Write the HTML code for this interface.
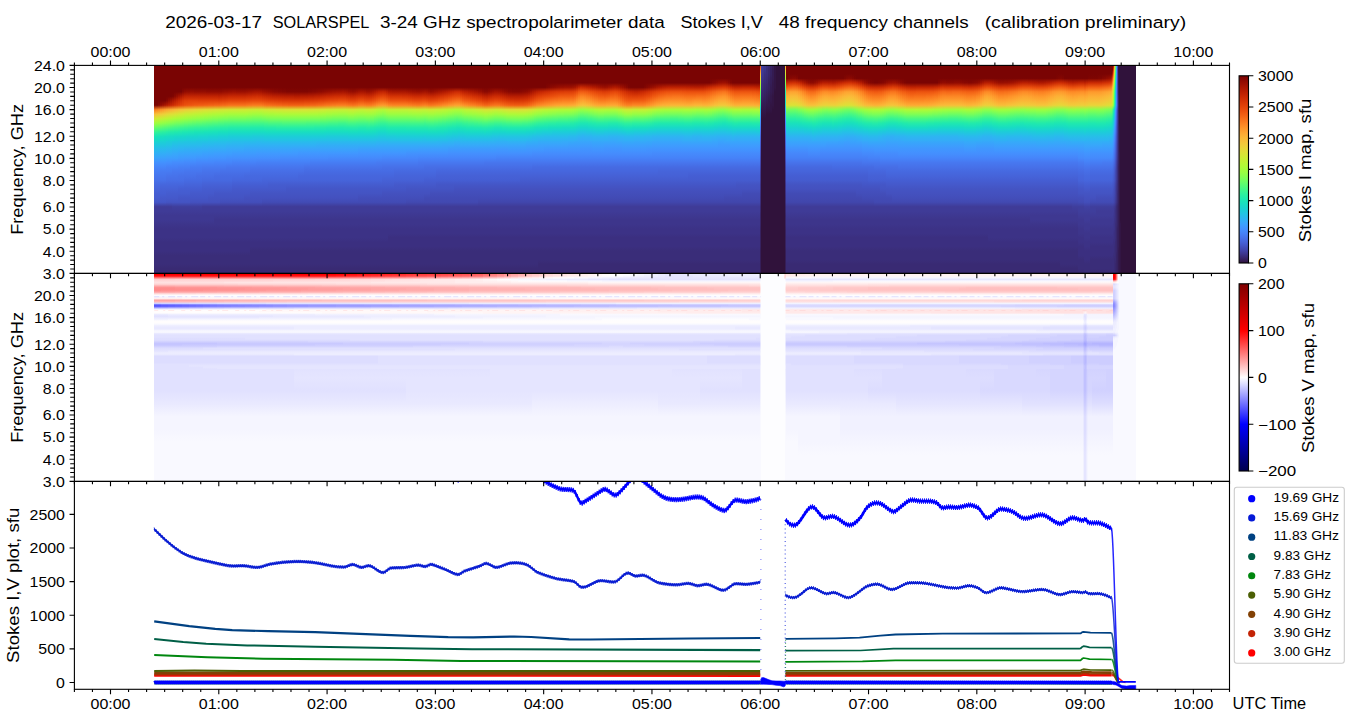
<!DOCTYPE html><html><head><meta charset="utf-8"><title>SOLARSPEL</title><style>html,body{margin:0;padding:0;background:#fff}#p{position:relative;width:1350px;height:725px;overflow:hidden;background:#fff}#p i{position:absolute}.a{top:65.4px;height:75.23px}.c{top:136.21px;height:137.19px}.b{top:273.4px;height:96px}.d{top:365.4px;height:116px}</style></head><body><div id="p"><i class="c" style="left:154px;width:6px;background:linear-gradient(#19e3b9,#18d7ca,#1fc9dd,#28bceb,#31aff5,#3aa3fc,#4391fe,#4685fa,#467df4,#4776ee,#4771e9,#4669e0,#4664da,#455ed3,#455ccf,#4456c7,#3f3b97,#3f3b97,#3e3891,#3e3891,#3d358b,#3c3286,#3c3286,#3c3286,#3b2f80,#3b2f80,#3b2f80,#3a2d79,#3a2d79,#3a2d79,#392a73,#392a73)"></i><i class="c" style="left:160px;width:6px;background:linear-gradient(#18e0bd,#1ad4d0,#20c7df,#2ab9ee,#33adf7,#3ba0fd,#4391fe,#4685fa,#477bf2,#4776ee,#4771e9,#4666dd,#4661d6,#455ed3,#4559cb,#4456c7,#3f3b97,#3f3b97,#3e3891,#3e3891,#3d358b,#3c3286,#3c3286,#3c3286,#3b2f80,#3b2f80,#3b2f80,#3a2d79,#3a2d79,#3a2d79,#392a73,#392a73)"></i><i class="c" style="left:166px;width:6px;background:linear-gradient(#18ddc2,#1bd0d5,#22c5e2,#2cb7f0,#35abf8,#3d9efe,#448ffe,#4682f8,#477bf2,#4773eb,#476ee6,#4666dd,#4661d6,#455ccf,#4559cb,#4454c3,#3f3b97,#3f3b97,#3e3891,#3e3891,#3d358b,#3c3286,#3c3286,#3c3286,#3b2f80,#3b2f80,#3b2f80,#3a2d79,#3a2d79,#3a2d79,#392a73,#392a73)"></i><i class="c" style="left:172px;width:6px;background:linear-gradient(#18d9c8,#1ccdd8,#25c0e7,#2eb4f2,#37a8fa,#3d9efe,#458cfd,#4682f8,#4778f0,#4773eb,#476ee6,#4666dd,#4661d6,#455ccf,#4559cb,#4454c3,#3f3e9c,#3f3b97,#3e3891,#3e3891,#3d358b,#3c3286,#3c3286,#3c3286,#3b2f80,#3b2f80,#3b2f80,#3a2d79,#3a2d79,#3a2d79,#392a73,#392a73)"></i><i class="c" style="left:178px;width:6px;background:linear-gradient(#18d7ca,#1ecbda,#27bee9,#2fb2f4,#38a5fb,#3e9bfe,#458cfd,#4680f6,#4778f0,#4771e9,#476ee6,#4666dd,#455ed3,#455ccf,#4456c7,#4454c3,#3f3e9c,#3f3b97,#3e3891,#3e3891,#3d358b,#3c3286,#3c3286,#3c3286,#3b2f80,#3b2f80,#3b2f80,#3a2d79,#3a2d79,#3a2d79,#392a73,#392a73)"></i><i class="c" style="left:184px;width:6px;background:linear-gradient(#18d7ca,#1fc9dd,#27bee9,#31aff5,#38a5fb,#4099ff,#458afc,#4680f6,#4776ee,#4771e9,#466be3,#4664da,#455ed3,#455ccf,#4456c7,#4454c3,#3f3e9c,#3f3b97,#3e3891,#3e3891,#3d358b,#3c3286,#3c3286,#3c3286,#3b2f80,#3b2f80,#3b2f80,#3a2d79,#3a2d79,#3a2d79,#392a73,#392a73)"></i><i class="c" style="left:190px;width:6px;background:linear-gradient(#19d5cd,#1fc9dd,#28bceb,#31aff5,#3aa3fc,#4099ff,#458afc,#467df4,#4776ee,#4771e9,#466be3,#4664da,#455ed3,#4559cb,#4456c7,#4451bf,#3f3e9c,#3f3b97,#3e3891,#3e3891,#3d358b,#3c3286,#3c3286,#3c3286,#3b2f80,#3b2f80,#3b2f80,#3a2d79,#3a2d79,#3a2d79,#392a73,#392a73)"></i><i class="c" style="left:196px;width:6px;background:linear-gradient(#1ad4d0,#20c7df,#28bceb,#33adf7,#3aa3fc,#4196ff,#4687fb,#467df4,#4776ee,#476ee6,#466be3,#4664da,#455ed3,#4559cb,#4456c7,#4451bf,#3f3e9c,#3f3b97,#3e3891,#3e3891,#3d358b,#3c3286,#3c3286,#3c3286,#3b2f80,#3b2f80,#3b2f80,#3a2d79,#3a2d79,#3a2d79,#392a73,#392a73)"></i><i class="c" style="left:202px;width:6px;background:linear-gradient(#1ad4d0,#20c7df,#2ab9ee,#33adf7,#3ba0fd,#4196ff,#4687fb,#477bf2,#4773eb,#476ee6,#4669e0,#4661d6,#455ccf,#4559cb,#4456c7,#4451bf,#3f3b97,#3f3b97,#3e3891,#3e3891,#3d358b,#3c3286,#3c3286,#3c3286,#3b2f80,#3b2f80,#3b2f80,#3a2d79,#3a2d79,#3a2d79,#392a73,#392a73)"></i><i class="c" style="left:208px;width:6px;background:linear-gradient(#1ad2d2,#22c5e2,#2ab9ee,#35abf8,#3ba0fd,#4294ff,#4687fb,#477bf2,#4773eb,#476ee6,#4669e0,#4661d6,#455ccf,#4559cb,#4454c3,#4451bf,#3f3b97,#3f3b97,#3e3891,#3e3891,#3d358b,#3c3286,#3c3286,#3c3286,#3b2f80,#3b2f80,#3b2f80,#3a2d79,#3a2d79,#3a2d79,#392a73,#392a73)"></i><i class="c" style="left:214px;width:6px;background:linear-gradient(#1ad2d2,#22c5e2,#2cb7f0,#35abf8,#3d9efe,#4294ff,#4685fa,#477bf2,#4773eb,#466be3,#4669e0,#4661d6,#455ccf,#4456c7,#4454c3,#4451bf,#3f3b97,#3f3b97,#3e3891,#3d358b,#3d358b,#3c3286,#3c3286,#3c3286,#3b2f80,#3b2f80,#3b2f80,#3a2d79,#3a2d79,#3a2d79,#392a73,#392a73)"></i><i class="c" style="left:220px;width:6px;background:linear-gradient(#1bd0d5,#23c3e4,#2cb7f0,#35abf8,#3d9efe,#4294ff,#4685fa,#477bf2,#4771e9,#466be3,#4669e0,#4661d6,#455ccf,#4456c7,#4454c3,#434eba,#3f3b97,#3f3b97,#3e3891,#3d358b,#3d358b,#3c3286,#3c3286,#3c3286,#3b2f80,#3b2f80,#3b2f80,#3a2d79,#3a2d79,#3a2d79,#392a73,#392a73)"></i><i class="c" style="left:226px;width:6px;background:linear-gradient(#1ccdd8,#23c3e4,#2eb4f2,#37a8fa,#3d9efe,#4391fe,#4685fa,#4778f0,#4771e9,#466be3,#4669e0,#4661d6,#455ccf,#4456c7,#4454c3,#434eba,#3f3b97,#3f3b97,#3e3891,#3d358b,#3d358b,#3c3286,#3c3286,#3c3286,#3b2f80,#3b2f80,#3b2f80,#3a2d79,#3a2d79,#3a2d79,#392a73,#392a73)"></i><i class="c" style="left:232px;width:6px;background:linear-gradient(#1ccdd8,#25c0e7,#2eb4f2,#37a8fa,#3e9bfe,#4391fe,#4682f8,#4778f0,#4771e9,#466be3,#4666dd,#455ed3,#4559cb,#4456c7,#4454c3,#434eba,#3f3b97,#3f3b97,#3e3891,#3d358b,#3d358b,#3c3286,#3c3286,#3c3286,#3b2f80,#3b2f80,#3b2f80,#3a2d79,#3a2d79,#3a2d79,#392a73,#392a73)"></i><i class="c" style="left:238px;width:6px;background:linear-gradient(#1ccdd8,#25c0e7,#2eb4f2,#37a8fa,#3e9bfe,#4391fe,#4682f8,#4778f0,#4771e9,#466be3,#4666dd,#455ed3,#4559cb,#4456c7,#4454c3,#434eba,#3f3b97,#3f3b97,#3e3891,#3d358b,#3d358b,#3c3286,#3c3286,#3c3286,#3b2f80,#3b2f80,#3b2f80,#3a2d79,#3a2d79,#3a2d79,#392a73,#392a73)"></i><i class="c" style="left:244px;width:6px;background:linear-gradient(#1ccdd8,#25c0e7,#2fb2f4,#38a5fb,#3e9bfe,#4391fe,#4682f8,#4778f0,#4771e9,#4669e0,#4666dd,#455ed3,#4559cb,#4456c7,#4451bf,#434eba,#3f3b97,#3f3b97,#3e3891,#3d358b,#3d358b,#3c3286,#3c3286,#3c3286,#3b2f80,#3b2f80,#3b2f80,#3a2d79,#3a2d79,#3a2d79,#392a73,#392a73)"></i><i class="c" style="left:250px;width:6px;background:linear-gradient(#1ecbda,#25c0e7,#2fb2f4,#38a5fb,#3e9bfe,#448ffe,#4682f8,#4776ee,#476ee6,#4669e0,#4666dd,#455ed3,#4559cb,#4454c3,#4451bf,#434eba,#3f3b97,#3f3b97,#3e3891,#3d358b,#3d358b,#3c3286,#3c3286,#3c3286,#3b2f80,#3b2f80,#3a2d79,#3a2d79,#3a2d79,#3a2d79,#392a73,#392a73)"></i><i class="c" style="left:256px;width:6px;background:linear-gradient(#1ecbda,#27bee9,#2fb2f4,#38a5fb,#4099ff,#448ffe,#4680f6,#4776ee,#476ee6,#4669e0,#4666dd,#455ed3,#4559cb,#4454c3,#4451bf,#434eba,#3f3b97,#3f3b97,#3e3891,#3d358b,#3d358b,#3c3286,#3c3286,#3c3286,#3b2f80,#3b2f80,#3a2d79,#3a2d79,#3a2d79,#3a2d79,#392a73,#392a73)"></i><i class="c" style="left:262px;width:6px;background:linear-gradient(#1ccdd8,#25c0e7,#2fb2f4,#38a5fb,#4099ff,#448ffe,#4680f6,#4776ee,#476ee6,#4669e0,#4664da,#455ed3,#4559cb,#4454c3,#4451bf,#424bb5,#3f3b97,#3f3b97,#3e3891,#3d358b,#3d358b,#3c3286,#3c3286,#3c3286,#3b2f80,#3b2f80,#3a2d79,#3a2d79,#3a2d79,#3a2d79,#392a73,#392a73)"></i><i class="c" style="left:268px;width:6px;background:linear-gradient(#1ccdd8,#25c0e7,#2fb2f4,#38a5fb,#4099ff,#448ffe,#4680f6,#4776ee,#476ee6,#4669e0,#4664da,#455ccf,#4559cb,#4454c3,#4451bf,#424bb5,#3f3b97,#3f3b97,#3e3891,#3d358b,#3d358b,#3c3286,#3c3286,#3c3286,#3b2f80,#3b2f80,#3a2d79,#3a2d79,#3a2d79,#3a2d79,#392a73,#392a73)"></i><i class="c" style="left:274px;width:6px;background:linear-gradient(#1ccdd8,#25c0e7,#2fb2f4,#38a5fb,#4099ff,#448ffe,#4680f6,#4776ee,#476ee6,#4669e0,#4664da,#455ccf,#4559cb,#4454c3,#4451bf,#424bb5,#3f3b97,#3f3b97,#3e3891,#3d358b,#3d358b,#3c3286,#3c3286,#3c3286,#3b2f80,#3b2f80,#3a2d79,#3a2d79,#3a2d79,#3a2d79,#392a73,#392a73)"></i><i class="c" style="left:280px;width:6px;background:linear-gradient(#1ccdd8,#25c0e7,#2fb2f4,#38a5fb,#4099ff,#458cfd,#4680f6,#4776ee,#476ee6,#4669e0,#4664da,#455ccf,#4559cb,#4454c3,#4451bf,#424bb5,#3f3b97,#3f3b97,#3e3891,#3d358b,#3d358b,#3c3286,#3c3286,#3c3286,#3b2f80,#3b2f80,#3a2d79,#3a2d79,#3a2d79,#3a2d79,#392a73,#392a73)"></i><i class="c" style="left:286px;width:6px;background:linear-gradient(#1ccdd8,#25c0e7,#2fb2f4,#38a5fb,#4099ff,#458cfd,#4680f6,#4776ee,#476ee6,#4669e0,#4664da,#455ccf,#4456c7,#4454c3,#4451bf,#424bb5,#3f3b97,#3f3b97,#3e3891,#3d358b,#3d358b,#3c3286,#3c3286,#3c3286,#3b2f80,#3b2f80,#3a2d79,#3a2d79,#3a2d79,#3a2d79,#392a73,#392a73)"></i><i class="c" style="left:292px;width:6px;background:linear-gradient(#1ccdd8,#25c0e7,#2fb2f4,#3aa3fc,#4099ff,#458cfd,#4680f6,#4776ee,#476ee6,#4669e0,#4664da,#455ccf,#4456c7,#4454c3,#4451bf,#424bb5,#3f3b97,#3f3b97,#3e3891,#3d358b,#3d358b,#3c3286,#3c3286,#3c3286,#3b2f80,#3b2f80,#3a2d79,#3a2d79,#3a2d79,#3a2d79,#392a73,#392a73)"></i><i class="c" style="left:298px;width:6px;background:linear-gradient(#1ccdd8,#25c0e7,#2fb2f4,#3aa3fc,#4196ff,#458cfd,#4680f6,#4776ee,#476ee6,#4666dd,#4664da,#455ccf,#4456c7,#4454c3,#4451bf,#424bb5,#3f3b97,#3f3b97,#3e3891,#3d358b,#3d358b,#3c3286,#3c3286,#3c3286,#3b2f80,#3b2f80,#3a2d79,#3a2d79,#3a2d79,#3a2d79,#392a73,#392a73)"></i><i class="c" style="left:304px;width:6px;background:linear-gradient(#1ccdd8,#25c0e7,#2fb2f4,#3aa3fc,#4196ff,#458cfd,#4680f6,#4773eb,#466be3,#4666dd,#4664da,#455ccf,#4456c7,#4454c3,#4451bf,#424bb5,#3f3b97,#3f3b97,#3e3891,#3d358b,#3d358b,#3c3286,#3c3286,#3c3286,#3b2f80,#3b2f80,#3a2d79,#3a2d79,#3a2d79,#3a2d79,#392a73,#392a73)"></i><i class="c" style="left:310px;width:6px;background:linear-gradient(#1ccdd8,#27bee9,#2fb2f4,#3aa3fc,#4196ff,#458cfd,#467df4,#4773eb,#466be3,#4666dd,#4664da,#455ccf,#4456c7,#4454c3,#4451bf,#424bb5,#3f3b97,#3f3b97,#3e3891,#3d358b,#3d358b,#3c3286,#3c3286,#3c3286,#3b2f80,#3b2f80,#3a2d79,#3a2d79,#3a2d79,#3a2d79,#392a73,#392a73)"></i><i class="c" style="left:316px;width:6px;background:linear-gradient(#1ccdd8,#27bee9,#31aff5,#3aa3fc,#4196ff,#458cfd,#467df4,#4773eb,#466be3,#4666dd,#4664da,#455ccf,#4456c7,#4454c3,#4451bf,#424bb5,#3f3b97,#3f3b97,#3e3891,#3d358b,#3d358b,#3c3286,#3c3286,#3c3286,#3b2f80,#3b2f80,#3a2d79,#3a2d79,#3a2d79,#3a2d79,#392a73,#392a73)"></i><i class="c" style="left:322px;width:6px;background:linear-gradient(#1ccdd8,#27bee9,#31aff5,#3aa3fc,#4196ff,#458cfd,#467df4,#4773eb,#466be3,#4666dd,#4664da,#455ccf,#4456c7,#4454c3,#4451bf,#424bb5,#3f3b97,#3f3b97,#3e3891,#3d358b,#3d358b,#3c3286,#3c3286,#3c3286,#3b2f80,#3b2f80,#3a2d79,#3a2d79,#3a2d79,#3a2d79,#392a73,#392a73)"></i><i class="c" style="left:328px;width:6px;background:linear-gradient(#1ecbda,#27bee9,#31aff5,#3aa3fc,#4196ff,#458afc,#467df4,#4773eb,#466be3,#4666dd,#4664da,#455ccf,#4456c7,#4454c3,#4451bf,#424bb5,#3f3b97,#3f3b97,#3e3891,#3d358b,#3d358b,#3c3286,#3c3286,#3c3286,#3b2f80,#3b2f80,#3a2d79,#3a2d79,#3a2d79,#3a2d79,#392a73,#392a73)"></i><i class="c" style="left:334px;width:6px;background:linear-gradient(#1ecbda,#27bee9,#31aff5,#3aa3fc,#4196ff,#458afc,#467df4,#4773eb,#466be3,#4666dd,#4664da,#455ccf,#4456c7,#4454c3,#4451bf,#424bb5,#3f3b97,#3f3b97,#3e3891,#3d358b,#3d358b,#3c3286,#3c3286,#3c3286,#3b2f80,#3b2f80,#3a2d79,#3a2d79,#3a2d79,#3a2d79,#392a73,#392a73)"></i><i class="c" style="left:340px;width:6px;background:linear-gradient(#1ecbda,#27bee9,#31aff5,#3aa3fc,#4196ff,#458afc,#467df4,#4773eb,#466be3,#4666dd,#4664da,#455ccf,#4456c7,#4454c3,#4451bf,#424bb5,#3f3b97,#3f3b97,#3e3891,#3d358b,#3d358b,#3c3286,#3c3286,#3c3286,#3b2f80,#3b2f80,#3a2d79,#3a2d79,#3a2d79,#3a2d79,#392a73,#392a73)"></i><i class="c" style="left:346px;width:6px;background:linear-gradient(#1ccdd8,#27bee9,#31aff5,#3aa3fc,#4196ff,#458afc,#467df4,#4773eb,#466be3,#4666dd,#4664da,#455ccf,#4456c7,#4454c3,#4451bf,#424bb5,#3f3b97,#3f3b97,#3e3891,#3d358b,#3d358b,#3c3286,#3c3286,#3c3286,#3b2f80,#3b2f80,#3a2d79,#3a2d79,#3a2d79,#3a2d79,#392a73,#392a73)"></i><i class="c" style="left:352px;width:6px;background:linear-gradient(#1ccdd8,#27bee9,#31aff5,#3aa3fc,#4196ff,#458afc,#467df4,#4773eb,#466be3,#4666dd,#4664da,#455ccf,#4456c7,#4454c3,#4451bf,#424bb5,#3f3b97,#3f3b97,#3e3891,#3d358b,#3d358b,#3c3286,#3c3286,#3c3286,#3b2f80,#3b2f80,#3a2d79,#3a2d79,#3a2d79,#3a2d79,#392a73,#392a73)"></i><i class="c" style="left:358px;width:6px;background:linear-gradient(#1ccdd8,#27bee9,#31aff5,#3ba0fd,#4294ff,#458afc,#467df4,#4773eb,#466be3,#4666dd,#4664da,#455ccf,#4456c7,#4454c3,#434eba,#424bb5,#3f3b97,#3f3b97,#3e3891,#3d358b,#3d358b,#3c3286,#3c3286,#3c3286,#3b2f80,#3b2f80,#3a2d79,#3a2d79,#3a2d79,#3a2d79,#392a73,#392a73)"></i><i class="c" style="left:364px;width:6px;background:linear-gradient(#1ccdd8,#27bee9,#31aff5,#3ba0fd,#4294ff,#458afc,#467df4,#4773eb,#466be3,#4666dd,#4664da,#455ccf,#4456c7,#4454c3,#434eba,#424bb5,#3f3b97,#3f3b97,#3e3891,#3d358b,#3d358b,#3c3286,#3c3286,#3c3286,#3b2f80,#3b2f80,#3a2d79,#3a2d79,#3a2d79,#3a2d79,#392a73,#392a73)"></i><i class="c" style="left:370px;width:6px;background:linear-gradient(#1ccdd8,#27bee9,#31aff5,#3ba0fd,#4294ff,#458afc,#467df4,#4773eb,#466be3,#4666dd,#4664da,#455ccf,#4456c7,#4454c3,#434eba,#424bb5,#3f3b97,#3f3b97,#3e3891,#3d358b,#3d358b,#3c3286,#3c3286,#3c3286,#3b2f80,#3b2f80,#3a2d79,#3a2d79,#3a2d79,#3a2d79,#392a73,#392a73)"></i><i class="c" style="left:376px;width:6px;background:linear-gradient(#1fc9dd,#28bceb,#33adf7,#3ba0fd,#4294ff,#458afc,#477bf2,#4773eb,#466be3,#4666dd,#4664da,#455ccf,#4456c7,#4454c3,#434eba,#424bb5,#3f3b97,#3f3b97,#3e3891,#3d358b,#3d358b,#3c3286,#3c3286,#3c3286,#3b2f80,#3b2f80,#3a2d79,#3a2d79,#3a2d79,#3a2d79,#392a73,#392a73)"></i><i class="c" style="left:382px;width:6px;background:linear-gradient(#1fc9dd,#28bceb,#33adf7,#3ba0fd,#4294ff,#4687fb,#477bf2,#4771e9,#466be3,#4666dd,#4661d6,#455ccf,#4456c7,#4451bf,#434eba,#424bb5,#3f3b97,#3f3b97,#3e3891,#3d358b,#3d358b,#3c3286,#3c3286,#3c3286,#3b2f80,#3b2f80,#3a2d79,#3a2d79,#3a2d79,#3a2d79,#392a73,#392a73)"></i><i class="c" style="left:388px;width:6px;background:linear-gradient(#1ecbda,#27bee9,#33adf7,#3ba0fd,#4294ff,#4687fb,#477bf2,#4771e9,#466be3,#4666dd,#4661d6,#455ccf,#4456c7,#4451bf,#434eba,#424bb5,#3f3b97,#3f3b97,#3e3891,#3d358b,#3d358b,#3c3286,#3c3286,#3b2f80,#3b2f80,#3b2f80,#3a2d79,#3a2d79,#3a2d79,#3a2d79,#392a73,#392a73)"></i><i class="c" style="left:394px;width:6px;background:linear-gradient(#1ecbda,#27bee9,#33adf7,#3ba0fd,#4294ff,#4687fb,#477bf2,#4771e9,#4669e0,#4664da,#4661d6,#4559cb,#4456c7,#4451bf,#434eba,#424bb5,#3f3b97,#3f3b97,#3e3891,#3d358b,#3d358b,#3c3286,#3c3286,#3b2f80,#3b2f80,#3b2f80,#3a2d79,#3a2d79,#3a2d79,#3a2d79,#392a73,#392a73)"></i><i class="c" style="left:400px;width:6px;background:linear-gradient(#1ecbda,#27bee9,#33adf7,#3ba0fd,#4294ff,#4687fb,#477bf2,#4771e9,#4669e0,#4664da,#4661d6,#4559cb,#4456c7,#4451bf,#434eba,#424bb5,#3f3b97,#3f3b97,#3e3891,#3d358b,#3d358b,#3c3286,#3c3286,#3b2f80,#3b2f80,#3b2f80,#3a2d79,#3a2d79,#3a2d79,#3a2d79,#392a73,#392a73)"></i><i class="c" style="left:406px;width:6px;background:linear-gradient(#1ccdd8,#27bee9,#33adf7,#3ba0fd,#4391fe,#4687fb,#477bf2,#4771e9,#4669e0,#4664da,#4661d6,#4559cb,#4454c3,#4451bf,#434eba,#4249b1,#3f3b97,#3f3b97,#3e3891,#3d358b,#3d358b,#3c3286,#3c3286,#3b2f80,#3b2f80,#3b2f80,#3a2d79,#3a2d79,#3a2d79,#3a2d79,#392a73,#392a73)"></i><i class="c" style="left:412px;width:6px;background:linear-gradient(#1ccdd8,#27bee9,#33adf7,#3ba0fd,#4391fe,#4687fb,#477bf2,#4771e9,#4669e0,#4664da,#4661d6,#4559cb,#4454c3,#4451bf,#434eba,#4249b1,#3f3b97,#3f3b97,#3e3891,#3d358b,#3d358b,#3c3286,#3c3286,#3b2f80,#3b2f80,#3b2f80,#3a2d79,#3a2d79,#3a2d79,#3a2d79,#392a73,#392a73)"></i><i class="c" style="left:418px;width:6px;background:linear-gradient(#1ccdd8,#27bee9,#33adf7,#3d9efe,#4391fe,#4685fa,#4778f0,#4771e9,#4669e0,#4664da,#4661d6,#4559cb,#4454c3,#4451bf,#434eba,#4249b1,#3f3b97,#3f3b97,#3e3891,#3d358b,#3d358b,#3c3286,#3c3286,#3b2f80,#3b2f80,#3b2f80,#3a2d79,#3a2d79,#3a2d79,#3a2d79,#392a73,#392a73)"></i><i class="c" style="left:424px;width:6px;background:linear-gradient(#1ccdd8,#27bee9,#33adf7,#3d9efe,#4391fe,#4685fa,#4778f0,#476ee6,#4669e0,#4664da,#455ed3,#4559cb,#4454c3,#4451bf,#424bb5,#4249b1,#3f3b97,#3f3b97,#3e3891,#3d358b,#3d358b,#3c3286,#3c3286,#3b2f80,#3b2f80,#3b2f80,#3a2d79,#3a2d79,#3a2d79,#3a2d79,#392a73,#392a73)"></i><i class="c" style="left:430px;width:6px;background:linear-gradient(#1ccdd8,#27bee9,#33adf7,#3d9efe,#4391fe,#4685fa,#4778f0,#476ee6,#4669e0,#4664da,#455ed3,#4559cb,#4454c3,#434eba,#424bb5,#4249b1,#3f3b97,#3f3b97,#3e3891,#3d358b,#3d358b,#3c3286,#3c3286,#3b2f80,#3b2f80,#3b2f80,#3a2d79,#3a2d79,#3a2d79,#3a2d79,#392a73,#392a73)"></i><i class="c" style="left:436px;width:6px;background:linear-gradient(#1ccdd8,#28bceb,#33adf7,#3d9efe,#4391fe,#4685fa,#4778f0,#476ee6,#4666dd,#4661d6,#455ed3,#4456c7,#4454c3,#434eba,#424bb5,#4249b1,#3f3b97,#3f3b97,#3e3891,#3d358b,#3d358b,#3c3286,#3c3286,#3b2f80,#3b2f80,#3b2f80,#3a2d79,#3a2d79,#3a2d79,#3a2d79,#392a73,#392a73)"></i><i class="c" style="left:442px;width:6px;background:linear-gradient(#1ecbda,#28bceb,#35abf8,#3d9efe,#4391fe,#4685fa,#4778f0,#476ee6,#4666dd,#4661d6,#455ed3,#4456c7,#4454c3,#434eba,#424bb5,#4249b1,#3f3b97,#3f3b97,#3e3891,#3d358b,#3d358b,#3c3286,#3c3286,#3b2f80,#3b2f80,#3b2f80,#3a2d79,#3a2d79,#3a2d79,#3a2d79,#392a73,#392a73)"></i><i class="c" style="left:448px;width:6px;background:linear-gradient(#1fc9dd,#2ab9ee,#35abf8,#3e9bfe,#448ffe,#4685fa,#4778f0,#476ee6,#4666dd,#4661d6,#455ed3,#4456c7,#4454c3,#434eba,#424bb5,#4249b1,#3f3b97,#3f3b97,#3e3891,#3d358b,#3d358b,#3c3286,#3c3286,#3b2f80,#3b2f80,#3b2f80,#3a2d79,#3a2d79,#3a2d79,#3a2d79,#392a73,#392a73)"></i><i class="c" style="left:454px;width:6px;background:linear-gradient(#20c7df,#2cb7f0,#37a8fa,#3e9bfe,#448ffe,#4685fa,#4778f0,#476ee6,#4666dd,#4661d6,#455ed3,#4456c7,#4451bf,#434eba,#424bb5,#4249b1,#3f3b97,#3f3b97,#3e3891,#3d358b,#3d358b,#3c3286,#3c3286,#3b2f80,#3b2f80,#3b2f80,#3a2d79,#3a2d79,#3a2d79,#3a2d79,#392a73,#392a73)"></i><i class="c" style="left:460px;width:6px;background:linear-gradient(#20c7df,#2ab9ee,#35abf8,#3e9bfe,#448ffe,#4685fa,#4778f0,#476ee6,#4666dd,#4661d6,#455ed3,#4456c7,#4451bf,#434eba,#424bb5,#4249b1,#3f3b97,#3f3b97,#3e3891,#3d358b,#3d358b,#3c3286,#3c3286,#3b2f80,#3b2f80,#3b2f80,#3a2d79,#3a2d79,#3a2d79,#3a2d79,#392a73,#392a73)"></i><i class="c" style="left:466px;width:6px;background:linear-gradient(#1fc9dd,#2ab9ee,#35abf8,#3e9bfe,#448ffe,#4685fa,#4778f0,#476ee6,#4666dd,#4661d6,#455ed3,#4456c7,#4451bf,#434eba,#424bb5,#4249b1,#3f3b97,#3f3b97,#3e3891,#3d358b,#3d358b,#3c3286,#3c3286,#3b2f80,#3b2f80,#3b2f80,#3a2d79,#3a2d79,#3a2d79,#3a2d79,#392a73,#392a73)"></i><i class="c" style="left:472px;width:6px;background:linear-gradient(#1fc9dd,#2ab9ee,#35abf8,#3e9bfe,#448ffe,#4685fa,#4778f0,#476ee6,#4666dd,#4661d6,#455ed3,#4456c7,#4451bf,#434eba,#424bb5,#4249b1,#3f3b97,#3f3b97,#3e3891,#3d358b,#3d358b,#3c3286,#3c3286,#3b2f80,#3b2f80,#3b2f80,#3a2d79,#3a2d79,#3a2d79,#3a2d79,#392a73,#392a73)"></i><i class="c" style="left:478px;width:6px;background:linear-gradient(#1fc9dd,#2ab9ee,#35abf8,#3e9bfe,#448ffe,#4685fa,#4778f0,#476ee6,#4666dd,#4661d6,#455ed3,#4456c7,#4451bf,#434eba,#424bb5,#4146ac,#3f3b97,#3f3b97,#3e3891,#3d358b,#3d358b,#3c3286,#3c3286,#3b2f80,#3b2f80,#3b2f80,#3a2d79,#3a2d79,#3a2d79,#3a2d79,#392a73,#392a73)"></i><i class="c" style="left:484px;width:6px;background:linear-gradient(#1fc9dd,#2ab9ee,#35abf8,#3e9bfe,#448ffe,#4685fa,#4776ee,#476ee6,#4666dd,#4661d6,#455ed3,#4456c7,#4451bf,#434eba,#424bb5,#4146ac,#3f3b97,#3f3b97,#3e3891,#3d358b,#3d358b,#3c3286,#3c3286,#3b2f80,#3b2f80,#3b2f80,#3a2d79,#3a2d79,#3a2d79,#3a2d79,#392a73,#392a73)"></i><i class="c" style="left:490px;width:6px;background:linear-gradient(#22c5e2,#2cb7f0,#37a8fa,#3e9bfe,#448ffe,#4685fa,#4776ee,#476ee6,#4666dd,#4661d6,#455ed3,#4456c7,#4451bf,#434eba,#424bb5,#4146ac,#3f3b97,#3f3b97,#3e3891,#3d358b,#3d358b,#3c3286,#3c3286,#3b2f80,#3b2f80,#3b2f80,#3a2d79,#3a2d79,#3a2d79,#3a2d79,#392a73,#392a73)"></i><i class="c" style="left:496px;width:6px;background:linear-gradient(#22c5e2,#2eb4f2,#37a8fa,#4099ff,#448ffe,#4682f8,#4776ee,#476ee6,#4666dd,#4661d6,#455ed3,#4456c7,#4451bf,#434eba,#424bb5,#4146ac,#3f3b97,#3f3b97,#3e3891,#3d358b,#3d358b,#3c3286,#3c3286,#3b2f80,#3b2f80,#3b2f80,#3a2d79,#3a2d79,#3a2d79,#3a2d79,#392a73,#392a73)"></i><i class="c" style="left:502px;width:6px;background:linear-gradient(#22c5e2,#2eb4f2,#37a8fa,#4099ff,#448ffe,#4682f8,#4776ee,#476ee6,#4666dd,#4661d6,#455ed3,#4456c7,#4451bf,#434eba,#424bb5,#4146ac,#3f3b97,#3f3b97,#3e3891,#3d358b,#3d358b,#3c3286,#3c3286,#3b2f80,#3b2f80,#3b2f80,#3a2d79,#3a2d79,#3a2d79,#3a2d79,#392a73,#392a73)"></i><i class="c" style="left:508px;width:6px;background:linear-gradient(#22c5e2,#2cb7f0,#37a8fa,#3e9bfe,#448ffe,#4682f8,#4776ee,#476ee6,#4666dd,#4661d6,#455ed3,#4456c7,#4451bf,#434eba,#424bb5,#4146ac,#3f3b97,#3f3b97,#3e3891,#3d358b,#3d358b,#3c3286,#3c3286,#3b2f80,#3b2f80,#3b2f80,#3a2d79,#3a2d79,#3a2d79,#3a2d79,#392a73,#392a73)"></i><i class="c" style="left:514px;width:6px;background:linear-gradient(#22c5e2,#2cb7f0,#37a8fa,#3e9bfe,#448ffe,#4682f8,#4776ee,#476ee6,#4666dd,#4661d6,#455ed3,#4456c7,#4451bf,#434eba,#424bb5,#4146ac,#3f3b97,#3f3b97,#3e3891,#3d358b,#3d358b,#3c3286,#3c3286,#3b2f80,#3b2f80,#3b2f80,#3a2d79,#3a2d79,#3a2d79,#3a2d79,#392a73,#392a73)"></i><i class="c" style="left:520px;width:6px;background:linear-gradient(#22c5e2,#2cb7f0,#37a8fa,#3e9bfe,#448ffe,#4682f8,#4776ee,#476ee6,#4666dd,#4661d6,#455ccf,#4456c7,#4451bf,#434eba,#424bb5,#4146ac,#3f3b97,#3f3b97,#3e3891,#3d358b,#3d358b,#3c3286,#3c3286,#3b2f80,#3b2f80,#3b2f80,#3a2d79,#3a2d79,#3a2d79,#3a2d79,#392a73,#392a73)"></i><i class="c" style="left:526px;width:6px;background:linear-gradient(#23c3e4,#2eb4f2,#38a5fb,#4099ff,#448ffe,#4682f8,#4776ee,#476ee6,#4666dd,#4661d6,#455ccf,#4456c7,#4451bf,#434eba,#424bb5,#4146ac,#3f3b97,#3f3b97,#3e3891,#3d358b,#3d358b,#3c3286,#3c3286,#3b2f80,#3b2f80,#3b2f80,#3a2d79,#3a2d79,#3a2d79,#3a2d79,#392a73,#392a73)"></i><i class="c" style="left:532px;width:6px;background:linear-gradient(#25c0e7,#2fb2f4,#38a5fb,#4099ff,#458cfd,#4682f8,#4776ee,#466be3,#4666dd,#4661d6,#455ccf,#4456c7,#4451bf,#434eba,#424bb5,#4146ac,#3f3b97,#3f3b97,#3e3891,#3d358b,#3d358b,#3c3286,#3c3286,#3b2f80,#3b2f80,#3b2f80,#3a2d79,#3a2d79,#3a2d79,#3a2d79,#392a73,#392a73)"></i><i class="c" style="left:538px;width:6px;background:linear-gradient(#27bee9,#31aff5,#3aa3fc,#4099ff,#458cfd,#4682f8,#4776ee,#466be3,#4666dd,#4661d6,#455ccf,#4456c7,#4451bf,#434eba,#424bb5,#4146ac,#3f3b97,#3f3b97,#3e3891,#3d358b,#3d358b,#3c3286,#3c3286,#3b2f80,#3b2f80,#3b2f80,#3a2d79,#3a2d79,#3a2d79,#392a73,#392a73,#392a73)"></i><i class="c" style="left:544px;width:6px;background:linear-gradient(#28bceb,#31aff5,#3aa3fc,#4196ff,#458cfd,#4682f8,#4776ee,#466be3,#4666dd,#4661d6,#455ccf,#4456c7,#4451bf,#434eba,#424bb5,#4146ac,#3f3b97,#3f3b97,#3e3891,#3d358b,#3d358b,#3c3286,#3c3286,#3b2f80,#3b2f80,#3b2f80,#3a2d79,#3a2d79,#3a2d79,#392a73,#392a73,#392a73)"></i><i class="c" style="left:550px;width:6px;background:linear-gradient(#28bceb,#31aff5,#3aa3fc,#4196ff,#458cfd,#4682f8,#4776ee,#466be3,#4666dd,#4661d6,#455ccf,#4456c7,#4451bf,#434eba,#424bb5,#4146ac,#3f3b97,#3f3b97,#3e3891,#3d358b,#3d358b,#3c3286,#3c3286,#3b2f80,#3b2f80,#3b2f80,#3a2d79,#3a2d79,#3a2d79,#392a73,#392a73,#392a73)"></i><i class="c" style="left:556px;width:6px;background:linear-gradient(#28bceb,#31aff5,#3aa3fc,#4196ff,#458cfd,#4682f8,#4776ee,#466be3,#4666dd,#4661d6,#455ccf,#4456c7,#4451bf,#434eba,#424bb5,#4146ac,#3f3b97,#3f3b97,#3e3891,#3d358b,#3d358b,#3c3286,#3c3286,#3b2f80,#3b2f80,#3b2f80,#3a2d79,#3a2d79,#3a2d79,#392a73,#392a73,#392a73)"></i><i class="c" style="left:562px;width:6px;background:linear-gradient(#28bceb,#33adf7,#3aa3fc,#4196ff,#458cfd,#4682f8,#4776ee,#466be3,#4666dd,#4661d6,#455ccf,#4456c7,#4451bf,#434eba,#424bb5,#4146ac,#3f3b97,#3f3b97,#3e3891,#3d358b,#3d358b,#3c3286,#3c3286,#3b2f80,#3b2f80,#3b2f80,#3a2d79,#3a2d79,#3a2d79,#392a73,#392a73,#392a73)"></i><i class="c" style="left:568px;width:6px;background:linear-gradient(#2ab9ee,#33adf7,#3ba0fd,#4196ff,#458cfd,#4682f8,#4776ee,#466be3,#4666dd,#4661d6,#455ccf,#4456c7,#4451bf,#434eba,#424bb5,#4146ac,#3f3b97,#3f3b97,#3e3891,#3d358b,#3d358b,#3c3286,#3c3286,#3b2f80,#3b2f80,#3b2f80,#3a2d79,#3a2d79,#3a2d79,#392a73,#392a73,#392a73)"></i><i class="c" style="left:574px;width:6px;background:linear-gradient(#2cb7f0,#35abf8,#3ba0fd,#4196ff,#458cfd,#4682f8,#4776ee,#466be3,#4666dd,#4661d6,#455ccf,#4456c7,#4451bf,#434eba,#424bb5,#4146ac,#3f3b97,#3f3b97,#3e3891,#3d358b,#3d358b,#3c3286,#3c3286,#3b2f80,#3b2f80,#3b2f80,#3a2d79,#3a2d79,#3a2d79,#392a73,#392a73,#392a73)"></i><i class="c" style="left:580px;width:6px;background:linear-gradient(#2eb4f2,#37a8fa,#3d9efe,#4294ff,#458cfd,#4682f8,#4776ee,#466be3,#4666dd,#4661d6,#455ccf,#4456c7,#4451bf,#434eba,#424bb5,#4146ac,#3f3b97,#3f3b97,#3e3891,#3d358b,#3d358b,#3c3286,#3c3286,#3b2f80,#3b2f80,#3b2f80,#3a2d79,#3a2d79,#3a2d79,#392a73,#392a73,#392a73)"></i><i class="c" style="left:586px;width:6px;background:linear-gradient(#2eb4f2,#37a8fa,#3d9efe,#4294ff,#458cfd,#4682f8,#4776ee,#466be3,#4666dd,#4661d6,#455ccf,#4456c7,#4451bf,#434eba,#424bb5,#4146ac,#3f3b97,#3f3b97,#3e3891,#3d358b,#3d358b,#3c3286,#3c3286,#3b2f80,#3b2f80,#3b2f80,#3a2d79,#3a2d79,#3a2d79,#392a73,#392a73,#392a73)"></i><i class="c" style="left:592px;width:6px;background:linear-gradient(#2cb7f0,#35abf8,#3ba0fd,#4196ff,#458cfd,#4682f8,#4776ee,#466be3,#4666dd,#4661d6,#455ccf,#4456c7,#4451bf,#434eba,#424bb5,#4146ac,#3f3b97,#3f3b97,#3e3891,#3d358b,#3d358b,#3c3286,#3c3286,#3b2f80,#3b2f80,#3b2f80,#3a2d79,#3a2d79,#3a2d79,#392a73,#392a73,#392a73)"></i><i class="c" style="left:598px;width:6px;background:linear-gradient(#2cb7f0,#35abf8,#3ba0fd,#4196ff,#458cfd,#4682f8,#4776ee,#466be3,#4666dd,#4661d6,#455ccf,#4456c7,#4451bf,#434eba,#424bb5,#4146ac,#3f3b97,#3f3b97,#3e3891,#3d358b,#3d358b,#3c3286,#3c3286,#3b2f80,#3b2f80,#3b2f80,#3a2d79,#3a2d79,#3a2d79,#392a73,#392a73,#392a73)"></i><i class="c" style="left:604px;width:6px;background:linear-gradient(#2cb7f0,#35abf8,#3d9efe,#4294ff,#458cfd,#4682f8,#4776ee,#466be3,#4666dd,#4661d6,#455ccf,#4456c7,#4451bf,#434eba,#424bb5,#4146ac,#3f3b97,#3f3b97,#3e3891,#3d358b,#3d358b,#3c3286,#3c3286,#3b2f80,#3b2f80,#3b2f80,#3a2d79,#3a2d79,#3a2d79,#392a73,#392a73,#392a73)"></i><i class="c" style="left:610px;width:6px;background:linear-gradient(#2eb4f2,#37a8fa,#3d9efe,#4294ff,#458cfd,#4682f8,#4776ee,#466be3,#4666dd,#4661d6,#455ccf,#4456c7,#4451bf,#434eba,#424bb5,#4146ac,#3f3b97,#3f3b97,#3e3891,#3d358b,#3d358b,#3c3286,#3c3286,#3b2f80,#3b2f80,#3b2f80,#3a2d79,#3a2d79,#3a2d79,#392a73,#392a73,#392a73)"></i><i class="c" style="left:616px;width:6px;background:linear-gradient(#2eb4f2,#35abf8,#3d9efe,#4294ff,#458cfd,#4682f8,#4776ee,#466be3,#4666dd,#4661d6,#455ccf,#4456c7,#4451bf,#434eba,#424bb5,#4146ac,#3f3b97,#3f3b97,#3e3891,#3d358b,#3d358b,#3c3286,#3c3286,#3b2f80,#3b2f80,#3b2f80,#3a2d79,#3a2d79,#3a2d79,#392a73,#392a73,#392a73)"></i><i class="c" style="left:622px;width:6px;background:linear-gradient(#2ab9ee,#33adf7,#3ba0fd,#4196ff,#458cfd,#4682f8,#4776ee,#466be3,#4666dd,#4661d6,#455ccf,#4456c7,#4451bf,#434eba,#424bb5,#4146ac,#3f3b97,#3f3b97,#3e3891,#3d358b,#3d358b,#3c3286,#3c3286,#3b2f80,#3b2f80,#3b2f80,#3a2d79,#3a2d79,#3a2d79,#392a73,#392a73,#392a73)"></i><i class="c" style="left:628px;width:6px;background:linear-gradient(#2ab9ee,#33adf7,#3ba0fd,#4196ff,#458cfd,#4682f8,#4776ee,#466be3,#4666dd,#4661d6,#455ccf,#4456c7,#4451bf,#434eba,#424bb5,#4146ac,#3f3b97,#3f3b97,#3e3891,#3d358b,#3d358b,#3c3286,#3c3286,#3b2f80,#3b2f80,#3b2f80,#3a2d79,#3a2d79,#3a2d79,#392a73,#392a73,#392a73)"></i><i class="c" style="left:634px;width:6px;background:linear-gradient(#2cb7f0,#35abf8,#3ba0fd,#4196ff,#458cfd,#4682f8,#4776ee,#466be3,#4666dd,#4661d6,#455ccf,#4456c7,#4451bf,#434eba,#424bb5,#4146ac,#3f3b97,#3f3b97,#3e3891,#3d358b,#3d358b,#3c3286,#3c3286,#3b2f80,#3b2f80,#3b2f80,#3a2d79,#3a2d79,#3a2d79,#392a73,#392a73,#392a73)"></i><i class="c" style="left:640px;width:6px;background:linear-gradient(#2ab9ee,#33adf7,#3ba0fd,#4196ff,#458cfd,#4682f8,#4776ee,#466be3,#4666dd,#4661d6,#455ccf,#4456c7,#4451bf,#434eba,#424bb5,#4146ac,#3f3b97,#3f3b97,#3e3891,#3d358b,#3d358b,#3c3286,#3c3286,#3b2f80,#3b2f80,#3b2f80,#3a2d79,#3a2d79,#3a2d79,#392a73,#392a73,#392a73)"></i><i class="c" style="left:646px;width:6px;background:linear-gradient(#2cb7f0,#35abf8,#3ba0fd,#4294ff,#458cfd,#4682f8,#4776ee,#466be3,#4666dd,#4661d6,#455ccf,#4456c7,#4451bf,#434eba,#424bb5,#4146ac,#3f3b97,#3f3b97,#3e3891,#3d358b,#3d358b,#3c3286,#3c3286,#3b2f80,#3b2f80,#3b2f80,#3a2d79,#3a2d79,#3a2d79,#392a73,#392a73,#392a73)"></i><i class="c" style="left:652px;width:6px;background:linear-gradient(#2eb4f2,#37a8fa,#3d9efe,#4294ff,#458afc,#4682f8,#4776ee,#466be3,#4666dd,#4661d6,#455ccf,#4456c7,#4451bf,#434eba,#424bb5,#4146ac,#3f3b97,#3f3b97,#3e3891,#3d358b,#3d358b,#3c3286,#3c3286,#3b2f80,#3b2f80,#3b2f80,#3a2d79,#3a2d79,#3a2d79,#392a73,#392a73,#392a73)"></i><i class="c" style="left:658px;width:6px;background:linear-gradient(#2eb4f2,#37a8fa,#3d9efe,#4294ff,#458afc,#4682f8,#4776ee,#466be3,#4664da,#4661d6,#455ccf,#4456c7,#4451bf,#434eba,#424bb5,#4146ac,#3f3b97,#3f3b97,#3e3891,#3d358b,#3d358b,#3c3286,#3c3286,#3b2f80,#3b2f80,#3b2f80,#3a2d79,#3a2d79,#3a2d79,#392a73,#392a73,#392a73)"></i><i class="c" style="left:664px;width:6px;background:linear-gradient(#2eb4f2,#37a8fa,#3d9efe,#4294ff,#458afc,#4682f8,#4776ee,#466be3,#4664da,#4661d6,#455ccf,#4456c7,#4451bf,#434eba,#424bb5,#4146ac,#3f3b97,#3f3b97,#3e3891,#3d358b,#3d358b,#3c3286,#3c3286,#3b2f80,#3b2f80,#3b2f80,#3a2d79,#3a2d79,#3a2d79,#392a73,#392a73,#392a73)"></i><i class="c" style="left:670px;width:6px;background:linear-gradient(#2eb4f2,#37a8fa,#3d9efe,#4294ff,#458afc,#4682f8,#4776ee,#466be3,#4664da,#4661d6,#455ccf,#4456c7,#4451bf,#434eba,#424bb5,#4146ac,#3f3b97,#3f3b97,#3e3891,#3d358b,#3d358b,#3c3286,#3c3286,#3b2f80,#3b2f80,#3b2f80,#3a2d79,#3a2d79,#3a2d79,#392a73,#392a73,#392a73)"></i><i class="c" style="left:676px;width:6px;background:linear-gradient(#2eb4f2,#37a8fa,#3d9efe,#4294ff,#458afc,#4682f8,#4776ee,#466be3,#4664da,#4661d6,#455ccf,#4456c7,#4451bf,#434eba,#424bb5,#4146ac,#3f3b97,#3f3b97,#3e3891,#3d358b,#3d358b,#3c3286,#3c3286,#3b2f80,#3b2f80,#3b2f80,#3a2d79,#3a2d79,#3a2d79,#392a73,#392a73,#392a73)"></i><i class="c" style="left:682px;width:6px;background:linear-gradient(#2cb7f0,#35abf8,#3d9efe,#4294ff,#458afc,#4682f8,#4776ee,#466be3,#4664da,#4661d6,#455ccf,#4456c7,#4451bf,#434eba,#424bb5,#4146ac,#3f3b97,#3f3b97,#3e3891,#3d358b,#3d358b,#3c3286,#3c3286,#3b2f80,#3b2f80,#3b2f80,#3a2d79,#3a2d79,#3a2d79,#392a73,#392a73,#392a73)"></i><i class="c" style="left:688px;width:6px;background:linear-gradient(#2cb7f0,#35abf8,#3d9efe,#4294ff,#458afc,#4682f8,#4776ee,#466be3,#4664da,#455ed3,#455ccf,#4456c7,#4451bf,#434eba,#424bb5,#4146ac,#3f3b97,#3f3b97,#3e3891,#3d358b,#3d358b,#3c3286,#3c3286,#3b2f80,#3b2f80,#3b2f80,#3a2d79,#3a2d79,#3a2d79,#392a73,#392a73,#392a73)"></i><i class="c" style="left:694px;width:6px;background:linear-gradient(#2eb4f2,#35abf8,#3d9efe,#4294ff,#458afc,#4682f8,#4776ee,#466be3,#4664da,#455ed3,#455ccf,#4456c7,#4451bf,#434eba,#424bb5,#4146ac,#3f3b97,#3f3b97,#3e3891,#3d358b,#3d358b,#3c3286,#3c3286,#3b2f80,#3b2f80,#3b2f80,#3a2d79,#3a2d79,#3a2d79,#392a73,#392a73,#392a73)"></i><i class="c" style="left:700px;width:6px;background:linear-gradient(#2cb7f0,#35abf8,#3d9efe,#4294ff,#458afc,#4682f8,#4776ee,#466be3,#4664da,#455ed3,#455ccf,#4456c7,#4451bf,#434eba,#424bb5,#4146ac,#3f3b97,#3f3b97,#3e3891,#3d358b,#3d358b,#3c3286,#3c3286,#3b2f80,#3b2f80,#3b2f80,#3a2d79,#3a2d79,#3a2d79,#392a73,#392a73,#392a73)"></i><i class="c" style="left:706px;width:6px;background:linear-gradient(#2cb7f0,#35abf8,#3d9efe,#4294ff,#458afc,#4682f8,#4776ee,#466be3,#4664da,#455ed3,#455ccf,#4456c7,#4451bf,#434eba,#424bb5,#4146ac,#3f3b97,#3f3b97,#3e3891,#3d358b,#3d358b,#3c3286,#3c3286,#3b2f80,#3b2f80,#3b2f80,#3a2d79,#3a2d79,#3a2d79,#392a73,#392a73,#392a73)"></i><i class="c" style="left:712px;width:6px;background:linear-gradient(#2eb4f2,#37a8fa,#3d9efe,#4294ff,#458afc,#4682f8,#4776ee,#466be3,#4664da,#455ed3,#455ccf,#4456c7,#4451bf,#434eba,#424bb5,#4146ac,#3f3b97,#3f3b97,#3e3891,#3d358b,#3d358b,#3c3286,#3c3286,#3b2f80,#3b2f80,#3b2f80,#3a2d79,#3a2d79,#3a2d79,#392a73,#392a73,#392a73)"></i><i class="c" style="left:718px;width:6px;background:linear-gradient(#2fb2f4,#38a5fb,#3e9bfe,#4294ff,#458afc,#4682f8,#4776ee,#466be3,#4664da,#455ed3,#455ccf,#4456c7,#4451bf,#434eba,#424bb5,#4146ac,#3f3b97,#3f3b97,#3e3891,#3d358b,#3d358b,#3c3286,#3c3286,#3b2f80,#3b2f80,#3b2f80,#3a2d79,#3a2d79,#3a2d79,#392a73,#392a73,#392a73)"></i><i class="c" style="left:724px;width:6px;background:linear-gradient(#2fb2f4,#37a8fa,#3e9bfe,#4294ff,#458afc,#4682f8,#4776ee,#466be3,#4664da,#455ed3,#455ccf,#4456c7,#4451bf,#434eba,#4249b1,#4146ac,#3f3b97,#3f3b97,#3e3891,#3d358b,#3d358b,#3c3286,#3c3286,#3b2f80,#3b2f80,#3b2f80,#3a2d79,#3a2d79,#3a2d79,#392a73,#392a73,#392a73)"></i><i class="c" style="left:730px;width:6px;background:linear-gradient(#2eb4f2,#37a8fa,#3d9efe,#4294ff,#458afc,#4682f8,#4776ee,#466be3,#4664da,#455ed3,#455ccf,#4456c7,#4451bf,#434eba,#4249b1,#4146ac,#3f3b97,#3f3b97,#3e3891,#3d358b,#3d358b,#3c3286,#3c3286,#3b2f80,#3b2f80,#3b2f80,#3a2d79,#3a2d79,#3a2d79,#392a73,#392a73,#392a73)"></i><i class="c" style="left:736px;width:6px;background:linear-gradient(#2eb4f2,#37a8fa,#3d9efe,#4294ff,#458afc,#4682f8,#4776ee,#466be3,#4664da,#455ed3,#455ccf,#4454c3,#4451bf,#434eba,#4249b1,#4146ac,#3f3b97,#3f3b97,#3e3891,#3d358b,#3d358b,#3c3286,#3c3286,#3b2f80,#3b2f80,#3b2f80,#3a2d79,#3a2d79,#3a2d79,#392a73,#392a73,#392a73)"></i><i class="c" style="left:742px;width:6px;background:linear-gradient(#2eb4f2,#37a8fa,#3d9efe,#4294ff,#458afc,#4682f8,#4776ee,#466be3,#4664da,#455ed3,#455ccf,#4454c3,#4451bf,#424bb5,#4249b1,#4146ac,#3f3b97,#3f3b97,#3e3891,#3d358b,#3d358b,#3c3286,#3c3286,#3b2f80,#3b2f80,#3b2f80,#3a2d79,#3a2d79,#3a2d79,#392a73,#392a73,#392a73)"></i><i class="c" style="left:748px;width:6px;background:linear-gradient(#2eb4f2,#37a8fa,#3d9efe,#4294ff,#458afc,#4682f8,#4776ee,#466be3,#4664da,#455ed3,#455ccf,#4454c3,#4451bf,#424bb5,#4249b1,#4146ac,#3f3b97,#3f3b97,#3e3891,#3d358b,#3d358b,#3c3286,#3c3286,#3b2f80,#3b2f80,#3b2f80,#3a2d79,#3a2d79,#3a2d79,#392a73,#392a73,#392a73)"></i><i class="c" style="left:754px;width:5px;background:linear-gradient(#2eb4f2,#37a8fa,#3d9efe,#4294ff,#458afc,#4682f8,#4776ee,#466be3,#4664da,#455ed3,#455ccf,#4454c3,#4451bf,#424bb5,#4249b1,#4146ac,#3f3b97,#3f3b97,#3e3891,#3d358b,#3d358b,#3c3286,#3c3286,#3b2f80,#3b2f80,#3b2f80,#3a2d79,#3a2d79,#3a2d79,#392a73,#392a73,#392a73)"></i><i class="c" style="left:759px;width:1px;background:linear-gradient(#2eb4f2,#37a8fa,#3d9efe,#4294ff,#458afc,#4682f8,#4776ee,#466be3,#4664da,#455ed3,#455ccf,#4454c3,#4451bf,#424bb5,#4249b1,#4146ac,#3f3b97,#3f3b97,#3e3891,#3d358b,#3d358b,#3c3286,#3c3286,#3b2f80,#3b2f80,#3b2f80,#3a2d79,#3a2d79,#3a2d79,#392a73,#392a73,#392a73)"></i><i class="c" style="left:760px;width:1px;background:linear-gradient(#4666dd,#4661d6,#455ccf,#4456c7,#4451bf,#424bb5,#4146ac,#4040a2,#3f3b97,#3e3891,#3e3891,#3c3286,#3c3286,#3b2f80,#3a2d79,#3a2d79,#38276d,#38276d,#372466,#372466,#372466,#36215f,#36215f,#36215f,#36215f,#36215f,#351e58,#351e58,#351e58,#351e58,#351e58,#351e58)"></i><i class="c" style="left:761px;width:1px;background:linear-gradient(#30123b,#30123b,#30123b,#30123b,#30123b,#30123b,#30123b,#30123b,#30123b,#30123b,#30123b,#30123b,#30123b,#30123b,#30123b,#30123b,#30123b,#30123b,#30123b,#30123b,#30123b,#30123b,#30123b,#30123b,#30123b,#30123b,#30123b,#30123b,#30123b,#30123b,#30123b,#30123b)"></i><i class="c" style="left:762px;width:1px;background:linear-gradient(#30123b,#30123b,#30123b,#30123b,#30123b,#30123b,#30123b,#30123b,#30123b,#30123b,#30123b,#30123b,#30123b,#30123b,#30123b,#30123b,#30123b,#30123b,#30123b,#30123b,#30123b,#30123b,#30123b,#30123b,#30123b,#30123b,#30123b,#30123b,#30123b,#30123b,#30123b,#30123b)"></i><i class="c" style="left:763px;width:3px;background:linear-gradient(#30123b,#30123b,#30123b,#30123b,#30123b,#30123b,#30123b,#30123b,#30123b,#30123b,#30123b,#30123b,#30123b,#30123b,#30123b,#30123b,#30123b,#30123b,#30123b,#30123b,#30123b,#30123b,#30123b,#30123b,#30123b,#30123b,#30123b,#30123b,#30123b,#30123b,#30123b,#30123b)"></i><i class="c" style="left:766px;width:6px;background:linear-gradient(#30123b,#30123b,#30123b,#30123b,#30123b,#30123b,#30123b,#30123b,#30123b,#30123b,#30123b,#30123b,#30123b,#30123b,#30123b,#30123b,#30123b,#30123b,#30123b,#30123b,#30123b,#30123b,#30123b,#30123b,#30123b,#30123b,#30123b,#30123b,#30123b,#30123b,#30123b,#30123b)"></i><i class="c" style="left:772px;width:6px;background:linear-gradient(#30123b,#30123b,#30123b,#30123b,#30123b,#30123b,#30123b,#30123b,#30123b,#30123b,#30123b,#30123b,#30123b,#30123b,#30123b,#30123b,#30123b,#30123b,#30123b,#30123b,#30123b,#30123b,#30123b,#30123b,#30123b,#30123b,#30123b,#30123b,#30123b,#30123b,#30123b,#30123b)"></i><i class="c" style="left:778px;width:6px;background:linear-gradient(#30123b,#30123b,#30123b,#30123b,#30123b,#30123b,#30123b,#30123b,#30123b,#30123b,#30123b,#30123b,#30123b,#30123b,#30123b,#30123b,#30123b,#30123b,#30123b,#30123b,#30123b,#30123b,#30123b,#30123b,#30123b,#30123b,#30123b,#30123b,#30123b,#30123b,#30123b,#30123b)"></i><i class="c" style="left:784px;width:1px;background:linear-gradient(#30123b,#30123b,#30123b,#30123b,#30123b,#30123b,#30123b,#30123b,#30123b,#30123b,#30123b,#30123b,#30123b,#30123b,#30123b,#30123b,#30123b,#30123b,#30123b,#30123b,#30123b,#30123b,#30123b,#30123b,#30123b,#30123b,#30123b,#30123b,#30123b,#30123b,#30123b,#30123b)"></i><i class="c" style="left:785px;width:1px;background:linear-gradient(#4666dd,#4661d6,#455ccf,#4454c3,#434eba,#424bb5,#4143a7,#3f3e9c,#3f3b97,#3e3891,#3e3891,#3c3286,#3c3286,#3b2f80,#3a2d79,#3a2d79,#38276d,#38276d,#372466,#372466,#372466,#36215f,#36215f,#36215f,#36215f,#36215f,#351e58,#351e58,#351e58,#351e58,#351e58,#351e58)"></i><i class="c" style="left:786px;width:1px;background:linear-gradient(#2eb4f2,#37a8fa,#3d9efe,#4391fe,#4687fb,#4680f6,#4773eb,#4669e0,#4664da,#455ed3,#455ccf,#4454c3,#4451bf,#424bb5,#4249b1,#4146ac,#3f3b97,#3f3b97,#3e3891,#3d358b,#3d358b,#3c3286,#3c3286,#3b2f80,#3b2f80,#3b2f80,#3a2d79,#3a2d79,#3a2d79,#392a73,#392a73,#392a73)"></i><i class="c" style="left:787px;width:1px;background:linear-gradient(#2eb4f2,#37a8fa,#3d9efe,#4391fe,#4687fb,#4680f6,#4773eb,#4669e0,#4664da,#455ed3,#455ccf,#4454c3,#4451bf,#424bb5,#4249b1,#4146ac,#3f3b97,#3f3b97,#3e3891,#3d358b,#3d358b,#3c3286,#3c3286,#3b2f80,#3b2f80,#3b2f80,#3a2d79,#3a2d79,#3a2d79,#392a73,#392a73,#392a73)"></i><i class="c" style="left:788px;width:2px;background:linear-gradient(#2eb4f2,#37a8fa,#3d9efe,#4391fe,#4687fb,#4680f6,#4773eb,#4669e0,#4664da,#455ed3,#455ccf,#4454c3,#4451bf,#424bb5,#4249b1,#4146ac,#3f3b97,#3f3b97,#3e3891,#3d358b,#3d358b,#3c3286,#3c3286,#3b2f80,#3b2f80,#3b2f80,#3a2d79,#3a2d79,#3a2d79,#392a73,#392a73,#392a73)"></i><i class="c" style="left:790px;width:6px;background:linear-gradient(#2eb4f2,#37a8fa,#3d9efe,#4391fe,#4687fb,#4680f6,#4773eb,#4669e0,#4664da,#455ed3,#455ccf,#4454c3,#4451bf,#424bb5,#4249b1,#4146ac,#3f3b97,#3f3b97,#3e3891,#3d358b,#3d358b,#3c3286,#3c3286,#3b2f80,#3b2f80,#3b2f80,#3a2d79,#3a2d79,#3a2d79,#392a73,#392a73,#392a73)"></i><i class="c" style="left:796px;width:6px;background:linear-gradient(#2eb4f2,#37a8fa,#3d9efe,#4391fe,#4687fb,#4680f6,#4773eb,#4669e0,#4664da,#455ed3,#455ccf,#4454c3,#4451bf,#424bb5,#4249b1,#4146ac,#3f3b97,#3f3b97,#3e3891,#3d358b,#3d358b,#3c3286,#3c3286,#3b2f80,#3b2f80,#3b2f80,#3a2d79,#3a2d79,#3a2d79,#392a73,#392a73,#392a73)"></i><i class="c" style="left:802px;width:6px;background:linear-gradient(#2eb4f2,#37a8fa,#3d9efe,#4391fe,#4687fb,#4680f6,#4773eb,#4669e0,#4664da,#455ed3,#455ccf,#4454c3,#4451bf,#424bb5,#4249b1,#4146ac,#3f3b97,#3f3b97,#3e3891,#3d358b,#3d358b,#3c3286,#3c3286,#3b2f80,#3b2f80,#3b2f80,#3a2d79,#3a2d79,#3a2d79,#392a73,#392a73,#392a73)"></i><i class="c" style="left:808px;width:6px;background:linear-gradient(#2cb7f0,#35abf8,#3d9efe,#4294ff,#458afc,#4680f6,#4773eb,#4669e0,#4664da,#455ed3,#455ccf,#4454c3,#4451bf,#424bb5,#4249b1,#4146ac,#3f3b97,#3f3b97,#3e3891,#3d358b,#3d358b,#3c3286,#3c3286,#3b2f80,#3b2f80,#3b2f80,#3a2d79,#3a2d79,#3a2d79,#392a73,#392a73,#392a73)"></i><i class="c" style="left:814px;width:6px;background:linear-gradient(#2cb7f0,#35abf8,#3d9efe,#4294ff,#458afc,#4680f6,#4773eb,#4669e0,#4664da,#455ed3,#455ccf,#4454c3,#4451bf,#424bb5,#4249b1,#4146ac,#3f3b97,#3f3b97,#3e3891,#3d358b,#3d358b,#3c3286,#3c3286,#3b2f80,#3b2f80,#3b2f80,#3a2d79,#3a2d79,#3a2d79,#392a73,#392a73,#392a73)"></i><i class="c" style="left:820px;width:6px;background:linear-gradient(#2eb4f2,#37a8fa,#3d9efe,#4391fe,#4687fb,#4680f6,#4773eb,#4669e0,#4664da,#455ed3,#455ccf,#4454c3,#4451bf,#424bb5,#4249b1,#4146ac,#3f3b97,#3f3b97,#3e3891,#3d358b,#3d358b,#3c3286,#3c3286,#3b2f80,#3b2f80,#3b2f80,#3a2d79,#3a2d79,#3a2d79,#392a73,#392a73,#392a73)"></i><i class="c" style="left:826px;width:6px;background:linear-gradient(#2eb4f2,#37a8fa,#3e9bfe,#4391fe,#4687fb,#4680f6,#4773eb,#4669e0,#4664da,#455ed3,#455ccf,#4454c3,#4451bf,#424bb5,#4249b1,#4146ac,#3f3b97,#3f3b97,#3e3891,#3d358b,#3d358b,#3c3286,#3c3286,#3b2f80,#3b2f80,#3b2f80,#3a2d79,#3a2d79,#3a2d79,#392a73,#392a73,#392a73)"></i><i class="c" style="left:832px;width:6px;background:linear-gradient(#2eb4f2,#37a8fa,#3e9bfe,#4391fe,#4687fb,#4680f6,#4773eb,#466be3,#4664da,#455ed3,#455ccf,#4454c3,#4451bf,#424bb5,#4249b1,#4146ac,#3f3b97,#3f3b97,#3e3891,#3d358b,#3d358b,#3c3286,#3c3286,#3b2f80,#3b2f80,#3b2f80,#3a2d79,#3a2d79,#3a2d79,#392a73,#392a73,#392a73)"></i><i class="c" style="left:838px;width:6px;background:linear-gradient(#2fb2f4,#38a5fb,#3e9bfe,#4391fe,#4687fb,#4680f6,#4773eb,#466be3,#4664da,#455ed3,#455ccf,#4454c3,#4451bf,#424bb5,#4249b1,#4146ac,#3f3b97,#3f3b97,#3e3891,#3d358b,#3d358b,#3c3286,#3c3286,#3b2f80,#3b2f80,#3b2f80,#3a2d79,#3a2d79,#3a2d79,#392a73,#392a73,#392a73)"></i><i class="c" style="left:844px;width:6px;background:linear-gradient(#31aff5,#3aa3fc,#4099ff,#4391fe,#4687fb,#4680f6,#4773eb,#466be3,#4664da,#455ed3,#455ccf,#4454c3,#4451bf,#424bb5,#4249b1,#4146ac,#3f3b97,#3f3b97,#3e3891,#3d358b,#3d358b,#3c3286,#3c3286,#3b2f80,#3b2f80,#3b2f80,#3a2d79,#3a2d79,#3a2d79,#392a73,#392a73,#392a73)"></i><i class="c" style="left:850px;width:6px;background:linear-gradient(#31aff5,#38a5fb,#3e9bfe,#4391fe,#4687fb,#4680f6,#4773eb,#466be3,#4664da,#455ed3,#455ccf,#4454c3,#4451bf,#424bb5,#4249b1,#4146ac,#3f3b97,#3f3b97,#3e3891,#3d358b,#3d358b,#3c3286,#3c3286,#3b2f80,#3b2f80,#3b2f80,#3a2d79,#3a2d79,#3a2d79,#392a73,#392a73,#392a73)"></i><i class="c" style="left:856px;width:6px;background:linear-gradient(#2fb2f4,#37a8fa,#3e9bfe,#4391fe,#4687fb,#4680f6,#4773eb,#466be3,#4664da,#455ed3,#455ccf,#4454c3,#4451bf,#434eba,#4249b1,#4146ac,#3f3b97,#3f3b97,#3e3891,#3d358b,#3d358b,#3c3286,#3c3286,#3b2f80,#3b2f80,#3b2f80,#3a2d79,#3a2d79,#3a2d79,#392a73,#392a73,#392a73)"></i><i class="c" style="left:862px;width:6px;background:linear-gradient(#2cb7f0,#35abf8,#3d9efe,#4294ff,#458afc,#4680f6,#4776ee,#466be3,#4664da,#455ed3,#455ccf,#4456c7,#4451bf,#434eba,#424bb5,#4146ac,#3f3b97,#3f3b97,#3e3891,#3d358b,#3d358b,#3c3286,#3c3286,#3b2f80,#3b2f80,#3b2f80,#3a2d79,#3a2d79,#3a2d79,#392a73,#392a73,#392a73)"></i><i class="c" style="left:868px;width:6px;background:linear-gradient(#2ab9ee,#33adf7,#3ba0fd,#4294ff,#458afc,#4682f8,#4776ee,#466be3,#4666dd,#4661d6,#455ed3,#4456c7,#4451bf,#434eba,#424bb5,#4146ac,#3f3b97,#3f3b97,#3e3891,#3d358b,#3d358b,#3c3286,#3c3286,#3b2f80,#3b2f80,#3b2f80,#3a2d79,#3a2d79,#3a2d79,#392a73,#392a73,#392a73)"></i><i class="c" style="left:874px;width:6px;background:linear-gradient(#2ab9ee,#33adf7,#3ba0fd,#4196ff,#458cfd,#4682f8,#4776ee,#476ee6,#4666dd,#4661d6,#455ed3,#4456c7,#4451bf,#434eba,#424bb5,#4249b1,#3f3b97,#3f3b97,#3e3891,#3d358b,#3d358b,#3c3286,#3c3286,#3b2f80,#3b2f80,#3b2f80,#3a2d79,#3a2d79,#3a2d79,#392a73,#392a73,#392a73)"></i><i class="c" style="left:880px;width:6px;background:linear-gradient(#2eb4f2,#35abf8,#3ba0fd,#4196ff,#458cfd,#4685fa,#4778f0,#476ee6,#4666dd,#4661d6,#455ed3,#4456c7,#4454c3,#434eba,#424bb5,#4249b1,#3f3b97,#3f3b97,#3e3891,#3d358b,#3d358b,#3c3286,#3c3286,#3b2f80,#3b2f80,#3b2f80,#3a2d79,#3a2d79,#3a2d79,#392a73,#392a73,#392a73)"></i><i class="c" style="left:886px;width:6px;background:linear-gradient(#2fb2f4,#37a8fa,#3d9efe,#4196ff,#458cfd,#4685fa,#4778f0,#476ee6,#4669e0,#4664da,#455ed3,#4559cb,#4454c3,#4451bf,#424bb5,#4249b1,#3f3b97,#3f3b97,#3e3891,#3d358b,#3d358b,#3c3286,#3c3286,#3b2f80,#3b2f80,#3b2f80,#3a2d79,#3a2d79,#3a2d79,#392a73,#392a73,#392a73)"></i><i class="c" style="left:892px;width:6px;background:linear-gradient(#2fb2f4,#37a8fa,#3d9efe,#4196ff,#458cfd,#4685fa,#4778f0,#476ee6,#4669e0,#4664da,#455ed3,#4559cb,#4454c3,#4451bf,#434eba,#4249b1,#3f3b97,#3f3b97,#3e3891,#3d358b,#3d358b,#3c3286,#3c3286,#3b2f80,#3b2f80,#3b2f80,#3a2d79,#3a2d79,#3a2d79,#392a73,#392a73,#392a73)"></i><i class="c" style="left:898px;width:6px;background:linear-gradient(#2eb4f2,#37a8fa,#3ba0fd,#4196ff,#448ffe,#4685fa,#4778f0,#4771e9,#4669e0,#4664da,#455ed3,#4559cb,#4454c3,#4451bf,#434eba,#4249b1,#3f3b97,#3f3b97,#3e3891,#3d358b,#3d358b,#3c3286,#3c3286,#3b2f80,#3b2f80,#3b2f80,#3a2d79,#3a2d79,#3a2d79,#392a73,#392a73,#392a73)"></i><i class="c" style="left:904px;width:6px;background:linear-gradient(#2cb7f0,#35abf8,#3ba0fd,#4196ff,#448ffe,#4685fa,#4778f0,#4771e9,#4669e0,#4664da,#455ed3,#4559cb,#4454c3,#4451bf,#434eba,#4249b1,#3f3b97,#3f3b97,#3e3891,#3d358b,#3d358b,#3c3286,#3c3286,#3b2f80,#3b2f80,#3b2f80,#3a2d79,#3a2d79,#3a2d79,#392a73,#392a73,#392a73)"></i><i class="c" style="left:910px;width:6px;background:linear-gradient(#2cb7f0,#35abf8,#3ba0fd,#4196ff,#448ffe,#4685fa,#4778f0,#4771e9,#4669e0,#4664da,#455ed3,#4559cb,#4454c3,#4451bf,#434eba,#4249b1,#3f3b97,#3f3b97,#3e3891,#3d358b,#3d358b,#3c3286,#3c3286,#3b2f80,#3b2f80,#3b2f80,#3a2d79,#3a2d79,#3a2d79,#392a73,#392a73,#392a73)"></i><i class="c" style="left:916px;width:6px;background:linear-gradient(#2cb7f0,#35abf8,#3ba0fd,#4196ff,#448ffe,#4685fa,#4778f0,#4771e9,#4669e0,#4664da,#455ed3,#4559cb,#4454c3,#4451bf,#434eba,#4249b1,#3f3b97,#3f3b97,#3e3891,#3d358b,#3d358b,#3c3286,#3c3286,#3b2f80,#3b2f80,#3b2f80,#3a2d79,#3a2d79,#3a2d79,#392a73,#392a73,#392a73)"></i><i class="c" style="left:922px;width:6px;background:linear-gradient(#2cb7f0,#35abf8,#3ba0fd,#4196ff,#448ffe,#4685fa,#4778f0,#4771e9,#4669e0,#4664da,#455ed3,#4559cb,#4454c3,#4451bf,#434eba,#4249b1,#3f3b97,#3f3b97,#3e3891,#3d358b,#3d358b,#3c3286,#3c3286,#3b2f80,#3b2f80,#3b2f80,#3a2d79,#3a2d79,#3a2d79,#392a73,#392a73,#392a73)"></i><i class="c" style="left:928px;width:6px;background:linear-gradient(#2eb4f2,#35abf8,#3ba0fd,#4196ff,#448ffe,#4685fa,#4778f0,#4771e9,#4669e0,#4664da,#455ed3,#4559cb,#4454c3,#4451bf,#434eba,#4249b1,#3f3b97,#3f3b97,#3e3891,#3d358b,#3d358b,#3c3286,#3c3286,#3b2f80,#3b2f80,#3b2f80,#3a2d79,#3a2d79,#3a2d79,#392a73,#392a73,#392a73)"></i><i class="c" style="left:934px;width:6px;background:linear-gradient(#2eb4f2,#35abf8,#3ba0fd,#4196ff,#448ffe,#4685fa,#4778f0,#4771e9,#4669e0,#4664da,#455ed3,#4559cb,#4454c3,#4451bf,#434eba,#4249b1,#3f3b97,#3f3b97,#3e3891,#3d358b,#3d358b,#3c3286,#3c3286,#3b2f80,#3b2f80,#3b2f80,#3a2d79,#3a2d79,#3a2d79,#392a73,#392a73,#392a73)"></i><i class="c" style="left:940px;width:6px;background:linear-gradient(#2eb4f2,#35abf8,#3ba0fd,#4196ff,#448ffe,#4685fa,#4778f0,#4771e9,#4669e0,#4664da,#455ed3,#4559cb,#4454c3,#4451bf,#434eba,#4249b1,#3f3b97,#3f3b97,#3e3891,#3d358b,#3d358b,#3c3286,#3c3286,#3b2f80,#3b2f80,#3b2f80,#3a2d79,#3a2d79,#3a2d79,#392a73,#392a73,#392a73)"></i><i class="c" style="left:946px;width:6px;background:linear-gradient(#2eb4f2,#35abf8,#3ba0fd,#4196ff,#448ffe,#4685fa,#4778f0,#4771e9,#4669e0,#4664da,#455ed3,#4559cb,#4454c3,#4451bf,#434eba,#4249b1,#3f3b97,#3f3b97,#3e3891,#3d358b,#3d358b,#3c3286,#3c3286,#3b2f80,#3b2f80,#3b2f80,#3a2d79,#3a2d79,#3a2d79,#392a73,#392a73,#392a73)"></i><i class="c" style="left:952px;width:6px;background:linear-gradient(#2eb4f2,#35abf8,#3ba0fd,#4196ff,#448ffe,#4685fa,#4778f0,#4771e9,#4669e0,#4664da,#455ed3,#4559cb,#4454c3,#4451bf,#434eba,#4249b1,#3f3b97,#3f3b97,#3e3891,#3d358b,#3d358b,#3c3286,#3c3286,#3b2f80,#3b2f80,#3b2f80,#3a2d79,#3a2d79,#3a2d79,#392a73,#392a73,#392a73)"></i><i class="c" style="left:958px;width:6px;background:linear-gradient(#2cb7f0,#35abf8,#3ba0fd,#4196ff,#448ffe,#4685fa,#4778f0,#4771e9,#4669e0,#4664da,#455ed3,#4559cb,#4454c3,#4451bf,#434eba,#4249b1,#3f3b97,#3f3b97,#3e3891,#3d358b,#3d358b,#3c3286,#3c3286,#3b2f80,#3b2f80,#3b2f80,#3a2d79,#3a2d79,#3a2d79,#392a73,#392a73,#392a73)"></i><i class="c" style="left:964px;width:6px;background:linear-gradient(#2ab9ee,#33adf7,#3aa3fc,#4099ff,#448ffe,#4685fa,#4778f0,#4771e9,#4669e0,#4664da,#455ed3,#4559cb,#4454c3,#4451bf,#434eba,#4249b1,#3f3b97,#3f3b97,#3e3891,#3d358b,#3d358b,#3c3286,#3c3286,#3b2f80,#3b2f80,#3b2f80,#3a2d79,#3a2d79,#3a2d79,#392a73,#392a73,#392a73)"></i><i class="c" style="left:970px;width:6px;background:linear-gradient(#2ab9ee,#33adf7,#3aa3fc,#4099ff,#448ffe,#4685fa,#4778f0,#4771e9,#4669e0,#4664da,#455ed3,#4559cb,#4454c3,#4451bf,#434eba,#4249b1,#3f3b97,#3f3b97,#3e3891,#3d358b,#3d358b,#3c3286,#3c3286,#3b2f80,#3b2f80,#3b2f80,#3a2d79,#3a2d79,#3a2d79,#392a73,#392a73,#392a73)"></i><i class="c" style="left:976px;width:6px;background:linear-gradient(#2cb7f0,#33adf7,#3ba0fd,#4196ff,#448ffe,#4685fa,#4778f0,#4771e9,#4669e0,#4664da,#455ed3,#4559cb,#4454c3,#4451bf,#434eba,#4249b1,#3f3b97,#3f3b97,#3e3891,#3d358b,#3d358b,#3c3286,#3c3286,#3b2f80,#3b2f80,#3b2f80,#3a2d79,#3a2d79,#3a2d79,#392a73,#392a73,#392a73)"></i><i class="c" style="left:982px;width:6px;background:linear-gradient(#2eb4f2,#35abf8,#3ba0fd,#4196ff,#448ffe,#4685fa,#4778f0,#4771e9,#4669e0,#4664da,#455ed3,#4559cb,#4454c3,#4451bf,#434eba,#4249b1,#3f3b97,#3f3b97,#3e3891,#3d358b,#3d358b,#3c3286,#3c3286,#3b2f80,#3b2f80,#3b2f80,#3a2d79,#3a2d79,#3a2d79,#392a73,#392a73,#392a73)"></i><i class="c" style="left:988px;width:6px;background:linear-gradient(#2eb4f2,#35abf8,#3ba0fd,#4196ff,#448ffe,#4685fa,#4778f0,#4771e9,#4669e0,#4664da,#455ed3,#4559cb,#4454c3,#4451bf,#434eba,#4249b1,#3f3b97,#3f3b97,#3e3891,#3d358b,#3d358b,#3c3286,#3c3286,#3c3286,#3b2f80,#3b2f80,#3a2d79,#3a2d79,#3a2d79,#392a73,#392a73,#392a73)"></i><i class="c" style="left:994px;width:6px;background:linear-gradient(#2ab9ee,#33adf7,#3aa3fc,#4099ff,#448ffe,#4685fa,#4778f0,#4771e9,#4669e0,#4664da,#455ed3,#4559cb,#4454c3,#4451bf,#434eba,#4249b1,#3f3b97,#3f3b97,#3e3891,#3d358b,#3d358b,#3c3286,#3c3286,#3c3286,#3b2f80,#3b2f80,#3a2d79,#3a2d79,#3a2d79,#392a73,#392a73,#392a73)"></i><i class="c" style="left:1000px;width:6px;background:linear-gradient(#28bceb,#31aff5,#3aa3fc,#4099ff,#448ffe,#4685fa,#4778f0,#4771e9,#4669e0,#4664da,#455ed3,#4559cb,#4454c3,#4451bf,#434eba,#4249b1,#3f3b97,#3f3b97,#3e3891,#3d358b,#3d358b,#3c3286,#3c3286,#3c3286,#3b2f80,#3b2f80,#3a2d79,#3a2d79,#3a2d79,#392a73,#392a73,#392a73)"></i><i class="c" style="left:1006px;width:6px;background:linear-gradient(#2ab9ee,#33adf7,#3aa3fc,#4099ff,#448ffe,#4685fa,#4778f0,#4771e9,#4669e0,#4664da,#455ed3,#4559cb,#4454c3,#4451bf,#434eba,#4249b1,#3f3b97,#3f3b97,#3e3891,#3d358b,#3d358b,#3c3286,#3c3286,#3c3286,#3b2f80,#3b2f80,#3a2d79,#3a2d79,#3a2d79,#392a73,#392a73,#392a73)"></i><i class="c" style="left:1012px;width:6px;background:linear-gradient(#2ab9ee,#33adf7,#3aa3fc,#4099ff,#448ffe,#4685fa,#4778f0,#4771e9,#4669e0,#4664da,#455ed3,#4559cb,#4454c3,#4451bf,#434eba,#4249b1,#3f3b97,#3f3b97,#3e3891,#3d358b,#3d358b,#3c3286,#3c3286,#3c3286,#3b2f80,#3b2f80,#3a2d79,#3a2d79,#3a2d79,#392a73,#392a73,#392a73)"></i><i class="c" style="left:1018px;width:6px;background:linear-gradient(#2cb7f0,#33adf7,#3aa3fc,#4099ff,#448ffe,#4685fa,#4778f0,#4771e9,#4669e0,#4664da,#455ed3,#4559cb,#4454c3,#4451bf,#434eba,#4249b1,#3f3b97,#3f3b97,#3e3891,#3d358b,#3d358b,#3c3286,#3c3286,#3c3286,#3b2f80,#3b2f80,#3a2d79,#3a2d79,#3a2d79,#392a73,#392a73,#392a73)"></i><i class="c" style="left:1024px;width:6px;background:linear-gradient(#2ab9ee,#33adf7,#3aa3fc,#4099ff,#448ffe,#4685fa,#4778f0,#4771e9,#4669e0,#4664da,#455ed3,#4559cb,#4454c3,#4451bf,#434eba,#4249b1,#3f3b97,#3f3b97,#3e3891,#3d358b,#3d358b,#3c3286,#3c3286,#3c3286,#3b2f80,#3b2f80,#3a2d79,#3a2d79,#3a2d79,#392a73,#392a73,#392a73)"></i><i class="c" style="left:1030px;width:6px;background:linear-gradient(#28bceb,#31aff5,#3aa3fc,#4099ff,#448ffe,#4685fa,#4778f0,#4771e9,#4669e0,#4664da,#455ed3,#4559cb,#4454c3,#4451bf,#434eba,#4249b1,#3f3b97,#3f3b97,#3e3891,#3e3891,#3d358b,#3c3286,#3c3286,#3c3286,#3b2f80,#3b2f80,#3a2d79,#3a2d79,#3a2d79,#392a73,#392a73,#392a73)"></i><i class="c" style="left:1036px;width:6px;background:linear-gradient(#28bceb,#31aff5,#38a5fb,#4099ff,#448ffe,#4685fa,#4778f0,#4771e9,#4669e0,#4664da,#455ed3,#4559cb,#4454c3,#4451bf,#434eba,#4249b1,#3f3b97,#3f3b97,#3e3891,#3e3891,#3d358b,#3c3286,#3c3286,#3c3286,#3b2f80,#3b2f80,#3a2d79,#3a2d79,#3a2d79,#392a73,#392a73,#392a73)"></i><i class="c" style="left:1042px;width:6px;background:linear-gradient(#27bee9,#31aff5,#38a5fb,#4099ff,#448ffe,#4685fa,#4778f0,#4771e9,#4669e0,#4664da,#455ed3,#4559cb,#4454c3,#4451bf,#434eba,#4249b1,#3f3b97,#3f3b97,#3e3891,#3e3891,#3d358b,#3c3286,#3c3286,#3c3286,#3b2f80,#3b2f80,#3a2d79,#3a2d79,#3a2d79,#392a73,#392a73,#392a73)"></i><i class="c" style="left:1048px;width:6px;background:linear-gradient(#28bceb,#31aff5,#3aa3fc,#4099ff,#448ffe,#4685fa,#4778f0,#4771e9,#4669e0,#4664da,#455ed3,#4559cb,#4454c3,#4451bf,#434eba,#4249b1,#3f3b97,#3f3b97,#3e3891,#3e3891,#3d358b,#3c3286,#3c3286,#3c3286,#3b2f80,#3b2f80,#3a2d79,#3a2d79,#3a2d79,#392a73,#392a73,#392a73)"></i><i class="c" style="left:1054px;width:6px;background:linear-gradient(#2ab9ee,#33adf7,#3aa3fc,#4099ff,#448ffe,#4685fa,#4778f0,#4771e9,#4669e0,#4664da,#455ed3,#4559cb,#4454c3,#4451bf,#434eba,#4249b1,#3f3b97,#3f3b97,#3e3891,#3e3891,#3d358b,#3c3286,#3c3286,#3c3286,#3b2f80,#3b2f80,#3a2d79,#3a2d79,#3a2d79,#392a73,#392a73,#392a73)"></i><i class="c" style="left:1060px;width:6px;background:linear-gradient(#2ab9ee,#31aff5,#3aa3fc,#4099ff,#448ffe,#4685fa,#4778f0,#4771e9,#4669e0,#4664da,#455ed3,#4559cb,#4454c3,#4451bf,#434eba,#4249b1,#3f3b97,#3f3b97,#3e3891,#3e3891,#3d358b,#3c3286,#3c3286,#3c3286,#3b2f80,#3b2f80,#3a2d79,#3a2d79,#3a2d79,#3a2d79,#392a73,#392a73)"></i><i class="c" style="left:1066px;width:6px;background:linear-gradient(#27bee9,#31aff5,#38a5fb,#4099ff,#448ffe,#4685fa,#4778f0,#4771e9,#4669e0,#4664da,#455ed3,#4559cb,#4454c3,#4451bf,#434eba,#4249b1,#3f3b97,#3f3b97,#3e3891,#3e3891,#3d358b,#3c3286,#3c3286,#3c3286,#3b2f80,#3b2f80,#3a2d79,#3a2d79,#3a2d79,#3a2d79,#392a73,#392a73)"></i><i class="c" style="left:1072px;width:6px;background:linear-gradient(#27bee9,#2fb2f4,#38a5fb,#4099ff,#448ffe,#4685fa,#4778f0,#4771e9,#4669e0,#4664da,#455ed3,#4559cb,#4454c3,#4451bf,#434eba,#4249b1,#3f3e9c,#3f3b97,#3e3891,#3e3891,#3d358b,#3c3286,#3c3286,#3c3286,#3b2f80,#3b2f80,#3a2d79,#3a2d79,#3a2d79,#3a2d79,#392a73,#392a73)"></i><i class="c" style="left:1078px;width:6px;background:linear-gradient(#27bee9,#2fb2f4,#38a5fb,#3e9bfe,#4391fe,#458afc,#477bf2,#4773eb,#466be3,#4666dd,#4664da,#455ccf,#4456c7,#4454c3,#434eba,#424bb5,#3f3e9c,#3f3e9c,#3f3b97,#3e3891,#3e3891,#3d358b,#3d358b,#3c3286,#3c3286,#3b2f80,#3b2f80,#3b2f80,#3a2d79,#3a2d79,#3a2d79,#392a73)"></i><i class="c" style="left:1084px;width:6px;background:linear-gradient(#27bee9,#2fb2f4,#37a8fa,#3d9efe,#4294ff,#458cfd,#4680f6,#4776ee,#476ee6,#4669e0,#4666dd,#455ed3,#4559cb,#4454c3,#4451bf,#434eba,#4040a2,#3f3e9c,#3f3b97,#3f3b97,#3e3891,#3e3891,#3d358b,#3d358b,#3c3286,#3c3286,#3b2f80,#3b2f80,#3b2f80,#3a2d79,#3a2d79,#3a2d79)"></i><i class="c" style="left:1090px;width:6px;background:linear-gradient(#27bee9,#2fb2f4,#37a8fa,#3e9bfe,#4391fe,#458afc,#467df4,#4773eb,#466be3,#4666dd,#4664da,#455ccf,#4456c7,#4454c3,#4451bf,#424bb5,#3f3e9c,#3f3e9c,#3f3b97,#3e3891,#3e3891,#3d358b,#3d358b,#3c3286,#3c3286,#3b2f80,#3b2f80,#3b2f80,#3a2d79,#3a2d79,#3a2d79,#392a73)"></i><i class="c" style="left:1096px;width:6px;background:linear-gradient(#27bee9,#2fb2f4,#37a8fa,#3e9bfe,#4391fe,#458afc,#467df4,#4773eb,#466be3,#4666dd,#4664da,#455ccf,#4456c7,#4454c3,#434eba,#424bb5,#3f3e9c,#3f3b97,#3f3b97,#3e3891,#3e3891,#3d358b,#3d358b,#3c3286,#3c3286,#3b2f80,#3b2f80,#3b2f80,#3a2d79,#3a2d79,#3a2d79,#392a73)"></i><i class="c" style="left:1102px;width:6px;background:linear-gradient(#27bee9,#2fb2f4,#38a5fb,#3e9bfe,#4391fe,#458afc,#477bf2,#4773eb,#466be3,#4666dd,#4664da,#455ccf,#4456c7,#4454c3,#434eba,#424bb5,#3f3e9c,#3f3b97,#3f3b97,#3e3891,#3e3891,#3d358b,#3d358b,#3c3286,#3c3286,#3b2f80,#3b2f80,#3b2f80,#3a2d79,#3a2d79,#3a2d79,#392a73)"></i><i class="c" style="left:1108px;width:1px;background:linear-gradient(#28bceb,#2fb2f4,#38a5fb,#3e9bfe,#4391fe,#458afc,#477bf2,#4773eb,#466be3,#4666dd,#4664da,#455ccf,#4456c7,#4454c3,#434eba,#424bb5,#3f3e9c,#3f3b97,#3f3b97,#3e3891,#3e3891,#3d358b,#3d358b,#3c3286,#3c3286,#3b2f80,#3b2f80,#3b2f80,#3a2d79,#3a2d79,#3a2d79,#392a73)"></i><i class="c" style="left:1109px;width:1px;background:linear-gradient(#28bceb,#31aff5,#38a5fb,#3e9bfe,#4391fe,#458afc,#477bf2,#4773eb,#466be3,#4666dd,#4664da,#455ccf,#4456c7,#4454c3,#434eba,#424bb5,#3f3e9c,#3f3b97,#3f3b97,#3e3891,#3e3891,#3d358b,#3d358b,#3c3286,#3c3286,#3b2f80,#3b2f80,#3b2f80,#3a2d79,#3a2d79,#3a2d79,#392a73)"></i><i class="c" style="left:1110px;width:1px;background:linear-gradient(#28bceb,#31aff5,#38a5fb,#3e9bfe,#4391fe,#458afc,#477bf2,#4773eb,#466be3,#4666dd,#4664da,#455ccf,#4456c7,#4454c3,#434eba,#424bb5,#3f3e9c,#3f3b97,#3f3b97,#3e3891,#3e3891,#3d358b,#3d358b,#3c3286,#3c3286,#3b2f80,#3b2f80,#3b2f80,#3a2d79,#3a2d79,#3a2d79,#392a73)"></i><i class="c" style="left:1111px;width:1px;background:linear-gradient(#28bceb,#31aff5,#38a5fb,#3e9bfe,#4391fe,#458afc,#477bf2,#4773eb,#466be3,#4666dd,#4664da,#455ccf,#4456c7,#4454c3,#434eba,#424bb5,#3f3e9c,#3f3b97,#3f3b97,#3e3891,#3e3891,#3d358b,#3d358b,#3c3286,#3c3286,#3b2f80,#3b2f80,#3b2f80,#3a2d79,#3a2d79,#3a2d79,#392a73)"></i><i class="c" style="left:1112px;width:1px;background:linear-gradient(#2eb4f2,#35abf8,#3ba0fd,#4196ff,#448ffe,#4685fa,#4778f0,#4771e9,#4669e0,#4664da,#4661d6,#4559cb,#4456c7,#4451bf,#434eba,#424bb5,#3f3e9c,#3f3b97,#3f3b97,#3e3891,#3e3891,#3d358b,#3d358b,#3c3286,#3c3286,#3b2f80,#3b2f80,#3b2f80,#3a2d79,#3a2d79,#3a2d79,#392a73)"></i><i class="c" style="left:1113px;width:1px;background:linear-gradient(#3aa3fc,#3e9bfe,#4294ff,#458afc,#4682f8,#467df4,#4771e9,#4669e0,#4664da,#455ed3,#455ccf,#4456c7,#4451bf,#434eba,#424bb5,#4249b1,#3f3b97,#3f3b97,#3e3891,#3e3891,#3d358b,#3d358b,#3c3286,#3c3286,#3b2f80,#3b2f80,#3b2f80,#3a2d79,#3a2d79,#3a2d79,#3a2d79,#392a73)"></i><i class="c" style="left:1114px;width:1px;background:linear-gradient(#458cfd,#4687fb,#4680f6,#477bf2,#4773eb,#476ee6,#4666dd,#455ed3,#4559cb,#4456c7,#4454c3,#434eba,#424bb5,#4249b1,#4146ac,#4143a7,#3e3891,#3d358b,#3d358b,#3c3286,#3c3286,#3c3286,#3b2f80,#3b2f80,#3b2f80,#3a2d79,#3a2d79,#3a2d79,#392a73,#392a73,#392a73,#392a73)"></i><i class="c" style="left:1115px;width:1px;background:linear-gradient(#4773eb,#476ee6,#4669e0,#4666dd,#4661d6,#455ccf,#4456c7,#4451bf,#424bb5,#4249b1,#4249b1,#4143a7,#4040a2,#4040a2,#3f3e9c,#3f3b97,#3c3286,#3b2f80,#3b2f80,#3b2f80,#3a2d79,#3a2d79,#3a2d79,#3a2d79,#392a73,#392a73,#392a73,#392a73,#392a73,#38276d,#38276d,#38276d)"></i><i class="c" style="left:1116px;width:1px;background:linear-gradient(#4456c7,#4454c3,#4451bf,#434eba,#424bb5,#4249b1,#4143a7,#4040a2,#3f3e9c,#3f3e9c,#3f3b97,#3e3891,#3d358b,#3d358b,#3d358b,#3c3286,#392a73,#392a73,#392a73,#392a73,#392a73,#38276d,#38276d,#38276d,#38276d,#38276d,#38276d,#372466,#372466,#372466,#372466,#372466)"></i><i class="c" style="left:1117px;width:1px;background:linear-gradient(#3f3b97,#3f3b97,#3e3891,#3e3891,#3e3891,#3d358b,#3c3286,#3b2f80,#3b2f80,#3b2f80,#3b2f80,#3a2d79,#3a2d79,#392a73,#392a73,#392a73,#372466,#372466,#372466,#372466,#372466,#36215f,#36215f,#36215f,#36215f,#36215f,#36215f,#36215f,#36215f,#36215f,#36215f,#36215f)"></i><i class="c" style="left:1118px;width:1px;background:linear-gradient(#372466,#372466,#372466,#372466,#372466,#372466,#372466,#36215f,#36215f,#36215f,#36215f,#36215f,#36215f,#36215f,#36215f,#36215f,#351e58,#351e58,#351e58,#351e58,#351e58,#351e58,#351e58,#351e58,#351e58,#351e58,#341b51,#341b51,#341b51,#341b51,#341b51,#341b51)"></i><i class="c" style="left:1119px;width:1px;background:linear-gradient(#321543,#321543,#321543,#321543,#33184a,#33184a,#33184a,#33184a,#33184a,#33184a,#33184a,#33184a,#33184a,#33184a,#33184a,#33184a,#33184a,#33184a,#33184a,#33184a,#33184a,#33184a,#33184a,#33184a,#33184a,#33184a,#33184a,#33184a,#33184a,#33184a,#33184a,#33184a)"></i><i class="c" style="left:1120px;width:1px;background:linear-gradient(#30123b,#30123b,#30123b,#30123b,#30123b,#30123b,#30123b,#30123b,#30123b,#30123b,#30123b,#30123b,#30123b,#30123b,#30123b,#30123b,#30123b,#30123b,#30123b,#30123b,#321543,#321543,#321543,#321543,#321543,#321543,#321543,#321543,#321543,#321543,#321543,#321543)"></i><i class="c" style="left:1121px;width:1px;background:linear-gradient(#30123b,#30123b,#30123b,#30123b,#30123b,#30123b,#30123b,#30123b,#30123b,#30123b,#30123b,#30123b,#30123b,#30123b,#30123b,#30123b,#30123b,#30123b,#30123b,#30123b,#30123b,#30123b,#30123b,#30123b,#30123b,#30123b,#30123b,#30123b,#30123b,#30123b,#30123b,#30123b)"></i><i class="c" style="left:1122px;width:1px;background:linear-gradient(#30123b,#30123b,#30123b,#30123b,#30123b,#30123b,#30123b,#30123b,#30123b,#30123b,#30123b,#30123b,#30123b,#30123b,#30123b,#30123b,#30123b,#30123b,#30123b,#30123b,#30123b,#30123b,#30123b,#30123b,#30123b,#30123b,#30123b,#30123b,#30123b,#30123b,#30123b,#30123b)"></i><i class="c" style="left:1123px;width:1px;background:linear-gradient(#30123b,#30123b,#30123b,#30123b,#30123b,#30123b,#30123b,#30123b,#30123b,#30123b,#30123b,#30123b,#30123b,#30123b,#30123b,#30123b,#30123b,#30123b,#30123b,#30123b,#30123b,#30123b,#30123b,#30123b,#30123b,#30123b,#30123b,#30123b,#30123b,#30123b,#30123b,#30123b)"></i><i class="c" style="left:1124px;width:1px;background:linear-gradient(#30123b,#30123b,#30123b,#30123b,#30123b,#30123b,#30123b,#30123b,#30123b,#30123b,#30123b,#30123b,#30123b,#30123b,#30123b,#30123b,#30123b,#30123b,#30123b,#30123b,#30123b,#30123b,#30123b,#30123b,#30123b,#30123b,#30123b,#30123b,#30123b,#30123b,#30123b,#30123b)"></i><i class="c" style="left:1125px;width:1px;background:linear-gradient(#30123b,#30123b,#30123b,#30123b,#30123b,#30123b,#30123b,#30123b,#30123b,#30123b,#30123b,#30123b,#30123b,#30123b,#30123b,#30123b,#30123b,#30123b,#30123b,#30123b,#30123b,#30123b,#30123b,#30123b,#30123b,#30123b,#30123b,#30123b,#30123b,#30123b,#30123b,#30123b)"></i><i class="c" style="left:1126px;width:6px;background:linear-gradient(#30123b,#30123b,#30123b,#30123b,#30123b,#30123b,#30123b,#30123b,#30123b,#30123b,#30123b,#30123b,#30123b,#30123b,#30123b,#30123b,#30123b,#30123b,#30123b,#30123b,#30123b,#30123b,#30123b,#30123b,#30123b,#30123b,#30123b,#30123b,#30123b,#30123b,#30123b,#30123b)"></i><i class="c" style="left:1132px;width:4px;background:linear-gradient(#30123b,#30123b,#30123b,#30123b,#30123b,#30123b,#30123b,#30123b,#30123b,#30123b,#30123b,#30123b,#30123b,#30123b,#30123b,#30123b,#30123b,#30123b,#30123b,#30123b,#30123b,#30123b,#30123b,#30123b,#30123b,#30123b,#30123b,#30123b,#30123b,#30123b,#30123b,#30123b)"></i><i class="a" style="left:154px;width:2px;background:linear-gradient(#7a0403,#7a0403,#7a0403,#7a0403,#7a0403,#7a0403,#7a0403,#7a0403,#7a0403,#7a0403,#fa7b1f,#f8be39,#d4e735,#a4fc3c,#69fd66,#35f394,#19e3b9,#18d7ca)"></i><i class="a" style="left:156px;width:2px;background:linear-gradient(#7a0403,#7a0403,#7a0403,#7a0403,#7a0403,#7a0403,#7a0403,#7a0403,#7a0403,#7a0403,#fc8423,#f6c33a,#d0ea34,#9ffd3f,#65fd69,#32f298,#19e3b9,#18d7ca)"></i><i class="a" style="left:158px;width:2px;background:linear-gradient(#7a0403,#7a0403,#7a0403,#7a0403,#7a0403,#7a0403,#7a0403,#7a0403,#7a0403,#850702,#fd8a26,#f4c73a,#cbed34,#9cfe40,#61fc6c,#2ff19b,#19e2bb,#19d5cd)"></i><i class="a" style="left:160px;width:2px;background:linear-gradient(#7a0403,#7a0403,#7a0403,#7a0403,#7a0403,#7a0403,#7a0403,#7a0403,#7a0403,#920b01,#fe932a,#f1cb3a,#c6f034,#96fe44,#5dfc6f,#2cf09e,#18e0bd,#1ad4d0)"></i><i class="a" style="left:162px;width:2px;background:linear-gradient(#7a0403,#7a0403,#7a0403,#7a0403,#7a0403,#7a0403,#7a0403,#7a0403,#7a0403,#9e1001,#fe992c,#eecf3a,#c3f134,#92ff47,#59fb73,#2aefa1,#18e0bd,#1ad4d0)"></i><i class="a" style="left:164px;width:2px;background:linear-gradient(#7a0403,#7a0403,#7a0403,#7a0403,#7a0403,#7a0403,#7a0403,#7a0403,#7a0403,#a91601,#fea130,#ebd339,#bef434,#8fff49,#55fa76,#2aefa1,#18dec0,#1ad2d2)"></i><i class="a" style="left:166px;width:2px;background:linear-gradient(#7a0403,#7a0403,#7a0403,#7a0403,#7a0403,#7a0403,#7a0403,#7a0403,#850702,#b41b01,#fea732,#e7d739,#bcf534,#8bff4b,#52fa7a,#27eea4,#18ddc2,#1ad2d2)"></i><i class="a" style="left:168px;width:2px;background:linear-gradient(#7a0403,#7a0403,#7a0403,#7a0403,#7a0403,#7a0403,#7a0403,#7a0403,#950d01,#be2102,#fdac34,#e3db38,#b7f735,#88ff4e,#4ef97d,#25eca7,#18ddc2,#1bd0d5)"></i><i class="a" style="left:170px;width:2px;background:linear-gradient(#7a0403,#7a0403,#7a0403,#7a0403,#7a0403,#7a0403,#7a0403,#7a0403,#a11201,#c52603,#fcb136,#dfdf37,#b4f836,#80ff53,#4af880,#22ebaa,#18dbc5,#1bd0d5)"></i><i class="a" style="left:172px;width:2px;background:linear-gradient(#7a0403,#7a0403,#7a0403,#7a0403,#7a0403,#7a0403,#7a0403,#7e0502,#af1801,#cc2b04,#fbb637,#dde037,#affa37,#7dff56,#46f884,#22ebaa,#18dbc5,#1bd0d5)"></i><i class="a" style="left:174px;width:2px;background:linear-gradient(#7a0403,#7a0403,#7a0403,#7a0403,#7a0403,#7a0403,#7a0403,#8b0902,#b91e02,#d43305,#faba39,#d9e436,#acfb38,#79fe59,#43f787,#20eaac,#18d9c8,#1ccdd8)"></i><i class="a" style="left:176px;width:2px;background:linear-gradient(#7a0403,#7a0403,#7a0403,#7a0403,#7a0403,#7a0403,#7a0403,#980e01,#c32503,#da3907,#f8be39,#d7e535,#a9fb39,#75fe5c,#43f787,#20eaac,#18d9c8,#1ccdd8)"></i><i class="a" style="left:178px;width:2px;background:linear-gradient(#7a0403,#7a0403,#7a0403,#7a0403,#7a0403,#7a0403,#7a0403,#a41301,#cc2b04,#df3f08,#f6c33a,#d2e935,#a7fc3a,#75fe5c,#3ff68a,#1fe9af,#18d9c8,#1ecbda)"></i><i class="a" style="left:180px;width:2px;background:linear-gradient(#7a0403,#7a0403,#7a0403,#7a0403,#7a0403,#7a0403,#7a0403,#af1801,#d23105,#e4450a,#f4c73a,#d0ea34,#a4fc3c,#71fe5f,#3cf58e,#1fe9af,#18d7ca,#1ecbda)"></i><i class="a" style="left:182px;width:2px;background:linear-gradient(#7a0403,#7a0403,#7a0403,#7a0403,#7a0403,#7a0403,#880802,#b91e02,#da3907,#e7490c,#f2c93a,#cdec34,#a1fd3d,#6dfe62,#3cf58e,#1de7b2,#18d7ca,#1ecbda)"></i><i class="a" style="left:184px;width:2px;background:linear-gradient(#7a0403,#7a0403,#7a0403,#7a0403,#7a0403,#7a0403,#920b01,#c12302,#df3f08,#eb500e,#efcd3a,#c8ef34,#9ffd3f,#69fd66,#38f491,#1de7b2,#18d7ca,#1ecbda)"></i><i class="a" style="left:186px;width:2px;background:linear-gradient(#7a0403,#7a0403,#7a0403,#7a0403,#7a0403,#7a0403,#950d01,#c32503,#df3f08,#ec530f,#eecf3a,#c6f034,#9cfe40,#69fd66,#38f491,#1de7b2,#19d5cd,#1fc9dd)"></i><i class="a" style="left:188px;width:2px;background:linear-gradient(#7a0403,#7a0403,#7a0403,#7a0403,#7a0403,#7a0403,#950d01,#c32503,#e14109,#ed5510,#ecd13a,#c6f034,#99fe42,#65fd69,#35f394,#1ce6b4,#19d5cd,#1fc9dd)"></i><i class="a" style="left:190px;width:2px;background:linear-gradient(#7a0403,#7a0403,#7a0403,#7a0403,#7a0403,#7a0403,#980e01,#c32503,#e14109,#ed5510,#ebd339,#c3f134,#99fe42,#65fd69,#35f394,#1ce6b4,#19d5cd,#1fc9dd)"></i><i class="a" style="left:192px;width:2px;background:linear-gradient(#7a0403,#7a0403,#7a0403,#7a0403,#7a0403,#7a0403,#980e01,#c32503,#e14109,#ef5811,#e9d539,#c1f334,#96fe44,#61fc6c,#35f394,#1ce6b4,#19d5cd,#1fc9dd)"></i><i class="a" style="left:194px;width:2px;background:linear-gradient(#7a0403,#7a0403,#7a0403,#7a0403,#7a0403,#7a0403,#950d01,#c32503,#e14109,#f05b12,#e7d739,#bef434,#96fe44,#61fc6c,#32f298,#1ae4b6,#19d5cd,#1fc9dd)"></i><i class="a" style="left:196px;width:2px;background:linear-gradient(#7a0403,#7a0403,#7a0403,#7a0403,#7a0403,#7a0403,#950d01,#c32503,#e14109,#f05b12,#e5d938,#bef434,#92ff47,#5dfc6f,#32f298,#1ae4b6,#19d5cd,#20c7df)"></i><i class="a" style="left:198px;width:2px;background:linear-gradient(#7a0403,#7a0403,#7a0403,#7a0403,#7a0403,#7a0403,#950d01,#c32503,#df3f08,#f15d13,#e3db38,#bcf534,#92ff47,#5dfc6f,#32f298,#1ae4b6,#1ad4d0,#20c7df)"></i><i class="a" style="left:200px;width:2px;background:linear-gradient(#7a0403,#7a0403,#7a0403,#7a0403,#7a0403,#7a0403,#950d01,#c12302,#df3f08,#f15d13,#e3db38,#bcf534,#8fff49,#5dfc6f,#2ff19b,#1ae4b6,#1ad4d0,#20c7df)"></i><i class="a" style="left:202px;width:2px;background:linear-gradient(#7a0403,#7a0403,#7a0403,#7a0403,#7a0403,#7a0403,#950d01,#c12302,#df3f08,#f15d13,#e1dd37,#b9f635,#8fff49,#59fb73,#2ff19b,#1ae4b6,#1ad4d0,#20c7df)"></i><i class="a" style="left:204px;width:2px;background:linear-gradient(#7a0403,#7a0403,#7a0403,#7a0403,#7a0403,#7a0403,#950d01,#c12302,#df3f08,#f26014,#dfdf37,#b7f735,#8bff4b,#59fb73,#2ff19b,#19e3b9,#1ad4d0,#20c7df)"></i><i class="a" style="left:206px;width:2px;background:linear-gradient(#7a0403,#7a0403,#7a0403,#7a0403,#7a0403,#7a0403,#920b01,#c12302,#df3f08,#f26014,#dfdf37,#b7f735,#8bff4b,#55fa76,#2ff19b,#19e3b9,#1ad4d0,#20c7df)"></i><i class="a" style="left:208px;width:2px;background:linear-gradient(#7a0403,#7a0403,#7a0403,#7a0403,#7a0403,#7a0403,#920b01,#c12302,#df3f08,#f36315,#dde037,#b4f836,#88ff4e,#55fa76,#2cf09e,#19e3b9,#1ad2d2,#22c5e2)"></i><i class="a" style="left:210px;width:2px;background:linear-gradient(#7a0403,#7a0403,#7a0403,#7a0403,#7a0403,#7a0403,#920b01,#c12302,#df3f08,#f36315,#dde037,#b4f836,#88ff4e,#55fa76,#2cf09e,#19e3b9,#1ad2d2,#22c5e2)"></i><i class="a" style="left:212px;width:2px;background:linear-gradient(#7a0403,#7a0403,#7a0403,#7a0403,#7a0403,#7a0403,#920b01,#c12302,#df3f08,#f36315,#dbe236,#b1f936,#84ff51,#52fa7a,#2cf09e,#19e2bb,#1ad2d2,#22c5e2)"></i><i class="a" style="left:214px;width:2px;background:linear-gradient(#7a0403,#7a0403,#7a0403,#7a0403,#7a0403,#7a0403,#920b01,#c12302,#df3f08,#f46617,#d9e436,#b1f936,#84ff51,#52fa7a,#2aefa1,#19e2bb,#1ad2d2,#22c5e2)"></i><i class="a" style="left:216px;width:2px;background:linear-gradient(#7a0403,#7a0403,#7a0403,#7a0403,#7a0403,#7a0403,#920b01,#c12302,#df3f08,#f46617,#d9e436,#affa37,#84ff51,#52fa7a,#2aefa1,#19e2bb,#1ad2d2,#22c5e2)"></i><i class="a" style="left:218px;width:2px;background:linear-gradient(#7a0403,#7a0403,#7a0403,#7a0403,#7a0403,#7a0403,#920b01,#be2102,#dd3d08,#f46617,#d7e535,#affa37,#80ff53,#4ef97d,#2aefa1,#18e0bd,#1bd0d5,#23c3e4)"></i><i class="a" style="left:220px;width:2px;background:linear-gradient(#7a0403,#7a0403,#7a0403,#7a0403,#7a0403,#7a0403,#920b01,#c12302,#df3f08,#f56918,#d4e735,#acfb38,#80ff53,#4ef97d,#27eea4,#18e0bd,#1bd0d5,#23c3e4)"></i><i class="a" style="left:222px;width:2px;background:linear-gradient(#7a0403,#7a0403,#7a0403,#7a0403,#7a0403,#7a0403,#950d01,#c32503,#e14109,#f66c19,#d4e735,#acfb38,#7dff56,#4ef97d,#27eea4,#18e0bd,#1bd0d5,#23c3e4)"></i><i class="a" style="left:224px;width:2px;background:linear-gradient(#7a0403,#7a0403,#7a0403,#7a0403,#7a0403,#7a0403,#980e01,#c32503,#e14109,#f66c19,#d2e935,#a9fb39,#7dff56,#4af880,#27eea4,#18e0bd,#1bd0d5,#23c3e4)"></i><i class="a" style="left:226px;width:2px;background:linear-gradient(#7a0403,#7a0403,#7a0403,#7a0403,#7a0403,#7a0403,#980e01,#c52603,#e2430a,#f76f1a,#d2e935,#a9fb39,#7dff56,#4af880,#27eea4,#18e0bd,#1bd0d5,#23c3e4)"></i><i class="a" style="left:228px;width:2px;background:linear-gradient(#7a0403,#7a0403,#7a0403,#7a0403,#7a0403,#7a0403,#9b0f01,#c82803,#e4450a,#f8721c,#d0ea34,#a7fc3a,#79fe59,#4af880,#25eca7,#18dec0,#1ccdd8,#23c3e4)"></i><i class="a" style="left:230px;width:2px;background:linear-gradient(#7a0403,#7a0403,#7a0403,#7a0403,#7a0403,#7a0403,#9b0f01,#c82803,#e4450a,#f8721c,#d0ea34,#a7fc3a,#79fe59,#46f884,#25eca7,#18dec0,#1ccdd8,#25c0e7)"></i><i class="a" style="left:232px;width:2px;background:linear-gradient(#7a0403,#7a0403,#7a0403,#7a0403,#7a0403,#7a0403,#9e1001,#c82803,#e4450a,#f8721c,#d0ea34,#a7fc3a,#79fe59,#46f884,#25eca7,#18dec0,#1ccdd8,#25c0e7)"></i><i class="a" style="left:234px;width:2px;background:linear-gradient(#7a0403,#7a0403,#7a0403,#7a0403,#7a0403,#7a0403,#9e1001,#c82803,#e4450a,#f8721c,#d0ea34,#a7fc3a,#79fe59,#46f884,#25eca7,#18dec0,#1ccdd8,#25c0e7)"></i><i class="a" style="left:236px;width:2px;background:linear-gradient(#7a0403,#7a0403,#7a0403,#7a0403,#7a0403,#7a0403,#9b0f01,#c82803,#e4450a,#f8721c,#d0ea34,#a7fc3a,#79fe59,#46f884,#25eca7,#18dec0,#1ccdd8,#25c0e7)"></i><i class="a" style="left:238px;width:2px;background:linear-gradient(#7a0403,#7a0403,#7a0403,#7a0403,#7a0403,#7a0403,#9b0f01,#c82803,#e4450a,#f8721c,#d0ea34,#a7fc3a,#79fe59,#46f884,#25eca7,#18dec0,#1ccdd8,#25c0e7)"></i><i class="a" style="left:240px;width:2px;background:linear-gradient(#7a0403,#7a0403,#7a0403,#7a0403,#7a0403,#7a0403,#9b0f01,#c82803,#e4450a,#f8721c,#d0ea34,#a7fc3a,#79fe59,#46f884,#25eca7,#18dec0,#1ccdd8,#25c0e7)"></i><i class="a" style="left:242px;width:2px;background:linear-gradient(#7a0403,#7a0403,#7a0403,#7a0403,#7a0403,#7a0403,#9b0f01,#c82803,#e4450a,#f8721c,#d0ea34,#a7fc3a,#79fe59,#46f884,#25eca7,#18dec0,#1ccdd8,#25c0e7)"></i><i class="a" style="left:244px;width:2px;background:linear-gradient(#7a0403,#7a0403,#7a0403,#7a0403,#7a0403,#7a0403,#9b0f01,#c82803,#e4450a,#f8721c,#d0ea34,#a7fc3a,#79fe59,#46f884,#25eca7,#18dec0,#1ccdd8,#25c0e7)"></i><i class="a" style="left:246px;width:2px;background:linear-gradient(#7a0403,#7a0403,#7a0403,#7a0403,#7a0403,#7a0403,#9e1001,#ca2a04,#e5470b,#f9751d,#cdec34,#a7fc3a,#75fe5c,#46f884,#25eca7,#18dec0,#1ccdd8,#25c0e7)"></i><i class="a" style="left:248px;width:2px;background:linear-gradient(#7a0403,#7a0403,#7a0403,#7a0403,#7a0403,#7a0403,#a11201,#cc2b04,#e5470b,#f9781e,#cdec34,#a4fc3c,#75fe5c,#46f884,#25eca7,#18dec0,#1ccdd8,#25c0e7)"></i><i class="a" style="left:250px;width:2px;background:linear-gradient(#7a0403,#7a0403,#7a0403,#7a0403,#7a0403,#7a0403,#a11201,#cc2b04,#e7490c,#f9781e,#cbed34,#a4fc3c,#75fe5c,#43f787,#22ebaa,#18ddc2,#1ccdd8,#25c0e7)"></i><i class="a" style="left:252px;width:2px;background:linear-gradient(#7a0403,#7a0403,#7a0403,#7a0403,#7a0403,#7a0403,#a41301,#ce2d04,#e84b0c,#fa7b1f,#cbed34,#a1fd3d,#71fe5f,#43f787,#22ebaa,#18ddc2,#1ecbda,#25c0e7)"></i><i class="a" style="left:254px;width:2px;background:linear-gradient(#7a0403,#7a0403,#7a0403,#7a0403,#7a0403,#7a0403,#a71401,#ce2d04,#e84b0c,#fa7b1f,#cbed34,#a1fd3d,#71fe5f,#43f787,#22ebaa,#18ddc2,#1ecbda,#27bee9)"></i><i class="a" style="left:256px;width:2px;background:linear-gradient(#7a0403,#7a0403,#7a0403,#7a0403,#7a0403,#7a0403,#a71401,#d02f05,#e84b0c,#fa7b1f,#c8ef34,#a1fd3d,#71fe5f,#43f787,#22ebaa,#18ddc2,#1ecbda,#27bee9)"></i><i class="a" style="left:258px;width:2px;background:linear-gradient(#7a0403,#7a0403,#7a0403,#7a0403,#7a0403,#7a0403,#a71401,#ce2d04,#e84b0c,#fa7b1f,#cbed34,#a1fd3d,#71fe5f,#43f787,#22ebaa,#18ddc2,#1ecbda,#27bee9)"></i><i class="a" style="left:260px;width:2px;background:linear-gradient(#7a0403,#7a0403,#7a0403,#7a0403,#7a0403,#7a0403,#a41301,#ce2d04,#e7490c,#fa7b1f,#cbed34,#a1fd3d,#71fe5f,#43f787,#22ebaa,#18ddc2,#1ecbda,#27bee9)"></i><i class="a" style="left:262px;width:2px;background:linear-gradient(#7a0403,#7a0403,#7a0403,#7a0403,#7a0403,#7a0403,#9e1001,#ca2a04,#e5470b,#f9781e,#cdec34,#a4fc3c,#75fe5c,#43f787,#22ebaa,#18ddc2,#1ecbda,#27bee9)"></i><i class="a" style="left:264px;width:2px;background:linear-gradient(#7a0403,#7a0403,#7a0403,#7a0403,#7a0403,#7a0403,#9b0f01,#c82803,#e4450a,#f8721c,#d0ea34,#a7fc3a,#75fe5c,#46f884,#25eca7,#18ddc2,#1ccdd8,#25c0e7)"></i><i class="a" style="left:266px;width:2px;background:linear-gradient(#7a0403,#7a0403,#7a0403,#7a0403,#7a0403,#7a0403,#980e01,#c52603,#e2430a,#f76f1a,#d0ea34,#a7fc3a,#79fe59,#46f884,#25eca7,#18dec0,#1ccdd8,#25c0e7)"></i><i class="a" style="left:268px;width:2px;background:linear-gradient(#7a0403,#7a0403,#7a0403,#7a0403,#7a0403,#7a0403,#950d01,#c32503,#e14109,#f76f1a,#d2e935,#a9fb39,#79fe59,#4af880,#25eca7,#18dec0,#1ccdd8,#25c0e7)"></i><i class="a" style="left:270px;width:2px;background:linear-gradient(#7a0403,#7a0403,#7a0403,#7a0403,#7a0403,#7a0403,#920b01,#c12302,#df3f08,#f66c19,#d4e735,#a9fb39,#7dff56,#4af880,#25eca7,#18dec0,#1ccdd8,#25c0e7)"></i><i class="a" style="left:272px;width:2px;background:linear-gradient(#7a0403,#7a0403,#7a0403,#7a0403,#7a0403,#7a0403,#8e0a01,#be2102,#df3f08,#f56918,#d4e735,#a9fb39,#7dff56,#4af880,#25eca7,#18dec0,#1ccdd8,#25c0e7)"></i><i class="a" style="left:274px;width:2px;background:linear-gradient(#7a0403,#7a0403,#7a0403,#7a0403,#7a0403,#7a0403,#8b0902,#be2102,#dd3d08,#f56918,#d4e735,#acfb38,#7dff56,#4af880,#25eca7,#18dec0,#1ccdd8,#25c0e7)"></i><i class="a" style="left:276px;width:2px;background:linear-gradient(#7a0403,#7a0403,#7a0403,#7a0403,#7a0403,#7a0403,#8b0902,#bc2002,#dd3d08,#f46617,#d7e535,#acfb38,#7dff56,#4af880,#27eea4,#18dec0,#1ccdd8,#25c0e7)"></i><i class="a" style="left:278px;width:2px;background:linear-gradient(#7a0403,#7a0403,#7a0403,#7a0403,#7a0403,#7a0403,#880802,#bc2002,#dc3b07,#f46617,#d7e535,#acfb38,#7dff56,#4af880,#27eea4,#18dec0,#1ccdd8,#25c0e7)"></i><i class="a" style="left:280px;width:2px;background:linear-gradient(#7a0403,#7a0403,#7a0403,#7a0403,#7a0403,#7a0403,#880802,#b91e02,#dc3b07,#f46617,#d7e535,#acfb38,#80ff53,#4af880,#27eea4,#18dec0,#1ccdd8,#25c0e7)"></i><i class="a" style="left:282px;width:2px;background:linear-gradient(#7a0403,#7a0403,#7a0403,#7a0403,#7a0403,#7a0403,#850702,#b91e02,#da3907,#f36315,#d7e535,#affa37,#80ff53,#4ef97d,#27eea4,#18dec0,#1ccdd8,#25c0e7)"></i><i class="a" style="left:284px;width:2px;background:linear-gradient(#7a0403,#7a0403,#7a0403,#7a0403,#7a0403,#7a0403,#850702,#b71d02,#da3907,#f36315,#d9e436,#affa37,#80ff53,#4ef97d,#27eea4,#18dec0,#1ccdd8,#25c0e7)"></i><i class="a" style="left:286px;width:2px;background:linear-gradient(#7a0403,#7a0403,#7a0403,#7a0403,#7a0403,#7a0403,#810602,#b71d02,#da3907,#f36315,#d9e436,#affa37,#80ff53,#4ef97d,#27eea4,#18dec0,#1ccdd8,#25c0e7)"></i><i class="a" style="left:288px;width:2px;background:linear-gradient(#7a0403,#7a0403,#7a0403,#7a0403,#7a0403,#7a0403,#810602,#b71d02,#da3907,#f26014,#d9e436,#affa37,#80ff53,#4ef97d,#27eea4,#18dec0,#1ccdd8,#25c0e7)"></i><i class="a" style="left:290px;width:2px;background:linear-gradient(#7a0403,#7a0403,#7a0403,#7a0403,#7a0403,#7a0403,#810602,#b71d02,#d83706,#f26014,#d9e436,#affa37,#80ff53,#4ef97d,#27eea4,#18dec0,#1ccdd8,#25c0e7)"></i><i class="a" style="left:292px;width:2px;background:linear-gradient(#7a0403,#7a0403,#7a0403,#7a0403,#7a0403,#7a0403,#810602,#b71d02,#d83706,#f26014,#d9e436,#affa37,#80ff53,#4ef97d,#27eea4,#18dec0,#1ccdd8,#25c0e7)"></i><i class="a" style="left:294px;width:2px;background:linear-gradient(#7a0403,#7a0403,#7a0403,#7a0403,#7a0403,#7a0403,#810602,#b41b01,#d83706,#f26014,#d9e436,#affa37,#80ff53,#4ef97d,#27eea4,#18dec0,#1ccdd8,#25c0e7)"></i><i class="a" style="left:296px;width:2px;background:linear-gradient(#7a0403,#7a0403,#7a0403,#7a0403,#7a0403,#7a0403,#810602,#b41b01,#d83706,#f26014,#d9e436,#affa37,#80ff53,#4ef97d,#27eea4,#18dec0,#1ccdd8,#25c0e7)"></i><i class="a" style="left:298px;width:2px;background:linear-gradient(#7a0403,#7a0403,#7a0403,#7a0403,#7a0403,#7a0403,#810602,#b41b01,#d83706,#f26014,#d9e436,#affa37,#80ff53,#4ef97d,#27eea4,#18dec0,#1ccdd8,#25c0e7)"></i><i class="a" style="left:300px;width:2px;background:linear-gradient(#7a0403,#7a0403,#7a0403,#7a0403,#7a0403,#7a0403,#810602,#b71d02,#d83706,#f26014,#d9e436,#affa37,#80ff53,#4ef97d,#27eea4,#18dec0,#1ccdd8,#25c0e7)"></i><i class="a" style="left:302px;width:2px;background:linear-gradient(#7a0403,#7a0403,#7a0403,#7a0403,#7a0403,#7a0403,#810602,#b71d02,#d83706,#f26014,#d9e436,#affa37,#80ff53,#4ef97d,#27eea4,#18dec0,#1ccdd8,#25c0e7)"></i><i class="a" style="left:304px;width:2px;background:linear-gradient(#7a0403,#7a0403,#7a0403,#7a0403,#7a0403,#7a0403,#810602,#b71d02,#da3907,#f36315,#d9e436,#affa37,#80ff53,#4ef97d,#27eea4,#18dec0,#1ccdd8,#25c0e7)"></i><i class="a" style="left:306px;width:2px;background:linear-gradient(#7a0403,#7a0403,#7a0403,#7a0403,#7a0403,#7a0403,#810602,#b71d02,#da3907,#f36315,#d9e436,#affa37,#80ff53,#4af880,#27eea4,#18dec0,#1ccdd8,#25c0e7)"></i><i class="a" style="left:308px;width:2px;background:linear-gradient(#7a0403,#7a0403,#7a0403,#7a0403,#7a0403,#7a0403,#850702,#b91e02,#da3907,#f36315,#d7e535,#affa37,#80ff53,#4af880,#27eea4,#18dec0,#1ccdd8,#25c0e7)"></i><i class="a" style="left:310px;width:2px;background:linear-gradient(#7a0403,#7a0403,#7a0403,#7a0403,#7a0403,#7a0403,#850702,#b91e02,#dc3b07,#f46617,#d7e535,#acfb38,#7dff56,#4af880,#27eea4,#18dec0,#1ccdd8,#25c0e7)"></i><i class="a" style="left:312px;width:2px;background:linear-gradient(#7a0403,#7a0403,#7a0403,#7a0403,#7a0403,#7a0403,#880802,#b91e02,#dc3b07,#f46617,#d7e535,#acfb38,#7dff56,#4af880,#27eea4,#18dec0,#1ccdd8,#27bee9)"></i><i class="a" style="left:314px;width:2px;background:linear-gradient(#7a0403,#7a0403,#7a0403,#7a0403,#7a0403,#7a0403,#880802,#bc2002,#dd3d08,#f46617,#d4e735,#acfb38,#7dff56,#4af880,#25eca7,#18dec0,#1ccdd8,#27bee9)"></i><i class="a" style="left:316px;width:2px;background:linear-gradient(#7a0403,#7a0403,#7a0403,#7a0403,#7a0403,#7a0403,#8b0902,#be2102,#dd3d08,#f56918,#d4e735,#acfb38,#7dff56,#4af880,#25eca7,#18dec0,#1ccdd8,#27bee9)"></i><i class="a" style="left:318px;width:2px;background:linear-gradient(#7a0403,#7a0403,#7a0403,#7a0403,#7a0403,#7a0403,#8e0a01,#be2102,#df3f08,#f66c19,#d4e735,#a9fb39,#7dff56,#4af880,#25eca7,#18dec0,#1ccdd8,#27bee9)"></i><i class="a" style="left:320px;width:2px;background:linear-gradient(#7a0403,#7a0403,#7a0403,#7a0403,#7a0403,#7a0403,#8e0a01,#c12302,#e14109,#f66c19,#d2e935,#a9fb39,#79fe59,#46f884,#25eca7,#18dec0,#1ccdd8,#27bee9)"></i><i class="a" style="left:322px;width:2px;background:linear-gradient(#7a0403,#7a0403,#7a0403,#7a0403,#7a0403,#7a0403,#920b01,#c32503,#e14109,#f76f1a,#d2e935,#a7fc3a,#79fe59,#46f884,#25eca7,#18dec0,#1ccdd8,#27bee9)"></i><i class="a" style="left:324px;width:2px;background:linear-gradient(#7a0403,#7a0403,#7a0403,#7a0403,#7a0403,#7a0403,#950d01,#c52603,#e2430a,#f8721c,#d0ea34,#a7fc3a,#79fe59,#46f884,#25eca7,#18ddc2,#1ccdd8,#27bee9)"></i><i class="a" style="left:326px;width:2px;background:linear-gradient(#7a0403,#7a0403,#7a0403,#7a0403,#7a0403,#7a0403,#980e01,#c82803,#e4450a,#f9751d,#cdec34,#a4fc3c,#75fe5c,#46f884,#22ebaa,#18ddc2,#1ecbda,#27bee9)"></i><i class="a" style="left:328px;width:2px;background:linear-gradient(#7a0403,#7a0403,#7a0403,#7a0403,#7a0403,#7a0403,#9b0f01,#c82803,#e5470b,#f9751d,#cdec34,#a4fc3c,#75fe5c,#43f787,#22ebaa,#18ddc2,#1ecbda,#27bee9)"></i><i class="a" style="left:330px;width:2px;background:linear-gradient(#7a0403,#7a0403,#7a0403,#7a0403,#7a0403,#7a0403,#9e1001,#ca2a04,#e7490c,#f9781e,#cbed34,#a4fc3c,#75fe5c,#43f787,#22ebaa,#18ddc2,#1ecbda,#27bee9)"></i><i class="a" style="left:332px;width:2px;background:linear-gradient(#7a0403,#7a0403,#7a0403,#7a0403,#7a0403,#7a0403,#a11201,#cc2b04,#e7490c,#fa7b1f,#cbed34,#a1fd3d,#71fe5f,#43f787,#22ebaa,#18ddc2,#1ecbda,#27bee9)"></i><i class="a" style="left:334px;width:2px;background:linear-gradient(#7a0403,#7a0403,#7a0403,#7a0403,#7a0403,#7a0403,#a11201,#ce2d04,#e84b0c,#fa7b1f,#c8ef34,#a1fd3d,#71fe5f,#43f787,#22ebaa,#18ddc2,#1ecbda,#27bee9)"></i><i class="a" style="left:336px;width:2px;background:linear-gradient(#7a0403,#7a0403,#7a0403,#7a0403,#7a0403,#7a0403,#a41301,#ce2d04,#e84b0c,#fb7e21,#c8ef34,#a1fd3d,#71fe5f,#43f787,#22ebaa,#18ddc2,#1ecbda,#27bee9)"></i><i class="a" style="left:338px;width:2px;background:linear-gradient(#7a0403,#7a0403,#7a0403,#7a0403,#7a0403,#7a0403,#a41301,#ce2d04,#ea4e0d,#fb7e21,#c8ef34,#9ffd3f,#71fe5f,#3ff68a,#22ebaa,#18ddc2,#1ecbda,#27bee9)"></i><i class="a" style="left:340px;width:2px;background:linear-gradient(#7a0403,#7a0403,#7a0403,#7a0403,#7a0403,#7a0403,#a41301,#d02f05,#ea4e0d,#fb7e21,#c8ef34,#9ffd3f,#71fe5f,#3ff68a,#20eaac,#18ddc2,#1ecbda,#27bee9)"></i><i class="a" style="left:342px;width:2px;background:linear-gradient(#7a0403,#7a0403,#7a0403,#7a0403,#7a0403,#7a0403,#a71401,#d02f05,#ea4e0d,#fb7e21,#c8ef34,#9ffd3f,#71fe5f,#3ff68a,#20eaac,#18ddc2,#1ecbda,#27bee9)"></i><i class="a" style="left:344px;width:2px;background:linear-gradient(#7a0403,#7a0403,#7a0403,#7a0403,#7a0403,#7a0403,#a41301,#d02f05,#ea4e0d,#fb7e21,#c8ef34,#9ffd3f,#71fe5f,#3ff68a,#22ebaa,#18ddc2,#1ecbda,#27bee9)"></i><i class="a" style="left:346px;width:2px;background:linear-gradient(#7a0403,#7a0403,#7a0403,#7a0403,#7a0403,#7a0403,#a11201,#cc2b04,#e84b0c,#fa7b1f,#c8ef34,#a1fd3d,#71fe5f,#43f787,#22ebaa,#18ddc2,#1ecbda,#27bee9)"></i><i class="a" style="left:348px;width:2px;background:linear-gradient(#7a0403,#7a0403,#7a0403,#7a0403,#7a0403,#7a0403,#9b0f01,#ca2a04,#e5470b,#f9781e,#cbed34,#a4fc3c,#75fe5c,#46f884,#22ebaa,#18dec0,#1ccdd8,#27bee9)"></i><i class="a" style="left:350px;width:2px;background:linear-gradient(#7a0403,#7a0403,#7a0403,#7a0403,#7a0403,#7a0403,#980e01,#c52603,#e4450a,#f9751d,#cdec34,#a7fc3a,#79fe59,#46f884,#25eca7,#18dec0,#1ccdd8,#27bee9)"></i><i class="a" style="left:352px;width:2px;background:linear-gradient(#7a0403,#7a0403,#7a0403,#7a0403,#7a0403,#7a0403,#950d01,#c52603,#e4450a,#f8721c,#d0ea34,#a7fc3a,#79fe59,#46f884,#25eca7,#18dec0,#1ccdd8,#25c0e7)"></i><i class="a" style="left:354px;width:2px;background:linear-gradient(#7a0403,#7a0403,#7a0403,#7a0403,#7a0403,#7a0403,#980e01,#c82803,#e4450a,#f9751d,#cdec34,#a4fc3c,#75fe5c,#46f884,#25eca7,#18dec0,#1ccdd8,#27bee9)"></i><i class="a" style="left:356px;width:2px;background:linear-gradient(#7a0403,#7a0403,#7a0403,#7a0403,#7a0403,#7a0403,#9e1001,#cc2b04,#e7490c,#f9781e,#cbed34,#a1fd3d,#75fe5c,#43f787,#25eca7,#18dec0,#1ccdd8,#27bee9)"></i><i class="a" style="left:358px;width:2px;background:linear-gradient(#7a0403,#7a0403,#7a0403,#7a0403,#7a0403,#7a0403,#a41301,#ce2d04,#ea4e0d,#fb7e21,#c8ef34,#a1fd3d,#71fe5f,#43f787,#22ebaa,#18ddc2,#1ccdd8,#27bee9)"></i><i class="a" style="left:360px;width:2px;background:linear-gradient(#7a0403,#7a0403,#7a0403,#7a0403,#7a0403,#7a0403,#a71401,#d02f05,#eb500e,#fb8122,#c6f034,#9ffd3f,#71fe5f,#43f787,#22ebaa,#18ddc2,#1ccdd8,#27bee9)"></i><i class="a" style="left:362px;width:2px;background:linear-gradient(#7a0403,#7a0403,#7a0403,#7a0403,#7a0403,#7a0403,#a71401,#d02f05,#eb500e,#fb8122,#c6f034,#9ffd3f,#71fe5f,#43f787,#22ebaa,#18ddc2,#1ccdd8,#27bee9)"></i><i class="a" style="left:364px;width:2px;background:linear-gradient(#7a0403,#7a0403,#7a0403,#7a0403,#7a0403,#7a0403,#a41301,#ce2d04,#e84b0c,#fb7e21,#c8ef34,#a1fd3d,#71fe5f,#43f787,#22ebaa,#18dec0,#1ccdd8,#27bee9)"></i><i class="a" style="left:366px;width:2px;background:linear-gradient(#7a0403,#7a0403,#7a0403,#7a0403,#7a0403,#7a0403,#9e1001,#cc2b04,#e7490c,#fa7b1f,#cbed34,#a1fd3d,#75fe5c,#43f787,#25eca7,#18dec0,#1ccdd8,#27bee9)"></i><i class="a" style="left:368px;width:2px;background:linear-gradient(#7a0403,#7a0403,#7a0403,#7a0403,#7a0403,#7a0403,#9e1001,#ca2a04,#e7490c,#fa7b1f,#cbed34,#a1fd3d,#75fe5c,#46f884,#25eca7,#18dec0,#1ccdd8,#27bee9)"></i><i class="a" style="left:370px;width:2px;background:linear-gradient(#7a0403,#7a0403,#7a0403,#7a0403,#7a0403,#7a0403,#a11201,#cc2b04,#e84b0c,#fa7b1f,#c8ef34,#a1fd3d,#71fe5f,#43f787,#22ebaa,#18dec0,#1ccdd8,#27bee9)"></i><i class="a" style="left:372px;width:2px;background:linear-gradient(#7a0403,#7a0403,#7a0403,#7a0403,#7a0403,#7a0403,#a71401,#d02f05,#eb500e,#fb8122,#c6f034,#9ffd3f,#71fe5f,#43f787,#22ebaa,#18ddc2,#1ccdd8,#27bee9)"></i><i class="a" style="left:374px;width:2px;background:linear-gradient(#7a0403,#7a0403,#7a0403,#7a0403,#7a0403,#7a0403,#af1801,#d63506,#ed5510,#fc8725,#c1f334,#9cfe40,#69fd66,#3ff68a,#20eaac,#18ddc2,#1ecbda,#27bee9)"></i><i class="a" style="left:376px;width:2px;background:linear-gradient(#7a0403,#7a0403,#7a0403,#7a0403,#7a0403,#7a0403,#b71d02,#dc3b07,#f15d13,#fe9029,#bcf534,#96fe44,#65fd69,#3cf58e,#1fe9af,#18dbc5,#1ecbda,#28bceb)"></i><i class="a" style="left:378px;width:2px;background:linear-gradient(#7a0403,#7a0403,#7a0403,#7a0403,#7a0403,#7a0403,#be2102,#df3f08,#f36315,#fe962b,#b9f635,#92ff47,#61fc6c,#38f491,#1fe9af,#18d9c8,#1fc9dd,#28bceb)"></i><i class="a" style="left:380px;width:2px;background:linear-gradient(#7a0403,#7a0403,#7a0403,#7a0403,#7a0403,#7a0403,#c12302,#e2430a,#f56918,#fe992c,#b7f735,#8fff49,#5dfc6f,#35f394,#1de7b2,#18d9c8,#1fc9dd,#28bceb)"></i><i class="a" style="left:382px;width:2px;background:linear-gradient(#7a0403,#7a0403,#7a0403,#7a0403,#7a0403,#7a0403,#c32503,#e4450a,#f56918,#fe9b2d,#b4f836,#8bff4b,#5dfc6f,#35f394,#1de7b2,#18d9c8,#1fc9dd,#28bceb)"></i><i class="a" style="left:384px;width:2px;background:linear-gradient(#7a0403,#7a0403,#7a0403,#7a0403,#7a0403,#7a0403,#c12302,#e2430a,#f46617,#fe992c,#b7f735,#8fff49,#61fc6c,#35f394,#1de7b2,#18d9c8,#1fc9dd,#28bceb)"></i><i class="a" style="left:386px;width:2px;background:linear-gradient(#7a0403,#7a0403,#7a0403,#7a0403,#7a0403,#7a0403,#b91e02,#dd3d08,#f26014,#fe932a,#bcf534,#96fe44,#65fd69,#38f491,#1fe9af,#18dbc5,#1ecbda,#28bceb)"></i><i class="a" style="left:388px;width:2px;background:linear-gradient(#7a0403,#7a0403,#7a0403,#7a0403,#7a0403,#7a0403,#af1801,#d83706,#ef5811,#fd8a26,#c1f334,#99fe42,#69fd66,#3cf58e,#20eaac,#18ddc2,#1ecbda,#28bceb)"></i><i class="a" style="left:390px;width:2px;background:linear-gradient(#7a0403,#7a0403,#7a0403,#7a0403,#7a0403,#7a0403,#ac1701,#d43305,#ec530f,#fc8725,#c3f134,#9cfe40,#6dfe62,#3ff68a,#20eaac,#18ddc2,#1ecbda,#27bee9)"></i><i class="a" style="left:392px;width:2px;background:linear-gradient(#7a0403,#7a0403,#7a0403,#7a0403,#7a0403,#7a0403,#a91601,#d43305,#ec530f,#fc8423,#c3f134,#9cfe40,#6dfe62,#3ff68a,#20eaac,#18ddc2,#1ecbda,#27bee9)"></i><i class="a" style="left:394px;width:2px;background:linear-gradient(#7a0403,#7a0403,#7a0403,#7a0403,#7a0403,#7a0403,#a91601,#d43305,#ec530f,#fc8423,#c3f134,#9cfe40,#6dfe62,#3ff68a,#20eaac,#18ddc2,#1ecbda,#27bee9)"></i><i class="a" style="left:396px;width:2px;background:linear-gradient(#7a0403,#7a0403,#7a0403,#7a0403,#7a0403,#7a0403,#a91601,#d43305,#ec530f,#fc8423,#c3f134,#9cfe40,#6dfe62,#3ff68a,#20eaac,#18ddc2,#1ccdd8,#27bee9)"></i><i class="a" style="left:398px;width:2px;background:linear-gradient(#7a0403,#7a0403,#7a0403,#7a0403,#7a0403,#7a0403,#a91601,#d43305,#ec530f,#fc8423,#c3f134,#9cfe40,#6dfe62,#3ff68a,#20eaac,#18ddc2,#1ccdd8,#27bee9)"></i><i class="a" style="left:400px;width:2px;background:linear-gradient(#7a0403,#7a0403,#7a0403,#7a0403,#7a0403,#7a0403,#a91601,#d43305,#ec530f,#fc8423,#c3f134,#9cfe40,#6dfe62,#3ff68a,#20eaac,#18ddc2,#1ecbda,#27bee9)"></i><i class="a" style="left:402px;width:2px;background:linear-gradient(#7a0403,#7a0403,#7a0403,#7a0403,#7a0403,#7a0403,#a91601,#d23105,#ec530f,#fc8423,#c3f134,#9cfe40,#6dfe62,#3ff68a,#20eaac,#18ddc2,#1ecbda,#27bee9)"></i><i class="a" style="left:404px;width:2px;background:linear-gradient(#7a0403,#7a0403,#7a0403,#7a0403,#7a0403,#7a0403,#a91601,#d23105,#ec530f,#fc8423,#c3f134,#9cfe40,#6dfe62,#3ff68a,#20eaac,#18ddc2,#1ecbda,#27bee9)"></i><i class="a" style="left:406px;width:2px;background:linear-gradient(#7a0403,#7a0403,#7a0403,#7a0403,#7a0403,#7a0403,#a71401,#d23105,#eb500e,#fc8423,#c3f134,#9cfe40,#6dfe62,#3ff68a,#22ebaa,#18ddc2,#1ecbda,#27bee9)"></i><i class="a" style="left:408px;width:2px;background:linear-gradient(#7a0403,#7a0403,#7a0403,#7a0403,#7a0403,#7a0403,#a41301,#d02f05,#ea4e0d,#fb8122,#c6f034,#9ffd3f,#6dfe62,#3ff68a,#22ebaa,#18ddc2,#1ecbda,#27bee9)"></i><i class="a" style="left:410px;width:2px;background:linear-gradient(#7a0403,#7a0403,#7a0403,#7a0403,#7a0403,#7a0403,#a11201,#ce2d04,#ea4e0d,#fb7e21,#c6f034,#9ffd3f,#71fe5f,#43f787,#22ebaa,#18ddc2,#1ccdd8,#27bee9)"></i><i class="a" style="left:412px;width:2px;background:linear-gradient(#7a0403,#7a0403,#7a0403,#7a0403,#7a0403,#7a0403,#9e1001,#cc2b04,#e84b0c,#fa7b1f,#c8ef34,#a1fd3d,#71fe5f,#43f787,#22ebaa,#18ddc2,#1ccdd8,#27bee9)"></i><i class="a" style="left:414px;width:2px;background:linear-gradient(#7a0403,#7a0403,#7a0403,#7a0403,#7a0403,#7a0403,#9e1001,#ca2a04,#e7490c,#fa7b1f,#c8ef34,#a1fd3d,#71fe5f,#43f787,#22ebaa,#18ddc2,#1ccdd8,#27bee9)"></i><i class="a" style="left:416px;width:2px;background:linear-gradient(#7a0403,#7a0403,#7a0403,#7a0403,#7a0403,#7a0403,#9b0f01,#ca2a04,#e7490c,#f9781e,#cbed34,#a1fd3d,#75fe5c,#43f787,#22ebaa,#18dec0,#1ccdd8,#27bee9)"></i><i class="a" style="left:418px;width:2px;background:linear-gradient(#7a0403,#7a0403,#7a0403,#7a0403,#7a0403,#7a0403,#9b0f01,#ca2a04,#e7490c,#f9781e,#cbed34,#a1fd3d,#75fe5c,#43f787,#22ebaa,#18dec0,#1ccdd8,#27bee9)"></i><i class="a" style="left:420px;width:2px;background:linear-gradient(#7a0403,#7a0403,#7a0403,#7a0403,#7a0403,#7a0403,#9e1001,#cc2b04,#e84b0c,#fa7b1f,#c8ef34,#a1fd3d,#71fe5f,#43f787,#22ebaa,#18ddc2,#1ccdd8,#27bee9)"></i><i class="a" style="left:422px;width:2px;background:linear-gradient(#7a0403,#7a0403,#7a0403,#7a0403,#7a0403,#7a0403,#a11201,#ce2d04,#ea4e0d,#fb7e21,#c6f034,#9ffd3f,#71fe5f,#43f787,#22ebaa,#18ddc2,#1ccdd8,#28bceb)"></i><i class="a" style="left:424px;width:2px;background:linear-gradient(#7a0403,#7a0403,#7a0403,#7a0403,#7a0403,#7a0403,#a41301,#ce2d04,#ea4e0d,#fb8122,#c6f034,#9ffd3f,#6dfe62,#3ff68a,#22ebaa,#18ddc2,#1ecbda,#28bceb)"></i><i class="a" style="left:426px;width:2px;background:linear-gradient(#7a0403,#7a0403,#7a0403,#7a0403,#7a0403,#7a0403,#a11201,#cc2b04,#e84b0c,#fb7e21,#c8ef34,#9ffd3f,#71fe5f,#43f787,#22ebaa,#18ddc2,#1ccdd8,#27bee9)"></i><i class="a" style="left:428px;width:2px;background:linear-gradient(#7a0403,#7a0403,#7a0403,#7a0403,#7a0403,#7a0403,#9b0f01,#ca2a04,#e5470b,#f9781e,#cbed34,#a1fd3d,#75fe5c,#43f787,#25eca7,#18dec0,#1ccdd8,#27bee9)"></i><i class="a" style="left:430px;width:2px;background:linear-gradient(#7a0403,#7a0403,#7a0403,#7a0403,#7a0403,#7a0403,#950d01,#c82803,#e4450a,#f9751d,#cbed34,#a4fc3c,#75fe5c,#46f884,#25eca7,#18dec0,#1ccdd8,#27bee9)"></i><i class="a" style="left:432px;width:2px;background:linear-gradient(#7a0403,#7a0403,#7a0403,#7a0403,#7a0403,#7a0403,#980e01,#c82803,#e5470b,#f9781e,#cbed34,#a4fc3c,#75fe5c,#46f884,#25eca7,#18dec0,#1ccdd8,#27bee9)"></i><i class="a" style="left:434px;width:2px;background:linear-gradient(#7a0403,#7a0403,#7a0403,#7a0403,#7a0403,#7a0403,#9e1001,#ca2a04,#e7490c,#fa7b1f,#c8ef34,#a1fd3d,#71fe5f,#43f787,#25eca7,#18dec0,#1ccdd8,#27bee9)"></i><i class="a" style="left:436px;width:2px;background:linear-gradient(#7a0403,#7a0403,#7a0403,#7a0403,#7a0403,#7a0403,#a11201,#ce2d04,#e84b0c,#fb7e21,#c6f034,#9ffd3f,#71fe5f,#43f787,#22ebaa,#18dec0,#1ccdd8,#27bee9)"></i><i class="a" style="left:438px;width:2px;background:linear-gradient(#7a0403,#7a0403,#7a0403,#7a0403,#7a0403,#7a0403,#a71401,#d02f05,#eb500e,#fb8122,#c6f034,#9ffd3f,#6dfe62,#3ff68a,#22ebaa,#18ddc2,#1ccdd8,#28bceb)"></i><i class="a" style="left:440px;width:2px;background:linear-gradient(#7a0403,#7a0403,#7a0403,#7a0403,#7a0403,#7a0403,#a91601,#d43305,#ec530f,#fc8423,#c3f134,#9cfe40,#6dfe62,#3ff68a,#20eaac,#18ddc2,#1ecbda,#28bceb)"></i><i class="a" style="left:442px;width:2px;background:linear-gradient(#7a0403,#7a0403,#7a0403,#7a0403,#7a0403,#7a0403,#af1801,#d63506,#ed5510,#fd8a26,#c1f334,#99fe42,#69fd66,#3cf58e,#20eaac,#18ddc2,#1ecbda,#28bceb)"></i><i class="a" style="left:444px;width:2px;background:linear-gradient(#7a0403,#7a0403,#7a0403,#7a0403,#7a0403,#7a0403,#b21a01,#da3907,#f05b12,#fd8d27,#bef434,#99fe42,#69fd66,#3cf58e,#20eaac,#18dbc5,#1ecbda,#28bceb)"></i><i class="a" style="left:446px;width:2px;background:linear-gradient(#7a0403,#7a0403,#7a0403,#7a0403,#7a0403,#7a0403,#b71d02,#dc3b07,#f15d13,#fe9029,#bcf534,#96fe44,#65fd69,#38f491,#1fe9af,#18dbc5,#1fc9dd,#28bceb)"></i><i class="a" style="left:448px;width:2px;background:linear-gradient(#7a0403,#7a0403,#7a0403,#7a0403,#7a0403,#7a0403,#bc2002,#df3f08,#f36315,#fe962b,#b9f635,#92ff47,#61fc6c,#38f491,#1de7b2,#18d9c8,#1fc9dd,#2ab9ee)"></i><i class="a" style="left:450px;width:2px;background:linear-gradient(#7a0403,#7a0403,#7a0403,#7a0403,#7a0403,#7a0403,#c12302,#e2430a,#f46617,#fe992c,#b7f735,#8fff49,#5dfc6f,#35f394,#1de7b2,#18d9c8,#1fc9dd,#2ab9ee)"></i><i class="a" style="left:452px;width:2px;background:linear-gradient(#7a0403,#7a0403,#7a0403,#7a0403,#7a0403,#7a0403,#c52603,#e5470b,#f66c19,#fe9b2d,#b4f836,#8bff4b,#5dfc6f,#32f298,#1ce6b4,#18d7ca,#20c7df,#2ab9ee)"></i><i class="a" style="left:454px;width:2px;background:linear-gradient(#7a0403,#7a0403,#7a0403,#7a0403,#7a0403,#7a0403,#ca2a04,#e7490c,#f76f1a,#fea130,#b1f936,#88ff4e,#59fb73,#32f298,#1ce6b4,#18d7ca,#20c7df,#2cb7f0)"></i><i class="a" style="left:456px;width:2px;background:linear-gradient(#7a0403,#7a0403,#7a0403,#7a0403,#7a0403,#7a0403,#cc2b04,#e84b0c,#f8721c,#fea130,#b1f936,#88ff4e,#55fa76,#2ff19b,#1ae4b6,#18d7ca,#20c7df,#2cb7f0)"></i><i class="a" style="left:458px;width:2px;background:linear-gradient(#7a0403,#7a0403,#7a0403,#7a0403,#7a0403,#7a0403,#cc2b04,#e84b0c,#f8721c,#fea130,#b1f936,#88ff4e,#59fb73,#2ff19b,#1ae4b6,#19d5cd,#22c5e2,#2cb7f0)"></i><i class="a" style="left:460px;width:2px;background:linear-gradient(#7a0403,#7a0403,#7a0403,#7a0403,#7a0403,#7a0403,#c52603,#e5470b,#f66c19,#fe9b2d,#b4f836,#8bff4b,#5dfc6f,#32f298,#1ce6b4,#18d7ca,#20c7df,#2cb7f0)"></i><i class="a" style="left:462px;width:2px;background:linear-gradient(#7a0403,#7a0403,#7a0403,#7a0403,#7a0403,#7a0403,#be2102,#e14109,#f36315,#fe962b,#b9f635,#92ff47,#61fc6c,#35f394,#1de7b2,#18d7ca,#20c7df,#2ab9ee)"></i><i class="a" style="left:464px;width:2px;background:linear-gradient(#7a0403,#7a0403,#7a0403,#7a0403,#7a0403,#7a0403,#b91e02,#dd3d08,#f15d13,#fe9029,#bef434,#96fe44,#65fd69,#38f491,#1de7b2,#18d9c8,#20c7df,#2ab9ee)"></i><i class="a" style="left:466px;width:2px;background:linear-gradient(#7a0403,#7a0403,#7a0403,#7a0403,#7a0403,#7a0403,#b71d02,#da3907,#f05b12,#fd8d27,#c1f334,#99fe42,#65fd69,#38f491,#1fe9af,#18d9c8,#1fc9dd,#2ab9ee)"></i><i class="a" style="left:468px;width:2px;background:linear-gradient(#7a0403,#7a0403,#7a0403,#7a0403,#7a0403,#7a0403,#b21a01,#d83706,#ef5811,#fc8725,#c1f334,#99fe42,#69fd66,#3cf58e,#1fe9af,#18d9c8,#1fc9dd,#2ab9ee)"></i><i class="a" style="left:470px;width:2px;background:linear-gradient(#7a0403,#7a0403,#7a0403,#7a0403,#7a0403,#7a0403,#af1801,#d63506,#ec530f,#fc8423,#c3f134,#9cfe40,#69fd66,#3cf58e,#1fe9af,#18dbc5,#1fc9dd,#2ab9ee)"></i><i class="a" style="left:472px;width:2px;background:linear-gradient(#7a0403,#7a0403,#7a0403,#7a0403,#7a0403,#7a0403,#ac1701,#d23105,#eb500e,#fb8122,#c6f034,#9ffd3f,#6dfe62,#3cf58e,#1fe9af,#18dbc5,#1fc9dd,#2ab9ee)"></i><i class="a" style="left:474px;width:2px;background:linear-gradient(#7a0403,#7a0403,#7a0403,#7a0403,#7a0403,#7a0403,#a71401,#d02f05,#ea4e0d,#fb7e21,#c8ef34,#9ffd3f,#6dfe62,#3ff68a,#20eaac,#18dbc5,#1fc9dd,#2ab9ee)"></i><i class="a" style="left:476px;width:2px;background:linear-gradient(#7a0403,#7a0403,#7a0403,#7a0403,#7a0403,#7a0403,#a41301,#ce2d04,#e7490c,#f9781e,#cbed34,#a1fd3d,#71fe5f,#3ff68a,#20eaac,#18dbc5,#1fc9dd,#2ab9ee)"></i><i class="a" style="left:478px;width:2px;background:linear-gradient(#7a0403,#7a0403,#7a0403,#7a0403,#7a0403,#7a0403,#9e1001,#ca2a04,#e5470b,#f9751d,#cdec34,#a4fc3c,#71fe5f,#43f787,#20eaac,#18dbc5,#1fc9dd,#2ab9ee)"></i><i class="a" style="left:480px;width:2px;background:linear-gradient(#7a0403,#7a0403,#7a0403,#7a0403,#7a0403,#7a0403,#9b0f01,#c82803,#e4450a,#f8721c,#d0ea34,#a7fc3a,#75fe5c,#43f787,#20eaac,#18dbc5,#1fc9dd,#2ab9ee)"></i><i class="a" style="left:482px;width:2px;background:linear-gradient(#7a0403,#7a0403,#7a0403,#7a0403,#7a0403,#7a0403,#920b01,#c12302,#df3f08,#f66c19,#d4e735,#a9fb39,#79fe59,#46f884,#22ebaa,#18dbc5,#1fc9dd,#2ab9ee)"></i><i class="a" style="left:484px;width:2px;background:linear-gradient(#7a0403,#7a0403,#7a0403,#7a0403,#7a0403,#7a0403,#8b0902,#be2102,#dd3d08,#f46617,#d7e535,#acfb38,#7dff56,#46f884,#22ebaa,#18ddc2,#1fc9dd,#2ab9ee)"></i><i class="a" style="left:486px;width:2px;background:linear-gradient(#7a0403,#7a0403,#7a0403,#7a0403,#7a0403,#7a0403,#8b0902,#bc2002,#dc3b07,#f46617,#d7e535,#acfb38,#7dff56,#46f884,#22ebaa,#18dbc5,#1fc9dd,#2ab9ee)"></i><i class="a" style="left:488px;width:2px;background:linear-gradient(#7a0403,#7a0403,#7a0403,#7a0403,#7a0403,#7a0403,#920b01,#c12302,#df3f08,#f56918,#d7e535,#a9fb39,#79fe59,#43f787,#20eaac,#18dbc5,#1fc9dd,#2ab9ee)"></i><i class="a" style="left:490px;width:2px;background:linear-gradient(#7a0403,#7a0403,#7a0403,#7a0403,#7a0403,#7a0403,#980e01,#c52603,#e2430a,#f76f1a,#d2e935,#a7fc3a,#75fe5c,#3ff68a,#20eaac,#18d9c8,#20c7df,#2cb7f0)"></i><i class="a" style="left:492px;width:2px;background:linear-gradient(#7a0403,#7a0403,#7a0403,#7a0403,#7a0403,#7a0403,#9e1001,#ca2a04,#e4450a,#f8721c,#d0ea34,#a4fc3c,#71fe5f,#3ff68a,#1fe9af,#18d7ca,#22c5e2,#2cb7f0)"></i><i class="a" style="left:494px;width:2px;background:linear-gradient(#7a0403,#7a0403,#7a0403,#7a0403,#7a0403,#7a0403,#a41301,#cc2b04,#e7490c,#f9751d,#cdec34,#a1fd3d,#6dfe62,#3cf58e,#1de7b2,#18d7ca,#22c5e2,#2eb4f2)"></i><i class="a" style="left:496px;width:2px;background:linear-gradient(#7a0403,#7a0403,#7a0403,#7a0403,#7a0403,#7a0403,#a41301,#cc2b04,#e7490c,#f9751d,#cdec34,#a1fd3d,#6dfe62,#3cf58e,#1de7b2,#18d7ca,#22c5e2,#2eb4f2)"></i><i class="a" style="left:498px;width:2px;background:linear-gradient(#7a0403,#7a0403,#7a0403,#7a0403,#7a0403,#7a0403,#a11201,#cc2b04,#e5470b,#f9751d,#d0ea34,#a4fc3c,#6dfe62,#3cf58e,#1de7b2,#18d7ca,#23c3e4,#2eb4f2)"></i><i class="a" style="left:500px;width:2px;background:linear-gradient(#7a0403,#7a0403,#7a0403,#7a0403,#7a0403,#7a0403,#9e1001,#c82803,#e4450a,#f76f1a,#d2e935,#a4fc3c,#71fe5f,#3cf58e,#1de7b2,#18d7ca,#22c5e2,#2eb4f2)"></i><i class="a" style="left:502px;width:2px;background:linear-gradient(#7a0403,#7a0403,#7a0403,#7a0403,#7a0403,#7a0403,#980e01,#c52603,#e14109,#f66c19,#d4e735,#a7fc3a,#71fe5f,#3ff68a,#1fe9af,#18d7ca,#22c5e2,#2eb4f2)"></i><i class="a" style="left:504px;width:2px;background:linear-gradient(#7a0403,#7a0403,#7a0403,#7a0403,#7a0403,#7a0403,#920b01,#c12302,#df3f08,#f46617,#d7e535,#a9fb39,#75fe5c,#3ff68a,#1fe9af,#18d7ca,#22c5e2,#2eb4f2)"></i><i class="a" style="left:506px;width:2px;background:linear-gradient(#7a0403,#7a0403,#7a0403,#7a0403,#7a0403,#7a0403,#8e0a01,#bc2002,#dc3b07,#f36315,#d9e436,#acfb38,#79fe59,#43f787,#1fe9af,#18d9c8,#22c5e2,#2cb7f0)"></i><i class="a" style="left:508px;width:2px;background:linear-gradient(#7a0403,#7a0403,#7a0403,#7a0403,#7a0403,#7a0403,#880802,#b91e02,#da3907,#f26014,#dbe236,#affa37,#79fe59,#43f787,#20eaac,#18d9c8,#22c5e2,#2cb7f0)"></i><i class="a" style="left:510px;width:2px;background:linear-gradient(#7a0403,#7a0403,#7a0403,#7a0403,#7a0403,#7a0403,#880802,#b71d02,#d83706,#f15d13,#dde037,#affa37,#7dff56,#43f787,#20eaac,#18d9c8,#22c5e2,#2cb7f0)"></i><i class="a" style="left:512px;width:2px;background:linear-gradient(#7a0403,#7a0403,#7a0403,#7a0403,#7a0403,#7a0403,#850702,#b71d02,#d83706,#f15d13,#dde037,#affa37,#7dff56,#46f884,#20eaac,#18d9c8,#22c5e2,#2cb7f0)"></i><i class="a" style="left:514px;width:2px;background:linear-gradient(#7a0403,#7a0403,#7a0403,#7a0403,#7a0403,#7a0403,#850702,#b71d02,#d63506,#f05b12,#dde037,#affa37,#7dff56,#46f884,#20eaac,#18d9c8,#22c5e2,#2cb7f0)"></i><i class="a" style="left:516px;width:2px;background:linear-gradient(#7a0403,#7a0403,#7a0403,#7a0403,#7a0403,#7a0403,#850702,#b71d02,#d63506,#f05b12,#dde037,#b1f936,#7dff56,#46f884,#20eaac,#18d9c8,#22c5e2,#2cb7f0)"></i><i class="a" style="left:518px;width:2px;background:linear-gradient(#7a0403,#7a0403,#7a0403,#7a0403,#7a0403,#7a0403,#850702,#b71d02,#d63506,#f05b12,#dde037,#b1f936,#7dff56,#46f884,#20eaac,#18d9c8,#22c5e2,#2cb7f0)"></i><i class="a" style="left:520px;width:2px;background:linear-gradient(#7a0403,#7a0403,#7a0403,#7a0403,#7a0403,#7a0403,#880802,#b71d02,#d83706,#f15d13,#dde037,#affa37,#7dff56,#46f884,#20eaac,#18d9c8,#22c5e2,#2cb7f0)"></i><i class="a" style="left:522px;width:2px;background:linear-gradient(#7a0403,#7a0403,#7a0403,#7a0403,#7a0403,#7a0403,#8b0902,#b91e02,#d83706,#f15d13,#dde037,#affa37,#7dff56,#43f787,#20eaac,#18d9c8,#22c5e2,#2cb7f0)"></i><i class="a" style="left:524px;width:2px;background:linear-gradient(#7a0403,#7a0403,#7a0403,#7a0403,#7a0403,#7a0403,#8e0a01,#bc2002,#da3907,#f26014,#dbe236,#affa37,#79fe59,#43f787,#20eaac,#18d9c8,#22c5e2,#2cb7f0)"></i><i class="a" style="left:526px;width:2px;background:linear-gradient(#7a0403,#7a0403,#7a0403,#7a0403,#7a0403,#7a0403,#920b01,#be2102,#dc3b07,#f36315,#dbe236,#acfb38,#79fe59,#43f787,#1fe9af,#18d7ca,#22c5e2,#2eb4f2)"></i><i class="a" style="left:528px;width:2px;background:linear-gradient(#7a0403,#7a0403,#7a0403,#7a0403,#7a0403,#7a0403,#980e01,#c32503,#df3f08,#f56918,#d7e535,#a9fb39,#75fe5c,#3ff68a,#1fe9af,#18d7ca,#23c3e4,#2eb4f2)"></i><i class="a" style="left:530px;width:2px;background:linear-gradient(#7a0403,#7a0403,#7a0403,#7a0403,#7a0403,#7a0403,#a11201,#ca2a04,#e4450a,#f76f1a,#d4e735,#a7fc3a,#71fe5f,#3cf58e,#1de7b2,#19d5cd,#23c3e4,#2eb4f2)"></i><i class="a" style="left:532px;width:2px;background:linear-gradient(#7a0403,#7a0403,#7a0403,#7a0403,#7a0403,#7a0403,#ac1701,#d02f05,#e84b0c,#f9781e,#d0ea34,#a1fd3d,#6dfe62,#38f491,#1ce6b4,#19d5cd,#25c0e7,#2fb2f4)"></i><i class="a" style="left:534px;width:2px;background:linear-gradient(#7a0403,#7a0403,#7a0403,#7a0403,#7a0403,#7a0403,#b41b01,#d63506,#ec530f,#fb7e21,#cbed34,#9cfe40,#65fd69,#35f394,#1ae4b6,#1ad4d0,#25c0e7,#2fb2f4)"></i><i class="a" style="left:536px;width:2px;background:linear-gradient(#7a0403,#7a0403,#7a0403,#7a0403,#7a0403,#7a0403,#bc2002,#dc3b07,#ef5811,#fc8725,#c6f034,#99fe42,#61fc6c,#32f298,#19e3b9,#1ad2d2,#27bee9,#2fb2f4)"></i><i class="a" style="left:538px;width:2px;background:linear-gradient(#7a0403,#7a0403,#7a0403,#7a0403,#7a0403,#7a0403,#c12302,#df3f08,#f15d13,#fd8a26,#c3f134,#96fe44,#5dfc6f,#2ff19b,#19e3b9,#1ad2d2,#27bee9,#31aff5)"></i><i class="a" style="left:540px;width:2px;background:linear-gradient(#7a0403,#7a0403,#7a0403,#7a0403,#7a0403,#7a0403,#c52603,#e14109,#f26014,#fd8d27,#c1f334,#96fe44,#5dfc6f,#2ff19b,#19e3b9,#1ad2d2,#27bee9,#31aff5)"></i><i class="a" style="left:542px;width:2px;background:linear-gradient(#7a0403,#7a0403,#7a0403,#7a0403,#7a0403,#7a0403,#c82803,#e4450a,#f36315,#fe9029,#bef434,#92ff47,#59fb73,#2ff19b,#19e2bb,#1bd0d5,#27bee9,#31aff5)"></i><i class="a" style="left:544px;width:2px;background:linear-gradient(#7a0403,#7a0403,#7a0403,#7a0403,#7a0403,#7a0403,#cc2b04,#e5470b,#f56918,#fe932a,#bcf534,#8fff49,#59fb73,#2cf09e,#19e2bb,#1bd0d5,#28bceb,#31aff5)"></i><i class="a" style="left:546px;width:2px;background:linear-gradient(#7a0403,#7a0403,#7a0403,#7a0403,#7a0403,#810602,#ce2d04,#e7490c,#f66c19,#fe962b,#bcf534,#8fff49,#55fa76,#2cf09e,#19e2bb,#1bd0d5,#28bceb,#31aff5)"></i><i class="a" style="left:548px;width:2px;background:linear-gradient(#7a0403,#7a0403,#7a0403,#7a0403,#7a0403,#850702,#d02f05,#e84b0c,#f76f1a,#fe992c,#b9f635,#8bff4b,#55fa76,#2aefa1,#18e0bd,#1bd0d5,#28bceb,#31aff5)"></i><i class="a" style="left:550px;width:2px;background:linear-gradient(#7a0403,#7a0403,#7a0403,#7a0403,#7a0403,#8b0902,#d43305,#ea4e0d,#f8721c,#fe9b2d,#b7f735,#8bff4b,#55fa76,#2aefa1,#18e0bd,#1bd0d5,#28bceb,#31aff5)"></i><i class="a" style="left:552px;width:2px;background:linear-gradient(#7a0403,#7a0403,#7a0403,#7a0403,#7a0403,#8e0a01,#d63506,#eb500e,#f9751d,#fe9e2f,#b7f735,#88ff4e,#52fa7a,#2aefa1,#18e0bd,#1ccdd8,#28bceb,#31aff5)"></i><i class="a" style="left:554px;width:2px;background:linear-gradient(#7a0403,#7a0403,#7a0403,#7a0403,#7a0403,#920b01,#d83706,#ec530f,#f9781e,#fea130,#b4f836,#88ff4e,#52fa7a,#2aefa1,#18e0bd,#1ccdd8,#28bceb,#31aff5)"></i><i class="a" style="left:556px;width:2px;background:linear-gradient(#7a0403,#7a0403,#7a0403,#7a0403,#7a0403,#950d01,#da3907,#ed5510,#f9781e,#fea431,#b4f836,#84ff51,#52fa7a,#27eea4,#18e0bd,#1ccdd8,#28bceb,#31aff5)"></i><i class="a" style="left:558px;width:2px;background:linear-gradient(#7a0403,#7a0403,#7a0403,#7a0403,#7a0403,#980e01,#da3907,#ef5811,#fa7b1f,#fea431,#b1f936,#84ff51,#4ef97d,#27eea4,#18e0bd,#1ccdd8,#28bceb,#31aff5)"></i><i class="a" style="left:560px;width:2px;background:linear-gradient(#7a0403,#7a0403,#7a0403,#7a0403,#7a0403,#9b0f01,#dc3b07,#f05b12,#fa7b1f,#fea732,#b1f936,#84ff51,#4ef97d,#27eea4,#18e0bd,#1ccdd8,#28bceb,#33adf7)"></i><i class="a" style="left:562px;width:2px;background:linear-gradient(#7a0403,#7a0403,#7a0403,#7a0403,#7a0403,#9b0f01,#dc3b07,#f05b12,#fb7e21,#fea732,#b1f936,#84ff51,#4ef97d,#27eea4,#18dec0,#1ccdd8,#28bceb,#33adf7)"></i><i class="a" style="left:564px;width:2px;background:linear-gradient(#7a0403,#7a0403,#7a0403,#7a0403,#7a0403,#9e1001,#dd3d08,#f05b12,#fb7e21,#fea732,#b1f936,#80ff53,#4ef97d,#27eea4,#18dec0,#1ccdd8,#28bceb,#33adf7)"></i><i class="a" style="left:566px;width:2px;background:linear-gradient(#7a0403,#7a0403,#7a0403,#7a0403,#7a0403,#9e1001,#dd3d08,#f05b12,#fb7e21,#fea732,#affa37,#80ff53,#4ef97d,#27eea4,#18dec0,#1ccdd8,#28bceb,#33adf7)"></i><i class="a" style="left:568px;width:2px;background:linear-gradient(#7a0403,#7a0403,#7a0403,#7a0403,#7a0403,#9e1001,#dd3d08,#f05b12,#fb7e21,#fea933,#affa37,#80ff53,#4af880,#27eea4,#18dec0,#1ccdd8,#2ab9ee,#33adf7)"></i><i class="a" style="left:570px;width:2px;background:linear-gradient(#7a0403,#7a0403,#7a0403,#7a0403,#7a0403,#9e1001,#dd3d08,#f15d13,#fb8122,#fea933,#affa37,#80ff53,#4af880,#25eca7,#18dec0,#1ecbda,#2ab9ee,#33adf7)"></i><i class="a" style="left:572px;width:2px;background:linear-gradient(#7a0403,#7a0403,#7a0403,#7a0403,#7a0403,#a11201,#df3f08,#f15d13,#fb8122,#fdac34,#acfb38,#7dff56,#4af880,#25eca7,#18dec0,#1ecbda,#2ab9ee,#33adf7)"></i><i class="a" style="left:574px;width:2px;background:linear-gradient(#7a0403,#7a0403,#7a0403,#7a0403,#7a0403,#a71401,#e2430a,#f36315,#fc8725,#fdae35,#a9fb39,#79fe59,#46f884,#22ebaa,#18ddc2,#1ecbda,#2ab9ee,#33adf7)"></i><i class="a" style="left:576px;width:2px;background:linear-gradient(#7a0403,#7a0403,#7a0403,#7a0403,#7a0403,#b41b01,#e84b0c,#f76f1a,#fe932a,#fbb637,#a4fc3c,#75fe5c,#43f787,#20eaac,#18dbc5,#1fc9dd,#2cb7f0,#35abf8)"></i><i class="a" style="left:578px;width:2px;background:linear-gradient(#7a0403,#7a0403,#7a0403,#7a0403,#7a0403,#c12302,#ef5811,#fa7b1f,#fe9b2d,#f9bc39,#9ffd3f,#6dfe62,#3cf58e,#1fe9af,#18d9c8,#20c7df,#2eb4f2,#37a8fa)"></i><i class="a" style="left:580px;width:2px;background:linear-gradient(#7a0403,#7a0403,#7a0403,#7a0403,#7a0403,#ca2a04,#f15d13,#fc8423,#fea130,#f7c13a,#99fe42,#65fd69,#38f491,#1de7b2,#18d7ca,#22c5e2,#2eb4f2,#37a8fa)"></i><i class="a" style="left:582px;width:2px;background:linear-gradient(#7a0403,#7a0403,#7a0403,#7a0403,#7a0403,#c82803,#f15d13,#fc8423,#fea431,#f6c33a,#99fe42,#65fd69,#38f491,#1de7b2,#18d7ca,#22c5e2,#2fb2f4,#37a8fa)"></i><i class="a" style="left:584px;width:2px;background:linear-gradient(#7a0403,#7a0403,#7a0403,#7a0403,#7a0403,#c52603,#f05b12,#fb8122,#fea130,#f7c13a,#9cfe40,#69fd66,#38f491,#1de7b2,#18d7ca,#22c5e2,#2eb4f2,#37a8fa)"></i><i class="a" style="left:586px;width:2px;background:linear-gradient(#7a0403,#7a0403,#7a0403,#7a0403,#7a0403,#c12302,#ef5811,#fa7b1f,#fe9b2d,#f8be39,#9ffd3f,#69fd66,#3cf58e,#1de7b2,#18d7ca,#20c7df,#2eb4f2,#37a8fa)"></i><i class="a" style="left:588px;width:2px;background:linear-gradient(#7a0403,#7a0403,#7a0403,#7a0403,#7a0403,#be2102,#ec530f,#f9781e,#fe992c,#faba39,#a1fd3d,#6dfe62,#3ff68a,#1fe9af,#18d9c8,#20c7df,#2eb4f2,#37a8fa)"></i><i class="a" style="left:590px;width:2px;background:linear-gradient(#7a0403,#7a0403,#7a0403,#7a0403,#7a0403,#b91e02,#ea4e0d,#f8721c,#fe932a,#fbb637,#a7fc3a,#75fe5c,#3ff68a,#20eaac,#18dbc5,#20c7df,#2eb4f2,#35abf8)"></i><i class="a" style="left:592px;width:2px;background:linear-gradient(#7a0403,#7a0403,#7a0403,#7a0403,#7a0403,#b41b01,#e84b0c,#f66c19,#fd8d27,#fcb136,#a9fb39,#79fe59,#43f787,#22ebaa,#18dbc5,#1fc9dd,#2cb7f0,#35abf8)"></i><i class="a" style="left:594px;width:2px;background:linear-gradient(#7a0403,#7a0403,#7a0403,#7a0403,#7a0403,#b21a01,#e5470b,#f46617,#fc8725,#fdac34,#affa37,#7dff56,#46f884,#22ebaa,#18ddc2,#1fc9dd,#2cb7f0,#35abf8)"></i><i class="a" style="left:596px;width:2px;background:linear-gradient(#7a0403,#7a0403,#7a0403,#7a0403,#7a0403,#ac1701,#e2430a,#f36315,#fc8423,#fea933,#b1f936,#80ff53,#4af880,#25eca7,#18ddc2,#1ecbda,#2cb7f0,#35abf8)"></i><i class="a" style="left:598px;width:2px;background:linear-gradient(#7a0403,#7a0403,#7a0403,#7a0403,#7a0403,#a71401,#e14109,#f15d13,#fb7e21,#fea732,#b4f836,#84ff51,#4ef97d,#25eca7,#18ddc2,#1ecbda,#2cb7f0,#35abf8)"></i><i class="a" style="left:600px;width:2px;background:linear-gradient(#7a0403,#7a0403,#7a0403,#7a0403,#7a0403,#a11201,#df3f08,#f05b12,#fa7b1f,#fea431,#b4f836,#84ff51,#4ef97d,#25eca7,#18ddc2,#1ecbda,#2cb7f0,#35abf8)"></i><i class="a" style="left:602px;width:2px;background:linear-gradient(#7a0403,#7a0403,#7a0403,#7a0403,#7a0403,#9e1001,#dc3b07,#f05b12,#fa7b1f,#fea431,#b4f836,#84ff51,#4ef97d,#25eca7,#18ddc2,#1ecbda,#2cb7f0,#35abf8)"></i><i class="a" style="left:604px;width:2px;background:linear-gradient(#7a0403,#7a0403,#7a0403,#7a0403,#7a0403,#9b0f01,#dc3b07,#ef5811,#fa7b1f,#fea431,#b4f836,#80ff53,#4af880,#25eca7,#18ddc2,#1fc9dd,#2cb7f0,#35abf8)"></i><i class="a" style="left:606px;width:2px;background:linear-gradient(#7a0403,#7a0403,#7a0403,#7a0403,#7a0403,#9e1001,#dd3d08,#f05b12,#fb7e21,#fea732,#b1f936,#80ff53,#4af880,#25eca7,#18ddc2,#1fc9dd,#2cb7f0,#35abf8)"></i><i class="a" style="left:608px;width:2px;background:linear-gradient(#7a0403,#7a0403,#7a0403,#7a0403,#7a0403,#a41301,#df3f08,#f15d13,#fb8122,#fea732,#b1f936,#80ff53,#4af880,#22ebaa,#18dbc5,#1fc9dd,#2eb4f2,#35abf8)"></i><i class="a" style="left:610px;width:2px;background:linear-gradient(#7a0403,#7a0403,#7a0403,#7a0403,#7a0403,#a91601,#e2430a,#f36315,#fc8423,#fea933,#affa37,#7dff56,#46f884,#22ebaa,#18dbc5,#20c7df,#2eb4f2,#37a8fa)"></i><i class="a" style="left:612px;width:2px;background:linear-gradient(#7a0403,#7a0403,#7a0403,#7a0403,#7a0403,#af1801,#e4450a,#f36315,#fc8423,#fea933,#affa37,#7dff56,#46f884,#22ebaa,#18dbc5,#20c7df,#2eb4f2,#37a8fa)"></i><i class="a" style="left:614px;width:2px;background:linear-gradient(#7a0403,#7a0403,#7a0403,#7a0403,#7a0403,#b21a01,#e5470b,#f46617,#fc8423,#fea933,#b1f936,#7dff56,#46f884,#22ebaa,#18dbc5,#20c7df,#2eb4f2,#37a8fa)"></i><i class="a" style="left:616px;width:2px;background:linear-gradient(#7a0403,#7a0403,#7a0403,#7a0403,#7a0403,#af1801,#e4450a,#f36315,#fb8122,#fea732,#b4f836,#80ff53,#4af880,#22ebaa,#18dbc5,#20c7df,#2eb4f2,#37a8fa)"></i><i class="a" style="left:618px;width:2px;background:linear-gradient(#7a0403,#7a0403,#7a0403,#7a0403,#7a0403,#a91601,#e14109,#f05b12,#fa7b1f,#fe9e2f,#b9f635,#88ff4e,#4ef97d,#25eca7,#18ddc2,#1fc9dd,#2eb4f2,#35abf8)"></i><i class="a" style="left:620px;width:2px;background:linear-gradient(#7a0403,#7a0403,#7a0403,#7a0403,#7a0403,#a11201,#dc3b07,#ed5510,#f8721c,#fe962b,#bef434,#8fff49,#55fa76,#2aefa1,#18dec0,#1ecbda,#2cb7f0,#35abf8)"></i><i class="a" style="left:622px;width:2px;background:linear-gradient(#7a0403,#7a0403,#7a0403,#7a0403,#7a0403,#9b0f01,#d63506,#ea4e0d,#f56918,#fd8d27,#c6f034,#96fe44,#59fb73,#2cf09e,#18e0bd,#1ccdd8,#2cb7f0,#35abf8)"></i><i class="a" style="left:624px;width:2px;background:linear-gradient(#7a0403,#7a0403,#7a0403,#7a0403,#7a0403,#920b01,#d23105,#e5470b,#f26014,#fc8725,#cbed34,#9cfe40,#61fc6c,#2ff19b,#19e2bb,#1ccdd8,#2ab9ee,#33adf7)"></i><i class="a" style="left:626px;width:2px;background:linear-gradient(#7a0403,#7a0403,#7a0403,#7a0403,#7a0403,#880802,#cc2b04,#e2430a,#f05b12,#fb8122,#cdec34,#9ffd3f,#61fc6c,#2ff19b,#19e2bb,#1bd0d5,#2ab9ee,#33adf7)"></i><i class="a" style="left:628px;width:2px;background:linear-gradient(#7a0403,#7a0403,#7a0403,#7a0403,#7a0403,#7e0502,#c82803,#df3f08,#ef5811,#fb8122,#cdec34,#9ffd3f,#61fc6c,#2ff19b,#19e2bb,#1bd0d5,#2ab9ee,#33adf7)"></i><i class="a" style="left:630px;width:2px;background:linear-gradient(#7a0403,#7a0403,#7a0403,#7a0403,#7a0403,#7a0403,#c32503,#df3f08,#ef5811,#fb8122,#cbed34,#9cfe40,#61fc6c,#2ff19b,#19e2bb,#1ccdd8,#2ab9ee,#33adf7)"></i><i class="a" style="left:632px;width:2px;background:linear-gradient(#7a0403,#7a0403,#7a0403,#7a0403,#7a0403,#7a0403,#c12302,#dd3d08,#f05b12,#fc8725,#c6f034,#96fe44,#5dfc6f,#2cf09e,#18e0bd,#1ccdd8,#2ab9ee,#33adf7)"></i><i class="a" style="left:634px;width:2px;background:linear-gradient(#7a0403,#7a0403,#7a0403,#7a0403,#7a0403,#7a0403,#be2102,#dd3d08,#f05b12,#fc8725,#c3f134,#96fe44,#59fb73,#2cf09e,#18e0bd,#1ecbda,#2cb7f0,#35abf8)"></i><i class="a" style="left:636px;width:2px;background:linear-gradient(#7a0403,#7a0403,#7a0403,#7a0403,#7a0403,#7a0403,#be2102,#dd3d08,#f05b12,#fc8725,#c3f134,#96fe44,#59fb73,#2cf09e,#18e0bd,#1ecbda,#2cb7f0,#35abf8)"></i><i class="a" style="left:638px;width:2px;background:linear-gradient(#7a0403,#7a0403,#7a0403,#7a0403,#7a0403,#7a0403,#c12302,#df3f08,#f05b12,#fc8725,#c6f034,#96fe44,#59fb73,#2cf09e,#18e0bd,#1ecbda,#2cb7f0,#35abf8)"></i><i class="a" style="left:640px;width:2px;background:linear-gradient(#7a0403,#7a0403,#7a0403,#7a0403,#7a0403,#7a0403,#c52603,#df3f08,#f15d13,#fc8725,#c6f034,#96fe44,#5dfc6f,#2cf09e,#18e0bd,#1ccdd8,#2ab9ee,#33adf7)"></i><i class="a" style="left:642px;width:2px;background:linear-gradient(#7a0403,#7a0403,#7a0403,#7a0403,#7a0403,#7a0403,#c82803,#e14109,#f15d13,#fc8725,#c6f034,#96fe44,#5dfc6f,#2cf09e,#18e0bd,#1ccdd8,#2ab9ee,#33adf7)"></i><i class="a" style="left:644px;width:2px;background:linear-gradient(#7a0403,#7a0403,#7a0403,#7a0403,#7a0403,#810602,#cc2b04,#e4450a,#f26014,#fd8a26,#c6f034,#96fe44,#59fb73,#2cf09e,#18e0bd,#1ccdd8,#2cb7f0,#35abf8)"></i><i class="a" style="left:646px;width:2px;background:linear-gradient(#7a0403,#7a0403,#7a0403,#7a0403,#7a0403,#880802,#d02f05,#e7490c,#f46617,#fe9029,#c3f134,#92ff47,#59fb73,#2aefa1,#18e0bd,#1ecbda,#2cb7f0,#35abf8)"></i><i class="a" style="left:648px;width:2px;background:linear-gradient(#7a0403,#7a0403,#7a0403,#7a0403,#7a0403,#8e0a01,#d43305,#e84b0c,#f66c19,#fe932a,#bef434,#8fff49,#55fa76,#2aefa1,#18dec0,#1ecbda,#2cb7f0,#35abf8)"></i><i class="a" style="left:650px;width:2px;background:linear-gradient(#7a0403,#7a0403,#7a0403,#7a0403,#7a0403,#950d01,#d83706,#eb500e,#f8721c,#fe992c,#bcf534,#8bff4b,#52fa7a,#27eea4,#18ddc2,#1fc9dd,#2cb7f0,#35abf8)"></i><i class="a" style="left:652px;width:2px;background:linear-gradient(#7a0403,#7a0403,#7a0403,#7a0403,#7a0403,#9b0f01,#dc3b07,#ef5811,#f9781e,#fe9e2f,#b7f735,#84ff51,#4ef97d,#25eca7,#18ddc2,#1fc9dd,#2eb4f2,#35abf8)"></i><i class="a" style="left:654px;width:2px;background:linear-gradient(#7a0403,#7a0403,#7a0403,#7a0403,#7a0403,#a11201,#df3f08,#f05b12,#fb7e21,#fea431,#b4f836,#80ff53,#4af880,#22ebaa,#18dbc5,#1fc9dd,#2eb4f2,#37a8fa)"></i><i class="a" style="left:656px;width:2px;background:linear-gradient(#7a0403,#7a0403,#7a0403,#7a0403,#7a0403,#a91601,#e2430a,#f26014,#fc8423,#fea933,#affa37,#7dff56,#46f884,#22ebaa,#18dbc5,#20c7df,#2eb4f2,#37a8fa)"></i><i class="a" style="left:658px;width:2px;background:linear-gradient(#7a0403,#7a0403,#7a0403,#7a0403,#7a0403,#af1801,#e4450a,#f46617,#fc8725,#fdac34,#acfb38,#7dff56,#46f884,#20eaac,#18dbc5,#20c7df,#2eb4f2,#37a8fa)"></i><i class="a" style="left:660px;width:2px;background:linear-gradient(#7a0403,#7a0403,#7a0403,#7a0403,#7a0403,#b21a01,#e7490c,#f56918,#fd8a26,#fdae35,#acfb38,#79fe59,#43f787,#20eaac,#18d9c8,#20c7df,#2eb4f2,#37a8fa)"></i><i class="a" style="left:662px;width:2px;background:linear-gradient(#7a0403,#7a0403,#7a0403,#7a0403,#7a0403,#b71d02,#e84b0c,#f66c19,#fd8d27,#fcb136,#a9fb39,#79fe59,#43f787,#20eaac,#18d9c8,#20c7df,#2eb4f2,#37a8fa)"></i><i class="a" style="left:664px;width:2px;background:linear-gradient(#7a0403,#7a0403,#7a0403,#7a0403,#7a0403,#b91e02,#ea4e0d,#f76f1a,#fe9029,#fcb136,#a9fb39,#75fe5c,#43f787,#20eaac,#18d9c8,#20c7df,#2eb4f2,#37a8fa)"></i><i class="a" style="left:666px;width:2px;background:linear-gradient(#7a0403,#7a0403,#7a0403,#7a0403,#7a0403,#bc2002,#eb500e,#f8721c,#fe9029,#fcb336,#a9fb39,#75fe5c,#43f787,#20eaac,#18d9c8,#20c7df,#2eb4f2,#37a8fa)"></i><i class="a" style="left:668px;width:2px;background:linear-gradient(#7a0403,#7a0403,#7a0403,#7a0403,#7a0403,#be2102,#eb500e,#f8721c,#fe932a,#fcb336,#a7fc3a,#75fe5c,#43f787,#20eaac,#18d9c8,#20c7df,#2eb4f2,#37a8fa)"></i><i class="a" style="left:670px;width:2px;background:linear-gradient(#7a0403,#7a0403,#7a0403,#7a0403,#7a0403,#be2102,#ec530f,#f8721c,#fe932a,#fbb637,#a7fc3a,#75fe5c,#3ff68a,#20eaac,#18d9c8,#20c7df,#2eb4f2,#37a8fa)"></i><i class="a" style="left:672px;width:2px;background:linear-gradient(#7a0403,#7a0403,#7a0403,#7a0403,#7a0403,#be2102,#ec530f,#f9751d,#fe932a,#fbb637,#a7fc3a,#75fe5c,#3ff68a,#20eaac,#18d9c8,#20c7df,#2eb4f2,#37a8fa)"></i><i class="a" style="left:674px;width:2px;background:linear-gradient(#7a0403,#7a0403,#7a0403,#7a0403,#7a0403,#be2102,#ec530f,#f9751d,#fe932a,#fbb637,#a7fc3a,#75fe5c,#3ff68a,#20eaac,#18d9c8,#20c7df,#2eb4f2,#37a8fa)"></i><i class="a" style="left:676px;width:2px;background:linear-gradient(#7a0403,#7a0403,#7a0403,#7a0403,#7a0403,#be2102,#ec530f,#f9751d,#fe932a,#fbb637,#a7fc3a,#75fe5c,#3ff68a,#20eaac,#18d9c8,#20c7df,#2eb4f2,#37a8fa)"></i><i class="a" style="left:678px;width:2px;background:linear-gradient(#7a0403,#7a0403,#7a0403,#7a0403,#7a0403,#be2102,#ec530f,#f9751d,#fe932a,#fbb637,#a7fc3a,#75fe5c,#43f787,#20eaac,#18d9c8,#20c7df,#2eb4f2,#37a8fa)"></i><i class="a" style="left:680px;width:2px;background:linear-gradient(#7a0403,#7a0403,#7a0403,#7a0403,#7a0403,#be2102,#ec530f,#f8721c,#fe932a,#fcb336,#a9fb39,#75fe5c,#43f787,#20eaac,#18dbc5,#20c7df,#2eb4f2,#37a8fa)"></i><i class="a" style="left:682px;width:2px;background:linear-gradient(#7a0403,#7a0403,#7a0403,#7a0403,#7a0403,#be2102,#eb500e,#f8721c,#fe9029,#fcb336,#a9fb39,#79fe59,#43f787,#20eaac,#18dbc5,#1fc9dd,#2eb4f2,#35abf8)"></i><i class="a" style="left:684px;width:2px;background:linear-gradient(#7a0403,#7a0403,#7a0403,#7a0403,#7a0403,#be2102,#eb500e,#f76f1a,#fe9029,#fcb136,#acfb38,#79fe59,#46f884,#22ebaa,#18dbc5,#1fc9dd,#2cb7f0,#35abf8)"></i><i class="a" style="left:686px;width:2px;background:linear-gradient(#7a0403,#7a0403,#7a0403,#7a0403,#7a0403,#bc2002,#ea4e0d,#f76f1a,#fd8d27,#fcb136,#acfb38,#79fe59,#46f884,#22ebaa,#18dbc5,#1fc9dd,#2cb7f0,#35abf8)"></i><i class="a" style="left:688px;width:2px;background:linear-gradient(#7a0403,#7a0403,#7a0403,#7a0403,#7a0403,#bc2002,#ea4e0d,#f76f1a,#fd8d27,#fcb136,#acfb38,#79fe59,#46f884,#22ebaa,#18dbc5,#1fc9dd,#2cb7f0,#35abf8)"></i><i class="a" style="left:690px;width:2px;background:linear-gradient(#7a0403,#7a0403,#7a0403,#7a0403,#7a0403,#b91e02,#ea4e0d,#f76f1a,#fd8d27,#fcb136,#a9fb39,#79fe59,#46f884,#22ebaa,#18dbc5,#1fc9dd,#2cb7f0,#35abf8)"></i><i class="a" style="left:692px;width:2px;background:linear-gradient(#7a0403,#7a0403,#7a0403,#7a0403,#7a0403,#b91e02,#ea4e0d,#f76f1a,#fe9029,#fcb336,#a7fc3a,#75fe5c,#43f787,#20eaac,#18dbc5,#1fc9dd,#2eb4f2,#35abf8)"></i><i class="a" style="left:694px;width:2px;background:linear-gradient(#7a0403,#7a0403,#7a0403,#7a0403,#7a0403,#b71d02,#ea4e0d,#f76f1a,#fe932a,#fbb637,#a7fc3a,#75fe5c,#3ff68a,#20eaac,#18d9c8,#20c7df,#2eb4f2,#35abf8)"></i><i class="a" style="left:696px;width:2px;background:linear-gradient(#7a0403,#7a0403,#7a0403,#7a0403,#7a0403,#b71d02,#ea4e0d,#f8721c,#fe932a,#fbb637,#a4fc3c,#71fe5f,#3ff68a,#20eaac,#18d9c8,#20c7df,#2eb4f2,#37a8fa)"></i><i class="a" style="left:698px;width:2px;background:linear-gradient(#7a0403,#7a0403,#7a0403,#7a0403,#7a0403,#b71d02,#ea4e0d,#f8721c,#fe932a,#fbb637,#a4fc3c,#71fe5f,#3ff68a,#20eaac,#18d9c8,#20c7df,#2eb4f2,#35abf8)"></i><i class="a" style="left:700px;width:2px;background:linear-gradient(#7a0403,#7a0403,#7a0403,#7a0403,#7a0403,#b91e02,#ea4e0d,#f8721c,#fe932a,#fbb637,#a7fc3a,#75fe5c,#43f787,#20eaac,#18dbc5,#1fc9dd,#2eb4f2,#35abf8)"></i><i class="a" style="left:702px;width:2px;background:linear-gradient(#7a0403,#7a0403,#7a0403,#7a0403,#7a0403,#b91e02,#ea4e0d,#f8721c,#fe9029,#fcb336,#a7fc3a,#75fe5c,#43f787,#20eaac,#18dbc5,#1fc9dd,#2cb7f0,#35abf8)"></i><i class="a" style="left:704px;width:2px;background:linear-gradient(#7a0403,#7a0403,#7a0403,#7a0403,#7a0403,#be2102,#eb500e,#f8721c,#fe9029,#fcb336,#a9fb39,#79fe59,#43f787,#22ebaa,#18dbc5,#1fc9dd,#2cb7f0,#35abf8)"></i><i class="a" style="left:706px;width:2px;background:linear-gradient(#7a0403,#7a0403,#7a0403,#7a0403,#7a0403,#c32503,#ed5510,#f9751d,#fe932a,#fcb336,#a9fb39,#79fe59,#43f787,#22ebaa,#18dbc5,#1fc9dd,#2cb7f0,#35abf8)"></i><i class="a" style="left:708px;width:2px;background:linear-gradient(#7a0403,#7a0403,#7a0403,#7a0403,#7a0403,#c82803,#ef5811,#f9781e,#fe962b,#fbb637,#a7fc3a,#75fe5c,#43f787,#20eaac,#18dbc5,#1fc9dd,#2cb7f0,#35abf8)"></i><i class="a" style="left:710px;width:2px;background:linear-gradient(#7a0403,#7a0403,#7a0403,#7a0403,#810602,#cc2b04,#f15d13,#fb7e21,#fe9b2d,#fbb838,#a4fc3c,#75fe5c,#3ff68a,#20eaac,#18d9c8,#20c7df,#2eb4f2,#35abf8)"></i><i class="a" style="left:712px;width:2px;background:linear-gradient(#7a0403,#7a0403,#7a0403,#7a0403,#880802,#d02f05,#f36315,#fc8423,#fe9e2f,#f9bc39,#a1fd3d,#6dfe62,#3ff68a,#1fe9af,#18d9c8,#20c7df,#2eb4f2,#37a8fa)"></i><i class="a" style="left:714px;width:2px;background:linear-gradient(#7a0403,#7a0403,#7a0403,#7a0403,#8b0902,#d23105,#f46617,#fc8725,#fea431,#f7c13a,#9ffd3f,#69fd66,#3cf58e,#1de7b2,#18d7ca,#22c5e2,#2eb4f2,#37a8fa)"></i><i class="a" style="left:716px;width:2px;background:linear-gradient(#7a0403,#7a0403,#7a0403,#7a0403,#920b01,#d63506,#f66c19,#fd8d27,#fea732,#f6c33a,#99fe42,#65fd69,#38f491,#1de7b2,#18d7ca,#22c5e2,#2fb2f4,#37a8fa)"></i><i class="a" style="left:718px;width:2px;background:linear-gradient(#7a0403,#7a0403,#7a0403,#7a0403,#980e01,#d83706,#f76f1a,#fe9029,#fdac34,#f4c73a,#96fe44,#61fc6c,#35f394,#1ce6b4,#19d5cd,#22c5e2,#2fb2f4,#38a5fb)"></i><i class="a" style="left:720px;width:2px;background:linear-gradient(#7a0403,#7a0403,#7a0403,#7a0403,#9b0f01,#da3907,#f8721c,#fe932a,#fdae35,#f2c93a,#92ff47,#61fc6c,#32f298,#1ce6b4,#19d5cd,#23c3e4,#2fb2f4,#38a5fb)"></i><i class="a" style="left:722px;width:2px;background:linear-gradient(#7a0403,#7a0403,#7a0403,#7a0403,#9e1001,#dc3b07,#f9751d,#fe962b,#fdae35,#f2c93a,#92ff47,#5dfc6f,#32f298,#1ae4b6,#19d5cd,#23c3e4,#2fb2f4,#38a5fb)"></i><i class="a" style="left:724px;width:2px;background:linear-gradient(#7a0403,#7a0403,#7a0403,#7a0403,#9e1001,#dc3b07,#f9751d,#fe962b,#fdae35,#f2c93a,#96fe44,#61fc6c,#32f298,#1ae4b6,#19d5cd,#23c3e4,#2fb2f4,#38a5fb)"></i><i class="a" style="left:726px;width:2px;background:linear-gradient(#7a0403,#7a0403,#7a0403,#7a0403,#980e01,#d83706,#f76f1a,#fe9029,#fea933,#f5c53a,#99fe42,#65fd69,#35f394,#1ce6b4,#19d5cd,#22c5e2,#2fb2f4,#37a8fa)"></i><i class="a" style="left:728px;width:2px;background:linear-gradient(#7a0403,#7a0403,#7a0403,#7a0403,#8e0a01,#d23105,#f46617,#fc8725,#fea431,#f7c13a,#9ffd3f,#69fd66,#3cf58e,#1de7b2,#18d7ca,#22c5e2,#2fb2f4,#37a8fa)"></i><i class="a" style="left:730px;width:2px;background:linear-gradient(#7a0403,#7a0403,#7a0403,#7a0403,#810602,#cc2b04,#f15d13,#fb7e21,#fe9b2d,#faba39,#a4fc3c,#71fe5f,#3ff68a,#1fe9af,#18d9c8,#20c7df,#2eb4f2,#37a8fa)"></i><i class="a" style="left:732px;width:2px;background:linear-gradient(#7a0403,#7a0403,#7a0403,#7a0403,#7a0403,#c52603,#ef5811,#f9781e,#fe962b,#fbb637,#a9fb39,#79fe59,#43f787,#20eaac,#18dbc5,#1fc9dd,#2cb7f0,#35abf8)"></i><i class="a" style="left:734px;width:2px;background:linear-gradient(#7a0403,#7a0403,#7a0403,#7a0403,#7a0403,#c12302,#ec530f,#f8721c,#fe9029,#fcb136,#acfb38,#79fe59,#46f884,#22ebaa,#18dbc5,#1fc9dd,#2eb4f2,#37a8fa)"></i><i class="a" style="left:736px;width:2px;background:linear-gradient(#7a0403,#7a0403,#7a0403,#7a0403,#7a0403,#c12302,#ec530f,#f8721c,#fe9029,#fcb136,#acfb38,#79fe59,#46f884,#22ebaa,#18dbc5,#20c7df,#2eb4f2,#37a8fa)"></i><i class="a" style="left:738px;width:2px;background:linear-gradient(#7a0403,#7a0403,#7a0403,#7a0403,#7a0403,#c12302,#ec530f,#f8721c,#fe9029,#fcb136,#acfb38,#79fe59,#46f884,#20eaac,#18dbc5,#20c7df,#2eb4f2,#37a8fa)"></i><i class="a" style="left:740px;width:2px;background:linear-gradient(#7a0403,#7a0403,#7a0403,#7a0403,#7a0403,#c32503,#ed5510,#f9751d,#fe9029,#fcb336,#acfb38,#79fe59,#43f787,#20eaac,#18dbc5,#20c7df,#2eb4f2,#37a8fa)"></i><i class="a" style="left:742px;width:2px;background:linear-gradient(#7a0403,#7a0403,#7a0403,#7a0403,#7a0403,#c52603,#ed5510,#f9751d,#fe932a,#fcb336,#a9fb39,#79fe59,#43f787,#20eaac,#18dbc5,#20c7df,#2eb4f2,#37a8fa)"></i><i class="a" style="left:744px;width:2px;background:linear-gradient(#7a0403,#7a0403,#7a0403,#7a0403,#7a0403,#c52603,#ed5510,#f9751d,#fe932a,#fcb336,#a9fb39,#79fe59,#43f787,#20eaac,#18dbc5,#20c7df,#2eb4f2,#37a8fa)"></i><i class="a" style="left:746px;width:2px;background:linear-gradient(#7a0403,#7a0403,#7a0403,#7a0403,#7a0403,#c52603,#ed5510,#f9751d,#fe932a,#fcb336,#a9fb39,#79fe59,#43f787,#20eaac,#18dbc5,#20c7df,#2eb4f2,#37a8fa)"></i><i class="a" style="left:748px;width:2px;background:linear-gradient(#7a0403,#7a0403,#7a0403,#7a0403,#7a0403,#c52603,#ed5510,#f9751d,#fe932a,#fcb336,#a9fb39,#79fe59,#43f787,#20eaac,#18dbc5,#20c7df,#2eb4f2,#37a8fa)"></i><i class="a" style="left:750px;width:2px;background:linear-gradient(#7a0403,#7a0403,#7a0403,#7a0403,#7a0403,#c32503,#ed5510,#f9751d,#fe9029,#fcb136,#acfb38,#79fe59,#46f884,#20eaac,#18dbc5,#20c7df,#2eb4f2,#37a8fa)"></i><i class="a" style="left:752px;width:2px;background:linear-gradient(#7a0403,#7a0403,#7a0403,#7a0403,#7a0403,#c32503,#ec530f,#f8721c,#fe9029,#fcb136,#acfb38,#7dff56,#46f884,#22ebaa,#18dbc5,#20c7df,#2eb4f2,#37a8fa)"></i><i class="a" style="left:754px;width:2px;background:linear-gradient(#7a0403,#7a0403,#7a0403,#7a0403,#7a0403,#c12302,#ec530f,#f8721c,#fd8d27,#fdae35,#affa37,#7dff56,#46f884,#22ebaa,#18dbc5,#20c7df,#2eb4f2,#37a8fa)"></i><i class="a" style="left:756px;width:2px;background:linear-gradient(#7a0403,#7a0403,#7a0403,#7a0403,#7a0403,#be2102,#eb500e,#f76f1a,#fd8a26,#fdae35,#affa37,#7dff56,#46f884,#22ebaa,#18dbc5,#1fc9dd,#2eb4f2,#37a8fa)"></i><i class="a" style="left:758px;width:1px;background:linear-gradient(#7a0403,#7a0403,#7a0403,#7a0403,#7a0403,#be2102,#ea4e0d,#f66c19,#fd8a26,#fdac34,#b1f936,#80ff53,#46f884,#22ebaa,#18dbc5,#1fc9dd,#2eb4f2,#37a8fa)"></i><i class="a" style="left:759px;width:1px;background:linear-gradient(#7a0403,#7a0403,#7a0403,#7a0403,#7a0403,#bc2002,#ea4e0d,#f66c19,#fc8725,#fea933,#b1f936,#80ff53,#4af880,#22ebaa,#18dbc5,#1fc9dd,#2eb4f2,#37a8fa)"></i><i class="a" style="left:760px;width:1px;background:linear-gradient(#e2430a,#fb7e21,#fbb838,#e1dd37,#b9f635,#92ff47,#61fc6c,#4af880,#35f394,#22ebaa,#22c5e2,#31aff5,#3e9bfe,#458cfd,#467df4,#4773eb,#4666dd,#4661d6)"></i><i class="a" style="left:761px;width:1px;background:linear-gradient(#4143a7,#3f3e9c,#3f3b97,#3d358b,#3c3286,#3a2d79,#392a73,#38276d,#36215f,#351e58,#33184a,#321543,#30123b,#30123b,#30123b,#30123b,#30123b,#30123b)"></i><i class="a" style="left:762px;width:1px;background:linear-gradient(#3f3e9c,#3f3b97,#3e3891,#3c3286,#3b2f80,#3a2d79,#38276d,#372466,#36215f,#341b51,#33184a,#321543,#30123b,#30123b,#30123b,#30123b,#30123b,#30123b)"></i><i class="a" style="left:763px;width:1px;background:linear-gradient(#3f3b97,#3e3891,#3d358b,#3c3286,#3a2d79,#392a73,#38276d,#372466,#351e58,#341b51,#33184a,#321543,#30123b,#30123b,#30123b,#30123b,#30123b,#30123b)"></i><i class="a" style="left:764px;width:2px;background:linear-gradient(#3e3891,#3d358b,#3b2f80,#3a2d79,#392a73,#38276d,#372466,#36215f,#351e58,#341b51,#33184a,#321543,#30123b,#30123b,#30123b,#30123b,#30123b,#30123b)"></i><i class="a" style="left:766px;width:2px;background:linear-gradient(#3b2f80,#3a2d79,#3a2d79,#392a73,#38276d,#372466,#36215f,#351e58,#341b51,#33184a,#321543,#30123b,#30123b,#30123b,#30123b,#30123b,#30123b,#30123b)"></i><i class="a" style="left:768px;width:2px;background:linear-gradient(#392a73,#38276d,#38276d,#372466,#36215f,#36215f,#351e58,#341b51,#33184a,#33184a,#321543,#30123b,#30123b,#30123b,#30123b,#30123b,#30123b,#30123b)"></i><i class="a" style="left:770px;width:2px;background:linear-gradient(#372466,#36215f,#36215f,#351e58,#351e58,#341b51,#341b51,#33184a,#33184a,#321543,#321543,#30123b,#30123b,#30123b,#30123b,#30123b,#30123b,#30123b)"></i><i class="a" style="left:772px;width:2px;background:linear-gradient(#351e58,#341b51,#341b51,#341b51,#33184a,#33184a,#33184a,#321543,#321543,#321543,#30123b,#30123b,#30123b,#30123b,#30123b,#30123b,#30123b,#30123b)"></i><i class="a" style="left:774px;width:2px;background:linear-gradient(#321543,#321543,#321543,#321543,#321543,#321543,#30123b,#30123b,#30123b,#30123b,#30123b,#30123b,#30123b,#30123b,#30123b,#30123b,#30123b,#30123b)"></i><i class="a" style="left:776px;width:2px;background:linear-gradient(#30123b,#30123b,#30123b,#30123b,#30123b,#30123b,#30123b,#30123b,#30123b,#30123b,#30123b,#30123b,#30123b,#30123b,#30123b,#30123b,#30123b,#30123b)"></i><i class="a" style="left:778px;width:2px;background:linear-gradient(#30123b,#30123b,#30123b,#30123b,#30123b,#30123b,#30123b,#30123b,#30123b,#30123b,#30123b,#30123b,#30123b,#30123b,#30123b,#30123b,#30123b,#30123b)"></i><i class="a" style="left:780px;width:2px;background:linear-gradient(#30123b,#30123b,#30123b,#30123b,#30123b,#30123b,#30123b,#30123b,#30123b,#30123b,#30123b,#30123b,#30123b,#30123b,#30123b,#30123b,#30123b,#30123b)"></i><i class="a" style="left:782px;width:2px;background:linear-gradient(#30123b,#30123b,#30123b,#30123b,#30123b,#30123b,#30123b,#30123b,#30123b,#30123b,#30123b,#30123b,#30123b,#30123b,#30123b,#30123b,#30123b,#30123b)"></i><i class="a" style="left:784px;width:1px;background:linear-gradient(#30123b,#30123b,#30123b,#30123b,#30123b,#30123b,#30123b,#30123b,#30123b,#30123b,#30123b,#30123b,#30123b,#30123b,#30123b,#30123b,#30123b,#30123b)"></i><i class="a" style="left:785px;width:1px;background:linear-gradient(#fe9e2f,#f1cb3a,#cdec34,#a7fc3a,#79fe59,#4af880,#27eea4,#1de7b2,#18e0bd,#18d7ca,#33adf7,#3d9efe,#448ffe,#4685fa,#477bf2,#4771e9,#4666dd,#4661d6)"></i><i class="a" style="left:786px;width:1px;background:linear-gradient(#7a0403,#7a0403,#7a0403,#7a0403,#c52603,#ef5811,#fe992c,#fcb336,#f4c73a,#e1dd37,#79fe59,#4ef97d,#2aefa1,#19e3b9,#1ad4d0,#22c5e2,#2eb4f2,#37a8fa)"></i><i class="a" style="left:787px;width:1px;background:linear-gradient(#7a0403,#7a0403,#7a0403,#7a0403,#c82803,#f15d13,#fe9b2d,#fbb637,#f2c93a,#dfdf37,#75fe5c,#4af880,#2aefa1,#19e3b9,#1ad4d0,#22c5e2,#2eb4f2,#37a8fa)"></i><i class="a" style="left:788px;width:2px;background:linear-gradient(#7a0403,#7a0403,#7a0403,#810602,#cc2b04,#f36315,#fe9e2f,#fbb838,#f1cb3a,#dde037,#75fe5c,#46f884,#27eea4,#19e2bb,#1ad4d0,#22c5e2,#2eb4f2,#37a8fa)"></i><i class="a" style="left:790px;width:2px;background:linear-gradient(#7a0403,#7a0403,#7a0403,#880802,#d02f05,#f46617,#fea431,#f9bc39,#efcd3a,#dbe236,#71fe5f,#46f884,#27eea4,#19e2bb,#1ad4d0,#22c5e2,#2eb4f2,#37a8fa)"></i><i class="a" style="left:792px;width:2px;background:linear-gradient(#7a0403,#7a0403,#7a0403,#8b0902,#d23105,#f56918,#fea431,#f9bc39,#eecf3a,#dbe236,#71fe5f,#46f884,#27eea4,#19e2bb,#1ad4d0,#22c5e2,#2eb4f2,#37a8fa)"></i><i class="a" style="left:794px;width:2px;background:linear-gradient(#7a0403,#7a0403,#7a0403,#8b0902,#d23105,#f56918,#fea431,#f9bc39,#efcd3a,#dbe236,#71fe5f,#46f884,#27eea4,#19e2bb,#1ad4d0,#22c5e2,#2eb4f2,#37a8fa)"></i><i class="a" style="left:796px;width:2px;background:linear-gradient(#7a0403,#7a0403,#7a0403,#850702,#ce2d04,#f46617,#fea130,#faba39,#f1cb3a,#dde037,#75fe5c,#4af880,#2aefa1,#19e2bb,#1ad4d0,#22c5e2,#2eb4f2,#37a8fa)"></i><i class="a" style="left:798px;width:2px;background:linear-gradient(#7a0403,#7a0403,#7a0403,#7a0403,#ca2a04,#f15d13,#fe9b2d,#fcb336,#f4c73a,#e1dd37,#7dff56,#4ef97d,#2aefa1,#19e3b9,#19d5cd,#22c5e2,#2eb4f2,#37a8fa)"></i><i class="a" style="left:800px;width:2px;background:linear-gradient(#7a0403,#7a0403,#7a0403,#7a0403,#c12302,#ed5510,#fe932a,#fdac34,#f7c13a,#e7d739,#84ff51,#52fa7a,#2ff19b,#1ae4b6,#19d5cd,#22c5e2,#2eb4f2,#37a8fa)"></i><i class="a" style="left:802px;width:2px;background:linear-gradient(#7a0403,#7a0403,#7a0403,#7a0403,#b41b01,#e84b0c,#fc8725,#fea431,#faba39,#ecd13a,#8bff4b,#59fb73,#32f298,#1ce6b4,#19d5cd,#22c5e2,#2eb4f2,#37a8fa)"></i><i class="a" style="left:804px;width:2px;background:linear-gradient(#7a0403,#7a0403,#7a0403,#7a0403,#a91601,#e2430a,#fb7e21,#fe9b2d,#fcb336,#f1cb3a,#92ff47,#61fc6c,#35f394,#1ce6b4,#18d7ca,#20c7df,#2eb4f2,#37a8fa)"></i><i class="a" style="left:806px;width:2px;background:linear-gradient(#7a0403,#7a0403,#7a0403,#7a0403,#9e1001,#dc3b07,#f8721c,#fe932a,#fdac34,#f5c53a,#99fe42,#65fd69,#38f491,#1de7b2,#18d7ca,#20c7df,#2eb4f2,#37a8fa)"></i><i class="a" style="left:808px;width:2px;background:linear-gradient(#7a0403,#7a0403,#7a0403,#7a0403,#950d01,#d83706,#f66c19,#fd8d27,#fea732,#f7c13a,#9cfe40,#69fd66,#3cf58e,#1de7b2,#18d9c8,#20c7df,#2eb4f2,#37a8fa)"></i><i class="a" style="left:810px;width:2px;background:linear-gradient(#7a0403,#7a0403,#7a0403,#7a0403,#8e0a01,#d43305,#f56918,#fc8725,#fea431,#f7c13a,#9ffd3f,#6dfe62,#3cf58e,#1fe9af,#18d9c8,#20c7df,#2cb7f0,#37a8fa)"></i><i class="a" style="left:812px;width:2px;background:linear-gradient(#7a0403,#7a0403,#7a0403,#7a0403,#8e0a01,#d43305,#f56918,#fd8a26,#fea431,#f7c13a,#9ffd3f,#6dfe62,#3ff68a,#20eaac,#18dbc5,#1ecbda,#2ab9ee,#33adf7)"></i><i class="a" style="left:814px;width:2px;background:linear-gradient(#7a0403,#7a0403,#7a0403,#7a0403,#950d01,#d83706,#f66c19,#fd8d27,#fea732,#f6c33a,#9cfe40,#69fd66,#3cf58e,#20eaac,#18dbc5,#1fc9dd,#2ab9ee,#35abf8)"></i><i class="a" style="left:816px;width:2px;background:linear-gradient(#7a0403,#7a0403,#7a0403,#7a0403,#9e1001,#dc3b07,#f9751d,#fe932a,#fdac34,#f4c73a,#99fe42,#65fd69,#38f491,#1fe9af,#18d9c8,#1fc9dd,#2cb7f0,#35abf8)"></i><i class="a" style="left:818px;width:2px;background:linear-gradient(#7a0403,#7a0403,#7a0403,#7a0403,#a91601,#e2430a,#fa7b1f,#fe9b2d,#fcb336,#f1cb3a,#92ff47,#61fc6c,#35f394,#1de7b2,#18d9c8,#20c7df,#2cb7f0,#35abf8)"></i><i class="a" style="left:820px;width:2px;background:linear-gradient(#7a0403,#7a0403,#7a0403,#7a0403,#b21a01,#e7490c,#fc8423,#fea130,#fbb838,#eecf3a,#8fff49,#5dfc6f,#32f298,#1ce6b4,#18d7ca,#20c7df,#2eb4f2,#37a8fa)"></i><i class="a" style="left:822px;width:2px;background:linear-gradient(#7a0403,#7a0403,#7a0403,#7a0403,#b91e02,#ea4e0d,#fd8a26,#fea732,#f9bc39,#ecd13a,#88ff4e,#59fb73,#32f298,#1ae4b6,#19d5cd,#22c5e2,#2eb4f2,#37a8fa)"></i><i class="a" style="left:824px;width:2px;background:linear-gradient(#7a0403,#7a0403,#7a0403,#7a0403,#b91e02,#ea4e0d,#fd8d27,#fea933,#f8be39,#ebd339,#88ff4e,#55fa76,#2ff19b,#1ae4b6,#19d5cd,#22c5e2,#2eb4f2,#37a8fa)"></i><i class="a" style="left:826px;width:2px;background:linear-gradient(#7a0403,#7a0403,#7a0403,#7a0403,#b91e02,#ea4e0d,#fd8d27,#fea933,#f8be39,#e9d539,#84ff51,#55fa76,#2ff19b,#1ae4b6,#19d5cd,#22c5e2,#2eb4f2,#37a8fa)"></i><i class="a" style="left:828px;width:2px;background:linear-gradient(#7a0403,#7a0403,#7a0403,#7a0403,#b71d02,#e84b0c,#fd8a26,#fea732,#f9bc39,#ebd339,#88ff4e,#55fa76,#2ff19b,#1ae4b6,#19d5cd,#22c5e2,#2eb4f2,#37a8fa)"></i><i class="a" style="left:830px;width:2px;background:linear-gradient(#7a0403,#7a0403,#7a0403,#7a0403,#b71d02,#e84b0c,#fc8725,#fea431,#faba39,#ecd13a,#88ff4e,#59fb73,#2ff19b,#1ae4b6,#19d5cd,#22c5e2,#2eb4f2,#37a8fa)"></i><i class="a" style="left:832px;width:2px;background:linear-gradient(#7a0403,#7a0403,#7a0403,#7a0403,#b41b01,#e84b0c,#fc8725,#fea431,#faba39,#ecd13a,#8bff4b,#59fb73,#32f298,#1ce6b4,#18d7ca,#22c5e2,#2eb4f2,#37a8fa)"></i><i class="a" style="left:834px;width:2px;background:linear-gradient(#7a0403,#7a0403,#7a0403,#7a0403,#b71d02,#e84b0c,#fd8a26,#fea732,#faba39,#ecd13a,#8bff4b,#59fb73,#32f298,#1ae4b6,#19d5cd,#22c5e2,#2eb4f2,#37a8fa)"></i><i class="a" style="left:836px;width:2px;background:linear-gradient(#7a0403,#7a0403,#7a0403,#7a0403,#bc2002,#eb500e,#fd8d27,#fea933,#f8be39,#ebd339,#88ff4e,#55fa76,#2ff19b,#1ae4b6,#19d5cd,#22c5e2,#2eb4f2,#37a8fa)"></i><i class="a" style="left:838px;width:2px;background:linear-gradient(#7a0403,#7a0403,#7a0403,#7a0403,#c12302,#ec530f,#fe932a,#fdac34,#f7c13a,#e7d739,#84ff51,#52fa7a,#2cf09e,#19e3b9,#1ad4d0,#22c5e2,#2fb2f4,#37a8fa)"></i><i class="a" style="left:840px;width:2px;background:linear-gradient(#7a0403,#7a0403,#7a0403,#7a0403,#c52603,#ef5811,#fe962b,#fcb136,#f5c53a,#e3db38,#7dff56,#4ef97d,#2aefa1,#19e3b9,#1ad4d0,#23c3e4,#2fb2f4,#38a5fb)"></i><i class="a" style="left:842px;width:2px;background:linear-gradient(#7a0403,#7a0403,#7a0403,#7a0403,#ca2a04,#f15d13,#fe9b2d,#fbb637,#f2c93a,#e1dd37,#79fe59,#4af880,#27eea4,#19e2bb,#1ad2d2,#25c0e7,#2fb2f4,#38a5fb)"></i><i class="a" style="left:844px;width:2px;background:linear-gradient(#7a0403,#7a0403,#7a0403,#810602,#ce2d04,#f36315,#fea130,#fbb838,#f1cb3a,#dde037,#75fe5c,#46f884,#27eea4,#18e0bd,#1ad2d2,#25c0e7,#31aff5,#38a5fb)"></i><i class="a" style="left:846px;width:2px;background:linear-gradient(#7a0403,#7a0403,#7a0403,#880802,#d02f05,#f46617,#fea431,#faba39,#efcd3a,#dde037,#71fe5f,#46f884,#25eca7,#18e0bd,#1bd0d5,#25c0e7,#31aff5,#3aa3fc)"></i><i class="a" style="left:848px;width:2px;background:linear-gradient(#7a0403,#7a0403,#7a0403,#8b0902,#d23105,#f56918,#fea431,#f9bc39,#efcd3a,#dbe236,#71fe5f,#43f787,#25eca7,#18e0bd,#1bd0d5,#25c0e7,#31aff5,#3aa3fc)"></i><i class="a" style="left:850px;width:2px;background:linear-gradient(#7a0403,#7a0403,#7a0403,#8b0902,#d23105,#f56918,#fea431,#faba39,#f1cb3a,#dde037,#75fe5c,#46f884,#25eca7,#18e0bd,#1bd0d5,#25c0e7,#31aff5,#3aa3fc)"></i><i class="a" style="left:852px;width:2px;background:linear-gradient(#7a0403,#7a0403,#7a0403,#850702,#ce2d04,#f46617,#fea130,#fbb838,#f2c93a,#e1dd37,#79fe59,#4af880,#27eea4,#18e0bd,#1ad2d2,#25c0e7,#31aff5,#38a5fb)"></i><i class="a" style="left:854px;width:2px;background:linear-gradient(#7a0403,#7a0403,#7a0403,#7e0502,#cc2b04,#f26014,#fe9b2d,#fcb336,#f5c53a,#e5d938,#80ff53,#4ef97d,#2aefa1,#19e2bb,#1ad2d2,#23c3e4,#31aff5,#38a5fb)"></i><i class="a" style="left:856px;width:2px;background:linear-gradient(#7a0403,#7a0403,#7a0403,#7a0403,#c52603,#f05b12,#fe962b,#fdae35,#f7c13a,#e9d539,#88ff4e,#55fa76,#2ff19b,#19e3b9,#1ad4d0,#23c3e4,#2fb2f4,#38a5fb)"></i><i class="a" style="left:858px;width:2px;background:linear-gradient(#7a0403,#7a0403,#7a0403,#7a0403,#be2102,#ec530f,#fd8d27,#fea732,#faba39,#eecf3a,#8fff49,#5dfc6f,#32f298,#1ce6b4,#19d5cd,#22c5e2,#2fb2f4,#37a8fa)"></i><i class="a" style="left:860px;width:2px;background:linear-gradient(#7a0403,#7a0403,#7a0403,#7a0403,#b71d02,#e84b0c,#fc8423,#fe9e2f,#fcb336,#f1cb3a,#96fe44,#61fc6c,#35f394,#1de7b2,#18d7ca,#20c7df,#2eb4f2,#37a8fa)"></i><i class="a" style="left:862px;width:2px;background:linear-gradient(#7a0403,#7a0403,#7a0403,#7a0403,#a91601,#e2430a,#fa7b1f,#fe962b,#fdac34,#f5c53a,#9cfe40,#69fd66,#3cf58e,#1fe9af,#18d9c8,#20c7df,#2cb7f0,#35abf8)"></i><i class="a" style="left:864px;width:2px;background:linear-gradient(#7a0403,#7a0403,#7a0403,#7a0403,#9b0f01,#dc3b07,#f76f1a,#fd8d27,#fea431,#f8be39,#a1fd3d,#71fe5f,#3ff68a,#20eaac,#18dbc5,#1fc9dd,#2cb7f0,#35abf8)"></i><i class="a" style="left:866px;width:2px;background:linear-gradient(#7a0403,#7a0403,#7a0403,#7a0403,#920b01,#d43305,#f46617,#fc8423,#fe9e2f,#faba39,#a4fc3c,#75fe5c,#43f787,#22ebaa,#18dbc5,#1fc9dd,#2cb7f0,#35abf8)"></i><i class="a" style="left:868px;width:2px;background:linear-gradient(#7a0403,#7a0403,#7a0403,#7a0403,#880802,#d02f05,#f26014,#fb7e21,#fe992c,#fbb838,#a7fc3a,#79fe59,#46f884,#22ebaa,#18ddc2,#1ecbda,#2ab9ee,#35abf8)"></i><i class="a" style="left:870px;width:2px;background:linear-gradient(#7a0403,#7a0403,#7a0403,#7a0403,#810602,#cc2b04,#f15d13,#fa7b1f,#fe962b,#fbb637,#a9fb39,#79fe59,#46f884,#22ebaa,#18ddc2,#1ecbda,#2ab9ee,#33adf7)"></i><i class="a" style="left:872px;width:2px;background:linear-gradient(#7a0403,#7a0403,#7a0403,#7a0403,#7e0502,#ca2a04,#f05b12,#f9781e,#fe932a,#fcb336,#acfb38,#7dff56,#46f884,#25eca7,#18ddc2,#1ecbda,#2ab9ee,#33adf7)"></i><i class="a" style="left:874px;width:2px;background:linear-gradient(#7a0403,#7a0403,#7a0403,#7a0403,#7a0403,#ca2a04,#ef5811,#f9781e,#fe932a,#fcb136,#acfb38,#7dff56,#4af880,#25eca7,#18ddc2,#1ecbda,#2ab9ee,#33adf7)"></i><i class="a" style="left:876px;width:2px;background:linear-gradient(#7a0403,#7a0403,#7a0403,#7a0403,#7a0403,#ca2a04,#ef5811,#f9781e,#fe932a,#fcb136,#acfb38,#7dff56,#4af880,#25eca7,#18ddc2,#1ecbda,#2ab9ee,#33adf7)"></i><i class="a" style="left:878px;width:2px;background:linear-gradient(#7a0403,#7a0403,#7a0403,#7a0403,#7e0502,#ca2a04,#f05b12,#f9781e,#fe932a,#fcb336,#acfb38,#7dff56,#46f884,#22ebaa,#18ddc2,#1fc9dd,#2cb7f0,#35abf8)"></i><i class="a" style="left:880px;width:2px;background:linear-gradient(#7a0403,#7a0403,#7a0403,#7a0403,#810602,#cc2b04,#f05b12,#fa7b1f,#fe962b,#fbb637,#a9fb39,#79fe59,#46f884,#22ebaa,#18dbc5,#1fc9dd,#2cb7f0,#35abf8)"></i><i class="a" style="left:882px;width:2px;background:linear-gradient(#7a0403,#7a0403,#7a0403,#7a0403,#850702,#ce2d04,#f26014,#fb7e21,#fe9b2d,#fbb838,#a7fc3a,#75fe5c,#43f787,#20eaac,#18dbc5,#20c7df,#2eb4f2,#35abf8)"></i><i class="a" style="left:884px;width:2px;background:linear-gradient(#7a0403,#7a0403,#7a0403,#7a0403,#8b0902,#d23105,#f46617,#fc8423,#fe9e2f,#f9bc39,#a1fd3d,#71fe5f,#3ff68a,#1fe9af,#18d9c8,#20c7df,#2eb4f2,#37a8fa)"></i><i class="a" style="left:886px;width:2px;background:linear-gradient(#7a0403,#7a0403,#7a0403,#7a0403,#950d01,#d63506,#f66c19,#fd8a26,#fea431,#f7c13a,#9ffd3f,#69fd66,#3cf58e,#1de7b2,#18d7ca,#22c5e2,#2fb2f4,#37a8fa)"></i><i class="a" style="left:888px;width:2px;background:linear-gradient(#7a0403,#7a0403,#7a0403,#7a0403,#9b0f01,#da3907,#f76f1a,#fe9029,#fea933,#f6c33a,#9cfe40,#65fd69,#38f491,#1ce6b4,#19d5cd,#22c5e2,#2fb2f4,#37a8fa)"></i><i class="a" style="left:890px;width:2px;background:linear-gradient(#7a0403,#7a0403,#7a0403,#7a0403,#9e1001,#dc3b07,#f9751d,#fe932a,#fdac34,#f5c53a,#99fe42,#65fd69,#35f394,#1ce6b4,#19d5cd,#23c3e4,#31aff5,#37a8fa)"></i><i class="a" style="left:892px;width:2px;background:linear-gradient(#7a0403,#7a0403,#7a0403,#7a0403,#a11201,#df3f08,#f9751d,#fe932a,#fdac34,#f5c53a,#99fe42,#65fd69,#35f394,#1ce6b4,#19d5cd,#23c3e4,#31aff5,#37a8fa)"></i><i class="a" style="left:894px;width:2px;background:linear-gradient(#7a0403,#7a0403,#7a0403,#7a0403,#a11201,#dd3d08,#f9751d,#fe932a,#fea933,#f6c33a,#9cfe40,#69fd66,#38f491,#1ce6b4,#19d5cd,#23c3e4,#2fb2f4,#37a8fa)"></i><i class="a" style="left:896px;width:2px;background:linear-gradient(#7a0403,#7a0403,#7a0403,#7a0403,#9b0f01,#dc3b07,#f76f1a,#fd8d27,#fea732,#f7c13a,#9ffd3f,#69fd66,#38f491,#1de7b2,#18d7ca,#22c5e2,#2fb2f4,#37a8fa)"></i><i class="a" style="left:898px;width:2px;background:linear-gradient(#7a0403,#7a0403,#7a0403,#7a0403,#950d01,#d63506,#f56918,#fc8725,#fea130,#f9bc39,#a1fd3d,#6dfe62,#3cf58e,#1fe9af,#18d7ca,#22c5e2,#2fb2f4,#37a8fa)"></i><i class="a" style="left:900px;width:2px;background:linear-gradient(#7a0403,#7a0403,#7a0403,#7a0403,#8b0902,#d23105,#f36315,#fb8122,#fe9b2d,#fbb838,#a7fc3a,#75fe5c,#3ff68a,#1fe9af,#18d9c8,#20c7df,#2eb4f2,#37a8fa)"></i><i class="a" style="left:902px;width:2px;background:linear-gradient(#7a0403,#7a0403,#7a0403,#7a0403,#850702,#ce2d04,#f15d13,#fa7b1f,#fe962b,#fbb637,#a9fb39,#79fe59,#43f787,#20eaac,#18dbc5,#20c7df,#2eb4f2,#35abf8)"></i><i class="a" style="left:904px;width:2px;background:linear-gradient(#7a0403,#7a0403,#7a0403,#7a0403,#7e0502,#ca2a04,#f05b12,#f9781e,#fe9029,#fcb136,#affa37,#7dff56,#46f884,#22ebaa,#18dbc5,#1fc9dd,#2eb4f2,#35abf8)"></i><i class="a" style="left:906px;width:2px;background:linear-gradient(#7a0403,#7a0403,#7a0403,#7a0403,#7a0403,#c52603,#ed5510,#f8721c,#fd8d27,#fdac34,#b1f936,#80ff53,#4af880,#22ebaa,#18ddc2,#1fc9dd,#2cb7f0,#35abf8)"></i><i class="a" style="left:908px;width:2px;background:linear-gradient(#7a0403,#7a0403,#7a0403,#7a0403,#7a0403,#c32503,#ec530f,#f76f1a,#fd8a26,#fdac34,#b1f936,#80ff53,#4af880,#25eca7,#18ddc2,#1fc9dd,#2cb7f0,#35abf8)"></i><i class="a" style="left:910px;width:2px;background:linear-gradient(#7a0403,#7a0403,#7a0403,#7a0403,#7a0403,#c12302,#eb500e,#f66c19,#fd8a26,#fea933,#b1f936,#80ff53,#4af880,#25eca7,#18ddc2,#1fc9dd,#2cb7f0,#35abf8)"></i><i class="a" style="left:912px;width:2px;background:linear-gradient(#7a0403,#7a0403,#7a0403,#7a0403,#7a0403,#c12302,#eb500e,#f66c19,#fd8a26,#fea933,#b1f936,#80ff53,#4af880,#25eca7,#18ddc2,#1fc9dd,#2cb7f0,#35abf8)"></i><i class="a" style="left:914px;width:2px;background:linear-gradient(#7a0403,#7a0403,#7a0403,#7a0403,#7a0403,#c12302,#eb500e,#f76f1a,#fd8a26,#fea933,#b4f836,#80ff53,#4af880,#25eca7,#18ddc2,#1fc9dd,#2cb7f0,#35abf8)"></i><i class="a" style="left:916px;width:2px;background:linear-gradient(#7a0403,#7a0403,#7a0403,#7a0403,#7a0403,#c32503,#ec530f,#f76f1a,#fd8a26,#fea933,#b4f836,#80ff53,#4af880,#25eca7,#18ddc2,#1fc9dd,#2cb7f0,#35abf8)"></i><i class="a" style="left:918px;width:2px;background:linear-gradient(#7a0403,#7a0403,#7a0403,#7a0403,#7a0403,#c32503,#ec530f,#f76f1a,#fd8a26,#fea933,#b1f936,#80ff53,#4af880,#25eca7,#18ddc2,#1fc9dd,#2cb7f0,#35abf8)"></i><i class="a" style="left:920px;width:2px;background:linear-gradient(#7a0403,#7a0403,#7a0403,#7a0403,#7a0403,#c32503,#ec530f,#f76f1a,#fd8a26,#fdac34,#b1f936,#80ff53,#4af880,#25eca7,#18ddc2,#1fc9dd,#2cb7f0,#35abf8)"></i><i class="a" style="left:922px;width:2px;background:linear-gradient(#7a0403,#7a0403,#7a0403,#7a0403,#7a0403,#c32503,#ec530f,#f76f1a,#fd8a26,#fdac34,#b1f936,#80ff53,#4af880,#25eca7,#18ddc2,#1fc9dd,#2cb7f0,#35abf8)"></i><i class="a" style="left:924px;width:2px;background:linear-gradient(#7a0403,#7a0403,#7a0403,#7a0403,#7a0403,#c32503,#ec530f,#f76f1a,#fd8d27,#fdac34,#b1f936,#80ff53,#4af880,#25eca7,#18ddc2,#1fc9dd,#2cb7f0,#35abf8)"></i><i class="a" style="left:926px;width:2px;background:linear-gradient(#7a0403,#7a0403,#7a0403,#7a0403,#7a0403,#c32503,#ec530f,#f8721c,#fd8d27,#fdac34,#b1f936,#80ff53,#4af880,#22ebaa,#18ddc2,#1fc9dd,#2cb7f0,#35abf8)"></i><i class="a" style="left:928px;width:2px;background:linear-gradient(#7a0403,#7a0403,#7a0403,#7a0403,#7a0403,#c32503,#ec530f,#f8721c,#fd8d27,#fdae35,#affa37,#7dff56,#46f884,#22ebaa,#18dbc5,#1fc9dd,#2cb7f0,#35abf8)"></i><i class="a" style="left:930px;width:2px;background:linear-gradient(#7a0403,#7a0403,#7a0403,#7a0403,#7a0403,#c52603,#ed5510,#f8721c,#fe9029,#fdae35,#affa37,#7dff56,#46f884,#22ebaa,#18dbc5,#1fc9dd,#2eb4f2,#35abf8)"></i><i class="a" style="left:932px;width:2px;background:linear-gradient(#7a0403,#7a0403,#7a0403,#7a0403,#7a0403,#c52603,#ed5510,#f9751d,#fe9029,#fcb136,#acfb38,#79fe59,#46f884,#22ebaa,#18dbc5,#1fc9dd,#2eb4f2,#35abf8)"></i><i class="a" style="left:934px;width:2px;background:linear-gradient(#7a0403,#7a0403,#7a0403,#7a0403,#7a0403,#c82803,#ef5811,#f9781e,#fe932a,#fcb336,#a9fb39,#79fe59,#43f787,#20eaac,#18dbc5,#1fc9dd,#2eb4f2,#35abf8)"></i><i class="a" style="left:936px;width:2px;background:linear-gradient(#7a0403,#7a0403,#7a0403,#7a0403,#7a0403,#ca2a04,#f05b12,#f9781e,#fe962b,#fbb637,#a9fb39,#79fe59,#43f787,#20eaac,#18dbc5,#20c7df,#2eb4f2,#35abf8)"></i><i class="a" style="left:938px;width:2px;background:linear-gradient(#7a0403,#7a0403,#7a0403,#7a0403,#850702,#ce2d04,#f26014,#fb7e21,#fe992c,#fbb838,#a7fc3a,#75fe5c,#43f787,#20eaac,#18d9c8,#20c7df,#2eb4f2,#35abf8)"></i><i class="a" style="left:940px;width:2px;background:linear-gradient(#7a0403,#7a0403,#7a0403,#7a0403,#8e0a01,#d43305,#f46617,#fc8423,#fe9e2f,#faba39,#a7fc3a,#75fe5c,#3ff68a,#20eaac,#18d9c8,#20c7df,#2eb4f2,#35abf8)"></i><i class="a" style="left:942px;width:2px;background:linear-gradient(#7a0403,#7a0403,#7a0403,#7a0403,#920b01,#d63506,#f56918,#fc8725,#fe9e2f,#faba39,#a4fc3c,#71fe5f,#3ff68a,#1fe9af,#18d9c8,#20c7df,#2eb4f2,#35abf8)"></i><i class="a" style="left:944px;width:2px;background:linear-gradient(#7a0403,#7a0403,#7a0403,#7a0403,#920b01,#d43305,#f56918,#fc8725,#fea130,#f9bc39,#a4fc3c,#71fe5f,#3ff68a,#1fe9af,#18d9c8,#20c7df,#2eb4f2,#35abf8)"></i><i class="a" style="left:946px;width:2px;background:linear-gradient(#7a0403,#7a0403,#7a0403,#7a0403,#8e0a01,#d43305,#f46617,#fc8725,#fea130,#f9bc39,#a1fd3d,#71fe5f,#3ff68a,#1fe9af,#18d9c8,#20c7df,#2eb4f2,#35abf8)"></i><i class="a" style="left:948px;width:2px;background:linear-gradient(#7a0403,#7a0403,#7a0403,#7a0403,#8e0a01,#d43305,#f46617,#fc8725,#fea130,#f9bc39,#a1fd3d,#6dfe62,#3cf58e,#1fe9af,#18d9c8,#20c7df,#2eb4f2,#35abf8)"></i><i class="a" style="left:950px;width:2px;background:linear-gradient(#7a0403,#7a0403,#7a0403,#7a0403,#8e0a01,#d43305,#f46617,#fc8725,#fea130,#f8be39,#a1fd3d,#6dfe62,#3cf58e,#1fe9af,#18d9c8,#20c7df,#2eb4f2,#35abf8)"></i><i class="a" style="left:952px;width:2px;background:linear-gradient(#7a0403,#7a0403,#7a0403,#7a0403,#8e0a01,#d43305,#f56918,#fc8725,#fea130,#f8be39,#a1fd3d,#6dfe62,#3cf58e,#1fe9af,#18d9c8,#20c7df,#2eb4f2,#35abf8)"></i><i class="a" style="left:954px;width:2px;background:linear-gradient(#7a0403,#7a0403,#7a0403,#7a0403,#920b01,#d43305,#f56918,#fc8725,#fea130,#f8be39,#a1fd3d,#6dfe62,#3cf58e,#1fe9af,#18d9c8,#20c7df,#2eb4f2,#35abf8)"></i><i class="a" style="left:956px;width:2px;background:linear-gradient(#7a0403,#7a0403,#7a0403,#7a0403,#920b01,#d43305,#f56918,#fc8725,#fea130,#f8be39,#a1fd3d,#6dfe62,#3cf58e,#1fe9af,#18d9c8,#20c7df,#2eb4f2,#35abf8)"></i><i class="a" style="left:958px;width:2px;background:linear-gradient(#7a0403,#7a0403,#7a0403,#7a0403,#920b01,#d43305,#f56918,#fc8725,#fea130,#f8be39,#a1fd3d,#6dfe62,#3ff68a,#1fe9af,#18d9c8,#20c7df,#2cb7f0,#35abf8)"></i><i class="a" style="left:960px;width:2px;background:linear-gradient(#7a0403,#7a0403,#7a0403,#7a0403,#8e0a01,#d43305,#f46617,#fc8423,#fea130,#f9bc39,#a1fd3d,#71fe5f,#3ff68a,#20eaac,#18dbc5,#1fc9dd,#2cb7f0,#35abf8)"></i><i class="a" style="left:962px;width:2px;background:linear-gradient(#7a0403,#7a0403,#7a0403,#7a0403,#8b0902,#d23105,#f36315,#fc8423,#fe9e2f,#faba39,#a4fc3c,#75fe5c,#43f787,#20eaac,#18dbc5,#1fc9dd,#2cb7f0,#33adf7)"></i><i class="a" style="left:964px;width:2px;background:linear-gradient(#7a0403,#7a0403,#7a0403,#7a0403,#880802,#d02f05,#f36315,#fb8122,#fe9b2d,#fbb838,#a7fc3a,#75fe5c,#43f787,#22ebaa,#18ddc2,#1ecbda,#2ab9ee,#33adf7)"></i><i class="a" style="left:966px;width:2px;background:linear-gradient(#7a0403,#7a0403,#7a0403,#7a0403,#880802,#d02f05,#f26014,#fb7e21,#fe992c,#fbb637,#a9fb39,#79fe59,#46f884,#22ebaa,#18ddc2,#1ecbda,#2ab9ee,#33adf7)"></i><i class="a" style="left:968px;width:2px;background:linear-gradient(#7a0403,#7a0403,#7a0403,#7a0403,#850702,#ce2d04,#f26014,#fb7e21,#fe992c,#fbb637,#a9fb39,#79fe59,#46f884,#25eca7,#18ddc2,#1ecbda,#2ab9ee,#33adf7)"></i><i class="a" style="left:970px;width:2px;background:linear-gradient(#7a0403,#7a0403,#7a0403,#7a0403,#850702,#ce2d04,#f26014,#fb7e21,#fe992c,#fbb637,#a9fb39,#79fe59,#46f884,#22ebaa,#18ddc2,#1ecbda,#2ab9ee,#33adf7)"></i><i class="a" style="left:972px;width:2px;background:linear-gradient(#7a0403,#7a0403,#7a0403,#7a0403,#880802,#d02f05,#f26014,#fb8122,#fe9b2d,#fbb838,#a7fc3a,#79fe59,#46f884,#22ebaa,#18ddc2,#1ecbda,#2ab9ee,#33adf7)"></i><i class="a" style="left:974px;width:2px;background:linear-gradient(#7a0403,#7a0403,#7a0403,#7a0403,#8b0902,#d23105,#f36315,#fb8122,#fe9b2d,#faba39,#a4fc3c,#75fe5c,#43f787,#22ebaa,#18ddc2,#1ecbda,#2ab9ee,#33adf7)"></i><i class="a" style="left:976px;width:2px;background:linear-gradient(#7a0403,#7a0403,#7a0403,#7a0403,#8e0a01,#d43305,#f46617,#fc8725,#fea130,#f9bc39,#a1fd3d,#71fe5f,#43f787,#20eaac,#18dbc5,#1fc9dd,#2ab9ee,#33adf7)"></i><i class="a" style="left:978px;width:2px;background:linear-gradient(#7a0403,#7a0403,#7a0403,#7a0403,#950d01,#d83706,#f66c19,#fd8a26,#fea431,#f7c13a,#9ffd3f,#6dfe62,#3ff68a,#20eaac,#18dbc5,#1fc9dd,#2cb7f0,#33adf7)"></i><i class="a" style="left:980px;width:2px;background:linear-gradient(#7a0403,#7a0403,#7a0403,#7a0403,#a11201,#dd3d08,#f9751d,#fe932a,#fdac34,#f5c53a,#99fe42,#69fd66,#38f491,#1fe9af,#18d9c8,#20c7df,#2cb7f0,#35abf8)"></i><i class="a" style="left:982px;width:2px;background:linear-gradient(#7a0403,#7a0403,#7a0403,#7a0403,#ac1701,#e4450a,#fb7e21,#fe9b2d,#fcb336,#f1cb3a,#92ff47,#61fc6c,#35f394,#1ce6b4,#18d7ca,#20c7df,#2eb4f2,#35abf8)"></i><i class="a" style="left:984px;width:2px;background:linear-gradient(#7a0403,#7a0403,#7a0403,#7a0403,#b71d02,#e84b0c,#fc8725,#fea431,#fbb838,#eecf3a,#8fff49,#5dfc6f,#32f298,#1ce6b4,#19d5cd,#22c5e2,#2eb4f2,#35abf8)"></i><i class="a" style="left:986px;width:2px;background:linear-gradient(#7a0403,#7a0403,#7a0403,#7a0403,#b91e02,#eb500e,#fd8a26,#fea732,#faba39,#eecf3a,#8fff49,#5dfc6f,#32f298,#1ce6b4,#19d5cd,#22c5e2,#2eb4f2,#35abf8)"></i><i class="a" style="left:988px;width:2px;background:linear-gradient(#7a0403,#7a0403,#7a0403,#7a0403,#b91e02,#ea4e0d,#fd8a26,#fea431,#fbb838,#eecf3a,#8fff49,#5dfc6f,#32f298,#1ce6b4,#18d7ca,#22c5e2,#2eb4f2,#35abf8)"></i><i class="a" style="left:990px;width:2px;background:linear-gradient(#7a0403,#7a0403,#7a0403,#7a0403,#b41b01,#e84b0c,#fc8423,#fea130,#fbb637,#f1cb3a,#92ff47,#61fc6c,#35f394,#1de7b2,#18d7ca,#20c7df,#2eb4f2,#35abf8)"></i><i class="a" style="left:992px;width:2px;background:linear-gradient(#7a0403,#7a0403,#7a0403,#7a0403,#af1801,#e4450a,#fb7e21,#fe9b2d,#fcb136,#f2c93a,#99fe42,#65fd69,#38f491,#1fe9af,#18d9c8,#1fc9dd,#2cb7f0,#35abf8)"></i><i class="a" style="left:994px;width:2px;background:linear-gradient(#7a0403,#7a0403,#7a0403,#7a0403,#a71401,#e14109,#f9781e,#fe962b,#fdac34,#f5c53a,#9cfe40,#69fd66,#3cf58e,#1fe9af,#18dbc5,#1fc9dd,#2cb7f0,#33adf7)"></i><i class="a" style="left:996px;width:2px;background:linear-gradient(#7a0403,#7a0403,#7a0403,#7a0403,#a11201,#dd3d08,#f8721c,#fe9029,#fea732,#f7c13a,#9ffd3f,#6dfe62,#3ff68a,#20eaac,#18dbc5,#1ecbda,#2ab9ee,#33adf7)"></i><i class="a" style="left:998px;width:2px;background:linear-gradient(#7a0403,#7a0403,#7a0403,#7a0403,#9b0f01,#da3907,#f76f1a,#fd8a26,#fea431,#f8be39,#a1fd3d,#71fe5f,#43f787,#22ebaa,#18ddc2,#1ecbda,#2ab9ee,#33adf7)"></i><i class="a" style="left:1000px;width:2px;background:linear-gradient(#7a0403,#7a0403,#7a0403,#7a0403,#980e01,#d83706,#f66c19,#fd8a26,#fea431,#f8be39,#a1fd3d,#71fe5f,#43f787,#22ebaa,#18ddc2,#1ecbda,#28bceb,#31aff5)"></i><i class="a" style="left:1002px;width:2px;background:linear-gradient(#7a0403,#7a0403,#7a0403,#7a0403,#980e01,#da3907,#f66c19,#fd8a26,#fea431,#f8be39,#a1fd3d,#71fe5f,#43f787,#22ebaa,#18ddc2,#1ecbda,#28bceb,#31aff5)"></i><i class="a" style="left:1004px;width:2px;background:linear-gradient(#7a0403,#7a0403,#7a0403,#7a0403,#9b0f01,#da3907,#f76f1a,#fd8d27,#fea431,#f8be39,#a1fd3d,#71fe5f,#43f787,#22ebaa,#18ddc2,#1ecbda,#28bceb,#31aff5)"></i><i class="a" style="left:1006px;width:2px;background:linear-gradient(#7a0403,#7a0403,#7a0403,#7a0403,#9b0f01,#da3907,#f76f1a,#fd8d27,#fea732,#f7c13a,#9ffd3f,#71fe5f,#3ff68a,#22ebaa,#18ddc2,#1ecbda,#2ab9ee,#31aff5)"></i><i class="a" style="left:1008px;width:2px;background:linear-gradient(#7a0403,#7a0403,#7a0403,#7a0403,#9e1001,#dc3b07,#f8721c,#fe9029,#fea933,#f6c33a,#9ffd3f,#6dfe62,#3ff68a,#20eaac,#18ddc2,#1ecbda,#2ab9ee,#33adf7)"></i><i class="a" style="left:1010px;width:2px;background:linear-gradient(#7a0403,#7a0403,#7a0403,#7a0403,#a11201,#dd3d08,#f9751d,#fe932a,#fea933,#f6c33a,#9cfe40,#69fd66,#3ff68a,#20eaac,#18dbc5,#1ecbda,#2ab9ee,#33adf7)"></i><i class="a" style="left:1012px;width:2px;background:linear-gradient(#7a0403,#7a0403,#7a0403,#7a0403,#a41301,#df3f08,#f9781e,#fe962b,#fdac34,#f5c53a,#99fe42,#69fd66,#3cf58e,#1fe9af,#18dbc5,#1ecbda,#2ab9ee,#33adf7)"></i><i class="a" style="left:1014px;width:2px;background:linear-gradient(#7a0403,#7a0403,#7a0403,#7a0403,#a91601,#e14109,#fa7b1f,#fe992c,#fdae35,#f4c73a,#99fe42,#65fd69,#3cf58e,#1fe9af,#18dbc5,#1fc9dd,#2ab9ee,#33adf7)"></i><i class="a" style="left:1016px;width:2px;background:linear-gradient(#7a0403,#7a0403,#7a0403,#7a0403,#af1801,#e4450a,#fb7e21,#fe9b2d,#fcb136,#f2c93a,#96fe44,#65fd69,#38f491,#1fe9af,#18d9c8,#1fc9dd,#2ab9ee,#33adf7)"></i><i class="a" style="left:1018px;width:2px;background:linear-gradient(#7a0403,#7a0403,#7a0403,#7a0403,#b41b01,#e7490c,#fc8423,#fe9e2f,#fcb336,#f1cb3a,#96fe44,#65fd69,#38f491,#1fe9af,#18d9c8,#1fc9dd,#2ab9ee,#33adf7)"></i><i class="a" style="left:1020px;width:2px;background:linear-gradient(#7a0403,#7a0403,#7a0403,#7a0403,#b91e02,#ea4e0d,#fc8725,#fea130,#fbb637,#f1cb3a,#92ff47,#61fc6c,#38f491,#1de7b2,#18d9c8,#1fc9dd,#2cb7f0,#33adf7)"></i><i class="a" style="left:1022px;width:2px;background:linear-gradient(#7a0403,#7a0403,#7a0403,#7a0403,#bc2002,#eb500e,#fd8a26,#fea431,#fbb637,#efcd3a,#92ff47,#61fc6c,#38f491,#1de7b2,#18d9c8,#1fc9dd,#2ab9ee,#33adf7)"></i><i class="a" style="left:1024px;width:2px;background:linear-gradient(#7a0403,#7a0403,#7a0403,#7a0403,#bc2002,#eb500e,#fd8a26,#fea431,#fbb637,#f1cb3a,#92ff47,#65fd69,#38f491,#1fe9af,#18d9c8,#1fc9dd,#2ab9ee,#33adf7)"></i><i class="a" style="left:1026px;width:2px;background:linear-gradient(#7a0403,#7a0403,#7a0403,#7a0403,#bc2002,#eb500e,#fd8a26,#fea431,#fbb637,#f1cb3a,#96fe44,#65fd69,#38f491,#1fe9af,#18dbc5,#1fc9dd,#2ab9ee,#33adf7)"></i><i class="a" style="left:1028px;width:2px;background:linear-gradient(#7a0403,#7a0403,#7a0403,#7a0403,#b91e02,#eb500e,#fc8725,#fea130,#fbb637,#f1cb3a,#96fe44,#65fd69,#3cf58e,#1fe9af,#18dbc5,#1ecbda,#2ab9ee,#33adf7)"></i><i class="a" style="left:1030px;width:2px;background:linear-gradient(#7a0403,#7a0403,#7a0403,#7a0403,#b91e02,#ea4e0d,#fc8725,#fea130,#fcb336,#f2c93a,#99fe42,#69fd66,#3cf58e,#20eaac,#18dbc5,#1ecbda,#2ab9ee,#31aff5)"></i><i class="a" style="left:1032px;width:2px;background:linear-gradient(#7a0403,#7a0403,#7a0403,#7a0403,#b71d02,#e84b0c,#fc8423,#fe9e2f,#fcb136,#f2c93a,#99fe42,#69fd66,#3cf58e,#20eaac,#18ddc2,#1ecbda,#28bceb,#31aff5)"></i><i class="a" style="left:1034px;width:2px;background:linear-gradient(#7a0403,#7a0403,#7a0403,#7a0403,#b41b01,#e7490c,#fb8122,#fe9b2d,#fcb136,#f4c73a,#99fe42,#69fd66,#3ff68a,#20eaac,#18ddc2,#1ecbda,#28bceb,#31aff5)"></i><i class="a" style="left:1036px;width:2px;background:linear-gradient(#7a0403,#7a0403,#7a0403,#7a0403,#b21a01,#e5470b,#fb8122,#fe9b2d,#fdae35,#f5c53a,#9cfe40,#6dfe62,#3ff68a,#22ebaa,#18ddc2,#1ccdd8,#28bceb,#31aff5)"></i><i class="a" style="left:1038px;width:2px;background:linear-gradient(#7a0403,#7a0403,#7a0403,#7a0403,#af1801,#e5470b,#fb7e21,#fe992c,#fdae35,#f5c53a,#9cfe40,#6dfe62,#3ff68a,#22ebaa,#18ddc2,#1ccdd8,#28bceb,#31aff5)"></i><i class="a" style="left:1040px;width:2px;background:linear-gradient(#7a0403,#7a0403,#7a0403,#7a0403,#af1801,#e5470b,#fb7e21,#fe992c,#fdae35,#f5c53a,#9cfe40,#6dfe62,#3ff68a,#22ebaa,#18dec0,#1ccdd8,#27bee9,#31aff5)"></i><i class="a" style="left:1042px;width:2px;background:linear-gradient(#7a0403,#7a0403,#7a0403,#7a0403,#af1801,#e5470b,#fb7e21,#fe992c,#fdae35,#f5c53a,#9cfe40,#6dfe62,#3ff68a,#22ebaa,#18dec0,#1ccdd8,#27bee9,#31aff5)"></i><i class="a" style="left:1044px;width:2px;background:linear-gradient(#7a0403,#7a0403,#7a0403,#7a0403,#b21a01,#e7490c,#fb8122,#fe9b2d,#fdae35,#f5c53a,#9cfe40,#6dfe62,#3ff68a,#22ebaa,#18ddc2,#1ccdd8,#27bee9,#31aff5)"></i><i class="a" style="left:1046px;width:2px;background:linear-gradient(#7a0403,#7a0403,#7a0403,#7a0403,#b71d02,#e84b0c,#fc8423,#fe9e2f,#fcb136,#f4c73a,#99fe42,#69fd66,#3ff68a,#20eaac,#18ddc2,#1ccdd8,#28bceb,#31aff5)"></i><i class="a" style="left:1048px;width:2px;background:linear-gradient(#7a0403,#7a0403,#7a0403,#7a0403,#b91e02,#eb500e,#fc8725,#fea130,#fbb637,#f1cb3a,#96fe44,#65fd69,#3cf58e,#20eaac,#18ddc2,#1ccdd8,#28bceb,#31aff5)"></i><i class="a" style="left:1050px;width:2px;background:linear-gradient(#7a0403,#7a0403,#7a0403,#7a0403,#be2102,#ec530f,#fd8d27,#fea732,#fbb838,#efcd3a,#92ff47,#65fd69,#38f491,#1fe9af,#18dbc5,#1ecbda,#28bceb,#31aff5)"></i><i class="a" style="left:1052px;width:2px;background:linear-gradient(#7a0403,#7a0403,#7a0403,#7a0403,#c32503,#ef5811,#fe932a,#fea933,#f9bc39,#ecd13a,#8fff49,#61fc6c,#38f491,#1fe9af,#18dbc5,#1ecbda,#28bceb,#31aff5)"></i><i class="a" style="left:1054px;width:2px;background:linear-gradient(#7a0403,#7a0403,#7a0403,#7a0403,#c82803,#f15d13,#fe962b,#fdae35,#f8be39,#ebd339,#8bff4b,#5dfc6f,#35f394,#1de7b2,#18d9c8,#1fc9dd,#2ab9ee,#33adf7)"></i><i class="a" style="left:1056px;width:2px;background:linear-gradient(#7a0403,#7a0403,#7a0403,#7e0502,#cc2b04,#f26014,#fe992c,#fcb136,#f7c13a,#e9d539,#88ff4e,#59fb73,#32f298,#1de7b2,#18d9c8,#1fc9dd,#2ab9ee,#33adf7)"></i><i class="a" style="left:1058px;width:2px;background:linear-gradient(#7a0403,#7a0403,#7a0403,#810602,#ce2d04,#f36315,#fe9b2d,#fcb136,#f6c33a,#e7d739,#88ff4e,#59fb73,#32f298,#1de7b2,#18d9c8,#1fc9dd,#2ab9ee,#33adf7)"></i><i class="a" style="left:1060px;width:2px;background:linear-gradient(#7a0403,#7a0403,#7a0403,#850702,#ce2d04,#f36315,#fe9b2d,#fcb336,#f6c33a,#e7d739,#88ff4e,#59fb73,#32f298,#1de7b2,#18d9c8,#1fc9dd,#2ab9ee,#33adf7)"></i><i class="a" style="left:1062px;width:2px;background:linear-gradient(#7a0403,#7a0403,#7a0403,#810602,#cc2b04,#f26014,#fe992c,#fcb136,#f7c13a,#e9d539,#88ff4e,#59fb73,#35f394,#1de7b2,#18d9c8,#1fc9dd,#2ab9ee,#31aff5)"></i><i class="a" style="left:1064px;width:2px;background:linear-gradient(#7a0403,#7a0403,#7a0403,#7a0403,#c82803,#f15d13,#fe962b,#fdae35,#f8be39,#ebd339,#8bff4b,#5dfc6f,#35f394,#1de7b2,#18dbc5,#1ecbda,#28bceb,#31aff5)"></i><i class="a" style="left:1066px;width:2px;background:linear-gradient(#7a0403,#7a0403,#7a0403,#7a0403,#c32503,#ef5811,#fe9029,#fea933,#f9bc39,#ecd13a,#8fff49,#61fc6c,#38f491,#1fe9af,#18dbc5,#1ecbda,#28bceb,#31aff5)"></i><i class="a" style="left:1068px;width:2px;background:linear-gradient(#7a0403,#7a0403,#7a0403,#7a0403,#be2102,#ec530f,#fd8d27,#fea732,#fbb838,#efcd3a,#92ff47,#65fd69,#3cf58e,#20eaac,#18ddc2,#1ccdd8,#27bee9,#31aff5)"></i><i class="a" style="left:1070px;width:2px;background:linear-gradient(#7a0403,#7a0403,#7a0403,#7a0403,#bc2002,#eb500e,#fd8a26,#fea431,#fbb637,#f1cb3a,#92ff47,#65fd69,#3cf58e,#20eaac,#18ddc2,#1ccdd8,#27bee9,#2fb2f4)"></i><i class="a" style="left:1072px;width:2px;background:linear-gradient(#7a0403,#7a0403,#7a0403,#7a0403,#b91e02,#ea4e0d,#fd8a26,#fea130,#fbb637,#f1cb3a,#96fe44,#65fd69,#3cf58e,#20eaac,#18ddc2,#1ccdd8,#27bee9,#2fb2f4)"></i><i class="a" style="left:1074px;width:2px;background:linear-gradient(#7a0403,#7a0403,#7a0403,#7a0403,#bc2002,#eb500e,#fd8a26,#fea431,#fbb637,#f1cb3a,#96fe44,#65fd69,#3cf58e,#20eaac,#18ddc2,#1ccdd8,#27bee9,#2fb2f4)"></i><i class="a" style="left:1076px;width:2px;background:linear-gradient(#7a0403,#7a0403,#7a0403,#7a0403,#be2102,#ec530f,#fd8d27,#fea431,#fbb838,#efcd3a,#92ff47,#65fd69,#3cf58e,#20eaac,#18ddc2,#1ccdd8,#27bee9,#2fb2f4)"></i><i class="a" style="left:1078px;width:2px;background:linear-gradient(#7a0403,#7a0403,#7a0403,#7a0403,#c12302,#ed5510,#fd8d27,#fea732,#faba39,#efcd3a,#92ff47,#65fd69,#3cf58e,#20eaac,#18ddc2,#1ccdd8,#27bee9,#2fb2f4)"></i><i class="a" style="left:1080px;width:2px;background:linear-gradient(#7a0403,#7a0403,#7a0403,#7a0403,#c32503,#ef5811,#fe9029,#fea933,#faba39,#eecf3a,#8fff49,#61fc6c,#3cf58e,#20eaac,#18ddc2,#1ccdd8,#27bee9,#2fb2f4)"></i><i class="a" style="left:1082px;width:2px;background:linear-gradient(#7a0403,#7a0403,#7a0403,#7a0403,#c32503,#ef5811,#fe9029,#fea933,#faba39,#eecf3a,#8fff49,#61fc6c,#3cf58e,#20eaac,#18ddc2,#1ccdd8,#27bee9,#2eb4f2)"></i><i class="a" style="left:1084px;width:2px;background:linear-gradient(#7a0403,#7a0403,#7a0403,#7a0403,#be2102,#ec530f,#fd8d27,#fea732,#fbb838,#efcd3a,#92ff47,#65fd69,#3cf58e,#20eaac,#18dec0,#1bd0d5,#27bee9,#2eb4f2)"></i><i class="a" style="left:1086px;width:2px;background:linear-gradient(#7a0403,#7a0403,#7a0403,#7a0403,#c52603,#f05b12,#fe932a,#fea933,#f9bc39,#eecf3a,#8fff49,#61fc6c,#3cf58e,#20eaac,#18ddc2,#1ccdd8,#27bee9,#2fb2f4)"></i><i class="a" style="left:1088px;width:2px;background:linear-gradient(#7a0403,#7a0403,#7a0403,#7e0502,#ca2a04,#f26014,#fe992c,#fdae35,#f8be39,#ebd339,#8bff4b,#5dfc6f,#38f491,#1fe9af,#18ddc2,#1ccdd8,#27bee9,#2fb2f4)"></i><i class="a" style="left:1090px;width:2px;background:linear-gradient(#7a0403,#7a0403,#7a0403,#7e0502,#cc2b04,#f26014,#fe992c,#fdae35,#f8be39,#ebd339,#8bff4b,#5dfc6f,#38f491,#1fe9af,#18ddc2,#1ccdd8,#27bee9,#2fb2f4)"></i><i class="a" style="left:1092px;width:2px;background:linear-gradient(#7a0403,#7a0403,#7a0403,#7e0502,#cc2b04,#f26014,#fe992c,#fdae35,#f8be39,#ebd339,#8bff4b,#5dfc6f,#38f491,#1fe9af,#18ddc2,#1ccdd8,#27bee9,#2fb2f4)"></i><i class="a" style="left:1094px;width:2px;background:linear-gradient(#7a0403,#7a0403,#7a0403,#7e0502,#cc2b04,#f26014,#fe992c,#fdae35,#f8be39,#ebd339,#8bff4b,#5dfc6f,#38f491,#1fe9af,#18ddc2,#1ccdd8,#27bee9,#2fb2f4)"></i><i class="a" style="left:1096px;width:2px;background:linear-gradient(#7a0403,#7a0403,#7a0403,#7e0502,#cc2b04,#f26014,#fe992c,#fdae35,#f8be39,#ebd339,#8bff4b,#61fc6c,#38f491,#20eaac,#18ddc2,#1ccdd8,#27bee9,#2fb2f4)"></i><i class="a" style="left:1098px;width:2px;background:linear-gradient(#7a0403,#7a0403,#7a0403,#810602,#cc2b04,#f26014,#fe992c,#fdae35,#f8be39,#ebd339,#8bff4b,#61fc6c,#38f491,#20eaac,#18ddc2,#1ccdd8,#27bee9,#2fb2f4)"></i><i class="a" style="left:1100px;width:2px;background:linear-gradient(#7a0403,#7a0403,#7a0403,#810602,#cc2b04,#f36315,#fe9b2d,#fcb136,#f7c13a,#ebd339,#8bff4b,#5dfc6f,#38f491,#1fe9af,#18ddc2,#1ccdd8,#27bee9,#2fb2f4)"></i><i class="a" style="left:1102px;width:2px;background:linear-gradient(#7a0403,#7a0403,#7a0403,#880802,#d02f05,#f46617,#fe9e2f,#fcb336,#f6c33a,#e9d539,#88ff4e,#5dfc6f,#35f394,#1fe9af,#18ddc2,#1ccdd8,#27bee9,#2fb2f4)"></i><i class="a" style="left:1104px;width:2px;background:linear-gradient(#7a0403,#7a0403,#7a0403,#8b0902,#d23105,#f56918,#fea130,#fbb637,#f5c53a,#e7d739,#84ff51,#59fb73,#35f394,#1fe9af,#18dbc5,#1ccdd8,#27bee9,#2fb2f4)"></i><i class="a" style="left:1106px;width:2px;background:linear-gradient(#7a0403,#7a0403,#7a0403,#920b01,#d43305,#f66c19,#fea431,#fbb838,#f4c73a,#e3db38,#80ff53,#55fa76,#32f298,#1de7b2,#18dbc5,#1ecbda,#27bee9,#2fb2f4)"></i><i class="a" style="left:1108px;width:1px;background:linear-gradient(#7a0403,#7a0403,#7a0403,#950d01,#d63506,#f76f1a,#fea732,#faba39,#f2c93a,#e1dd37,#7dff56,#52fa7a,#2ff19b,#1de7b2,#18d9c8,#1ecbda,#28bceb,#2fb2f4)"></i><i class="a" style="left:1109px;width:1px;background:linear-gradient(#7a0403,#7a0403,#7a0403,#980e01,#d83706,#f8721c,#fea933,#f9bc39,#f1cb3a,#e1dd37,#7dff56,#52fa7a,#2ff19b,#1ce6b4,#18d9c8,#1ecbda,#28bceb,#31aff5)"></i><i class="a" style="left:1110px;width:1px;background:linear-gradient(#7a0403,#7a0403,#7a0403,#9b0f01,#da3907,#f9751d,#fea933,#f8be39,#efcd3a,#dfdf37,#79fe59,#4ef97d,#2ff19b,#1ce6b4,#18d9c8,#1ecbda,#28bceb,#31aff5)"></i><i class="a" style="left:1111px;width:1px;background:linear-gradient(#7a0403,#7a0403,#7a0403,#af1801,#e4450a,#fb8122,#fcb336,#f5c53a,#ecd13a,#dbe236,#75fe5c,#4af880,#2cf09e,#1ae4b6,#18d7ca,#1fc9dd,#28bceb,#31aff5)"></i><i class="a" style="left:1112px;width:1px;background:linear-gradient(#7a0403,#7a0403,#af1801,#e2430a,#fa7b1f,#fcb336,#ebd339,#dfdf37,#d2e935,#c1f334,#55fa76,#35f394,#1fe9af,#18ddc2,#1bd0d5,#23c3e4,#2eb4f2,#35abf8)"></i><i class="a" style="left:1113px;width:1px;background:linear-gradient(#a91601,#dd3d08,#f76f1a,#fea431,#f1cb3a,#d4e735,#b4f836,#a9fb39,#9ffd3f,#8bff4b,#27eea4,#19e3b9,#18d7ca,#1ecbda,#27bee9,#31aff5,#3aa3fc,#3e9bfe)"></i><i class="a" style="left:1114px;width:1px;background:linear-gradient(#fea732,#f2c93a,#d9e436,#bcf534,#9cfe40,#75fe5c,#52fa7a,#46f884,#3ff68a,#32f298,#1ad2d2,#22c5e2,#2ab9ee,#33adf7,#3aa3fc,#4196ff,#458cfd,#4687fb)"></i><i class="a" style="left:1115px;width:1px;background:linear-gradient(#7dff56,#5dfc6f,#3ff68a,#2aefa1,#1ce6b4,#18dbc5,#1ad2d2,#1bd0d5,#1ccdd8,#20c7df,#3aa3fc,#4099ff,#4391fe,#458afc,#4682f8,#477bf2,#4773eb,#476ee6)"></i><i class="a" style="left:1116px;width:1px;background:linear-gradient(#2eb4f2,#33adf7,#38a5fb,#3d9efe,#4196ff,#4391fe,#458afc,#458afc,#458cfd,#458afc,#4773eb,#476ee6,#4669e0,#4664da,#455ed3,#455ccf,#4456c7,#4454c3)"></i><i class="a" style="left:1117px;width:1px;background:linear-gradient(#424bb5,#434eba,#434eba,#434eba,#424bb5,#424bb5,#424bb5,#434eba,#434eba,#4451bf,#4146ac,#4143a7,#4143a7,#4040a2,#3f3e9c,#3f3e9c,#3f3b97,#3f3b97)"></i><i class="a" style="left:1118px;width:1px;background:linear-gradient(#321543,#321543,#33184a,#341b51,#341b51,#351e58,#351e58,#36215f,#372466,#372466,#36215f,#372466,#372466,#372466,#372466,#372466,#372466,#372466)"></i><i class="a" style="left:1119px;width:1px;background:linear-gradient(#30123b,#30123b,#30123b,#30123b,#30123b,#30123b,#30123b,#30123b,#30123b,#30123b,#30123b,#30123b,#30123b,#30123b,#321543,#321543,#321543,#321543)"></i><i class="a" style="left:1120px;width:1px;background:linear-gradient(#30123b,#30123b,#30123b,#30123b,#30123b,#30123b,#30123b,#30123b,#30123b,#30123b,#30123b,#30123b,#30123b,#30123b,#30123b,#30123b,#30123b,#30123b)"></i><i class="a" style="left:1121px;width:1px;background:linear-gradient(#30123b,#30123b,#30123b,#30123b,#30123b,#30123b,#30123b,#30123b,#30123b,#30123b,#30123b,#30123b,#30123b,#30123b,#30123b,#30123b,#30123b,#30123b)"></i><i class="a" style="left:1122px;width:1px;background:linear-gradient(#30123b,#30123b,#30123b,#30123b,#30123b,#30123b,#30123b,#30123b,#30123b,#30123b,#30123b,#30123b,#30123b,#30123b,#30123b,#30123b,#30123b,#30123b)"></i><i class="a" style="left:1123px;width:1px;background:linear-gradient(#30123b,#30123b,#30123b,#30123b,#30123b,#30123b,#30123b,#30123b,#30123b,#30123b,#30123b,#30123b,#30123b,#30123b,#30123b,#30123b,#30123b,#30123b)"></i><i class="a" style="left:1124px;width:1px;background:linear-gradient(#30123b,#30123b,#30123b,#30123b,#30123b,#30123b,#30123b,#30123b,#30123b,#30123b,#30123b,#30123b,#30123b,#30123b,#30123b,#30123b,#30123b,#30123b)"></i><i class="a" style="left:1125px;width:1px;background:linear-gradient(#30123b,#30123b,#30123b,#30123b,#30123b,#30123b,#30123b,#30123b,#30123b,#30123b,#30123b,#30123b,#30123b,#30123b,#30123b,#30123b,#30123b,#30123b)"></i><i class="a" style="left:1126px;width:2px;background:linear-gradient(#30123b,#30123b,#30123b,#30123b,#30123b,#30123b,#30123b,#30123b,#30123b,#30123b,#30123b,#30123b,#30123b,#30123b,#30123b,#30123b,#30123b,#30123b)"></i><i class="a" style="left:1128px;width:2px;background:linear-gradient(#30123b,#30123b,#30123b,#30123b,#30123b,#30123b,#30123b,#30123b,#30123b,#30123b,#30123b,#30123b,#30123b,#30123b,#30123b,#30123b,#30123b,#30123b)"></i><i class="a" style="left:1130px;width:2px;background:linear-gradient(#30123b,#30123b,#30123b,#30123b,#30123b,#30123b,#30123b,#30123b,#30123b,#30123b,#30123b,#30123b,#30123b,#30123b,#30123b,#30123b,#30123b,#30123b)"></i><i class="a" style="left:1132px;width:2px;background:linear-gradient(#30123b,#30123b,#30123b,#30123b,#30123b,#30123b,#30123b,#30123b,#30123b,#30123b,#30123b,#30123b,#30123b,#30123b,#30123b,#30123b,#30123b,#30123b)"></i><i class="a" style="left:1134px;width:2px;background:linear-gradient(#30123b,#30123b,#30123b,#30123b,#30123b,#30123b,#30123b,#30123b,#30123b,#30123b,#30123b,#30123b,#30123b,#30123b,#30123b,#30123b,#30123b,#30123b)"></i><i class="d" style="left:154px;width:14px;background:linear-gradient(#e1e1ff,#e1e1ff,#e1e1ff,#e9e9ff,#f5f5ff,#f5f5ff,#f9f9ff,#f9f9ff,#f9f9ff,#f9f9ff)"></i><i class="d" style="left:168px;width:14px;background:linear-gradient(#e1e1ff,#e1e1ff,#e1e1ff,#e9e9ff,#f5f5ff,#f5f5ff,#f9f9ff,#f9f9ff,#f9f9ff,#f9f9ff)"></i><i class="d" style="left:182px;width:14px;background:linear-gradient(#e1e1ff,#e1e1ff,#e1e1ff,#e9e9ff,#f5f5ff,#f5f5ff,#f9f9ff,#f9f9ff,#f9f9ff,#f9f9ff)"></i><i class="d" style="left:196px;width:14px;background:linear-gradient(#e1e1ff,#e1e1ff,#e1e1ff,#e9e9ff,#f5f5ff,#f5f5ff,#f9f9ff,#f9f9ff,#f9f9ff,#f9f9ff)"></i><i class="d" style="left:210px;width:14px;background:linear-gradient(#e1e1ff,#e1e1ff,#e1e1ff,#e9e9ff,#f5f5ff,#f5f5ff,#f9f9ff,#f9f9ff,#f9f9ff,#f9f9ff)"></i><i class="d" style="left:224px;width:14px;background:linear-gradient(#e1e1ff,#e1e1ff,#e1e1ff,#e9e9ff,#f5f5ff,#f5f5ff,#f9f9ff,#f9f9ff,#f9f9ff,#f9f9ff)"></i><i class="d" style="left:238px;width:14px;background:linear-gradient(#e1e1ff,#e1e1ff,#e1e1ff,#e9e9ff,#f5f5ff,#f5f5ff,#f9f9ff,#f9f9ff,#f9f9ff,#f9f9ff)"></i><i class="d" style="left:252px;width:14px;background:linear-gradient(#e1e1ff,#e1e1ff,#e1e1ff,#e9e9ff,#f5f5ff,#f5f5ff,#f9f9ff,#f9f9ff,#f9f9ff,#f9f9ff)"></i><i class="d" style="left:266px;width:14px;background:linear-gradient(#e1e1ff,#e1e1ff,#e1e1ff,#e9e9ff,#f5f5ff,#f5f5ff,#f9f9ff,#f9f9ff,#f9f9ff,#f9f9ff)"></i><i class="d" style="left:280px;width:14px;background:linear-gradient(#e1e1ff,#e1e1ff,#e1e1ff,#e9e9ff,#f5f5ff,#f5f5ff,#f9f9ff,#f9f9ff,#f9f9ff,#f9f9ff)"></i><i class="d" style="left:294px;width:14px;background:linear-gradient(#e1e1ff,#e5e5ff,#e1e1ff,#e9e9ff,#f5f5ff,#f5f5ff,#f9f9ff,#f9f9ff,#f9f9ff,#f9f9ff)"></i><i class="d" style="left:308px;width:14px;background:linear-gradient(#e1e1ff,#e5e5ff,#e1e1ff,#e9e9ff,#f5f5ff,#f5f5ff,#f9f9ff,#f9f9ff,#f9f9ff,#f9f9ff)"></i><i class="d" style="left:322px;width:14px;background:linear-gradient(#e1e1ff,#e5e5ff,#e1e1ff,#e9e9ff,#f5f5ff,#f5f5ff,#f9f9ff,#f9f9ff,#f9f9ff,#f9f9ff)"></i><i class="d" style="left:336px;width:14px;background:linear-gradient(#e1e1ff,#e5e5ff,#e1e1ff,#e9e9ff,#f5f5ff,#f5f5ff,#f9f9ff,#f9f9ff,#f9f9ff,#f9f9ff)"></i><i class="d" style="left:350px;width:14px;background:linear-gradient(#e1e1ff,#e5e5ff,#e1e1ff,#e9e9ff,#f5f5ff,#f5f5ff,#f9f9ff,#f9f9ff,#f9f9ff,#f9f9ff)"></i><i class="d" style="left:364px;width:14px;background:linear-gradient(#e1e1ff,#e5e5ff,#e1e1ff,#e9e9ff,#f5f5ff,#f5f5ff,#f9f9ff,#f9f9ff,#f9f9ff,#f9f9ff)"></i><i class="d" style="left:378px;width:14px;background:linear-gradient(#e1e1ff,#e5e5ff,#e1e1ff,#e9e9ff,#f5f5ff,#f5f5ff,#f9f9ff,#f9f9ff,#f9f9ff,#f9f9ff)"></i><i class="d" style="left:392px;width:14px;background:linear-gradient(#e1e1ff,#e5e5ff,#e1e1ff,#e9e9ff,#f5f5ff,#f5f5ff,#f9f9ff,#f9f9ff,#f9f9ff,#f9f9ff)"></i><i class="d" style="left:406px;width:14px;background:linear-gradient(#e1e1ff,#e5e5ff,#e5e5ff,#e9e9ff,#f5f5ff,#f5f5ff,#f9f9ff,#f9f9ff,#f9f9ff,#f9f9ff)"></i><i class="d" style="left:420px;width:14px;background:linear-gradient(#e1e1ff,#e5e5ff,#e5e5ff,#e9e9ff,#f5f5ff,#f5f5ff,#f9f9ff,#f9f9ff,#f9f9ff,#f9f9ff)"></i><i class="d" style="left:434px;width:14px;background:linear-gradient(#e1e1ff,#e5e5ff,#e5e5ff,#e9e9ff,#f5f5ff,#f5f5ff,#f9f9ff,#f9f9ff,#f9f9ff,#f9f9ff)"></i><i class="d" style="left:448px;width:14px;background:linear-gradient(#e1e1ff,#e5e5ff,#e5e5ff,#e9e9ff,#f5f5ff,#f5f5ff,#f9f9ff,#f9f9ff,#f9f9ff,#f9f9ff)"></i><i class="d" style="left:462px;width:14px;background:linear-gradient(#e1e1ff,#e5e5ff,#e5e5ff,#e9e9ff,#f5f5ff,#f5f5ff,#f9f9ff,#f9f9ff,#f9f9ff,#f9f9ff)"></i><i class="d" style="left:476px;width:14px;background:linear-gradient(#e1e1ff,#e5e5ff,#e5e5ff,#e9e9ff,#f5f5ff,#f5f5ff,#f9f9ff,#f9f9ff,#f9f9ff,#f9f9ff)"></i><i class="d" style="left:490px;width:14px;background:linear-gradient(#e5e5ff,#e5e5ff,#e5e5ff,#e9e9ff,#f5f5ff,#f5f5ff,#f9f9ff,#f9f9ff,#f9f9ff,#f9f9ff)"></i><i class="d" style="left:504px;width:14px;background:linear-gradient(#e5e5ff,#e5e5ff,#e5e5ff,#e9e9ff,#f5f5ff,#f5f5ff,#f9f9ff,#f9f9ff,#f9f9ff,#f9f9ff)"></i><i class="d" style="left:518px;width:14px;background:linear-gradient(#e5e5ff,#e5e5ff,#e5e5ff,#e9e9ff,#f5f5ff,#f5f5ff,#f9f9ff,#f9f9ff,#f9f9ff,#f9f9ff)"></i><i class="d" style="left:532px;width:14px;background:linear-gradient(#e5e5ff,#e5e5ff,#e5e5ff,#ededff,#f5f5ff,#f5f5ff,#f9f9ff,#f9f9ff,#f9f9ff,#f9f9ff)"></i><i class="d" style="left:546px;width:14px;background:linear-gradient(#e5e5ff,#e5e5ff,#e5e5ff,#ededff,#f5f5ff,#f5f5ff,#f9f9ff,#f9f9ff,#f9f9ff,#f9f9ff)"></i><i class="d" style="left:560px;width:14px;background:linear-gradient(#e5e5ff,#e5e5ff,#e5e5ff,#ededff,#f5f5ff,#f5f5ff,#f9f9ff,#f9f9ff,#f9f9ff,#f9f9ff)"></i><i class="d" style="left:574px;width:14px;background:linear-gradient(#e5e5ff,#e5e5ff,#e5e5ff,#ededff,#f5f5ff,#f5f5ff,#f9f9ff,#f9f9ff,#f9f9ff,#f9f9ff)"></i><i class="d" style="left:588px;width:14px;background:linear-gradient(#e5e5ff,#e5e5ff,#e5e5ff,#ededff,#f5f5ff,#f5f5ff,#f9f9ff,#f9f9ff,#f9f9ff,#f9f9ff)"></i><i class="d" style="left:602px;width:14px;background:linear-gradient(#e5e5ff,#e5e5ff,#e5e5ff,#ededff,#f5f5ff,#f5f5ff,#f9f9ff,#f9f9ff,#f9f9ff,#f9f9ff)"></i><i class="d" style="left:616px;width:14px;background:linear-gradient(#e5e5ff,#e5e5ff,#e5e5ff,#ededff,#f5f5ff,#f5f5ff,#f9f9ff,#f9f9ff,#f9f9ff,#f9f9ff)"></i><i class="d" style="left:630px;width:14px;background:linear-gradient(#e5e5ff,#e5e5ff,#e5e5ff,#ededff,#f5f5ff,#f5f5ff,#f9f9ff,#f9f9ff,#f9f9ff,#f9f9ff)"></i><i class="d" style="left:644px;width:14px;background:linear-gradient(#e5e5ff,#e5e5ff,#e5e5ff,#ededff,#f5f5ff,#f5f5ff,#f9f9ff,#f9f9ff,#f9f9ff,#f9f9ff)"></i><i class="d" style="left:658px;width:14px;background:linear-gradient(#e5e5ff,#e5e5ff,#e5e5ff,#e9e9ff,#f5f5ff,#f5f5ff,#f9f9ff,#f9f9ff,#f9f9ff,#f9f9ff)"></i><i class="d" style="left:672px;width:14px;background:linear-gradient(#e1e1ff,#e5e5ff,#e5e5ff,#e9e9ff,#f5f5ff,#f5f5ff,#f9f9ff,#f9f9ff,#f9f9ff,#f9f9ff)"></i><i class="d" style="left:686px;width:14px;background:linear-gradient(#e1e1ff,#e5e5ff,#e5e5ff,#e9e9ff,#f5f5ff,#f5f5ff,#f9f9ff,#f9f9ff,#f9f9ff,#f9f9ff)"></i><i class="d" style="left:700px;width:14px;background:linear-gradient(#e1e1ff,#e5e5ff,#e1e1ff,#e9e9ff,#f5f5ff,#f5f5ff,#f9f9ff,#f9f9ff,#f9f9ff,#f9f9ff)"></i><i class="d" style="left:714px;width:14px;background:linear-gradient(#e1e1ff,#e5e5ff,#e1e1ff,#e9e9ff,#f5f5ff,#f5f5ff,#f9f9ff,#f9f9ff,#f9f9ff,#f9f9ff)"></i><i class="d" style="left:728px;width:14px;background:linear-gradient(#e1e1ff,#e5e5ff,#e1e1ff,#e9e9ff,#f5f5ff,#f5f5ff,#f9f9ff,#f9f9ff,#f9f9ff,#f9f9ff)"></i><i class="d" style="left:742px;width:14px;background:linear-gradient(#e1e1ff,#e1e1ff,#e1e1ff,#e9e9ff,#f5f5ff,#f5f5ff,#f9f9ff,#f9f9ff,#f9f9ff,#f9f9ff)"></i><i class="d" style="left:756px;width:3px;background:linear-gradient(#e1e1ff,#e1e1ff,#e1e1ff,#e9e9ff,#f5f5ff,#f5f5ff,#f9f9ff,#f9f9ff,#f9f9ff,#f9f9ff)"></i><i class="d" style="left:759px;width:1px;background:linear-gradient(#e1e1ff,#e1e1ff,#e1e1ff,#e9e9ff,#f5f5ff,#f5f5ff,#f9f9ff,#f9f9ff,#f9f9ff,#f9f9ff)"></i><i class="d" style="left:760px;width:1px;background:linear-gradient(#f1f1ff,#f1f1ff,#f1f1ff,#f5f5ff,#f9f9ff,#f9f9ff,#f9f9ff,#f9f9ff,#f9f9ff,#f9f9ff)"></i><i class="d" style="left:761px;width:1px;background:linear-gradient(#fdfdff,#fdfdff,#fdfdff,#fdfdff,#fdfdff,#fdfdff,#fdfdff,#fdfdff,#fdfdff,#fdfdff)"></i><i class="d" style="left:762px;width:1px;background:linear-gradient(#fdfdff,#fdfdff,#fdfdff,#fdfdff,#fdfdff,#fdfdff,#fdfdff,#fdfdff,#fdfdff,#fdfdff)"></i><i class="d" style="left:763px;width:7px;background:linear-gradient(#fdfdff,#fdfdff,#fdfdff,#fdfdff,#fdfdff,#fdfdff,#fdfdff,#fdfdff,#fdfdff,#fdfdff)"></i><i class="d" style="left:770px;width:14px;background:linear-gradient(#fdfdff,#fdfdff,#fdfdff,#fdfdff,#fdfdff,#fdfdff,#fdfdff,#fdfdff,#fdfdff,#fdfdff)"></i><i class="d" style="left:784px;width:1px;background:linear-gradient(#fdfdff,#fdfdff,#fdfdff,#fdfdff,#fdfdff,#fdfdff,#fdfdff,#fdfdff,#fdfdff,#fdfdff)"></i><i class="d" style="left:785px;width:1px;background:linear-gradient(#ededff,#f1f1ff,#f1f1ff,#f5f5ff,#f9f9ff,#f9f9ff,#f9f9ff,#f9f9ff,#f9f9ff,#f9f9ff)"></i><i class="d" style="left:786px;width:1px;background:linear-gradient(#e1e1ff,#e1e1ff,#e1e1ff,#e9e9ff,#f5f5ff,#f5f5ff,#f9f9ff,#f9f9ff,#f9f9ff,#f9f9ff)"></i><i class="d" style="left:787px;width:1px;background:linear-gradient(#e1e1ff,#e1e1ff,#e1e1ff,#e9e9ff,#f5f5ff,#f5f5ff,#f9f9ff,#f9f9ff,#f9f9ff,#f9f9ff)"></i><i class="d" style="left:788px;width:10px;background:linear-gradient(#e1e1ff,#e1e1ff,#e1e1ff,#e9e9ff,#f5f5ff,#f5f5ff,#f9f9ff,#f9f9ff,#f9f9ff,#f9f9ff)"></i><i class="d" style="left:798px;width:14px;background:linear-gradient(#e1e1ff,#e1e1ff,#e1e1ff,#e9e9ff,#f5f5ff,#f5f5ff,#f5f5ff,#f9f9ff,#f9f9ff,#f9f9ff)"></i><i class="d" style="left:812px;width:14px;background:linear-gradient(#e1e1ff,#e1e1ff,#e1e1ff,#e9e9ff,#f5f5ff,#f5f5ff,#f5f5ff,#f9f9ff,#f9f9ff,#f9f9ff)"></i><i class="d" style="left:826px;width:14px;background:linear-gradient(#e1e1ff,#e1e1ff,#e1e1ff,#e9e9ff,#f5f5ff,#f5f5ff,#f5f5ff,#f9f9ff,#f9f9ff,#f9f9ff)"></i><i class="d" style="left:840px;width:14px;background:linear-gradient(#e1e1ff,#e1e1ff,#e1e1ff,#e9e9ff,#f1f1ff,#f1f1ff,#f5f5ff,#f9f9ff,#f9f9ff,#f9f9ff)"></i><i class="d" style="left:854px;width:14px;background:linear-gradient(#ddf,#e1e1ff,#e1e1ff,#e9e9ff,#f1f1ff,#f1f1ff,#f5f5ff,#f9f9ff,#f9f9ff,#f9f9ff)"></i><i class="d" style="left:868px;width:14px;background:linear-gradient(#ddf,#e1e1ff,#ddf,#e9e9ff,#f1f1ff,#f1f1ff,#f5f5ff,#f9f9ff,#f9f9ff,#f9f9ff)"></i><i class="d" style="left:882px;width:14px;background:linear-gradient(#ddf,#ddf,#ddf,#e9e9ff,#f1f1ff,#f1f1ff,#f5f5ff,#f9f9ff,#f9f9ff,#f9f9ff)"></i><i class="d" style="left:896px;width:14px;background:linear-gradient(#ddf,#ddf,#ddf,#e5e5ff,#f1f1ff,#f1f1ff,#f5f5ff,#f9f9ff,#f9f9ff,#f9f9ff)"></i><i class="d" style="left:910px;width:14px;background:linear-gradient(#ddf,#ddf,#ddf,#e5e5ff,#f1f1ff,#f1f1ff,#f5f5ff,#f9f9ff,#f9f9ff,#f9f9ff)"></i><i class="d" style="left:924px;width:14px;background:linear-gradient(#ddf,#ddf,#ddf,#e5e5ff,#f1f1ff,#f1f1ff,#f5f5ff,#f9f9ff,#f9f9ff,#f9f9ff)"></i><i class="d" style="left:938px;width:14px;background:linear-gradient(#ddf,#ddf,#ddf,#e5e5ff,#f1f1ff,#f1f1ff,#f5f5ff,#f9f9ff,#f9f9ff,#f9f9ff)"></i><i class="d" style="left:952px;width:14px;background:linear-gradient(#ddf,#ddf,#ddf,#e5e5ff,#f1f1ff,#f1f1ff,#f5f5ff,#f9f9ff,#f9f9ff,#f9f9ff)"></i><i class="d" style="left:966px;width:14px;background:linear-gradient(#d9d9ff,#ddf,#ddf,#e5e5ff,#f1f1ff,#f1f1ff,#f5f5ff,#f9f9ff,#f9f9ff,#f9f9ff)"></i><i class="d" style="left:980px;width:14px;background:linear-gradient(#d9d9ff,#ddf,#d9d9ff,#e5e5ff,#f1f1ff,#f1f1ff,#f5f5ff,#f9f9ff,#f9f9ff,#f9f9ff)"></i><i class="d" style="left:994px;width:14px;background:linear-gradient(#d9d9ff,#d9d9ff,#d9d9ff,#e5e5ff,#f1f1ff,#f1f1ff,#f5f5ff,#f9f9ff,#f9f9ff,#f9f9ff)"></i><i class="d" style="left:1008px;width:14px;background:linear-gradient(#d9d9ff,#d9d9ff,#d9d9ff,#e5e5ff,#f1f1ff,#f1f1ff,#f5f5ff,#f9f9ff,#f9f9ff,#f9f9ff)"></i><i class="d" style="left:1022px;width:14px;background:linear-gradient(#d9d9ff,#d9d9ff,#d9d9ff,#e1e1ff,#f1f1ff,#f1f1ff,#f5f5ff,#f9f9ff,#f9f9ff,#f9f9ff)"></i><i class="d" style="left:1036px;width:14px;background:linear-gradient(#d5d5ff,#d9d9ff,#d9d9ff,#e1e1ff,#f1f1ff,#f1f1ff,#f5f5ff,#f9f9ff,#f9f9ff,#f9f9ff)"></i><i class="d" style="left:1050px;width:14px;background:linear-gradient(#d5d5ff,#d5d5ff,#d5d5ff,#e1e1ff,#f1f1ff,#f1f1ff,#f5f5ff,#f9f9ff,#f9f9ff,#f9f9ff)"></i><i class="d" style="left:1064px;width:14px;background:linear-gradient(#d5d5ff,#d5d5ff,#d5d5ff,#e1e1ff,#f1f1ff,#f1f1ff,#f5f5ff,#f9f9ff,#f9f9ff,#f9f9ff)"></i><i class="d" style="left:1078px;width:3px;background:linear-gradient(#d5d5ff,#d5d5ff,#d5d5ff,#e1e1ff,#f1f1ff,#f1f1ff,#f5f5ff,#f9f9ff,#f9f9ff,#f9f9ff)"></i><i class="d" style="left:1081px;width:1px;background:linear-gradient(#d5d5ff,#d5d5ff,#d5d5ff,#e1e1ff,#f1f1ff,#f1f1ff,#f5f5ff,#f9f9ff,#f9f9ff,#f9f9ff)"></i><i class="d" style="left:1082px;width:1px;background:linear-gradient(#d5d5ff,#d5d5ff,#d5d5ff,#e1e1ff,#f1f1ff,#f1f1ff,#f5f5ff,#f9f9ff,#f9f9ff,#f9f9ff)"></i><i class="d" style="left:1083px;width:1px;background:linear-gradient(#cdcdff,#cdcdff,#cdcdff,#d9d9ff,#e9e9ff,#e9e9ff,#ededff,#f1f1ff,#f1f1ff,#f1f1ff)"></i><i class="d" style="left:1084px;width:1px;background:linear-gradient(#c1c1ff,#c1c1ff,#c1c1ff,#cdcdff,#ddf,#ddf,#e1e1ff,#e5e5ff,#e5e5ff,#e5e5ff)"></i><i class="d" style="left:1085px;width:1px;background:linear-gradient(#c1c1ff,#c1c1ff,#c1c1ff,#cdcdff,#ddf,#ddf,#e1e1ff,#e5e5ff,#e5e5ff,#e5e5ff)"></i><i class="d" style="left:1086px;width:1px;background:linear-gradient(#c5c5ff,#c9c9ff,#c9c9ff,#d5d5ff,#e5e5ff,#e5e5ff,#e9e9ff,#ededff,#ededff,#ededff)"></i><i class="d" style="left:1087px;width:1px;background:linear-gradient(#d1d1ff,#d1d1ff,#d1d1ff,#ddf,#ededff,#ededff,#f1f1ff,#f5f5ff,#f5f5ff,#f5f5ff)"></i><i class="d" style="left:1088px;width:1px;background:linear-gradient(#d1d1ff,#d5d5ff,#d5d5ff,#e1e1ff,#f1f1ff,#f1f1ff,#f5f5ff,#f9f9ff,#f9f9ff,#f9f9ff)"></i><i class="d" style="left:1089px;width:1px;background:linear-gradient(#d1d1ff,#d5d5ff,#d5d5ff,#e1e1ff,#f1f1ff,#f1f1ff,#f5f5ff,#f9f9ff,#f9f9ff,#f9f9ff)"></i><i class="d" style="left:1090px;width:2px;background:linear-gradient(#d1d1ff,#d5d5ff,#d5d5ff,#e1e1ff,#f1f1ff,#f1f1ff,#f5f5ff,#f9f9ff,#f9f9ff,#f9f9ff)"></i><i class="d" style="left:1092px;width:14px;background:linear-gradient(#d1d1ff,#d5d5ff,#d1d1ff,#ddf,#f1f1ff,#f1f1ff,#f5f5ff,#f9f9ff,#f9f9ff,#f9f9ff)"></i><i class="d" style="left:1106px;width:5px;background:linear-gradient(#d1d1ff,#d1d1ff,#d1d1ff,#ddf,#f1f1ff,#f1f1ff,#f5f5ff,#f9f9ff,#f9f9ff,#f9f9ff)"></i><i class="d" style="left:1111px;width:1px;background:linear-gradient(#d1d1ff,#d1d1ff,#d1d1ff,#ddf,#f1f1ff,#f1f1ff,#f5f5ff,#f9f9ff,#f9f9ff,#f9f9ff)"></i><i class="d" style="left:1112px;width:1px;background:linear-gradient(#d1d1ff,#d1d1ff,#d1d1ff,#ddf,#f1f1ff,#f1f1ff,#f5f5ff,#f9f9ff,#f9f9ff,#f9f9ff)"></i><i class="d" style="left:1113px;width:1px;background:linear-gradient(#f9f9ff,#f9f9ff,#f9f9ff,#f9f9ff,#f9f9ff,#f9f9ff,#f9f9ff,#f9f9ff,#f9f9ff,#f9f9ff)"></i><i class="d" style="left:1114px;width:1px;background:linear-gradient(#f9f9ff,#f9f9ff,#f9f9ff,#f9f9ff,#f9f9ff,#f9f9ff,#f9f9ff,#f9f9ff,#f9f9ff,#f9f9ff)"></i><i class="d" style="left:1115px;width:1px;background:linear-gradient(#f9f9ff,#f9f9ff,#f9f9ff,#f9f9ff,#f9f9ff,#f9f9ff,#f9f9ff,#f9f9ff,#f9f9ff,#f9f9ff)"></i><i class="d" style="left:1116px;width:1px;background:linear-gradient(#f9f9ff,#f9f9ff,#f9f9ff,#f9f9ff,#f9f9ff,#f9f9ff,#f9f9ff,#f9f9ff,#f9f9ff,#f9f9ff)"></i><i class="d" style="left:1117px;width:1px;background:linear-gradient(#f9f9ff,#f9f9ff,#f9f9ff,#f9f9ff,#f9f9ff,#f9f9ff,#f9f9ff,#f9f9ff,#f9f9ff,#f9f9ff)"></i><i class="d" style="left:1118px;width:1px;background:linear-gradient(#f9f9ff,#f9f9ff,#f9f9ff,#f9f9ff,#f9f9ff,#f9f9ff,#f9f9ff,#f9f9ff,#f9f9ff,#f9f9ff)"></i><i class="d" style="left:1119px;width:1px;background:linear-gradient(#f9f9ff,#f9f9ff,#f9f9ff,#f9f9ff,#f9f9ff,#f9f9ff,#f9f9ff,#f9f9ff,#f9f9ff,#f9f9ff)"></i><i class="d" style="left:1120px;width:1px;background:linear-gradient(#f9f9ff,#f9f9ff,#f9f9ff,#f9f9ff,#f9f9ff,#f9f9ff,#f9f9ff,#f9f9ff,#f9f9ff,#f9f9ff)"></i><i class="d" style="left:1121px;width:13px;background:linear-gradient(#f9f9ff,#f9f9ff,#f9f9ff,#f9f9ff,#f9f9ff,#f9f9ff,#f9f9ff,#f9f9ff,#f9f9ff,#f9f9ff)"></i><i class="d" style="left:1134px;width:2px;background:linear-gradient(#f9f9ff,#f9f9ff,#f9f9ff,#f9f9ff,#f9f9ff,#f9f9ff,#f9f9ff,#f9f9ff,#f9f9ff,#f9f9ff)"></i><i class="b" style="left:154px;width:7px;background:linear-gradient(#fe0000,#fe0000,#ff1919,#ff7d7d,#ffcdcd,#ffd9d9,#ffe1e1,#ffd5d5,#ffb1b1,#ff9191,#ff8989,#ff8d8d,#ffa5a5,#fdd,#fdfdff,#f5f5ff,#fff1f1,#ffa1a1,#ffb9b9,#d5d5ff,#5151ff,#6161ff,#c1c1ff,#fffdfd,#fffdfd,#fffdfd,#e9e9ff,#e1e1ff,#e9e9ff,#f1f1ff,#fffdfd,#fffdfd,#f9f9ff,#ededff,#e9e9ff,#e9e9ff,#f5f5ff,#f9f9ff,#e5e5ff,#e1e1ff,#e1e1ff,#ddf,#ddf,#d1d1ff,#c5c5ff,#c5c5ff,#d1d1ff,#ddf,#e1e1ff,#e5e5ff,#ededff,#e9e9ff,#ddf,#ddf,#ddf,#ddf,#ddf,#e1e1ff,#e1e1ff,#e1e1ff,#e1e1ff)"></i><i class="b" style="left:161px;width:7px;background:linear-gradient(#fe0000,#fe0000,#ff1919,#ff7d7d,#ffcdcd,#ffd9d9,#ffe1e1,#ffd5d5,#ffb1b1,#ff9191,#ff8989,#ff9191,#ffa5a5,#fdd,#fdfdff,#f5f5ff,#fff1f1,#ffa1a1,#ffb9b9,#d9d9ff,#5959ff,#6565ff,#c1c1ff,#fffdfd,#fffdfd,#fffdfd,#e9e9ff,#e1e1ff,#e9e9ff,#f1f1ff,#fffdfd,#fffdfd,#f9f9ff,#ededff,#e9e9ff,#e9e9ff,#f5f5ff,#f9f9ff,#e5e5ff,#e1e1ff,#e1e1ff,#ddf,#ddf,#d1d1ff,#c5c5ff,#c5c5ff,#d1d1ff,#ddf,#e1e1ff,#e5e5ff,#ededff,#e9e9ff,#ddf,#ddf,#ddf,#ddf,#ddf,#e1e1ff,#e1e1ff,#e1e1ff,#e1e1ff)"></i><i class="b" style="left:168px;width:7px;background:linear-gradient(#fe0000,#fe0000,#ff1919,#ff7d7d,#ffcdcd,#ffd9d9,#ffe1e1,#ffd5d5,#ffb1b1,#ff9191,#ff8989,#ff9191,#ffa5a5,#fdd,#fdfdff,#f5f5ff,#fff1f1,#ffa1a1,#ffb9b9,#d9d9ff,#5d5dff,#6969ff,#c5c5ff,#fffdfd,#fffdfd,#fffdfd,#ededff,#e5e5ff,#e9e9ff,#f5f5ff,#fffdfd,#fffdfd,#f9f9ff,#ededff,#e9e9ff,#e9e9ff,#f5f5ff,#f9f9ff,#e5e5ff,#e1e1ff,#e1e1ff,#ddf,#ddf,#d1d1ff,#c5c5ff,#c5c5ff,#d1d1ff,#ddf,#e1e1ff,#e9e9ff,#ededff,#e9e9ff,#ddf,#ddf,#ddf,#ddf,#ddf,#e1e1ff,#e1e1ff,#e1e1ff,#e1e1ff)"></i><i class="b" style="left:175px;width:7px;background:linear-gradient(#fe0000,#fe0000,#ff1919,#ff7d7d,#ffd1d1,#ffd9d9,#ffe1e1,#ffd5d5,#ffb5b5,#ff9595,#ff8d8d,#ff9191,#ffa9a9,#fdd,#fdfdff,#f9f9ff,#fff1f1,#ffa5a5,#ffbdbd,#d9d9ff,#6161ff,#6d6dff,#c5c5ff,#fffdfd,#fffdfd,#fffdfd,#ededff,#e5e5ff,#e9e9ff,#f5f5ff,#fffdfd,#fffdfd,#f9f9ff,#ededff,#e9e9ff,#e9e9ff,#f5f5ff,#f9f9ff,#e5e5ff,#e1e1ff,#e1e1ff,#ddf,#ddf,#d1d1ff,#c5c5ff,#c5c5ff,#d1d1ff,#ddf,#e1e1ff,#e9e9ff,#ededff,#e9e9ff,#ddf,#ddf,#ddf,#ddf,#ddf,#e1e1ff,#e1e1ff,#e1e1ff,#e1e1ff)"></i><i class="b" style="left:182px;width:7px;background:linear-gradient(#fe0000,#fe0000,#ff1919,#ff7d7d,#ffd1d1,#ffd9d9,#ffe1e1,#ffd5d5,#ffb5b5,#ff9595,#ff8d8d,#ff9191,#ffa9a9,#fdd,#fdfdff,#f9f9ff,#fff5f5,#ffa5a5,#ffbdbd,#d9d9ff,#6565ff,#7171ff,#c5c5ff,#fffdfd,#fffdfd,#fffdfd,#ededff,#e5e5ff,#e9e9ff,#f5f5ff,#fffdfd,#fffdfd,#f9f9ff,#ededff,#e9e9ff,#e9e9ff,#f5f5ff,#f9f9ff,#e5e5ff,#e1e1ff,#e1e1ff,#ddf,#ddf,#d1d1ff,#c5c5ff,#c9c9ff,#d1d1ff,#ddf,#e1e1ff,#e9e9ff,#ededff,#e9e9ff,#ddf,#ddf,#ddf,#ddf,#ddf,#e1e1ff,#e1e1ff,#e1e1ff,#e1e1ff)"></i><i class="b" style="left:189px;width:7px;background:linear-gradient(#fe0000,#fe0000,#ff1919,#ff7d7d,#ffd1d1,#ffd9d9,#ffe1e1,#ffd5d5,#ffb5b5,#ff9595,#ff8d8d,#ff9191,#ffa9a9,#fdd,#fdfdff,#f9f9ff,#fff5f5,#ffa5a5,#ffbdbd,#ddf,#6969ff,#7575ff,#c9c9ff,#fffdfd,#fffdfd,#fffdfd,#ededff,#e5e5ff,#e9e9ff,#f5f5ff,#fffdfd,#fffdfd,#f9f9ff,#ededff,#e9e9ff,#e9e9ff,#f5f5ff,#f9f9ff,#e5e5ff,#e1e1ff,#e1e1ff,#ddf,#ddf,#d1d1ff,#c5c5ff,#c9c9ff,#d1d1ff,#ddf,#e1e1ff,#e9e9ff,#ededff,#e9e9ff,#ddf,#ddf,#ddf,#ddf,#ddf,#e1e1ff,#e5e5ff,#e1e1ff,#e1e1ff)"></i><i class="b" style="left:196px;width:7px;background:linear-gradient(#fe0000,#fe0000,#ff1919,#ff7d7d,#ffd1d1,#ffd9d9,#ffe1e1,#ffd5d5,#ffb5b5,#ff9595,#ff8d8d,#ff9191,#ffa9a9,#ffe1e1,#fdfdff,#f9f9ff,#fff5f5,#ffa9a9,#ffc1c1,#ddf,#6d6dff,#7979ff,#c9c9ff,#fffdfd,#fffdfd,#fffdfd,#ededff,#e5e5ff,#e9e9ff,#f5f5ff,#fffdfd,#fffdfd,#f9f9ff,#ededff,#e9e9ff,#e9e9ff,#f5f5ff,#f9f9ff,#e5e5ff,#e1e1ff,#e1e1ff,#ddf,#ddf,#d1d1ff,#c5c5ff,#c9c9ff,#d1d1ff,#ddf,#e1e1ff,#e9e9ff,#ededff,#e9e9ff,#ddf,#ddf,#ddf,#ddf,#ddf,#e1e1ff,#e5e5ff,#e1e1ff,#e1e1ff)"></i><i class="b" style="left:203px;width:7px;background:linear-gradient(#fe0000,#fe0000,#ff1919,#ff7d7d,#ffd1d1,#ffd9d9,#ffe1e1,#ffd5d5,#ffb5b5,#ff9595,#ff8d8d,#ff9595,#ffa9a9,#ffe1e1,#fdfdff,#f9f9ff,#fff5f5,#ffa9a9,#ffc1c1,#ddf,#7171ff,#7d7dff,#cdcdff,#fffdfd,#fffdfd,#fffdfd,#ededff,#e5e5ff,#e9e9ff,#f5f5ff,#fffdfd,#fffdfd,#f9f9ff,#ededff,#e9e9ff,#e9e9ff,#f5f5ff,#f9f9ff,#e5e5ff,#e1e1ff,#e1e1ff,#ddf,#ddf,#d1d1ff,#c5c5ff,#c9c9ff,#d1d1ff,#e1e1ff,#e1e1ff,#e9e9ff,#ededff,#e9e9ff,#ddf,#ddf,#ddf,#ddf,#ddf,#e1e1ff,#e5e5ff,#e5e5ff,#e1e1ff)"></i><i class="b" style="left:210px;width:7px;background:linear-gradient(#fe0000,#fe0000,#ff1919,#ff7d7d,#ffd1d1,#ffd9d9,#ffe1e1,#ffd5d5,#ffb5b5,#ff9595,#ff9191,#ff9595,#ffa9a9,#ffe1e1,#fdfdff,#f9f9ff,#fff5f5,#ffadad,#ffc1c1,#ddf,#7575ff,#8181ff,#cdcdff,#fffdfd,#fffdfd,#fffdfd,#ededff,#e5e5ff,#e9e9ff,#f5f5ff,#fffdfd,#fffdfd,#f9f9ff,#ededff,#e9e9ff,#e9e9ff,#f5f5ff,#f9f9ff,#e5e5ff,#e1e1ff,#e1e1ff,#ddf,#ddf,#d1d1ff,#c5c5ff,#c9c9ff,#d1d1ff,#e1e1ff,#e1e1ff,#e9e9ff,#ededff,#e9e9ff,#ddf,#ddf,#ddf,#ddf,#ddf,#e1e1ff,#e5e5ff,#e5e5ff,#e1e1ff)"></i><i class="b" style="left:217px;width:7px;background:linear-gradient(#fe0000,#fe0000,#ff1919,#ff7d7d,#ffd1d1,#ffd9d9,#ffe1e1,#ffd5d5,#ffb5b5,#f99,#ff9191,#ff9595,#ffadad,#ffe1e1,#fdfdff,#f9f9ff,#fff5f5,#ffadad,#ffc1c1,#e1e1ff,#7979ff,#8585ff,#cdcdff,#fffdfd,#fffdfd,#fffdfd,#ededff,#e5e5ff,#e9e9ff,#f5f5ff,#fffdfd,#fffdfd,#f9f9ff,#ededff,#e9e9ff,#e9e9ff,#f5f5ff,#f9f9ff,#e5e5ff,#e1e1ff,#e1e1ff,#ddf,#ddf,#d1d1ff,#c9c9ff,#c9c9ff,#d5d5ff,#e1e1ff,#e1e1ff,#e9e9ff,#ededff,#e9e9ff,#ddf,#ddf,#ddf,#ddf,#ddf,#e1e1ff,#e5e5ff,#e5e5ff,#e5e5ff)"></i><i class="b" style="left:224px;width:7px;background:linear-gradient(#fe0000,#fe0000,#ff1919,#ff7d7d,#ffd1d1,#ffd9d9,#ffe5e5,#ffd5d5,#ffb9b9,#f99,#ff9191,#ff9595,#ffadad,#ffe1e1,#fdfdff,#f9f9ff,#fff5f5,#ffadad,#ffc5c5,#e1e1ff,#7d7dff,#8585ff,#d1d1ff,#fffdfd,#fffdfd,#fffdfd,#ededff,#e5e5ff,#e9e9ff,#f5f5ff,#fffdfd,#fffdfd,#f9f9ff,#ededff,#e9e9ff,#e9e9ff,#f5f5ff,#f9f9ff,#e5e5ff,#e1e1ff,#e1e1ff,#ddf,#ddf,#d1d1ff,#c9c9ff,#c9c9ff,#d5d5ff,#e1e1ff,#e1e1ff,#e9e9ff,#ededff,#e9e9ff,#ddf,#ddf,#ddf,#ddf,#ddf,#e1e1ff,#e5e5ff,#e5e5ff,#e5e5ff)"></i><i class="b" style="left:231px;width:7px;background:linear-gradient(#fe0000,#fe0000,#ff1919,#ff7d7d,#ffd1d1,#ffd9d9,#ffe5e5,#ffd5d5,#ffb9b9,#f99,#ff9191,#ff9595,#ffadad,#ffe1e1,#fdfdff,#f9f9ff,#fff5f5,#ffadad,#ffc5c5,#e1e1ff,#7d7dff,#8989ff,#d1d1ff,#fffdfd,#fffdfd,#fffdfd,#ededff,#e5e5ff,#e9e9ff,#f5f5ff,#fffdfd,#fffdfd,#f9f9ff,#ededff,#e9e9ff,#e9e9ff,#f5f5ff,#f9f9ff,#e5e5ff,#e1e1ff,#e1e1ff,#ddf,#ddf,#d1d1ff,#c9c9ff,#c9c9ff,#d5d5ff,#e1e1ff,#e1e1ff,#e9e9ff,#ededff,#e9e9ff,#ddf,#ddf,#ddf,#ddf,#ddf,#e1e1ff,#e5e5ff,#e5e5ff,#e5e5ff)"></i><i class="b" style="left:238px;width:7px;background:linear-gradient(#fe0000,#fe0000,#ff1919,#ff7d7d,#ffd1d1,#ffd9d9,#ffe5e5,#ffd9d9,#ffb9b9,#f99,#ff9191,#f99,#ffadad,#ffe1e1,#fdfdff,#f9f9ff,#fff5f5,#ffb1b1,#ffc5c5,#e1e1ff,#8181ff,#8989ff,#d1d1ff,#fffdfd,#fffdfd,#fffdfd,#ededff,#e5e5ff,#e9e9ff,#f5f5ff,#fffdfd,#fffdfd,#f9f9ff,#ededff,#e9e9ff,#e9e9ff,#f5f5ff,#f9f9ff,#e5e5ff,#e1e1ff,#e1e1ff,#ddf,#ddf,#d1d1ff,#c9c9ff,#c9c9ff,#d5d5ff,#e1e1ff,#e1e1ff,#e9e9ff,#ededff,#e9e9ff,#ddf,#ddf,#ddf,#ddf,#ddf,#e1e1ff,#e5e5ff,#e5e5ff,#e5e5ff)"></i><i class="b" style="left:245px;width:7px;background:linear-gradient(#fe0000,#fe0000,#ff1919,#ff7d7d,#ffd1d1,#ffd9d9,#ffe5e5,#ffd9d9,#ffb9b9,#f99,#ff9595,#f99,#ffadad,#ffe1e1,#fdfdff,#f9f9ff,#fff5f5,#ffb1b1,#ffc5c5,#e1e1ff,#8181ff,#8d8dff,#d1d1ff,#fffdfd,#fffdfd,#fffdfd,#ededff,#e5e5ff,#e9e9ff,#f5f5ff,#fffdfd,#fffdfd,#f9f9ff,#ededff,#e9e9ff,#e9e9ff,#f5f5ff,#f9f9ff,#e5e5ff,#e1e1ff,#e1e1ff,#e1e1ff,#ddf,#d1d1ff,#c9c9ff,#c9c9ff,#d5d5ff,#e1e1ff,#e1e1ff,#e9e9ff,#ededff,#e9e9ff,#ddf,#ddf,#ddf,#ddf,#ddf,#e1e1ff,#e5e5ff,#e5e5ff,#e5e5ff)"></i><i class="b" style="left:252px;width:7px;background:linear-gradient(#fe0000,#fe0000,#ff1919,#ff7d7d,#ffd1d1,#ffd9d9,#ffe5e5,#ffd9d9,#ffb9b9,#ff9d9d,#ff9595,#f99,#ffadad,#ffe1e1,#fdfdff,#f9f9ff,#fff5f5,#ffb1b1,#ffc5c5,#e1e1ff,#8585ff,#8d8dff,#d1d1ff,#fffdfd,#fffdfd,#fffdfd,#ededff,#e5e5ff,#e9e9ff,#f5f5ff,#fffdfd,#fffdfd,#f9f9ff,#ededff,#e9e9ff,#e9e9ff,#f5f5ff,#f9f9ff,#e5e5ff,#e1e1ff,#e1e1ff,#e1e1ff,#ddf,#d1d1ff,#c9c9ff,#c9c9ff,#d5d5ff,#e1e1ff,#e1e1ff,#e9e9ff,#ededff,#e9e9ff,#ddf,#ddf,#ddf,#ddf,#ddf,#e1e1ff,#e5e5ff,#e5e5ff,#e5e5ff)"></i><i class="b" style="left:259px;width:7px;background:linear-gradient(#fe0000,#fe0000,#ff1919,#ff7d7d,#ffd1d1,#ffd9d9,#ffe5e5,#ffd9d9,#ffb9b9,#ff9d9d,#ff9595,#f99,#ffb1b1,#ffe1e1,#fdfdff,#f9f9ff,#fff5f5,#ffb5b5,#ffc9c9,#e1e1ff,#8585ff,#9191ff,#d5d5ff,#fffdfd,#fff9f9,#fffdfd,#ededff,#e5e5ff,#ededff,#f5f5ff,#fffdfd,#fffdfd,#f9f9ff,#ededff,#e9e9ff,#e9e9ff,#f5f5ff,#f9f9ff,#e5e5ff,#e1e1ff,#e1e1ff,#e1e1ff,#ddf,#d1d1ff,#c9c9ff,#c9c9ff,#d5d5ff,#e1e1ff,#e1e1ff,#e9e9ff,#ededff,#e9e9ff,#ddf,#ddf,#ddf,#ddf,#ddf,#e1e1ff,#e5e5ff,#e5e5ff,#e5e5ff)"></i><i class="b" style="left:266px;width:7px;background:linear-gradient(#fe0000,#fe0000,#ff1919,#ff7d7d,#ffd1d1,#ffd9d9,#ffe5e5,#ffd9d9,#ffb9b9,#ff9d9d,#ff9595,#ff9d9d,#ffb1b1,#ffe1e1,#fdfdff,#f9f9ff,#fff5f5,#ffb5b5,#ffc9c9,#e5e5ff,#8989ff,#9191ff,#d5d5ff,#fff9f9,#fff9f9,#fffdfd,#ededff,#e5e5ff,#ededff,#f5f5ff,#fffdfd,#fffdfd,#f9f9ff,#ededff,#e9e9ff,#e9e9ff,#f5f5ff,#f9f9ff,#e5e5ff,#e1e1ff,#e1e1ff,#e1e1ff,#ddf,#d1d1ff,#c9c9ff,#c9c9ff,#d5d5ff,#e1e1ff,#e1e1ff,#e9e9ff,#ededff,#e9e9ff,#ddf,#ddf,#ddf,#ddf,#ddf,#e1e1ff,#e5e5ff,#e5e5ff,#e5e5ff)"></i><i class="b" style="left:273px;width:7px;background:linear-gradient(#fe0000,#fe0000,#ff1919,#ff7d7d,#ffd1d1,#fdd,#ffe5e5,#ffd9d9,#ffbdbd,#ff9d9d,#ff9595,#ff9d9d,#ffb1b1,#ffe1e1,#fdfdff,#f9f9ff,#fff5f5,#ffb5b5,#ffc9c9,#e5e5ff,#8d8dff,#9595ff,#d5d5ff,#fff9f9,#fff9f9,#fffdfd,#ededff,#e9e9ff,#ededff,#f5f5ff,#fffdfd,#fffdfd,#f9f9ff,#ededff,#e9e9ff,#e9e9ff,#f5f5ff,#f9f9ff,#e5e5ff,#e1e1ff,#e1e1ff,#e1e1ff,#ddf,#d1d1ff,#c9c9ff,#c9c9ff,#d5d5ff,#e1e1ff,#e1e1ff,#e9e9ff,#ededff,#e9e9ff,#ddf,#ddf,#ddf,#ddf,#ddf,#e1e1ff,#e5e5ff,#e5e5ff,#e5e5ff)"></i><i class="b" style="left:280px;width:7px;background:linear-gradient(#fe0000,#fe0000,#ff1919,#ff7d7d,#ffd1d1,#fdd,#ffe5e5,#ffd9d9,#ffbdbd,#ff9d9d,#f99,#ff9d9d,#ffb1b1,#ffe1e1,#fdfdff,#f9f9ff,#fff5f5,#ffb9b9,#ffc9c9,#e5e5ff,#8d8dff,#9595ff,#d5d5ff,#fff9f9,#fff9f9,#fffdfd,#ededff,#e9e9ff,#ededff,#f5f5ff,#fffdfd,#fffdfd,#f9f9ff,#ededff,#e9e9ff,#e9e9ff,#f5f5ff,#f9f9ff,#e5e5ff,#e1e1ff,#e1e1ff,#e1e1ff,#ddf,#d1d1ff,#c9c9ff,#c9c9ff,#d5d5ff,#e1e1ff,#e1e1ff,#e9e9ff,#ededff,#e9e9ff,#ddf,#ddf,#ddf,#ddf,#ddf,#e1e1ff,#e5e5ff,#e5e5ff,#e5e5ff)"></i><i class="b" style="left:287px;width:7px;background:linear-gradient(#fe0000,#fe0000,#ff1919,#ff7d7d,#ffd1d1,#fdd,#ffe5e5,#ffd9d9,#ffbdbd,#ffa1a1,#f99,#ff9d9d,#ffb1b1,#ffe1e1,#fdfdff,#f9f9ff,#fff5f5,#ffb9b9,#ffcdcd,#e5e5ff,#9191ff,#99f,#d5d5ff,#fff9f9,#fff9f9,#fffdfd,#ededff,#e9e9ff,#ededff,#f5f5ff,#fffdfd,#fffdfd,#f9f9ff,#ededff,#e9e9ff,#e9e9ff,#f5f5ff,#f9f9ff,#e5e5ff,#e1e1ff,#e1e1ff,#e1e1ff,#ddf,#d1d1ff,#c9c9ff,#c9c9ff,#d5d5ff,#e1e1ff,#e1e1ff,#e9e9ff,#ededff,#e9e9ff,#ddf,#ddf,#ddf,#ddf,#ddf,#e1e1ff,#e5e5ff,#e5e5ff,#e5e5ff)"></i><i class="b" style="left:294px;width:7px;background:linear-gradient(#fe0000,#fe0000,#ff1919,#ff7d7d,#ffd1d1,#fdd,#ffe5e5,#ffd9d9,#ffbdbd,#ffa1a1,#f99,#ff9d9d,#ffb1b1,#ffe1e1,#fdfdff,#f9f9ff,#fff5f5,#ffb9b9,#ffcdcd,#e5e5ff,#9191ff,#99f,#d9d9ff,#fff9f9,#fff9f9,#fffdfd,#ededff,#e9e9ff,#ededff,#f5f5ff,#fffdfd,#fffdfd,#f9f9ff,#ededff,#ededff,#ededff,#f5f5ff,#f9f9ff,#e5e5ff,#e1e1ff,#e1e1ff,#e1e1ff,#ddf,#d1d1ff,#c9c9ff,#c9c9ff,#d5d5ff,#e1e1ff,#e1e1ff,#e9e9ff,#ededff,#ededff,#ddf,#ddf,#ddf,#ddf,#ddf,#e1e1ff,#e5e5ff,#e5e5ff,#e5e5ff)"></i><i class="b" style="left:301px;width:7px;background:linear-gradient(#fe0000,#fe0000,#ff1919,#ff7d7d,#ffd1d1,#fdd,#ffe5e5,#ffd9d9,#ffbdbd,#ffa1a1,#f99,#ffa1a1,#ffb5b5,#ffe1e1,#fdfdff,#f9f9ff,#fff5f5,#ffb9b9,#ffcdcd,#e5e5ff,#9191ff,#99f,#d9d9ff,#fff9f9,#fff9f9,#fffdfd,#ededff,#e9e9ff,#ededff,#f5f5ff,#fffdfd,#fffdfd,#f9f9ff,#ededff,#ededff,#ededff,#f5f5ff,#f9f9ff,#e5e5ff,#e1e1ff,#e1e1ff,#e1e1ff,#ddf,#d1d1ff,#c9c9ff,#c9c9ff,#d5d5ff,#e1e1ff,#e1e1ff,#e9e9ff,#ededff,#ededff,#ddf,#ddf,#ddf,#ddf,#ddf,#e1e1ff,#e5e5ff,#e5e5ff,#e5e5ff)"></i><i class="b" style="left:308px;width:7px;background:linear-gradient(#fe0000,#fe0000,#ff1919,#ff7d7d,#ffd1d1,#fdd,#ffe5e5,#ffd9d9,#ffbdbd,#ffa1a1,#ff9d9d,#ffa1a1,#ffb5b5,#ffe5e5,#fdfdff,#f9f9ff,#fff5f5,#ffb9b9,#ffcdcd,#e5e5ff,#9595ff,#9d9dff,#d9d9ff,#fff9f9,#fff9f9,#fffdfd,#ededff,#e9e9ff,#ededff,#f5f5ff,#fffdfd,#fffdfd,#f9f9ff,#ededff,#ededff,#ededff,#f5f5ff,#f9f9ff,#e5e5ff,#e1e1ff,#e1e1ff,#e1e1ff,#ddf,#d5d5ff,#c9c9ff,#c9c9ff,#d5d5ff,#e1e1ff,#e1e1ff,#e9e9ff,#ededff,#ededff,#ddf,#ddf,#ddf,#ddf,#ddf,#e1e1ff,#e5e5ff,#e5e5ff,#e5e5ff)"></i><i class="b" style="left:315px;width:7px;background:linear-gradient(#fe0000,#fe0000,#ff1919,#ff7d7d,#ffd5d5,#fdd,#ffe5e5,#ffd9d9,#ffbdbd,#ffa5a5,#ff9d9d,#ffa1a1,#ffb5b5,#ffe5e5,#fdfdff,#f9f9ff,#fff5f5,#ffb9b9,#ffcdcd,#e5e5ff,#9595ff,#9d9dff,#d9d9ff,#fff9f9,#fff9f9,#fffdfd,#f1f1ff,#e9e9ff,#ededff,#f5f5ff,#fffdfd,#fffdfd,#f9f9ff,#ededff,#ededff,#ededff,#f5f5ff,#f9f9ff,#e5e5ff,#e1e1ff,#e1e1ff,#e1e1ff,#ddf,#d5d5ff,#c9c9ff,#cdcdff,#d5d5ff,#e1e1ff,#e1e1ff,#e9e9ff,#ededff,#ededff,#ddf,#ddf,#ddf,#ddf,#ddf,#e1e1ff,#e5e5ff,#e5e5ff,#e5e5ff)"></i><i class="b" style="left:322px;width:7px;background:linear-gradient(#fe0000,#fe0000,#ff1919,#ff7d7d,#ffd5d5,#fdd,#ffe5e5,#ffd9d9,#ffc1c1,#ffa5a5,#ff9d9d,#ffa1a1,#ffb5b5,#ffe5e5,#fdfdff,#f9f9ff,#fff5f5,#ffbdbd,#ffcdcd,#e5e5ff,#9595ff,#9d9dff,#d9d9ff,#fff9f9,#fff9f9,#fff9f9,#f1f1ff,#e9e9ff,#ededff,#f5f5ff,#fffdfd,#fffdfd,#f9f9ff,#ededff,#ededff,#ededff,#f5f5ff,#f9f9ff,#e5e5ff,#e1e1ff,#e1e1ff,#e1e1ff,#ddf,#d5d5ff,#c9c9ff,#cdcdff,#d5d5ff,#e1e1ff,#e1e1ff,#e9e9ff,#ededff,#ededff,#ddf,#ddf,#ddf,#ddf,#ddf,#e1e1ff,#e5e5ff,#e5e5ff,#e5e5ff)"></i><i class="b" style="left:329px;width:7px;background:linear-gradient(#ff0101,#ff0101,#ff1d1d,#ff8181,#ffd5d5,#fdd,#ffe5e5,#ffd9d9,#ffc1c1,#ffa5a5,#ff9d9d,#ffa1a1,#ffb5b5,#ffe5e5,#fdfdff,#f9f9ff,#fff5f5,#ffbdbd,#ffcdcd,#e5e5ff,#9595ff,#9d9dff,#d9d9ff,#fff9f9,#fff9f9,#fff9f9,#f1f1ff,#e9e9ff,#ededff,#f5f5ff,#fffdfd,#fffdfd,#f9f9ff,#ededff,#ededff,#ededff,#f5f5ff,#f9f9ff,#e5e5ff,#e1e1ff,#e1e1ff,#e1e1ff,#ddf,#d5d5ff,#c9c9ff,#cdcdff,#d5d5ff,#e1e1ff,#e1e1ff,#e9e9ff,#ededff,#ededff,#ddf,#ddf,#ddf,#ddf,#ddf,#e1e1ff,#e5e5ff,#e5e5ff,#e5e5ff)"></i><i class="b" style="left:336px;width:7px;background:linear-gradient(#ff0505,#ff0505,#ff2121,#ff8181,#ffd5d5,#fdd,#ffe5e5,#fdd,#ffc1c1,#ffa5a5,#ff9d9d,#ffa5a5,#ffb5b5,#ffe5e5,#fdfdff,#f9f9ff,#fff5f5,#ffbdbd,#ffcdcd,#e5e5ff,#99f,#a1a1ff,#d9d9ff,#fff9f9,#fff9f9,#fff9f9,#f1f1ff,#e9e9ff,#ededff,#f5f5ff,#fffdfd,#fffdfd,#f9f9ff,#ededff,#ededff,#ededff,#f5f5ff,#f9f9ff,#e5e5ff,#e1e1ff,#e1e1ff,#e1e1ff,#ddf,#d5d5ff,#c9c9ff,#cdcdff,#d5d5ff,#e1e1ff,#e1e1ff,#e9e9ff,#ededff,#ededff,#ddf,#ddf,#ddf,#ddf,#ddf,#e1e1ff,#e5e5ff,#e5e5ff,#e5e5ff)"></i><i class="b" style="left:343px;width:7px;background:linear-gradient(#ff0909,#ff0909,#ff2525,#ff8585,#ffd5d5,#fdd,#ffe5e5,#fdd,#ffc1c1,#ffa5a5,#ffa1a1,#ffa5a5,#ffb9b9,#ffe5e5,#fdfdff,#f9f9ff,#fff5f5,#ffbdbd,#ffcdcd,#e5e5ff,#99f,#a1a1ff,#d9d9ff,#fff9f9,#fff9f9,#fff9f9,#f1f1ff,#e9e9ff,#ededff,#f5f5ff,#fffdfd,#fffdfd,#f9f9ff,#ededff,#ededff,#ededff,#f5f5ff,#f9f9ff,#e5e5ff,#e1e1ff,#e1e1ff,#e1e1ff,#ddf,#d5d5ff,#cdcdff,#cdcdff,#d5d5ff,#e1e1ff,#e1e1ff,#e9e9ff,#ededff,#ededff,#ddf,#ddf,#ddf,#ddf,#ddf,#e1e1ff,#e5e5ff,#e5e5ff,#e5e5ff)"></i><i class="b" style="left:350px;width:7px;background:linear-gradient(#ff0d0d,#ff0d0d,#ff2929,#ff8989,#ffd9d9,#ffe1e1,#ffe5e5,#fdd,#ffc1c1,#ffa9a9,#ffa1a1,#ffa5a5,#ffb9b9,#ffe5e5,#fdfdff,#f9f9ff,#fff5f5,#ffbdbd,#ffcdcd,#e9e9ff,#99f,#a1a1ff,#d9d9ff,#fff9f9,#fff9f9,#fff9f9,#f1f1ff,#e9e9ff,#ededff,#f5f5ff,#fffdfd,#fffdfd,#f9f9ff,#ededff,#ededff,#ededff,#f5f5ff,#f9f9ff,#e5e5ff,#e1e1ff,#e1e1ff,#e1e1ff,#e1e1ff,#d5d5ff,#cdcdff,#cdcdff,#d5d5ff,#e1e1ff,#e1e1ff,#e9e9ff,#ededff,#ededff,#ddf,#ddf,#ddf,#ddf,#ddf,#e1e1ff,#e5e5ff,#e5e5ff,#e5e5ff)"></i><i class="b" style="left:357px;width:7px;background:linear-gradient(#ff1515,#ff1515,#ff2d2d,#ff8989,#ffd9d9,#ffe1e1,#ffe5e5,#fdd,#ffc1c1,#ffa9a9,#ffa1a1,#ffa5a5,#ffb9b9,#ffe5e5,#fdfdff,#f9f9ff,#fff5f5,#ffbdbd,#ffcdcd,#e9e9ff,#99f,#a1a1ff,#d9d9ff,#fff9f9,#fff9f9,#fff9f9,#f1f1ff,#e9e9ff,#ededff,#f5f5ff,#fffdfd,#fffdfd,#f9f9ff,#ededff,#ededff,#ededff,#f5f5ff,#f9f9ff,#e5e5ff,#e1e1ff,#e1e1ff,#e1e1ff,#e1e1ff,#d5d5ff,#cdcdff,#cdcdff,#d5d5ff,#e1e1ff,#e1e1ff,#e9e9ff,#ededff,#ededff,#ddf,#ddf,#ddf,#ddf,#ddf,#e1e1ff,#e5e5ff,#e5e5ff,#e5e5ff)"></i><i class="b" style="left:364px;width:7px;background:linear-gradient(#ff1919,#ff1919,#ff3131,#ff8d8d,#ffd9d9,#ffe1e1,#ffe5e5,#fdd,#ffc1c1,#ffa9a9,#ffa1a1,#ffa5a5,#ffb9b9,#ffe5e5,#fdfdff,#f9f9ff,#fff5f5,#ffbdbd,#ffcdcd,#e9e9ff,#9d9dff,#a1a1ff,#d9d9ff,#fff9f9,#fff9f9,#fff9f9,#f1f1ff,#ededff,#ededff,#f5f5ff,#fffdfd,#fffdfd,#f9f9ff,#ededff,#ededff,#ededff,#f5f5ff,#f9f9ff,#e5e5ff,#e1e1ff,#e1e1ff,#e1e1ff,#e1e1ff,#d5d5ff,#cdcdff,#cdcdff,#d5d5ff,#e1e1ff,#e1e1ff,#e9e9ff,#ededff,#ededff,#ddf,#ddf,#ddf,#ddf,#ddf,#e1e1ff,#e5e5ff,#e5e5ff,#e5e5ff)"></i><i class="b" style="left:371px;width:7px;background:linear-gradient(#ff1d1d,#ff1d1d,#ff3535,#ff9191,#fdd,#ffe1e1,#ffe9e9,#fdd,#ffc5c5,#ffa9a9,#ffa5a5,#ffa9a9,#ffb9b9,#ffe5e5,#fdfdff,#f9f9ff,#fff5f5,#ffbdbd,#ffcdcd,#e9e9ff,#9d9dff,#a5a5ff,#ddf,#fff9f9,#fff9f9,#fff9f9,#f1f1ff,#ededff,#f1f1ff,#f5f5ff,#fffdfd,#fffdfd,#f9f9ff,#ededff,#ededff,#ededff,#f5f5ff,#f9f9ff,#e5e5ff,#e1e1ff,#e1e1ff,#e1e1ff,#e1e1ff,#d5d5ff,#cdcdff,#cdcdff,#d5d5ff,#e1e1ff,#e1e1ff,#e9e9ff,#ededff,#ededff,#ddf,#ddf,#ddf,#ddf,#ddf,#e1e1ff,#e5e5ff,#e5e5ff,#e5e5ff)"></i><i class="b" style="left:378px;width:7px;background:linear-gradient(#ff2121,#ff2121,#ff3939,#ff9191,#fdd,#ffe1e1,#ffe9e9,#fdd,#ffc5c5,#ffa9a9,#ffa5a5,#ffa9a9,#ffb9b9,#ffe5e5,#fdfdff,#f9f9ff,#fff5f5,#ffbdbd,#ffcdcd,#e9e9ff,#9d9dff,#a5a5ff,#ddf,#fff9f9,#fff9f9,#fff9f9,#f1f1ff,#ededff,#f1f1ff,#f5f5ff,#fffdfd,#fffdfd,#f9f9ff,#ededff,#ededff,#ededff,#f5f5ff,#f9f9ff,#e5e5ff,#e1e1ff,#e1e1ff,#e1e1ff,#e1e1ff,#d5d5ff,#cdcdff,#cdcdff,#d5d5ff,#e1e1ff,#e1e1ff,#e9e9ff,#ededff,#ededff,#e1e1ff,#e1e1ff,#e1e1ff,#e1e1ff,#e1e1ff,#e1e1ff,#e5e5ff,#e5e5ff,#e5e5ff)"></i><i class="b" style="left:385px;width:7px;background:linear-gradient(#ff2525,#ff2525,#ff3d3d,#ff9595,#fdd,#ffe5e5,#ffe9e9,#fdd,#ffc5c5,#ffadad,#ffa5a5,#ffa9a9,#ffbdbd,#ffe5e5,#fdfdff,#f9f9ff,#fff5f5,#ffbdbd,#ffcdcd,#e9e9ff,#9d9dff,#a5a5ff,#ddf,#fff9f9,#fff9f9,#fff9f9,#f1f1ff,#ededff,#f1f1ff,#f5f5ff,#fffdfd,#fffdfd,#f9f9ff,#ededff,#ededff,#ededff,#f5f5ff,#f9f9ff,#e5e5ff,#e1e1ff,#e1e1ff,#e1e1ff,#e1e1ff,#d5d5ff,#cdcdff,#cdcdff,#d5d5ff,#e1e1ff,#e1e1ff,#e9e9ff,#ededff,#ededff,#e1e1ff,#e1e1ff,#e1e1ff,#e1e1ff,#e1e1ff,#e1e1ff,#e5e5ff,#e5e5ff,#e5e5ff)"></i><i class="b" style="left:392px;width:7px;background:linear-gradient(#ff2929,#ff2929,#ff4141,#ff9595,#ffe1e1,#ffe5e5,#ffe9e9,#fdd,#ffc5c5,#ffadad,#ffa5a5,#ffa9a9,#ffbdbd,#ffe5e5,#fdfdff,#f9f9ff,#fff5f5,#ffbdbd,#ffd1d1,#e9e9ff,#a1a1ff,#a5a5ff,#ddf,#fff9f9,#fff9f9,#fff9f9,#f1f1ff,#ededff,#f1f1ff,#f9f9ff,#fffdfd,#fffdfd,#f9f9ff,#ededff,#ededff,#ededff,#f5f5ff,#f9f9ff,#e5e5ff,#e1e1ff,#e1e1ff,#e1e1ff,#e1e1ff,#d5d5ff,#cdcdff,#cdcdff,#d5d5ff,#e1e1ff,#e1e1ff,#e9e9ff,#ededff,#ededff,#e1e1ff,#e1e1ff,#e1e1ff,#e1e1ff,#e1e1ff,#e1e1ff,#e5e5ff,#e5e5ff,#e5e5ff)"></i><i class="b" style="left:399px;width:7px;background:linear-gradient(#ff2d2d,#ff2d2d,#ff4545,#f99,#ffe1e1,#ffe5e5,#ffe9e9,#fdd,#ffc5c5,#ffadad,#ffa5a5,#ffadad,#ffbdbd,#ffe5e5,#fdfdff,#f9f9ff,#fff5f5,#ffbdbd,#ffd1d1,#e9e9ff,#a1a1ff,#a9a9ff,#ddf,#fff9f9,#fff9f9,#fff9f9,#f1f1ff,#ededff,#f1f1ff,#f9f9ff,#fffdfd,#fffdfd,#f9f9ff,#ededff,#ededff,#ededff,#f5f5ff,#f9f9ff,#e5e5ff,#e1e1ff,#e1e1ff,#e1e1ff,#e1e1ff,#d5d5ff,#cdcdff,#cdcdff,#d5d5ff,#e1e1ff,#e1e1ff,#e9e9ff,#ededff,#ededff,#e1e1ff,#e1e1ff,#e1e1ff,#e1e1ff,#e1e1ff,#e1e1ff,#e5e5ff,#e5e5ff,#e5e5ff)"></i><i class="b" style="left:406px;width:7px;background:linear-gradient(#ff3535,#ff3535,#ff4949,#ff9d9d,#ffe1e1,#ffe5e5,#ffe9e9,#fdd,#ffc5c5,#ffadad,#ffa9a9,#ffadad,#ffbdbd,#ffe5e5,#fdfdff,#f9f9ff,#fff5f5,#ffbdbd,#ffd1d1,#e9e9ff,#a1a1ff,#a9a9ff,#ddf,#fff9f9,#fff9f9,#fff9f9,#f1f1ff,#ededff,#f1f1ff,#f9f9ff,#fffdfd,#fffdfd,#f9f9ff,#ededff,#ededff,#ededff,#f5f5ff,#f9f9ff,#e5e5ff,#e1e1ff,#e1e1ff,#e1e1ff,#e1e1ff,#d5d5ff,#cdcdff,#cdcdff,#d5d5ff,#e1e1ff,#e1e1ff,#e9e9ff,#ededff,#ededff,#e1e1ff,#e1e1ff,#e1e1ff,#e1e1ff,#e1e1ff,#e1e1ff,#e5e5ff,#e5e5ff,#e5e5ff)"></i><i class="b" style="left:413px;width:7px;background:linear-gradient(#ff3939,#ff3939,#ff4d4d,#ff9d9d,#ffe5e5,#ffe5e5,#ffe9e9,#fdd,#ffc5c5,#ffadad,#ffa9a9,#ffadad,#ffbdbd,#ffe5e5,#fdfdff,#f9f9ff,#fff5f5,#ffbdbd,#ffd1d1,#e9e9ff,#a1a1ff,#a9a9ff,#ddf,#fff9f9,#fff9f9,#fff9f9,#f1f1ff,#ededff,#f1f1ff,#f9f9ff,#fffdfd,#fffdfd,#f9f9ff,#ededff,#ededff,#ededff,#f5f5ff,#f9f9ff,#e5e5ff,#e1e1ff,#e1e1ff,#e1e1ff,#e1e1ff,#d5d5ff,#cdcdff,#cdcdff,#d9d9ff,#e1e1ff,#e1e1ff,#e9e9ff,#ededff,#ededff,#e1e1ff,#e1e1ff,#e1e1ff,#e1e1ff,#e1e1ff,#e1e1ff,#e5e5ff,#e5e5ff,#e5e5ff)"></i><i class="b" style="left:420px;width:7px;background:linear-gradient(#ff3d3d,#ff3d3d,#ff5151,#ffa1a1,#ffe5e5,#ffe9e9,#ffe9e9,#fdd,#ffc9c9,#ffb1b1,#ffa9a9,#ffadad,#ffbdbd,#ffe9e9,#fdfdff,#f9f9ff,#fff5f5,#ffbdbd,#ffd1d1,#e9e9ff,#a5a5ff,#a9a9ff,#ddf,#fff9f9,#fff9f9,#fff9f9,#f1f1ff,#ededff,#f1f1ff,#f9f9ff,#fffdfd,#fffdfd,#f9f9ff,#ededff,#ededff,#ededff,#f5f5ff,#f9f9ff,#e5e5ff,#e1e1ff,#e1e1ff,#e1e1ff,#e1e1ff,#d5d5ff,#cdcdff,#cdcdff,#d9d9ff,#e1e1ff,#e1e1ff,#e9e9ff,#ededff,#ededff,#e1e1ff,#e1e1ff,#e1e1ff,#e1e1ff,#e1e1ff,#e1e1ff,#e5e5ff,#e5e5ff,#e5e5ff)"></i><i class="b" style="left:427px;width:7px;background:linear-gradient(#ff4141,#ff4141,#f55,#ffa5a5,#ffe5e5,#ffe9e9,#ffe9e9,#ffe1e1,#ffc9c9,#ffb1b1,#ffa9a9,#ffadad,#ffc1c1,#ffe9e9,#fdfdff,#f9f9ff,#fff5f5,#ffc1c1,#ffd1d1,#e9e9ff,#a5a5ff,#a9a9ff,#ddf,#fff9f9,#fff5f5,#fff9f9,#f1f1ff,#ededff,#f1f1ff,#f9f9ff,#fffdfd,#fffdfd,#f9f9ff,#ededff,#ededff,#ededff,#f5f5ff,#f9f9ff,#e5e5ff,#e1e1ff,#e1e1ff,#e1e1ff,#e1e1ff,#d5d5ff,#cdcdff,#cdcdff,#d9d9ff,#e1e1ff,#e1e1ff,#e9e9ff,#ededff,#ededff,#e1e1ff,#e1e1ff,#e1e1ff,#e1e1ff,#e1e1ff,#e1e1ff,#e5e5ff,#e5e5ff,#e5e5ff)"></i><i class="b" style="left:434px;width:7px;background:linear-gradient(#ff4545,#ff4545,#ff5959,#ffa5a5,#ffe9e9,#ffe9e9,#ffe9e9,#ffe1e1,#ffc9c9,#ffb1b1,#ffadad,#ffb1b1,#ffc1c1,#ffe9e9,#fdfdff,#f9f9ff,#fff5f5,#ffc1c1,#ffd1d1,#e9e9ff,#a5a5ff,#adadff,#ddf,#fff5f5,#fff5f5,#fff9f9,#f5f5ff,#ededff,#f1f1ff,#f9f9ff,#fffdfd,#fffdfd,#f9f9ff,#ededff,#ededff,#ededff,#f5f5ff,#f9f9ff,#e5e5ff,#e1e1ff,#e1e1ff,#e1e1ff,#e1e1ff,#d5d5ff,#cdcdff,#cdcdff,#d9d9ff,#e1e1ff,#e1e1ff,#e9e9ff,#ededff,#ededff,#e1e1ff,#e1e1ff,#e1e1ff,#e1e1ff,#e1e1ff,#e1e1ff,#e5e5ff,#e5e5ff,#e5e5ff)"></i><i class="b" style="left:441px;width:7px;background:linear-gradient(#ff4949,#ff4949,#ff5d5d,#ffa9a9,#ffe9e9,#ffe9e9,#ffe9e9,#ffe1e1,#ffc9c9,#ffb1b1,#ffadad,#ffb1b1,#ffc1c1,#ffe9e9,#fdfdff,#f9f9ff,#fff5f5,#ffc1c1,#ffd1d1,#e9e9ff,#a5a5ff,#adadff,#ddf,#fff5f5,#fff5f5,#fff9f9,#f5f5ff,#ededff,#f1f1ff,#f9f9ff,#fffdfd,#fffdfd,#f9f9ff,#ededff,#ededff,#ededff,#f5f5ff,#f9f9ff,#e5e5ff,#e1e1ff,#e1e1ff,#e1e1ff,#e1e1ff,#d5d5ff,#cdcdff,#d1d1ff,#d9d9ff,#e1e1ff,#e1e1ff,#e9e9ff,#ededff,#ededff,#e1e1ff,#e1e1ff,#e1e1ff,#e1e1ff,#e1e1ff,#e1e1ff,#e5e5ff,#e5e5ff,#e5e5ff)"></i><i class="b" style="left:448px;width:7px;background:linear-gradient(#ff4d4d,#ff4d4d,#ff6161,#ffadad,#ffe9e9,#ffe9e9,#ffe9e9,#ffe1e1,#ffc9c9,#ffb1b1,#ffadad,#ffb1b1,#ffc1c1,#ffe9e9,#fdfdff,#f9f9ff,#fff5f5,#ffc1c1,#ffd1d1,#e9e9ff,#a5a5ff,#adadff,#e1e1ff,#fff5f5,#fff5f5,#fff9f9,#f5f5ff,#ededff,#f1f1ff,#f9f9ff,#fffdfd,#fffdfd,#f9f9ff,#ededff,#ededff,#ededff,#f5f5ff,#f9f9ff,#e5e5ff,#e1e1ff,#e1e1ff,#e1e1ff,#e1e1ff,#d5d5ff,#cdcdff,#d1d1ff,#d9d9ff,#e1e1ff,#e1e1ff,#e9e9ff,#ededff,#ededff,#e1e1ff,#e1e1ff,#e1e1ff,#e1e1ff,#e1e1ff,#e1e1ff,#e5e5ff,#e5e5ff,#e5e5ff)"></i><i class="b" style="left:455px;width:7px;background:linear-gradient(#ff5151,#ff5151,#ff6565,#ffadad,#ffeded,#ffeded,#ffeded,#ffe1e1,#ffc9c9,#ffb5b5,#ffadad,#ffb1b1,#ffc1c1,#ffe9e9,#fdfdff,#f9f9ff,#fff5f5,#ffc1c1,#ffd1d1,#e9e9ff,#a9a9ff,#adadff,#e1e1ff,#fff5f5,#fff5f5,#fff9f9,#f5f5ff,#f1f1ff,#f1f1ff,#f9f9ff,#fffdfd,#fffdfd,#f9f9ff,#ededff,#ededff,#ededff,#f5f5ff,#f9f9ff,#e5e5ff,#e1e1ff,#e1e1ff,#e1e1ff,#e1e1ff,#d5d5ff,#cdcdff,#d1d1ff,#d9d9ff,#e1e1ff,#e5e5ff,#e9e9ff,#ededff,#ededff,#e1e1ff,#e1e1ff,#e1e1ff,#e1e1ff,#e1e1ff,#e1e1ff,#e5e5ff,#e5e5ff,#e5e5ff)"></i><i class="b" style="left:462px;width:7px;background:linear-gradient(#f55,#f55,#ff6969,#ffb1b1,#ffeded,#ffeded,#ffeded,#ffe1e1,#ffc9c9,#ffb5b5,#ffadad,#ffb1b1,#ffc1c1,#ffe9e9,#fdfdff,#f9f9ff,#fff5f5,#ffc1c1,#ffd1d1,#e9e9ff,#a9a9ff,#b1b1ff,#e1e1ff,#fff5f5,#fff5f5,#fff9f9,#f5f5ff,#f1f1ff,#f1f1ff,#f9f9ff,#fffdfd,#fffdfd,#f9f9ff,#ededff,#ededff,#ededff,#f5f5ff,#f9f9ff,#e5e5ff,#e1e1ff,#e1e1ff,#e1e1ff,#e1e1ff,#d5d5ff,#cdcdff,#d1d1ff,#d9d9ff,#e1e1ff,#e5e5ff,#e9e9ff,#ededff,#ededff,#e1e1ff,#e1e1ff,#e1e1ff,#e1e1ff,#e1e1ff,#e1e1ff,#e5e5ff,#e5e5ff,#e5e5ff)"></i><i class="b" style="left:469px;width:7px;background:linear-gradient(#ff5d5d,#ff5d5d,#ff6d6d,#ffb5b5,#ffeded,#ffeded,#ffeded,#ffe1e1,#ffcdcd,#ffb5b5,#ffb1b1,#ffb5b5,#ffc5c5,#ffe9e9,#fdfdff,#f9f9ff,#fff5f5,#ffc1c1,#ffd1d1,#ededff,#a9a9ff,#b1b1ff,#e1e1ff,#fff5f5,#fff5f5,#fff9f9,#f5f5ff,#f1f1ff,#f1f1ff,#f9f9ff,#fffdfd,#fffdfd,#f9f9ff,#ededff,#ededff,#ededff,#f5f5ff,#f9f9ff,#e5e5ff,#e1e1ff,#e1e1ff,#e1e1ff,#e1e1ff,#d5d5ff,#d1d1ff,#d1d1ff,#d9d9ff,#e1e1ff,#e5e5ff,#e9e9ff,#ededff,#ededff,#e1e1ff,#e1e1ff,#e1e1ff,#e1e1ff,#e1e1ff,#e1e1ff,#e5e5ff,#e5e5ff,#e5e5ff)"></i><i class="b" style="left:476px;width:7px;background:linear-gradient(#ff6161,#ff6161,#ff7171,#ffb5b5,#fff1f1,#ffeded,#ffeded,#ffe1e1,#ffcdcd,#ffb5b5,#ffb1b1,#ffb5b5,#ffc5c5,#ffe9e9,#fdfdff,#f9f9ff,#fff5f5,#ffc1c1,#ffd1d1,#ededff,#a9a9ff,#b1b1ff,#e1e1ff,#fff5f5,#fff5f5,#fff9f9,#f5f5ff,#f1f1ff,#f1f1ff,#f9f9ff,#fffdfd,#fffdfd,#f9f9ff,#ededff,#ededff,#ededff,#f5f5ff,#f9f9ff,#e5e5ff,#e1e1ff,#e1e1ff,#e1e1ff,#e1e1ff,#d5d5ff,#d1d1ff,#d1d1ff,#d9d9ff,#e1e1ff,#e5e5ff,#e9e9ff,#ededff,#ededff,#e1e1ff,#e1e1ff,#e1e1ff,#e1e1ff,#e1e1ff,#e1e1ff,#e5e5ff,#e5e5ff,#e5e5ff)"></i><i class="b" style="left:483px;width:7px;background:linear-gradient(#ff6d6d,#ff6d6d,#ff7d7d,#ffbdbd,#fff5f5,#fff1f1,#ffeded,#ffe1e1,#ffcdcd,#ffb5b5,#ffb1b1,#ffb5b5,#ffc5c5,#ffe9e9,#fdfdff,#f9f9ff,#fff5f5,#ffc1c1,#ffd1d1,#ededff,#adadff,#b1b1ff,#e1e1ff,#fff5f5,#fff5f5,#fff5f5,#f5f5ff,#f1f1ff,#f5f5ff,#f9f9ff,#fffdfd,#fffdfd,#f9f9ff,#ededff,#ededff,#ededff,#f5f5ff,#f9f9ff,#e5e5ff,#e1e1ff,#e1e1ff,#e1e1ff,#e1e1ff,#d9d9ff,#d1d1ff,#d1d1ff,#d9d9ff,#e1e1ff,#e5e5ff,#e9e9ff,#ededff,#ededff,#e1e1ff,#e1e1ff,#e1e1ff,#e1e1ff,#e1e1ff,#e1e1ff,#e5e5ff,#e5e5ff,#e5e5ff)"></i><i class="b" style="left:490px;width:7px;background:linear-gradient(#ff7979,#ff7979,#ff8989,#ffc5c5,#fff9f9,#fff1f1,#ffeded,#ffe1e1,#ffcdcd,#ffb5b5,#ffb1b1,#ffb5b5,#ffc5c5,#ffe9e9,#fdfdff,#f9f9ff,#fff5f5,#ffc1c1,#ffd1d1,#ededff,#adadff,#b1b1ff,#e1e1ff,#fff5f5,#fff5f5,#fff5f5,#f5f5ff,#f1f1ff,#f5f5ff,#f9f9ff,#fffdfd,#fffdfd,#f9f9ff,#ededff,#ededff,#ededff,#f5f5ff,#f9f9ff,#e5e5ff,#e1e1ff,#e1e1ff,#e1e1ff,#e1e1ff,#d9d9ff,#d1d1ff,#d1d1ff,#d9d9ff,#e1e1ff,#e5e5ff,#e9e9ff,#ededff,#ededff,#e1e1ff,#e1e1ff,#e1e1ff,#e1e1ff,#e1e1ff,#e1e1ff,#e5e5ff,#e5e5ff,#e5e5ff)"></i><i class="b" style="left:497px;width:7px;background:linear-gradient(#ff8989,#ff8989,#ff9595,#ffcdcd,#fffdfd,#fff5f5,#ffeded,#ffe1e1,#ffcdcd,#ffb9b9,#ffb1b1,#ffb5b5,#ffc5c5,#ffe9e9,#fdfdff,#f9f9ff,#fff5f5,#ffc1c1,#ffd1d1,#ededff,#adadff,#b5b5ff,#e1e1ff,#fff5f5,#fff5f5,#fff5f5,#f5f5ff,#f1f1ff,#f5f5ff,#f9f9ff,#fffdfd,#fffdfd,#f9f9ff,#ededff,#ededff,#ededff,#f5f5ff,#f9f9ff,#e5e5ff,#e1e1ff,#e1e1ff,#e1e1ff,#e1e1ff,#d9d9ff,#d1d1ff,#d1d1ff,#d9d9ff,#e1e1ff,#e5e5ff,#e9e9ff,#ededff,#ededff,#e1e1ff,#e1e1ff,#e1e1ff,#e1e1ff,#e1e1ff,#e1e1ff,#e5e5ff,#e5e5ff,#e5e5ff)"></i><i class="b" style="left:504px;width:7px;background:linear-gradient(#ff9595,#ff9595,#ffa1a1,#ffd5d5,#fdfdff,#fff5f5,#ffeded,#ffe1e1,#ffcdcd,#ffb9b9,#ffb1b1,#ffb5b5,#ffc5c5,#ffe9e9,#fdfdff,#f9f9ff,#fff5f5,#ffc1c1,#ffd1d1,#ededff,#adadff,#b5b5ff,#e1e1ff,#fff5f5,#fff5f5,#fff5f5,#f5f5ff,#f1f1ff,#f5f5ff,#f9f9ff,#fffdfd,#fffdfd,#f9f9ff,#ededff,#ededff,#ededff,#f5f5ff,#f9f9ff,#e5e5ff,#e1e1ff,#e1e1ff,#e1e1ff,#e1e1ff,#d9d9ff,#d1d1ff,#d1d1ff,#d9d9ff,#e1e1ff,#e5e5ff,#e9e9ff,#ededff,#ededff,#e1e1ff,#e1e1ff,#e1e1ff,#e1e1ff,#e1e1ff,#e1e1ff,#e5e5ff,#e5e5ff,#e5e5ff)"></i><i class="b" style="left:511px;width:7px;background:linear-gradient(#ffa1a1,#ffa1a1,#ffadad,#fdd,#f9f9ff,#fff9f9,#fff1f1,#ffe1e1,#ffcdcd,#ffb9b9,#ffb1b1,#ffb5b5,#ffc5c5,#ffe9e9,#fdfdff,#f9f9ff,#fff5f5,#ffc1c1,#ffd1d1,#ededff,#adadff,#b5b5ff,#e1e1ff,#fff5f5,#fff5f5,#fff5f5,#f5f5ff,#f1f1ff,#f5f5ff,#f9f9ff,#fffdfd,#fffdfd,#f9f9ff,#ededff,#ededff,#ededff,#f5f5ff,#f9f9ff,#e5e5ff,#e1e1ff,#e1e1ff,#e1e1ff,#e1e1ff,#d9d9ff,#d1d1ff,#d1d1ff,#d9d9ff,#e1e1ff,#e5e5ff,#e9e9ff,#ededff,#ededff,#e1e1ff,#e1e1ff,#e1e1ff,#e1e1ff,#e1e1ff,#e1e1ff,#e5e5ff,#e5e5ff,#e5e5ff)"></i><i class="b" style="left:518px;width:7px;background:linear-gradient(#ffadad,#ffadad,#ffb9b9,#ffe5e5,#f5f5ff,#fffdfd,#fff1f1,#ffe1e1,#ffcdcd,#ffb9b9,#ffb1b1,#ffb5b5,#ffc5c5,#ffe9e9,#fdfdff,#f9f9ff,#fff5f5,#ffc1c1,#ffd1d1,#ededff,#b1b1ff,#b5b5ff,#e1e1ff,#fff5f5,#fff5f5,#fff5f5,#f5f5ff,#f1f1ff,#f5f5ff,#f9f9ff,#fffdfd,#fffdfd,#f9f9ff,#ededff,#ededff,#ededff,#f5f5ff,#f9f9ff,#e5e5ff,#e1e1ff,#e1e1ff,#e1e1ff,#e1e1ff,#d9d9ff,#d1d1ff,#d1d1ff,#d9d9ff,#e1e1ff,#e5e5ff,#e9e9ff,#ededff,#ededff,#e1e1ff,#e1e1ff,#e1e1ff,#e1e1ff,#e1e1ff,#e1e1ff,#e5e5ff,#e5e5ff,#e5e5ff)"></i><i class="b" style="left:525px;width:7px;background:linear-gradient(#ffbdbd,#ffbdbd,#ffc5c5,#ffeded,#f5f5ff,#fffdfd,#fff1f1,#ffe1e1,#ffcdcd,#ffb9b9,#ffb5b5,#ffb5b5,#ffc5c5,#ffe9e9,#fdfdff,#f9f9ff,#fff5f5,#ffc1c1,#ffd1d1,#ededff,#b1b1ff,#b5b5ff,#e1e1ff,#fff5f5,#fff5f5,#fff5f5,#f5f5ff,#f1f1ff,#f5f5ff,#f9f9ff,#fffdfd,#fffdfd,#f9f9ff,#ededff,#ededff,#ededff,#f5f5ff,#f9f9ff,#e5e5ff,#e1e1ff,#e1e1ff,#e1e1ff,#e1e1ff,#d9d9ff,#d1d1ff,#d1d1ff,#d9d9ff,#e1e1ff,#e5e5ff,#e9e9ff,#ededff,#ededff,#e1e1ff,#e1e1ff,#e1e1ff,#e1e1ff,#e1e1ff,#e1e1ff,#e5e5ff,#e5e5ff,#e5e5ff)"></i><i class="b" style="left:532px;width:7px;background:linear-gradient(#ffc5c5,#ffc5c5,#ffcdcd,#fff1f1,#f1f1ff,#fffdfd,#fff1f1,#ffe1e1,#ffcdcd,#ffb9b9,#ffb5b5,#ffb9b9,#ffc5c5,#ffe9e9,#fdfdff,#f9f9ff,#fff9f9,#ffc1c1,#ffd1d1,#ededff,#b1b1ff,#b9b9ff,#e1e1ff,#fff5f5,#fff5f5,#fff5f5,#f5f5ff,#f1f1ff,#f5f5ff,#f9f9ff,#fffdfd,#fffdfd,#f9f9ff,#ededff,#ededff,#ededff,#f5f5ff,#f9f9ff,#e5e5ff,#e1e1ff,#e1e1ff,#e1e1ff,#e1e1ff,#d9d9ff,#d1d1ff,#d1d1ff,#d9d9ff,#e1e1ff,#e5e5ff,#e9e9ff,#ededff,#ededff,#e1e1ff,#e1e1ff,#e1e1ff,#e1e1ff,#e1e1ff,#e1e1ff,#e5e5ff,#e5e5ff,#e5e5ff)"></i><i class="b" style="left:539px;width:7px;background:linear-gradient(#ffcdcd,#ffcdcd,#ffd5d5,#fff5f5,#f1f1ff,#fdfdff,#fff1f1,#ffe1e1,#ffcdcd,#ffb9b9,#ffb5b5,#ffb9b9,#ffc5c5,#ffe9e9,#fdfdff,#f9f9ff,#fff9f9,#ffc5c5,#ffd1d1,#ededff,#b1b1ff,#b9b9ff,#e5e5ff,#fff5f5,#fff5f5,#fff5f5,#f5f5ff,#f1f1ff,#f5f5ff,#f9f9ff,#fffdfd,#fffdfd,#f9f9ff,#ededff,#ededff,#ededff,#f5f5ff,#f9f9ff,#e5e5ff,#e1e1ff,#e1e1ff,#e1e1ff,#e1e1ff,#d9d9ff,#d1d1ff,#d1d1ff,#d9d9ff,#e1e1ff,#e5e5ff,#e9e9ff,#ededff,#ededff,#e1e1ff,#e1e1ff,#e1e1ff,#e1e1ff,#e1e1ff,#e1e1ff,#e5e5ff,#e5e5ff,#e5e5ff)"></i><i class="b" style="left:546px;width:7px;background:linear-gradient(#ffd5d5,#ffd5d5,#fdd,#fff9f9,#ededff,#fdfdff,#fff1f1,#ffe1e1,#ffcdcd,#ffb9b9,#ffb5b5,#ffb9b9,#ffc5c5,#ffe9e9,#fdfdff,#f9f9ff,#fff9f9,#ffc5c5,#ffd5d5,#ededff,#b5b5ff,#b9b9ff,#e5e5ff,#fff5f5,#fff5f5,#fff5f5,#f5f5ff,#f5f5ff,#f5f5ff,#f9f9ff,#fffdfd,#fffdfd,#f9f9ff,#ededff,#ededff,#ededff,#f5f5ff,#f9f9ff,#e5e5ff,#e1e1ff,#e1e1ff,#e1e1ff,#e1e1ff,#d9d9ff,#d1d1ff,#d1d1ff,#d9d9ff,#e1e1ff,#e5e5ff,#e9e9ff,#ededff,#ededff,#e1e1ff,#e1e1ff,#e1e1ff,#e1e1ff,#e1e1ff,#e1e1ff,#e5e5ff,#e5e5ff,#e5e5ff)"></i><i class="b" style="left:553px;width:7px;background:linear-gradient(#fdd,#fdd,#ffe1e1,#fffdfd,#ededff,#fdfdff,#fff1f1,#ffe1e1,#ffcdcd,#ffb9b9,#ffb5b5,#ffb9b9,#ffc5c5,#ffe9e9,#fdfdff,#f9f9ff,#fff9f9,#ffc5c5,#ffd5d5,#ededff,#b5b5ff,#b9b9ff,#e5e5ff,#fff5f5,#fff1f1,#fff5f5,#f5f5ff,#f5f5ff,#f5f5ff,#f9f9ff,#fffdfd,#fffdfd,#f9f9ff,#ededff,#ededff,#ededff,#f5f5ff,#f9f9ff,#e5e5ff,#e1e1ff,#e1e1ff,#e1e1ff,#e1e1ff,#d9d9ff,#d1d1ff,#d1d1ff,#d9d9ff,#e1e1ff,#e5e5ff,#e9e9ff,#ededff,#ededff,#e1e1ff,#e1e1ff,#e1e1ff,#e1e1ff,#e1e1ff,#e1e1ff,#e5e5ff,#e5e5ff,#e5e5ff)"></i><i class="b" style="left:560px;width:7px;background:linear-gradient(#ffe1e1,#ffe1e1,#ffe9e9,#fdfdff,#ededff,#fdfdff,#fff1f1,#ffe1e1,#ffcdcd,#ffb9b9,#ffb5b5,#ffb9b9,#ffc9c9,#ffe9e9,#fdfdff,#f9f9ff,#fff9f9,#ffc5c5,#ffd5d5,#ededff,#b5b5ff,#b9b9ff,#e5e5ff,#fff1f1,#fff1f1,#fff5f5,#f9f9ff,#f5f5ff,#f5f5ff,#f9f9ff,#fffdfd,#fffdfd,#f9f9ff,#ededff,#ededff,#ededff,#f5f5ff,#f9f9ff,#e5e5ff,#e1e1ff,#e1e1ff,#e1e1ff,#e1e1ff,#d9d9ff,#d1d1ff,#d1d1ff,#d9d9ff,#e1e1ff,#e5e5ff,#e9e9ff,#ededff,#ededff,#e1e1ff,#e1e1ff,#e1e1ff,#e1e1ff,#e1e1ff,#e1e1ff,#e5e5ff,#e5e5ff,#e5e5ff)"></i><i class="b" style="left:567px;width:7px;background:linear-gradient(#ffe5e5,#ffe5e5,#ffeded,#fdfdff,#e9e9ff,#f9f9ff,#fff1f1,#ffe1e1,#ffd1d1,#ffb9b9,#ffb5b5,#ffb9b9,#ffc9c9,#ffe9e9,#fdfdff,#f9f9ff,#fff9f9,#ffc5c5,#ffd5d5,#ededff,#b5b5ff,#b9b9ff,#e5e5ff,#fff1f1,#fff1f1,#fff5f5,#f9f9ff,#f5f5ff,#f5f5ff,#f9f9ff,#fffdfd,#fffdfd,#f9f9ff,#ededff,#ededff,#ededff,#f5f5ff,#f9f9ff,#e5e5ff,#e1e1ff,#e1e1ff,#e1e1ff,#e1e1ff,#d9d9ff,#d1d1ff,#d1d1ff,#d9d9ff,#e1e1ff,#e5e5ff,#e9e9ff,#ededff,#ededff,#e1e1ff,#e1e1ff,#e1e1ff,#e1e1ff,#e1e1ff,#e1e1ff,#e5e5ff,#e5e5ff,#e5e5ff)"></i><i class="b" style="left:574px;width:7px;background:linear-gradient(#ffe9e9,#ffe9e9,#ffeded,#f9f9ff,#e9e9ff,#f9f9ff,#fff1f1,#ffe1e1,#ffd1d1,#ffb9b9,#ffb5b5,#ffb9b9,#ffc9c9,#ffe9e9,#fdfdff,#f9f9ff,#fff9f9,#ffc5c5,#ffd5d5,#ededff,#b5b5ff,#bdbdff,#e5e5ff,#fff1f1,#fff1f1,#fff5f5,#f9f9ff,#f5f5ff,#f5f5ff,#f9f9ff,#fffdfd,#fffdfd,#f9f9ff,#ededff,#ededff,#ededff,#f5f5ff,#f9f9ff,#e5e5ff,#e1e1ff,#e1e1ff,#e1e1ff,#e1e1ff,#d9d9ff,#d1d1ff,#d5d5ff,#d9d9ff,#e1e1ff,#e5e5ff,#e9e9ff,#ededff,#ededff,#e1e1ff,#e1e1ff,#e1e1ff,#e1e1ff,#e1e1ff,#e1e1ff,#e5e5ff,#e5e5ff,#e5e5ff)"></i><i class="b" style="left:581px;width:7px;background:linear-gradient(#ffeded,#ffeded,#fff1f1,#f9f9ff,#e9e9ff,#f9f9ff,#fff1f1,#ffe1e1,#ffd1d1,#ffbdbd,#ffb5b5,#ffb9b9,#ffc9c9,#ffe9e9,#fdfdff,#f9f9ff,#fff9f9,#ffc5c5,#ffd5d5,#ededff,#b9b9ff,#bdbdff,#e5e5ff,#fff1f1,#fff1f1,#fff5f5,#f9f9ff,#f5f5ff,#f5f5ff,#f9f9ff,#fffdfd,#fffdfd,#f9f9ff,#ededff,#ededff,#ededff,#f5f5ff,#f9f9ff,#e5e5ff,#e1e1ff,#e1e1ff,#e1e1ff,#e1e1ff,#d9d9ff,#d1d1ff,#d5d5ff,#d9d9ff,#e1e1ff,#e5e5ff,#e9e9ff,#ededff,#ededff,#e1e1ff,#e1e1ff,#e1e1ff,#e1e1ff,#e1e1ff,#e1e1ff,#e5e5ff,#e5e5ff,#e5e5ff)"></i><i class="b" style="left:588px;width:7px;background:linear-gradient(#fff1f1,#fff1f1,#fff5f5,#f5f5ff,#e5e5ff,#f9f9ff,#fff5f5,#ffe5e5,#ffd1d1,#ffbdbd,#ffb5b5,#ffb9b9,#ffc9c9,#ffe9e9,#fdfdff,#f9f9ff,#fff9f9,#ffc5c5,#ffd5d5,#ededff,#b9b9ff,#bdbdff,#e5e5ff,#fff1f1,#fff1f1,#fff5f5,#f9f9ff,#f5f5ff,#f5f5ff,#f9f9ff,#fffdfd,#fffdfd,#f9f9ff,#ededff,#ededff,#ededff,#f5f5ff,#f9f9ff,#e5e5ff,#e1e1ff,#e1e1ff,#e1e1ff,#e1e1ff,#d9d9ff,#d1d1ff,#d5d5ff,#d9d9ff,#e1e1ff,#e5e5ff,#e9e9ff,#ededff,#ededff,#e1e1ff,#e1e1ff,#e1e1ff,#e1e1ff,#e1e1ff,#e1e1ff,#e5e5ff,#e5e5ff,#e5e5ff)"></i><i class="b" style="left:595px;width:7px;background:linear-gradient(#fff5f5,#fff5f5,#fff9f9,#f5f5ff,#e5e5ff,#f9f9ff,#fff5f5,#ffe5e5,#ffd1d1,#ffbdbd,#ffb9b9,#ffb9b9,#ffc9c9,#ffe9e9,#fdfdff,#f9f9ff,#fff9f9,#ffc5c5,#ffd5d5,#ededff,#b9b9ff,#bdbdff,#e5e5ff,#fff1f1,#fff1f1,#fff1f1,#f9f9ff,#f5f5ff,#f9f9ff,#f9f9ff,#fffdfd,#fffdfd,#f9f9ff,#ededff,#ededff,#ededff,#f5f5ff,#f9f9ff,#e5e5ff,#e1e1ff,#e1e1ff,#e1e1ff,#e1e1ff,#d9d9ff,#d1d1ff,#d5d5ff,#d9d9ff,#e1e1ff,#e5e5ff,#e9e9ff,#ededff,#ededff,#e1e1ff,#e1e1ff,#e1e1ff,#e1e1ff,#e1e1ff,#e1e1ff,#e5e5ff,#e5e5ff,#e5e5ff)"></i><i class="b" style="left:602px;width:7px;background:linear-gradient(#fff9f9,#fff9f9,#fffdfd,#f1f1ff,#e5e5ff,#f5f5ff,#fff5f5,#ffe5e5,#ffd1d1,#ffbdbd,#ffb9b9,#ffb9b9,#ffc9c9,#ffe9e9,#fdfdff,#f9f9ff,#fff9f9,#ffc5c5,#ffd5d5,#ededff,#b9b9ff,#bdbdff,#e5e5ff,#fff1f1,#fff1f1,#fff1f1,#f9f9ff,#f5f5ff,#f9f9ff,#fdfdff,#fffdfd,#fffdfd,#f9f9ff,#ededff,#ededff,#ededff,#f5f5ff,#f9f9ff,#e5e5ff,#e1e1ff,#e1e1ff,#e1e1ff,#e1e1ff,#d9d9ff,#d5d5ff,#d5d5ff,#d9d9ff,#e1e1ff,#e5e5ff,#e9e9ff,#ededff,#ededff,#e1e1ff,#e1e1ff,#e1e1ff,#e1e1ff,#e1e1ff,#e1e1ff,#e5e5ff,#e5e5ff,#e5e5ff)"></i><i class="b" style="left:609px;width:7px;background:linear-gradient(#fffdfd,#fffdfd,#fdfdff,#f1f1ff,#e1e1ff,#f5f5ff,#fff5f5,#ffe5e5,#ffd1d1,#ffbdbd,#ffb9b9,#ffbdbd,#ffc9c9,#ffeded,#fdfdff,#f9f9ff,#fff9f9,#ffc5c5,#ffd5d5,#ededff,#b9b9ff,#c1c1ff,#e5e5ff,#fff1f1,#fff1f1,#fff1f1,#f9f9ff,#f5f5ff,#f9f9ff,#fdfdff,#fffdfd,#fffdfd,#f9f9ff,#ededff,#ededff,#ededff,#f5f5ff,#f9f9ff,#e5e5ff,#e1e1ff,#e1e1ff,#e1e1ff,#e1e1ff,#d9d9ff,#d5d5ff,#d5d5ff,#ddf,#e1e1ff,#e5e5ff,#e9e9ff,#ededff,#ededff,#e1e1ff,#e1e1ff,#e1e1ff,#e1e1ff,#e1e1ff,#e1e1ff,#e5e5ff,#e5e5ff,#e5e5ff)"></i><i class="b" style="left:616px;width:7px;background:linear-gradient(#fffdfd,#fffdfd,#fdfdff,#ededff,#e1e1ff,#f5f5ff,#fff5f5,#ffe5e5,#ffd1d1,#ffbdbd,#ffb9b9,#ffbdbd,#ffc9c9,#ffeded,#fdfdff,#f9f9ff,#fff9f9,#ffc5c5,#ffd5d5,#f1f1ff,#bdbdff,#c1c1ff,#e5e5ff,#fff1f1,#fff1f1,#fff1f1,#f9f9ff,#f5f5ff,#f9f9ff,#fdfdff,#fffdfd,#fffdfd,#f9f9ff,#ededff,#ededff,#ededff,#f5f5ff,#f9f9ff,#e5e5ff,#e1e1ff,#e1e1ff,#e1e1ff,#e1e1ff,#d9d9ff,#d5d5ff,#d5d5ff,#ddf,#e1e1ff,#e5e5ff,#e9e9ff,#ededff,#ededff,#e1e1ff,#e1e1ff,#e1e1ff,#e1e1ff,#e1e1ff,#e1e1ff,#e5e5ff,#e5e5ff,#e5e5ff)"></i><i class="b" style="left:623px;width:7px;background:linear-gradient(#fdfdff,#fdfdff,#f9f9ff,#ededff,#e1e1ff,#f5f5ff,#fff5f5,#ffe5e5,#ffd1d1,#ffbdbd,#ffb9b9,#ffbdbd,#ffc9c9,#ffeded,#fdfdff,#f9f9ff,#fff9f9,#ffc5c5,#ffd5d5,#f1f1ff,#bdbdff,#c1c1ff,#e5e5ff,#fff1f1,#fff1f1,#fff1f1,#f9f9ff,#f5f5ff,#f9f9ff,#fdfdff,#fffdfd,#fffdfd,#f9f9ff,#ededff,#ededff,#ededff,#f5f5ff,#f9f9ff,#e5e5ff,#e1e1ff,#e1e1ff,#e1e1ff,#e1e1ff,#d9d9ff,#d5d5ff,#d5d5ff,#d9d9ff,#e1e1ff,#e5e5ff,#e9e9ff,#ededff,#ededff,#e1e1ff,#e1e1ff,#e1e1ff,#e1e1ff,#e1e1ff,#e1e1ff,#e5e5ff,#e5e5ff,#e5e5ff)"></i><i class="b" style="left:630px;width:7px;background:linear-gradient(#f9f9ff,#f9f9ff,#f5f5ff,#e9e9ff,#e1e1ff,#f5f5ff,#fff5f5,#ffe5e5,#ffd1d1,#ffbdbd,#ffb9b9,#ffbdbd,#ffc9c9,#ffeded,#fdfdff,#f9f9ff,#fff9f9,#ffc5c5,#ffd5d5,#f1f1ff,#bdbdff,#c1c1ff,#e5e5ff,#fff1f1,#fff1f1,#fff1f1,#f9f9ff,#f5f5ff,#f9f9ff,#fdfdff,#fffdfd,#fffdfd,#f9f9ff,#ededff,#ededff,#ededff,#f5f5ff,#f9f9ff,#e5e5ff,#e1e1ff,#e1e1ff,#e1e1ff,#e1e1ff,#d9d9ff,#d1d1ff,#d5d5ff,#d9d9ff,#e1e1ff,#e5e5ff,#e9e9ff,#ededff,#ededff,#e1e1ff,#e1e1ff,#e1e1ff,#e1e1ff,#e1e1ff,#e1e1ff,#e5e5ff,#e5e5ff,#e5e5ff)"></i><i class="b" style="left:637px;width:7px;background:linear-gradient(#f5f5ff,#f5f5ff,#f1f1ff,#e9e9ff,#e1e1ff,#f5f5ff,#fff5f5,#ffe5e5,#ffd1d1,#ffbdbd,#ffb9b9,#ffbdbd,#ffc9c9,#ffeded,#fdfdff,#f9f9ff,#fff9f9,#ffc5c5,#ffd5d5,#f1f1ff,#bdbdff,#c1c1ff,#e9e9ff,#fff1f1,#fff1f1,#fff1f1,#f9f9ff,#f5f5ff,#f9f9ff,#fdfdff,#fffdfd,#fffdfd,#f9f9ff,#ededff,#ededff,#ededff,#f5f5ff,#f9f9ff,#e5e5ff,#e1e1ff,#e1e1ff,#e1e1ff,#e1e1ff,#d9d9ff,#d1d1ff,#d5d5ff,#d9d9ff,#e1e1ff,#e5e5ff,#e9e9ff,#ededff,#ededff,#e1e1ff,#e1e1ff,#e1e1ff,#e1e1ff,#e1e1ff,#e1e1ff,#e5e5ff,#e5e5ff,#e5e5ff)"></i><i class="b" style="left:644px;width:7px;background:linear-gradient(#f1f1ff,#f1f1ff,#ededff,#e9e9ff,#e1e1ff,#f5f5ff,#fff5f5,#ffe5e5,#ffd1d1,#ffbdbd,#ffb9b9,#ffbdbd,#ffcdcd,#ffeded,#fdfdff,#f9f9ff,#fff9f9,#ffc9c9,#ffd5d5,#f1f1ff,#bdbdff,#c1c1ff,#e9e9ff,#fff1f1,#fff1f1,#fff1f1,#f9f9ff,#f5f5ff,#f9f9ff,#fdfdff,#fffdfd,#fffdfd,#f9f9ff,#ededff,#ededff,#ededff,#f5f5ff,#f9f9ff,#e5e5ff,#e1e1ff,#e1e1ff,#e1e1ff,#e1e1ff,#d9d9ff,#d1d1ff,#d1d1ff,#d9d9ff,#e1e1ff,#e5e5ff,#e9e9ff,#ededff,#ededff,#e1e1ff,#e1e1ff,#e1e1ff,#e1e1ff,#e1e1ff,#e1e1ff,#e5e5ff,#e5e5ff,#e5e5ff)"></i><i class="b" style="left:651px;width:7px;background:linear-gradient(#ededff,#ededff,#ededff,#e5e5ff,#e1e1ff,#f5f5ff,#fff5f5,#ffe5e5,#ffd1d1,#ffc1c1,#ffb9b9,#ffbdbd,#ffcdcd,#ffeded,#fdfdff,#f9f9ff,#fff9f9,#ffc9c9,#ffd5d5,#f1f1ff,#bdbdff,#c1c1ff,#e9e9ff,#fff1f1,#fff1f1,#fff1f1,#f9f9ff,#f5f5ff,#f9f9ff,#fdfdff,#fffdfd,#fffdfd,#f9f9ff,#ededff,#ededff,#ededff,#f5f5ff,#f9f9ff,#e5e5ff,#e1e1ff,#e1e1ff,#e1e1ff,#e1e1ff,#d9d9ff,#d1d1ff,#d1d1ff,#d9d9ff,#e1e1ff,#e5e5ff,#e9e9ff,#ededff,#ededff,#e1e1ff,#e1e1ff,#e1e1ff,#e1e1ff,#e1e1ff,#e1e1ff,#e5e5ff,#e5e5ff,#e5e5ff)"></i><i class="b" style="left:658px;width:7px;background:linear-gradient(#e9e9ff,#e9e9ff,#e9e9ff,#e5e5ff,#e1e1ff,#f5f5ff,#fff5f5,#ffe5e5,#ffd1d1,#ffc1c1,#ffbdbd,#ffbdbd,#ffcdcd,#ffeded,#fdfdff,#f9f9ff,#fff9f9,#ffc9c9,#ffd5d5,#f1f1ff,#bdbdff,#c5c5ff,#e9e9ff,#ffeded,#ffeded,#fff1f1,#f9f9ff,#f5f5ff,#f9f9ff,#fdfdff,#fffdfd,#fffdfd,#f9f9ff,#ededff,#ededff,#ededff,#f5f5ff,#f9f9ff,#e5e5ff,#e1e1ff,#e1e1ff,#e1e1ff,#e1e1ff,#d9d9ff,#d1d1ff,#d1d1ff,#d9d9ff,#e1e1ff,#e5e5ff,#e9e9ff,#ededff,#ededff,#e1e1ff,#e1e1ff,#e1e1ff,#e1e1ff,#e1e1ff,#e1e1ff,#e5e5ff,#e5e5ff,#e5e5ff)"></i><i class="b" style="left:665px;width:7px;background:linear-gradient(#e5e5ff,#e5e5ff,#e5e5ff,#e5e5ff,#e1e1ff,#f5f5ff,#fff5f5,#ffe5e5,#ffd5d5,#ffc1c1,#ffbdbd,#ffbdbd,#ffcdcd,#ffeded,#fdfdff,#f9f9ff,#fff9f9,#ffc9c9,#ffd5d5,#f1f1ff,#bdbdff,#c5c5ff,#e9e9ff,#ffeded,#ffeded,#fff1f1,#f9f9ff,#f5f5ff,#f9f9ff,#fdfdff,#fffdfd,#fffdfd,#f9f9ff,#ededff,#ededff,#ededff,#f5f5ff,#f9f9ff,#e5e5ff,#e1e1ff,#e1e1ff,#e1e1ff,#e1e1ff,#d9d9ff,#d1d1ff,#d1d1ff,#d9d9ff,#e1e1ff,#e5e5ff,#e9e9ff,#ededff,#ededff,#e1e1ff,#e1e1ff,#e1e1ff,#e1e1ff,#e1e1ff,#e1e1ff,#e5e5ff,#e5e5ff,#e5e5ff)"></i><i class="b" style="left:672px;width:7px;background:linear-gradient(#e5e5ff,#e5e5ff,#e5e5ff,#e5e5ff,#e1e1ff,#f5f5ff,#fff5f5,#ffe5e5,#ffd5d5,#ffc1c1,#ffbdbd,#ffc1c1,#ffcdcd,#ffeded,#fdfdff,#f9f9ff,#fff9f9,#ffc9c9,#ffd5d5,#f1f1ff,#c1c1ff,#c5c5ff,#e9e9ff,#ffeded,#ffeded,#fff1f1,#f9f9ff,#f5f5ff,#f9f9ff,#fdfdff,#fffdfd,#fffdfd,#f9f9ff,#ededff,#ededff,#ededff,#f5f5ff,#f9f9ff,#e5e5ff,#e1e1ff,#e1e1ff,#e1e1ff,#e1e1ff,#d9d9ff,#d1d1ff,#d1d1ff,#d9d9ff,#e1e1ff,#e5e5ff,#e9e9ff,#ededff,#ededff,#e1e1ff,#e1e1ff,#e1e1ff,#e1e1ff,#e1e1ff,#e1e1ff,#e5e5ff,#e5e5ff,#e5e5ff)"></i><i class="b" style="left:679px;width:7px;background:linear-gradient(#e5e5ff,#e5e5ff,#e5e5ff,#e5e5ff,#e1e1ff,#f5f5ff,#fff5f5,#ffe5e5,#ffd5d5,#ffc1c1,#ffbdbd,#ffc1c1,#ffcdcd,#ffeded,#fdfdff,#f9f9ff,#fff9f9,#ffc9c9,#ffd9d9,#f1f1ff,#c1c1ff,#c5c5ff,#e9e9ff,#ffeded,#ffeded,#fff1f1,#f9f9ff,#f5f5ff,#f9f9ff,#fdfdff,#fffdfd,#fffdfd,#f9f9ff,#ededff,#ededff,#ededff,#f5f5ff,#f9f9ff,#e5e5ff,#e1e1ff,#e1e1ff,#e1e1ff,#e1e1ff,#d9d9ff,#d1d1ff,#d1d1ff,#d9d9ff,#e1e1ff,#e1e1ff,#e9e9ff,#ededff,#ededff,#e1e1ff,#e1e1ff,#e1e1ff,#e1e1ff,#e1e1ff,#e1e1ff,#e5e5ff,#e5e5ff,#e5e5ff)"></i><i class="b" style="left:686px;width:7px;background:linear-gradient(#e9e9ff,#e9e9ff,#e5e5ff,#e5e5ff,#e1e1ff,#f5f5ff,#fff5f5,#ffe5e5,#ffd5d5,#ffc1c1,#ffbdbd,#ffc1c1,#ffcdcd,#ffeded,#fdfdff,#f9f9ff,#fff9f9,#ffc9c9,#ffd9d9,#f1f1ff,#c1c1ff,#c5c5ff,#e9e9ff,#ffeded,#ffeded,#ffeded,#f9f9ff,#f5f5ff,#f9f9ff,#fdfdff,#fffdfd,#fffdfd,#f9f9ff,#ededff,#ededff,#ededff,#f5f5ff,#f9f9ff,#e5e5ff,#e1e1ff,#e1e1ff,#e1e1ff,#e1e1ff,#d9d9ff,#d1d1ff,#d1d1ff,#d9d9ff,#e1e1ff,#e1e1ff,#e9e9ff,#ededff,#ededff,#e1e1ff,#e1e1ff,#e1e1ff,#e1e1ff,#e1e1ff,#e1e1ff,#e5e5ff,#e5e5ff,#e5e5ff)"></i><i class="b" style="left:693px;width:7px;background:linear-gradient(#e9e9ff,#e9e9ff,#e9e9ff,#e5e5ff,#e1e1ff,#f5f5ff,#fff5f5,#ffe5e5,#ffd5d5,#ffc1c1,#ffbdbd,#ffc1c1,#ffcdcd,#ffeded,#fdfdff,#f9f9ff,#fff9f9,#ffc9c9,#ffd9d9,#f1f1ff,#c1c1ff,#c5c5ff,#e9e9ff,#ffeded,#ffeded,#ffeded,#f9f9ff,#f5f5ff,#f9f9ff,#fdfdff,#fffdfd,#fffdfd,#f9f9ff,#ededff,#ededff,#ededff,#f5f5ff,#f9f9ff,#e5e5ff,#e1e1ff,#e1e1ff,#e1e1ff,#e1e1ff,#d5d5ff,#d1d1ff,#d1d1ff,#d9d9ff,#e1e1ff,#e1e1ff,#e9e9ff,#ededff,#ededff,#e1e1ff,#e1e1ff,#e1e1ff,#e1e1ff,#e1e1ff,#e1e1ff,#e5e5ff,#e5e5ff,#e5e5ff)"></i><i class="b" style="left:700px;width:7px;background:linear-gradient(#e9e9ff,#e9e9ff,#e9e9ff,#e5e5ff,#e1e1ff,#f5f5ff,#fff5f5,#ffe5e5,#ffd5d5,#ffc1c1,#ffbdbd,#ffc1c1,#ffcdcd,#ffeded,#fdfdff,#f9f9ff,#fff9f9,#ffc9c9,#ffd9d9,#f1f1ff,#c1c1ff,#c5c5ff,#e9e9ff,#ffeded,#ffeded,#ffeded,#f9f9ff,#f5f5ff,#f9f9ff,#fdfdff,#fffdfd,#fffdfd,#f9f9ff,#ededff,#ededff,#ededff,#f5f5ff,#f9f9ff,#e5e5ff,#e1e1ff,#e1e1ff,#e1e1ff,#e1e1ff,#d5d5ff,#cdcdff,#d1d1ff,#d9d9ff,#e1e1ff,#e1e1ff,#e9e9ff,#ededff,#ededff,#e1e1ff,#e1e1ff,#e1e1ff,#e1e1ff,#e1e1ff,#e1e1ff,#e5e5ff,#e5e5ff,#e5e5ff)"></i><i class="b" style="left:707px;width:7px;background:linear-gradient(#e9e9ff,#e9e9ff,#e9e9ff,#e5e5ff,#e1e1ff,#f5f5ff,#fff5f5,#ffe5e5,#ffd5d5,#ffc5c5,#ffbdbd,#ffc1c1,#ffcdcd,#ffeded,#fdfdff,#f9f9ff,#fff9f9,#ffc9c9,#ffd9d9,#f1f1ff,#c1c1ff,#c5c5ff,#e9e9ff,#ffeded,#ffeded,#ffeded,#f9f9ff,#f5f5ff,#f9f9ff,#fdfdff,#fffdfd,#fffdfd,#f9f9ff,#ededff,#ededff,#ededff,#f5f5ff,#f9f9ff,#e5e5ff,#e1e1ff,#e1e1ff,#e1e1ff,#e1e1ff,#d5d5ff,#cdcdff,#d1d1ff,#d9d9ff,#e1e1ff,#e1e1ff,#e9e9ff,#ededff,#ededff,#ddf,#ddf,#ddf,#ddf,#ddf,#e1e1ff,#e5e5ff,#e5e5ff,#e5e5ff)"></i><i class="b" style="left:714px;width:7px;background:linear-gradient(#e9e9ff,#e9e9ff,#e9e9ff,#e5e5ff,#e1e1ff,#f5f5ff,#fff5f5,#ffe5e5,#ffd5d5,#ffc5c5,#ffc1c1,#ffc1c1,#ffcdcd,#ffeded,#fdfdff,#f9f9ff,#fff9f9,#ffc9c9,#ffd9d9,#f1f1ff,#c1c1ff,#c5c5ff,#e9e9ff,#ffeded,#ffeded,#ffeded,#f9f9ff,#f5f5ff,#f9f9ff,#fdfdff,#fffdfd,#fffdfd,#f9f9ff,#ededff,#ededff,#ededff,#f5f5ff,#f9f9ff,#e5e5ff,#e1e1ff,#e1e1ff,#e1e1ff,#ddf,#d5d5ff,#cdcdff,#cdcdff,#d9d9ff,#e1e1ff,#e1e1ff,#e9e9ff,#ededff,#ededff,#ddf,#ddf,#ddf,#ddf,#ddf,#e1e1ff,#e5e5ff,#e5e5ff,#e5e5ff)"></i><i class="b" style="left:721px;width:7px;background:linear-gradient(#ededff,#ededff,#e9e9ff,#e5e5ff,#e1e1ff,#f5f5ff,#fff5f5,#ffe5e5,#ffd5d5,#ffc5c5,#ffc1c1,#ffc1c1,#ffd1d1,#ffeded,#fdfdff,#f9f9ff,#fff9f9,#ffc9c9,#ffd9d9,#f1f1ff,#c1c1ff,#c9c9ff,#e9e9ff,#ffeded,#ffeded,#ffeded,#f9f9ff,#f5f5ff,#f9f9ff,#fdfdff,#fffdfd,#fffdfd,#f9f9ff,#ededff,#ededff,#ededff,#f5f5ff,#f9f9ff,#e5e5ff,#e1e1ff,#e1e1ff,#e1e1ff,#ddf,#d5d5ff,#cdcdff,#cdcdff,#d9d9ff,#e1e1ff,#e1e1ff,#e9e9ff,#ededff,#ededff,#ddf,#ddf,#ddf,#ddf,#ddf,#e1e1ff,#e5e5ff,#e5e5ff,#e5e5ff)"></i><i class="b" style="left:728px;width:7px;background:linear-gradient(#ededff,#ededff,#ededff,#e5e5ff,#e1e1ff,#f5f5ff,#fff5f5,#ffe5e5,#ffd5d5,#ffc5c5,#ffc1c1,#ffc5c5,#ffd1d1,#ffeded,#fdfdff,#f9f9ff,#fff9f9,#ffcdcd,#ffd9d9,#f1f1ff,#c5c5ff,#c9c9ff,#e9e9ff,#ffeded,#ffeded,#ffeded,#f9f9ff,#f5f5ff,#f9f9ff,#fdfdff,#fffdfd,#fffdfd,#f9f9ff,#ededff,#ededff,#ededff,#f5f5ff,#f9f9ff,#e5e5ff,#e1e1ff,#e1e1ff,#e1e1ff,#ddf,#d5d5ff,#cdcdff,#cdcdff,#d5d5ff,#e1e1ff,#e1e1ff,#e9e9ff,#ededff,#ededff,#ddf,#ddf,#ddf,#ddf,#ddf,#e1e1ff,#e5e5ff,#e5e5ff,#e5e5ff)"></i><i class="b" style="left:735px;width:7px;background:linear-gradient(#ededff,#ededff,#ededff,#e5e5ff,#e1e1ff,#f5f5ff,#fff5f5,#ffe5e5,#ffd5d5,#ffc5c5,#ffc1c1,#ffc5c5,#ffd1d1,#ffeded,#fdfdff,#f9f9ff,#fff9f9,#ffcdcd,#ffd9d9,#f1f1ff,#c5c5ff,#c9c9ff,#e9e9ff,#ffeded,#ffeded,#ffeded,#f9f9ff,#f5f5ff,#f9f9ff,#fdfdff,#fffdfd,#fffdfd,#f9f9ff,#ededff,#e9e9ff,#e9e9ff,#f5f5ff,#f9f9ff,#e5e5ff,#e1e1ff,#e1e1ff,#e1e1ff,#ddf,#d5d5ff,#cdcdff,#cdcdff,#d5d5ff,#e1e1ff,#e1e1ff,#e9e9ff,#ededff,#e9e9ff,#ddf,#ddf,#ddf,#ddf,#ddf,#e1e1ff,#e5e5ff,#e5e5ff,#e5e5ff)"></i><i class="b" style="left:742px;width:7px;background:linear-gradient(#ededff,#ededff,#ededff,#e9e9ff,#e1e1ff,#f5f5ff,#fff5f5,#ffe5e5,#ffd5d5,#ffc5c5,#ffc1c1,#ffc5c5,#ffd1d1,#ffeded,#fdfdff,#f9f9ff,#fff9f9,#ffcdcd,#ffd9d9,#f1f1ff,#c5c5ff,#c9c9ff,#e9e9ff,#ffe9e9,#ffe9e9,#ffeded,#f9f9ff,#f5f5ff,#f9f9ff,#fdfdff,#fffdfd,#fffdfd,#f9f9ff,#ededff,#e9e9ff,#e9e9ff,#f5f5ff,#f9f9ff,#e5e5ff,#e1e1ff,#e1e1ff,#e1e1ff,#ddf,#d5d5ff,#cdcdff,#cdcdff,#d5d5ff,#e1e1ff,#e1e1ff,#e9e9ff,#ededff,#e9e9ff,#ddf,#ddf,#ddf,#ddf,#ddf,#e1e1ff,#e5e5ff,#e5e5ff,#e5e5ff)"></i><i class="b" style="left:749px;width:7px;background:linear-gradient(#ededff,#ededff,#ededff,#e9e9ff,#e1e1ff,#f5f5ff,#fff5f5,#ffe5e5,#ffd9d9,#ffc5c5,#ffc1c1,#ffc5c5,#ffd1d1,#ffeded,#fdfdff,#f9f9ff,#fff9f9,#ffcdcd,#ffd9d9,#f1f1ff,#c5c5ff,#c9c9ff,#e9e9ff,#ffe9e9,#ffe9e9,#ffeded,#f9f9ff,#f5f5ff,#f9f9ff,#f9f9ff,#fffdfd,#fffdfd,#f9f9ff,#ededff,#e9e9ff,#e9e9ff,#f5f5ff,#f9f9ff,#e5e5ff,#e1e1ff,#e1e1ff,#e1e1ff,#ddf,#d5d5ff,#cdcdff,#cdcdff,#d5d5ff,#e1e1ff,#e1e1ff,#e9e9ff,#ededff,#e9e9ff,#ddf,#ddf,#ddf,#ddf,#ddf,#e1e1ff,#e5e5ff,#e5e5ff,#e5e5ff)"></i><i class="b" style="left:756px;width:3px;background:linear-gradient(#f1f1ff,#f1f1ff,#ededff,#e9e9ff,#e1e1ff,#f5f5ff,#fff5f5,#ffe5e5,#ffd9d9,#ffc5c5,#ffc1c1,#ffc5c5,#ffd1d1,#ffeded,#fdfdff,#f9f9ff,#fff9f9,#ffcdcd,#ffd9d9,#f1f1ff,#c5c5ff,#c9c9ff,#e9e9ff,#ffe9e9,#ffe9e9,#ffeded,#f9f9ff,#f5f5ff,#f9f9ff,#f9f9ff,#fffdfd,#fffdfd,#f9f9ff,#ededff,#e9e9ff,#e9e9ff,#f5f5ff,#f9f9ff,#e5e5ff,#e1e1ff,#e1e1ff,#ddf,#ddf,#d5d5ff,#cdcdff,#cdcdff,#d5d5ff,#e1e1ff,#e1e1ff,#e9e9ff,#ededff,#e9e9ff,#ddf,#ddf,#ddf,#ddf,#ddf,#e1e1ff,#e5e5ff,#e5e5ff,#e5e5ff)"></i><i class="b" style="left:759px;width:1px;background:linear-gradient(#f1f1ff,#f1f1ff,#ededff,#e9e9ff,#e1e1ff,#f5f5ff,#fff5f5,#ffe5e5,#ffd9d9,#ffc5c5,#ffc1c1,#ffc5c5,#ffd1d1,#ffeded,#fdfdff,#f9f9ff,#fff9f9,#ffcdcd,#ffd9d9,#f1f1ff,#c5c5ff,#c9c9ff,#e9e9ff,#ffe9e9,#ffe9e9,#ffeded,#f9f9ff,#f5f5ff,#f9f9ff,#f9f9ff,#fffdfd,#fffdfd,#f9f9ff,#ededff,#e9e9ff,#e9e9ff,#f5f5ff,#f9f9ff,#e5e5ff,#e1e1ff,#e1e1ff,#ddf,#ddf,#d5d5ff,#cdcdff,#cdcdff,#d5d5ff,#e1e1ff,#e1e1ff,#e9e9ff,#ededff,#e9e9ff,#ddf,#ddf,#ddf,#ddf,#ddf,#e1e1ff,#e5e5ff,#e5e5ff,#e5e5ff)"></i><i class="b" style="left:760px;width:1px;background:linear-gradient(#f5f5ff,#f5f5ff,#f5f5ff,#f1f1ff,#f1f1ff,#f9f9ff,#fffdfd,#fff5f5,#ffeded,#ffe5e5,#ffe1e1,#ffe5e5,#ffe9e9,#fff9f9,#fdfdff,#f9f9ff,#fffdfd,#ffe9e9,#ffeded,#f5f5ff,#e1e1ff,#e5e5ff,#f5f5ff,#fff5f5,#fff5f5,#fff5f5,#f9f9ff,#f9f9ff,#f9f9ff,#fdfdff,#fdfdff,#fffdfd,#f9f9ff,#f5f5ff,#f5f5ff,#f5f5ff,#f9f9ff,#f9f9ff,#f1f1ff,#ededff,#ededff,#ededff,#ededff,#e9e9ff,#e5e5ff,#e5e5ff,#e9e9ff,#ededff,#f1f1ff,#f1f1ff,#f5f5ff,#f5f5ff,#ededff,#ededff,#ededff,#ededff,#ededff,#ededff,#f1f1ff,#f1f1ff,#f1f1ff)"></i><i class="b" style="left:761px;width:1px;background:linear-gradient(#fdfdff,#fdfdff,#fdfdff,#fdfdff,#fdfdff,#fdfdff,#fdfdff,#fdfdff,#fdfdff,#fdfdff,#fdfdff,#fdfdff,#fdfdff,#fdfdff,#fdfdff,#fdfdff,#fdfdff,#fdfdff,#fdfdff,#fdfdff,#fdfdff,#fdfdff,#fdfdff,#fdfdff,#fdfdff,#fdfdff,#fdfdff,#fdfdff,#fdfdff,#fdfdff,#fdfdff,#fdfdff,#fdfdff,#fdfdff,#fdfdff,#fdfdff,#fdfdff,#fdfdff,#fdfdff,#fdfdff,#fdfdff,#fdfdff,#fdfdff,#fdfdff,#fdfdff,#fdfdff,#fdfdff,#fdfdff,#fdfdff,#fdfdff,#fdfdff,#fdfdff,#fdfdff,#fdfdff,#fdfdff,#fdfdff,#fdfdff,#fdfdff,#fdfdff,#fdfdff,#fdfdff)"></i><i class="b" style="left:762px;width:1px;background:linear-gradient(#fdfdff,#fdfdff,#fdfdff,#fdfdff,#fdfdff,#fdfdff,#fdfdff,#fdfdff,#fdfdff,#fdfdff,#fdfdff,#fdfdff,#fdfdff,#fdfdff,#fdfdff,#fdfdff,#fdfdff,#fdfdff,#fdfdff,#fdfdff,#fdfdff,#fdfdff,#fdfdff,#fdfdff,#fdfdff,#fdfdff,#fdfdff,#fdfdff,#fdfdff,#fdfdff,#fdfdff,#fdfdff,#fdfdff,#fdfdff,#fdfdff,#fdfdff,#fdfdff,#fdfdff,#fdfdff,#fdfdff,#fdfdff,#fdfdff,#fdfdff,#fdfdff,#fdfdff,#fdfdff,#fdfdff,#fdfdff,#fdfdff,#fdfdff,#fdfdff,#fdfdff,#fdfdff,#fdfdff,#fdfdff,#fdfdff,#fdfdff,#fdfdff,#fdfdff,#fdfdff,#fdfdff)"></i><i class="b" style="left:763px;width:7px;background:linear-gradient(#fdfdff,#fdfdff,#fdfdff,#fdfdff,#fdfdff,#fdfdff,#fdfdff,#fdfdff,#fdfdff,#fdfdff,#fdfdff,#fdfdff,#fdfdff,#fdfdff,#fdfdff,#fdfdff,#fdfdff,#fdfdff,#fdfdff,#fdfdff,#fdfdff,#fdfdff,#fdfdff,#fdfdff,#fdfdff,#fdfdff,#fdfdff,#fdfdff,#fdfdff,#fdfdff,#fdfdff,#fdfdff,#fdfdff,#fdfdff,#fdfdff,#fdfdff,#fdfdff,#fdfdff,#fdfdff,#fdfdff,#fdfdff,#fdfdff,#fdfdff,#fdfdff,#fdfdff,#fdfdff,#fdfdff,#fdfdff,#fdfdff,#fdfdff,#fdfdff,#fdfdff,#fdfdff,#fdfdff,#fdfdff,#fdfdff,#fdfdff,#fdfdff,#fdfdff,#fdfdff,#fdfdff)"></i><i class="b" style="left:770px;width:7px;background:linear-gradient(#fdfdff,#fdfdff,#fdfdff,#fdfdff,#fdfdff,#fdfdff,#fdfdff,#fdfdff,#fdfdff,#fdfdff,#fdfdff,#fdfdff,#fdfdff,#fdfdff,#fdfdff,#fdfdff,#fdfdff,#fdfdff,#fdfdff,#fdfdff,#fdfdff,#fdfdff,#fdfdff,#fdfdff,#fdfdff,#fdfdff,#fdfdff,#fdfdff,#fdfdff,#fdfdff,#fdfdff,#fdfdff,#fdfdff,#fdfdff,#fdfdff,#fdfdff,#fdfdff,#fdfdff,#fdfdff,#fdfdff,#fdfdff,#fdfdff,#fdfdff,#fdfdff,#fdfdff,#fdfdff,#fdfdff,#fdfdff,#fdfdff,#fdfdff,#fdfdff,#fdfdff,#fdfdff,#fdfdff,#fdfdff,#fdfdff,#fdfdff,#fdfdff,#fdfdff,#fdfdff,#fdfdff)"></i><i class="b" style="left:777px;width:7px;background:linear-gradient(#fdfdff,#fdfdff,#fdfdff,#fdfdff,#fdfdff,#fdfdff,#fdfdff,#fdfdff,#fdfdff,#fdfdff,#fdfdff,#fdfdff,#fdfdff,#fdfdff,#fdfdff,#fdfdff,#fdfdff,#fdfdff,#fdfdff,#fdfdff,#fdfdff,#fdfdff,#fdfdff,#fdfdff,#fdfdff,#fdfdff,#fdfdff,#fdfdff,#fdfdff,#fdfdff,#fdfdff,#fdfdff,#fdfdff,#fdfdff,#fdfdff,#fdfdff,#fdfdff,#fdfdff,#fdfdff,#fdfdff,#fdfdff,#fdfdff,#fdfdff,#fdfdff,#fdfdff,#fdfdff,#fdfdff,#fdfdff,#fdfdff,#fdfdff,#fdfdff,#fdfdff,#fdfdff,#fdfdff,#fdfdff,#fdfdff,#fdfdff,#fdfdff,#fdfdff,#fdfdff,#fdfdff)"></i><i class="b" style="left:784px;width:1px;background:linear-gradient(#ffe1e1,#ffe1e1,#ffe1e1,#ffe1e1,#fdfdff,#fdfdff,#fdfdff,#fdfdff,#fdfdff,#fdfdff,#fdfdff,#fdfdff,#fdfdff,#fdfdff,#fdfdff,#fdfdff,#fdfdff,#fdfdff,#fdfdff,#fdfdff,#fdfdff,#fdfdff,#fdfdff,#fdfdff,#fdfdff,#fdfdff,#fdfdff,#fdfdff,#fdfdff,#fdfdff,#fdfdff,#fdfdff,#fdfdff,#fdfdff,#fdfdff,#fdfdff,#fdfdff,#fdfdff,#fdfdff,#fdfdff,#fdfdff,#fdfdff,#fdfdff,#fdfdff,#fdfdff,#fdfdff,#fdfdff,#fdfdff,#fdfdff,#fdfdff,#fdfdff,#fdfdff,#fdfdff,#fdfdff,#fdfdff,#fdfdff,#fdfdff,#fdfdff,#fdfdff,#fdfdff,#fdfdff)"></i><i class="b" style="left:785px;width:1px;background:linear-gradient(#ffd5d5,#ffd5d5,#ffd5d5,#ffe1e1,#f1f1ff,#f9f9ff,#fffdfd,#fff5f5,#fff1f1,#ffe9e9,#ffe5e5,#ffe9e9,#ffeded,#fff9f9,#fdfdff,#f9f9ff,#fffdfd,#ffeded,#fff1f1,#f9f9ff,#e9e9ff,#ededff,#f5f5ff,#fff5f5,#fff5f5,#fff5f5,#f9f9ff,#f9f9ff,#f9f9ff,#fdfdff,#fdfdff,#fffdfd,#f9f9ff,#f5f5ff,#f5f5ff,#f5f5ff,#f9f9ff,#f9f9ff,#f1f1ff,#ededff,#ededff,#ededff,#ededff,#e9e9ff,#e5e5ff,#e5e5ff,#e9e9ff,#ededff,#ededff,#f1f1ff,#f5f5ff,#f5f5ff,#ededff,#ededff,#ededff,#ededff,#ededff,#ededff,#f1f1ff,#f1f1ff,#f1f1ff)"></i><i class="b" style="left:786px;width:1px;background:linear-gradient(#ffe5e5,#ffe5e5,#ffeded,#f9f9ff,#e5e5ff,#f5f5ff,#fff5f5,#ffe9e9,#fdd,#ffd1d1,#ffcdcd,#ffcdcd,#ffd9d9,#fff1f1,#fdfdff,#f9f9ff,#fff9f9,#ffd9d9,#ffe1e1,#f5f5ff,#d9d9ff,#d9d9ff,#f1f1ff,#ffe9e9,#ffe9e9,#ffe9e9,#f9f9ff,#f5f5ff,#f9f9ff,#f9f9ff,#fffdfd,#fffdfd,#f9f9ff,#ededff,#e9e9ff,#e9e9ff,#f5f5ff,#f9f9ff,#e5e5ff,#e1e1ff,#e1e1ff,#ddf,#ddf,#d1d1ff,#c9c9ff,#c9c9ff,#d5d5ff,#ddf,#e1e1ff,#e5e5ff,#ededff,#e9e9ff,#ddf,#ddf,#ddf,#ddf,#ddf,#e1e1ff,#e1e1ff,#e1e1ff,#e1e1ff)"></i><i class="b" style="left:787px;width:1px;background:linear-gradient(#ffe5e5,#ffe5e5,#ffeded,#f9f9ff,#e5e5ff,#f5f5ff,#fff5f5,#ffe9e9,#fdd,#ffd1d1,#ffcdcd,#ffcdcd,#ffd9d9,#fff1f1,#fdfdff,#f9f9ff,#fff9f9,#ffd9d9,#ffe1e1,#f5f5ff,#d9d9ff,#d9d9ff,#f1f1ff,#ffe9e9,#ffe9e9,#ffe9e9,#f9f9ff,#f5f5ff,#f9f9ff,#f9f9ff,#fffdfd,#fffdfd,#f9f9ff,#ededff,#e9e9ff,#e9e9ff,#f5f5ff,#f9f9ff,#e5e5ff,#e1e1ff,#e1e1ff,#ddf,#ddf,#d1d1ff,#c9c9ff,#c9c9ff,#d5d5ff,#ddf,#e1e1ff,#e5e5ff,#ededff,#e9e9ff,#ddf,#ddf,#ddf,#ddf,#ddf,#e1e1ff,#e1e1ff,#e1e1ff,#e1e1ff)"></i><i class="b" style="left:788px;width:3px;background:linear-gradient(#ffe5e5,#ffe5e5,#ffeded,#f9f9ff,#e5e5ff,#f5f5ff,#fff5f5,#ffe9e9,#fdd,#ffd1d1,#ffcdcd,#ffcdcd,#ffd9d9,#fff1f1,#fdfdff,#f9f9ff,#fff9f9,#ffd9d9,#ffe1e1,#f5f5ff,#d9d9ff,#d9d9ff,#f1f1ff,#ffe9e9,#ffe9e9,#ffe9e9,#f9f9ff,#f5f5ff,#f9f9ff,#f9f9ff,#fffdfd,#fffdfd,#f9f9ff,#ededff,#e9e9ff,#e9e9ff,#f5f5ff,#f9f9ff,#e5e5ff,#e1e1ff,#e1e1ff,#ddf,#ddf,#d1d1ff,#c9c9ff,#c9c9ff,#d5d5ff,#ddf,#e1e1ff,#e5e5ff,#ededff,#e9e9ff,#ddf,#ddf,#ddf,#ddf,#ddf,#e1e1ff,#e1e1ff,#e1e1ff,#e1e1ff)"></i><i class="b" style="left:791px;width:7px;background:linear-gradient(#ffe9e9,#ffe9e9,#ffeded,#f9f9ff,#e5e5ff,#f5f5ff,#fff5f5,#ffe9e9,#fdd,#ffd1d1,#ffcdcd,#ffcdcd,#ffd9d9,#fff1f1,#fdfdff,#f9f9ff,#fff9f9,#ffd9d9,#ffe1e1,#f5f5ff,#d9d9ff,#d9d9ff,#f1f1ff,#ffe9e9,#ffe9e9,#ffe9e9,#f9f9ff,#f5f5ff,#f9f9ff,#f9f9ff,#fffdfd,#fffdfd,#f9f9ff,#ededff,#e9e9ff,#e9e9ff,#f1f1ff,#f9f9ff,#e5e5ff,#e1e1ff,#ddf,#ddf,#ddf,#d1d1ff,#c9c9ff,#c9c9ff,#d5d5ff,#ddf,#e1e1ff,#e5e5ff,#ededff,#e9e9ff,#ddf,#ddf,#ddf,#ddf,#ddf,#ddf,#e1e1ff,#e1e1ff,#e1e1ff)"></i><i class="b" style="left:798px;width:7px;background:linear-gradient(#ffe9e9,#ffe9e9,#fff1f1,#f9f9ff,#e5e5ff,#f5f5ff,#fff5f5,#ffe9e9,#fdd,#ffcdcd,#ffc9c9,#ffcdcd,#ffd9d9,#fff1f1,#fdfdff,#f9f9ff,#fff9f9,#ffd9d9,#ffe1e1,#f5f5ff,#d9d9ff,#d9d9ff,#f1f1ff,#ffe9e9,#ffe9e9,#ffe9e9,#f9f9ff,#f5f5ff,#f9f9ff,#f9f9ff,#fffdfd,#fffdfd,#f9f9ff,#ededff,#e9e9ff,#e9e9ff,#f1f1ff,#f9f9ff,#e5e5ff,#e1e1ff,#ddf,#ddf,#ddf,#d1d1ff,#c9c9ff,#c9c9ff,#d5d5ff,#ddf,#e1e1ff,#e5e5ff,#ededff,#e9e9ff,#ddf,#ddf,#ddf,#ddf,#ddf,#ddf,#e1e1ff,#e1e1ff,#e1e1ff)"></i><i class="b" style="left:805px;width:7px;background:linear-gradient(#ffeded,#ffeded,#fff1f1,#f9f9ff,#e5e5ff,#f5f5ff,#fff5f5,#ffe9e9,#fdd,#ffcdcd,#ffc9c9,#ffcdcd,#ffd5d5,#fff1f1,#fdfdff,#f9f9ff,#fff9f9,#ffd9d9,#ffe1e1,#f5f5ff,#d9d9ff,#d9d9ff,#f1f1ff,#ffe9e9,#ffe9e9,#ffe9e9,#f9f9ff,#f5f5ff,#f9f9ff,#f9f9ff,#fffdfd,#fffdfd,#f9f9ff,#ededff,#e9e9ff,#e9e9ff,#f1f1ff,#f9f9ff,#e5e5ff,#ddf,#ddf,#ddf,#ddf,#d1d1ff,#c9c9ff,#c9c9ff,#d5d5ff,#ddf,#e1e1ff,#e5e5ff,#ededff,#e9e9ff,#ddf,#ddf,#ddf,#ddf,#ddf,#ddf,#e1e1ff,#e1e1ff,#e1e1ff)"></i><i class="b" style="left:812px;width:7px;background:linear-gradient(#ffeded,#ffeded,#fff5f5,#f5f5ff,#e5e5ff,#f5f5ff,#fff5f5,#ffe9e9,#fdd,#ffcdcd,#ffc9c9,#ffcdcd,#ffd5d5,#fff1f1,#fdfdff,#f9f9ff,#fff9f9,#ffd9d9,#ffe1e1,#f5f5ff,#d9d9ff,#d9d9ff,#f1f1ff,#ffe9e9,#ffe9e9,#ffe9e9,#f9f9ff,#f5f5ff,#f9f9ff,#f9f9ff,#fffdfd,#fffdfd,#f9f9ff,#ededff,#e9e9ff,#e9e9ff,#f1f1ff,#f9f9ff,#e5e5ff,#ddf,#ddf,#ddf,#ddf,#d1d1ff,#c9c9ff,#c9c9ff,#d5d5ff,#ddf,#e1e1ff,#e5e5ff,#ededff,#e9e9ff,#ddf,#ddf,#ddf,#ddf,#ddf,#ddf,#e1e1ff,#e1e1ff,#e1e1ff)"></i><i class="b" style="left:819px;width:7px;background:linear-gradient(#fff1f1,#fff1f1,#fff5f5,#f5f5ff,#e5e5ff,#f5f5ff,#fff5f5,#ffe9e9,#fdd,#ffcdcd,#ffc9c9,#ffc9c9,#ffd5d5,#fff1f1,#fdfdff,#f9f9ff,#fff9f9,#ffd9d9,#ffe1e1,#f5f5ff,#d9d9ff,#d9d9ff,#f1f1ff,#ffe9e9,#ffe9e9,#ffe9e9,#f9f9ff,#f5f5ff,#f9f9ff,#f9f9ff,#fffdfd,#fffdfd,#f9f9ff,#ededff,#e9e9ff,#e9e9ff,#f1f1ff,#f5f5ff,#e5e5ff,#ddf,#ddf,#ddf,#ddf,#d1d1ff,#c9c9ff,#c9c9ff,#d5d5ff,#ddf,#e1e1ff,#e5e5ff,#ededff,#e9e9ff,#ddf,#ddf,#ddf,#ddf,#ddf,#ddf,#e1e1ff,#e1e1ff,#e1e1ff)"></i><i class="b" style="left:826px;width:7px;background:linear-gradient(#fff1f1,#fff1f1,#fff5f5,#f5f5ff,#e5e5ff,#f5f5ff,#fff5f5,#ffe9e9,#ffd9d9,#ffcdcd,#ffc9c9,#ffc9c9,#ffd5d5,#fff1f1,#fdfdff,#f9f9ff,#fff9f9,#ffd9d9,#ffe1e1,#f5f5ff,#d9d9ff,#d9d9ff,#f1f1ff,#ffe9e9,#ffe9e9,#ffe9e9,#f9f9ff,#f5f5ff,#f9f9ff,#f9f9ff,#fffdfd,#fffdfd,#f9f9ff,#ededff,#e9e9ff,#e9e9ff,#f1f1ff,#f5f5ff,#e5e5ff,#ddf,#ddf,#ddf,#ddf,#d1d1ff,#c9c9ff,#c9c9ff,#d5d5ff,#ddf,#e1e1ff,#e5e5ff,#ededff,#e9e9ff,#ddf,#ddf,#ddf,#ddf,#ddf,#ddf,#e1e1ff,#e1e1ff,#e1e1ff)"></i><i class="b" style="left:833px;width:7px;background:linear-gradient(#fff1f1,#fff1f1,#fff5f5,#f5f5ff,#e5e5ff,#f9f9ff,#fff5f5,#ffe9e9,#ffd9d9,#ffc9c9,#ffc5c5,#ffc9c9,#ffd5d5,#fff1f1,#fdfdff,#f9f9ff,#fff9f9,#ffd5d5,#ffe1e1,#f5f5ff,#d9d9ff,#d9d9ff,#f1f1ff,#ffe9e9,#ffe9e9,#ffe9e9,#f9f9ff,#f5f5ff,#f5f5ff,#f9f9ff,#fffdfd,#fffdfd,#f9f9ff,#ededff,#e9e9ff,#e9e9ff,#f1f1ff,#f5f5ff,#e5e5ff,#ddf,#ddf,#ddf,#ddf,#d1d1ff,#c9c9ff,#c9c9ff,#d5d5ff,#ddf,#e1e1ff,#e5e5ff,#ededff,#e9e9ff,#ddf,#ddf,#ddf,#ddf,#ddf,#ddf,#e1e1ff,#e1e1ff,#e1e1ff)"></i><i class="b" style="left:840px;width:7px;background:linear-gradient(#fff1f1,#fff1f1,#fff5f5,#f5f5ff,#e5e5ff,#f9f9ff,#fff5f5,#ffe9e9,#ffd9d9,#ffc9c9,#ffc5c5,#ffc9c9,#ffd5d5,#ffeded,#fdfdff,#f9f9ff,#fff9f9,#ffd5d5,#ffe1e1,#f5f5ff,#d5d5ff,#d9d9ff,#f1f1ff,#ffe9e9,#ffe9e9,#ffe9e9,#f9f9ff,#f5f5ff,#f5f5ff,#f9f9ff,#fffdfd,#fffdfd,#f9f9ff,#ededff,#e9e9ff,#e9e9ff,#f1f1ff,#f5f5ff,#e5e5ff,#ddf,#ddf,#ddf,#ddf,#d1d1ff,#c9c9ff,#c9c9ff,#d5d5ff,#ddf,#e1e1ff,#e5e5ff,#ededff,#e9e9ff,#ddf,#ddf,#ddf,#ddf,#ddf,#ddf,#e1e1ff,#e1e1ff,#e1e1ff)"></i><i class="b" style="left:847px;width:7px;background:linear-gradient(#fff1f1,#fff1f1,#fff5f5,#f5f5ff,#e5e5ff,#f9f9ff,#fff5f5,#ffe9e9,#ffd9d9,#ffc9c9,#ffc5c5,#ffc9c9,#ffd1d1,#ffeded,#fdfdff,#f9f9ff,#fff9f9,#ffd5d5,#ffe1e1,#f5f5ff,#d5d5ff,#d9d9ff,#f1f1ff,#ffe9e9,#ffe9e9,#ffe9e9,#f9f9ff,#f5f5ff,#f5f5ff,#f9f9ff,#fffdfd,#fffdfd,#f9f9ff,#ededff,#e9e9ff,#e9e9ff,#f1f1ff,#f5f5ff,#e1e1ff,#ddf,#ddf,#ddf,#ddf,#d1d1ff,#c9c9ff,#c9c9ff,#d1d1ff,#ddf,#e1e1ff,#e5e5ff,#ededff,#e9e9ff,#ddf,#ddf,#ddf,#ddf,#ddf,#ddf,#e1e1ff,#e1e1ff,#e1e1ff)"></i><i class="b" style="left:854px;width:7px;background:linear-gradient(#fff1f1,#fff1f1,#fff5f5,#f5f5ff,#e5e5ff,#f9f9ff,#fff5f5,#ffe9e9,#ffd9d9,#ffc9c9,#ffc5c5,#ffc5c5,#ffd1d1,#ffeded,#fdfdff,#f9f9ff,#fff9f9,#ffd5d5,#ffe1e1,#f5f5ff,#d5d5ff,#d9d9ff,#f1f1ff,#ffe9e9,#ffe9e9,#ffe9e9,#f9f9ff,#f5f5ff,#f5f5ff,#f9f9ff,#fffdfd,#fffdfd,#f9f9ff,#ededff,#e9e9ff,#e9e9ff,#f1f1ff,#f5f5ff,#e1e1ff,#ddf,#ddf,#ddf,#ddf,#d1d1ff,#c9c9ff,#c9c9ff,#d1d1ff,#ddf,#e1e1ff,#e5e5ff,#ededff,#e9e9ff,#d9d9ff,#d9d9ff,#d9d9ff,#d9d9ff,#d9d9ff,#ddf,#e1e1ff,#e1e1ff,#e1e1ff)"></i><i class="b" style="left:861px;width:7px;background:linear-gradient(#fff1f1,#fff1f1,#fff5f5,#f5f5ff,#e5e5ff,#f9f9ff,#fff5f5,#ffe9e9,#ffd9d9,#ffc9c9,#ffc5c5,#ffc5c5,#ffd1d1,#ffeded,#fdfdff,#f9f9ff,#fff9f9,#ffd5d5,#ffe1e1,#f5f5ff,#d5d5ff,#d9d9ff,#f1f1ff,#ffe9e9,#ffe9e9,#ffe9e9,#f9f9ff,#f5f5ff,#f5f5ff,#f9f9ff,#fffdfd,#fffdfd,#f9f9ff,#ededff,#e9e9ff,#e9e9ff,#f1f1ff,#f5f5ff,#e1e1ff,#ddf,#ddf,#ddf,#d9d9ff,#d1d1ff,#c9c9ff,#c9c9ff,#d1d1ff,#ddf,#ddf,#e5e5ff,#e9e9ff,#e9e9ff,#d9d9ff,#d9d9ff,#d9d9ff,#d9d9ff,#d9d9ff,#ddf,#e1e1ff,#e1e1ff,#e1e1ff)"></i><i class="b" style="left:868px;width:7px;background:linear-gradient(#fff1f1,#fff1f1,#fff5f5,#f5f5ff,#e5e5ff,#f9f9ff,#fff5f5,#ffe5e5,#ffd9d9,#ffc5c5,#ffc1c1,#ffc5c5,#ffd1d1,#ffeded,#fdfdff,#f9f9ff,#fff9f9,#ffd5d5,#ffe1e1,#f5f5ff,#d5d5ff,#d9d9ff,#f1f1ff,#ffe9e9,#ffe5e5,#ffe9e9,#f9f9ff,#f5f5ff,#f5f5ff,#f9f9ff,#fffdfd,#fffdfd,#f9f9ff,#ededff,#e9e9ff,#e9e9ff,#f1f1ff,#f5f5ff,#e1e1ff,#ddf,#ddf,#ddf,#d9d9ff,#d1d1ff,#c9c9ff,#c9c9ff,#d1d1ff,#ddf,#ddf,#e5e5ff,#e9e9ff,#e9e9ff,#d9d9ff,#d9d9ff,#d9d9ff,#d9d9ff,#d9d9ff,#ddf,#e1e1ff,#e1e1ff,#e1e1ff)"></i><i class="b" style="left:875px;width:7px;background:linear-gradient(#fff1f1,#fff1f1,#fff5f5,#f5f5ff,#e5e5ff,#f9f9ff,#fff5f5,#ffe5e5,#ffd9d9,#ffc5c5,#ffc1c1,#ffc5c5,#ffd1d1,#ffeded,#fdfdff,#f9f9ff,#fff9f9,#ffd5d5,#ffe1e1,#f5f5ff,#d5d5ff,#d9d9ff,#f1f1ff,#ffe5e5,#ffe5e5,#ffe9e9,#f9f9ff,#f5f5ff,#f5f5ff,#f9f9ff,#fffdfd,#fffdfd,#f9f9ff,#ededff,#e9e9ff,#e9e9ff,#f1f1ff,#f5f5ff,#e1e1ff,#ddf,#ddf,#d9d9ff,#d9d9ff,#d1d1ff,#c9c9ff,#c9c9ff,#d1d1ff,#ddf,#ddf,#e5e5ff,#e9e9ff,#e9e9ff,#d9d9ff,#d9d9ff,#d9d9ff,#d9d9ff,#d9d9ff,#ddf,#e1e1ff,#e1e1ff,#e1e1ff)"></i><i class="b" style="left:882px;width:7px;background:linear-gradient(#fff1f1,#fff1f1,#fff5f5,#f5f5ff,#e5e5ff,#f9f9ff,#fff5f5,#ffe5e5,#ffd9d9,#ffc5c5,#ffc1c1,#ffc5c5,#ffd1d1,#ffeded,#fdfdff,#f9f9ff,#fff9f9,#ffd5d5,#ffe1e1,#f5f5ff,#d5d5ff,#d9d9ff,#f1f1ff,#ffe5e5,#ffe5e5,#ffe9e9,#f9f9ff,#f5f5ff,#f5f5ff,#f9f9ff,#fffdfd,#fffdfd,#f9f9ff,#ededff,#e9e9ff,#e9e9ff,#f1f1ff,#f5f5ff,#e1e1ff,#ddf,#ddf,#d9d9ff,#d9d9ff,#d1d1ff,#c9c9ff,#c9c9ff,#d1d1ff,#d9d9ff,#ddf,#e5e5ff,#e9e9ff,#e9e9ff,#d9d9ff,#d9d9ff,#d9d9ff,#d9d9ff,#d9d9ff,#ddf,#e1e1ff,#e1e1ff,#e1e1ff)"></i><i class="b" style="left:889px;width:7px;background:linear-gradient(#fff1f1,#fff1f1,#fff5f5,#f5f5ff,#e5e5ff,#f9f9ff,#fff5f5,#ffe5e5,#ffd5d5,#ffc5c5,#ffc1c1,#ffc5c5,#ffd1d1,#ffeded,#fdfdff,#f9f9ff,#fff9f9,#ffd5d5,#ffe1e1,#f5f5ff,#d5d5ff,#d9d9ff,#f1f1ff,#ffe5e5,#ffe5e5,#ffe9e9,#f9f9ff,#f5f5ff,#f5f5ff,#f9f9ff,#fffdfd,#fffdfd,#f9f9ff,#ededff,#e9e9ff,#e9e9ff,#f1f1ff,#f5f5ff,#e1e1ff,#ddf,#ddf,#d9d9ff,#d9d9ff,#d1d1ff,#c9c9ff,#c9c9ff,#d1d1ff,#d9d9ff,#ddf,#e5e5ff,#e9e9ff,#e9e9ff,#d9d9ff,#d9d9ff,#d9d9ff,#d9d9ff,#d9d9ff,#ddf,#e1e1ff,#e1e1ff,#e1e1ff)"></i><i class="b" style="left:896px;width:7px;background:linear-gradient(#fff1f1,#fff1f1,#fff5f5,#f5f5ff,#e5e5ff,#f9f9ff,#fff5f5,#ffe5e5,#ffd5d5,#ffc5c5,#ffc1c1,#ffc5c5,#ffd1d1,#ffeded,#fdfdff,#f9f9ff,#fff9f9,#ffd5d5,#ffe1e1,#f5f5ff,#d5d5ff,#d9d9ff,#f1f1ff,#ffe5e5,#ffe5e5,#ffe9e9,#f9f9ff,#f5f5ff,#f5f5ff,#f9f9ff,#fffdfd,#fffdfd,#f9f9ff,#ededff,#e9e9ff,#e9e9ff,#f1f1ff,#f5f5ff,#e1e1ff,#ddf,#d9d9ff,#d9d9ff,#d9d9ff,#d1d1ff,#c9c9ff,#c9c9ff,#d1d1ff,#d9d9ff,#ddf,#e5e5ff,#e9e9ff,#e9e9ff,#d9d9ff,#d9d9ff,#d9d9ff,#d9d9ff,#d9d9ff,#ddf,#e1e1ff,#e1e1ff,#ddf)"></i><i class="b" style="left:903px;width:7px;background:linear-gradient(#fff1f1,#fff1f1,#fff5f5,#f5f5ff,#e5e5ff,#f9f9ff,#fff5f5,#ffe5e5,#ffd5d5,#ffc5c5,#ffc1c1,#ffc5c5,#ffd1d1,#ffeded,#fdfdff,#f9f9ff,#fff9f9,#ffd5d5,#ffe1e1,#f5f5ff,#d5d5ff,#d9d9ff,#f1f1ff,#ffe5e5,#ffe5e5,#ffe9e9,#f9f9ff,#f5f5ff,#f5f5ff,#f9f9ff,#fffdfd,#fffdfd,#f9f9ff,#ededff,#e9e9ff,#e9e9ff,#f1f1ff,#f5f5ff,#e1e1ff,#ddf,#d9d9ff,#d9d9ff,#d9d9ff,#d1d1ff,#c9c9ff,#c9c9ff,#d1d1ff,#d9d9ff,#ddf,#e5e5ff,#e9e9ff,#e9e9ff,#d9d9ff,#d9d9ff,#d9d9ff,#d9d9ff,#d9d9ff,#d9d9ff,#ddf,#ddf,#ddf)"></i><i class="b" style="left:910px;width:7px;background:linear-gradient(#fff1f1,#fff1f1,#fff5f5,#f5f5ff,#e5e5ff,#f9f9ff,#fff5f5,#ffe5e5,#ffd5d5,#ffc5c5,#ffc1c1,#ffc5c5,#ffd1d1,#ffeded,#fdfdff,#f9f9ff,#fff9f9,#ffd5d5,#ffe1e1,#f5f5ff,#d5d5ff,#d9d9ff,#f1f1ff,#ffe5e5,#ffe5e5,#ffe9e9,#f9f9ff,#f5f5ff,#f5f5ff,#f9f9ff,#fffdfd,#fffdfd,#f9f9ff,#e9e9ff,#e9e9ff,#e9e9ff,#f1f1ff,#f5f5ff,#e1e1ff,#ddf,#d9d9ff,#d9d9ff,#d9d9ff,#d1d1ff,#c9c9ff,#c9c9ff,#d1d1ff,#d9d9ff,#ddf,#e5e5ff,#e9e9ff,#e9e9ff,#d9d9ff,#d9d9ff,#d9d9ff,#d9d9ff,#d9d9ff,#d9d9ff,#ddf,#ddf,#ddf)"></i><i class="b" style="left:917px;width:7px;background:linear-gradient(#fff1f1,#fff1f1,#fff5f5,#f5f5ff,#e5e5ff,#f9f9ff,#fff5f5,#ffe5e5,#ffd5d5,#ffc5c5,#ffc1c1,#ffc5c5,#ffd1d1,#ffeded,#fdfdff,#f9f9ff,#fff9f9,#ffd5d5,#ffe1e1,#f5f5ff,#d5d5ff,#d9d9ff,#f1f1ff,#ffe5e5,#ffe5e5,#ffe9e9,#f9f9ff,#f5f5ff,#f5f5ff,#f9f9ff,#fffdfd,#fffdfd,#f9f9ff,#e9e9ff,#e9e9ff,#e9e9ff,#f1f1ff,#f5f5ff,#e1e1ff,#d9d9ff,#d9d9ff,#d9d9ff,#d9d9ff,#d1d1ff,#c5c5ff,#c9c9ff,#d1d1ff,#d9d9ff,#ddf,#e5e5ff,#e9e9ff,#e9e9ff,#d9d9ff,#d9d9ff,#d9d9ff,#d9d9ff,#d9d9ff,#d9d9ff,#ddf,#ddf,#ddf)"></i><i class="b" style="left:924px;width:7px;background:linear-gradient(#fff1f1,#fff1f1,#fff5f5,#f5f5ff,#e5e5ff,#f9f9ff,#fff5f5,#ffe5e5,#ffd5d5,#ffc5c5,#ffc1c1,#ffc5c5,#ffd1d1,#ffeded,#fdfdff,#f9f9ff,#fff9f9,#ffd5d5,#ffe1e1,#f5f5ff,#d5d5ff,#d9d9ff,#f1f1ff,#ffe5e5,#ffe5e5,#ffe9e9,#f9f9ff,#f5f5ff,#f5f5ff,#f9f9ff,#fffdfd,#fffdfd,#f9f9ff,#e9e9ff,#e9e9ff,#e9e9ff,#f1f1ff,#f5f5ff,#e1e1ff,#d9d9ff,#d9d9ff,#d9d9ff,#d9d9ff,#d1d1ff,#c5c5ff,#c9c9ff,#d1d1ff,#d9d9ff,#ddf,#e1e1ff,#e9e9ff,#e9e9ff,#d9d9ff,#d9d9ff,#d9d9ff,#d9d9ff,#d9d9ff,#d9d9ff,#ddf,#ddf,#ddf)"></i><i class="b" style="left:931px;width:7px;background:linear-gradient(#fff1f1,#fff1f1,#fff5f5,#f5f5ff,#e5e5ff,#f9f9ff,#fff5f5,#ffe5e5,#ffd5d5,#ffc5c5,#ffc1c1,#ffc1c1,#ffd1d1,#ffeded,#fdfdff,#f9f9ff,#fff9f9,#ffd5d5,#ffe1e1,#f5f5ff,#d5d5ff,#d9d9ff,#f1f1ff,#ffe5e5,#ffe5e5,#ffe5e5,#f9f9ff,#f5f5ff,#f5f5ff,#f9f9ff,#fffdfd,#fffdfd,#f9f9ff,#e9e9ff,#e5e5ff,#e5e5ff,#f1f1ff,#f5f5ff,#e1e1ff,#d9d9ff,#d9d9ff,#d9d9ff,#d9d9ff,#d1d1ff,#c5c5ff,#c9c9ff,#d1d1ff,#d9d9ff,#ddf,#e1e1ff,#e9e9ff,#e5e5ff,#d9d9ff,#d9d9ff,#d9d9ff,#d9d9ff,#d9d9ff,#d9d9ff,#ddf,#ddf,#ddf)"></i><i class="b" style="left:938px;width:7px;background:linear-gradient(#fff1f1,#fff1f1,#fff5f5,#f5f5ff,#e5e5ff,#f9f9ff,#fff5f5,#ffe5e5,#ffd5d5,#ffc5c5,#ffc1c1,#ffc1c1,#ffd1d1,#ffeded,#fdfdff,#f9f9ff,#fff9f9,#ffd5d5,#ffe1e1,#f5f5ff,#d5d5ff,#d9d9ff,#f1f1ff,#ffe5e5,#ffe5e5,#ffe5e5,#f9f9ff,#f5f5ff,#f5f5ff,#f9f9ff,#fffdfd,#fffdfd,#f9f9ff,#e9e9ff,#e5e5ff,#e5e5ff,#f1f1ff,#f5f5ff,#e1e1ff,#d9d9ff,#d9d9ff,#d9d9ff,#d9d9ff,#d1d1ff,#c5c5ff,#c9c9ff,#d1d1ff,#d9d9ff,#ddf,#e1e1ff,#e9e9ff,#e5e5ff,#d9d9ff,#d9d9ff,#d9d9ff,#d9d9ff,#d9d9ff,#d9d9ff,#ddf,#ddf,#ddf)"></i><i class="b" style="left:945px;width:7px;background:linear-gradient(#fff1f1,#fff1f1,#fff5f5,#f5f5ff,#e5e5ff,#f9f9ff,#fff5f5,#ffe5e5,#ffd5d5,#ffc5c5,#ffc1c1,#ffc1c1,#ffcdcd,#ffeded,#fdfdff,#f9f9ff,#fff9f9,#ffd5d5,#ffe1e1,#f5f5ff,#d5d5ff,#d9d9ff,#f1f1ff,#ffe5e5,#ffe5e5,#ffe5e5,#f9f9ff,#f5f5ff,#f5f5ff,#f9f9ff,#fffdfd,#fffdfd,#f9f9ff,#e9e9ff,#e5e5ff,#e5e5ff,#f1f1ff,#f5f5ff,#e1e1ff,#d9d9ff,#d9d9ff,#d9d9ff,#d9d9ff,#cdcdff,#c5c5ff,#c9c9ff,#d1d1ff,#d9d9ff,#ddf,#e1e1ff,#e9e9ff,#e5e5ff,#d9d9ff,#d9d9ff,#d9d9ff,#d9d9ff,#d9d9ff,#d9d9ff,#ddf,#ddf,#ddf)"></i><i class="b" style="left:952px;width:7px;background:linear-gradient(#fff1f1,#fff1f1,#fff5f5,#f5f5ff,#e5e5ff,#f9f9ff,#fff5f5,#ffe5e5,#ffd5d5,#ffc5c5,#ffc1c1,#ffc1c1,#ffcdcd,#ffeded,#fdfdff,#f9f9ff,#fff9f9,#ffd5d5,#ffe1e1,#f5f5ff,#d5d5ff,#d9d9ff,#f1f1ff,#ffe5e5,#ffe5e5,#ffe5e5,#f9f9ff,#f5f5ff,#f5f5ff,#f9f9ff,#fffdfd,#fffdfd,#f9f9ff,#e9e9ff,#e5e5ff,#e5e5ff,#f1f1ff,#f5f5ff,#e1e1ff,#d9d9ff,#d9d9ff,#d9d9ff,#d9d9ff,#cdcdff,#c5c5ff,#c9c9ff,#d1d1ff,#d9d9ff,#ddf,#e1e1ff,#e9e9ff,#e5e5ff,#d9d9ff,#d9d9ff,#d9d9ff,#d9d9ff,#d9d9ff,#d9d9ff,#ddf,#ddf,#ddf)"></i><i class="b" style="left:959px;width:7px;background:linear-gradient(#fff1f1,#fff1f1,#fff5f5,#f5f5ff,#e5e5ff,#f9f9ff,#fff5f5,#ffe5e5,#ffd5d5,#ffc5c5,#ffbdbd,#ffc1c1,#ffcdcd,#ffeded,#fdfdff,#f9f9ff,#fff9f9,#ffd5d5,#ffe1e1,#f5f5ff,#d5d5ff,#d9d9ff,#f1f1ff,#ffe5e5,#ffe5e5,#ffe5e5,#f9f9ff,#f5f5ff,#f5f5ff,#f9f9ff,#fffdfd,#fffdfd,#f9f9ff,#e9e9ff,#e5e5ff,#e5e5ff,#f1f1ff,#f5f5ff,#e1e1ff,#d9d9ff,#d9d9ff,#d9d9ff,#d9d9ff,#cdcdff,#c5c5ff,#c5c5ff,#d1d1ff,#d9d9ff,#ddf,#e1e1ff,#e9e9ff,#e5e5ff,#d5d5ff,#d5d5ff,#d5d5ff,#d5d5ff,#d5d5ff,#d9d9ff,#ddf,#ddf,#ddf)"></i><i class="b" style="left:966px;width:7px;background:linear-gradient(#fff1f1,#fff1f1,#fff5f5,#f5f5ff,#e5e5ff,#f9f9ff,#fff5f5,#ffe5e5,#ffd5d5,#ffc1c1,#ffbdbd,#ffc1c1,#ffcdcd,#ffeded,#fdfdff,#f9f9ff,#fff9f9,#ffd5d5,#ffe1e1,#f5f5ff,#d5d5ff,#d9d9ff,#f1f1ff,#ffe5e5,#ffe5e5,#ffe5e5,#f9f9ff,#f5f5ff,#f5f5ff,#f9f9ff,#fffdfd,#fffdfd,#f9f9ff,#e9e9ff,#e5e5ff,#e5e5ff,#f1f1ff,#f5f5ff,#e1e1ff,#d9d9ff,#d9d9ff,#d9d9ff,#d5d5ff,#cdcdff,#c5c5ff,#c5c5ff,#d1d1ff,#d9d9ff,#ddf,#e1e1ff,#e9e9ff,#e5e5ff,#d5d5ff,#d5d5ff,#d5d5ff,#d5d5ff,#d5d5ff,#d9d9ff,#ddf,#ddf,#ddf)"></i><i class="b" style="left:973px;width:7px;background:linear-gradient(#fff1f1,#fff1f1,#fff5f5,#f5f5ff,#e5e5ff,#f9f9ff,#fff5f5,#ffe5e5,#ffd5d5,#ffc1c1,#ffbdbd,#ffc1c1,#ffcdcd,#ffeded,#fdfdff,#f9f9ff,#fff9f9,#ffd5d5,#ffe1e1,#f5f5ff,#d5d5ff,#d9d9ff,#f1f1ff,#ffe5e5,#ffe5e5,#ffe5e5,#f9f9ff,#f5f5ff,#f5f5ff,#f9f9ff,#fffdfd,#fffdfd,#f9f9ff,#e9e9ff,#e5e5ff,#e5e5ff,#f1f1ff,#f5f5ff,#e1e1ff,#d9d9ff,#d9d9ff,#d9d9ff,#d5d5ff,#cdcdff,#c5c5ff,#c5c5ff,#d1d1ff,#d9d9ff,#d9d9ff,#e1e1ff,#e9e9ff,#e5e5ff,#d5d5ff,#d5d5ff,#d5d5ff,#d5d5ff,#d5d5ff,#d9d9ff,#ddf,#ddf,#ddf)"></i><i class="b" style="left:980px;width:7px;background:linear-gradient(#fff1f1,#fff1f1,#fff5f5,#f5f5ff,#e5e5ff,#f9f9ff,#fff5f5,#ffe5e5,#ffd5d5,#ffc1c1,#ffbdbd,#ffc1c1,#ffcdcd,#ffeded,#fdfdff,#f9f9ff,#fff9f9,#ffd5d5,#ffe1e1,#f5f5ff,#d5d5ff,#d9d9ff,#f1f1ff,#ffe5e5,#ffe5e5,#ffe5e5,#f9f9ff,#f5f5ff,#f5f5ff,#f9f9ff,#fffdfd,#fffdfd,#f9f9ff,#e9e9ff,#e5e5ff,#e5e5ff,#f1f1ff,#f5f5ff,#ddf,#d9d9ff,#d9d9ff,#d9d9ff,#d5d5ff,#cdcdff,#c5c5ff,#c5c5ff,#d1d1ff,#d9d9ff,#d9d9ff,#e1e1ff,#e9e9ff,#e5e5ff,#d5d5ff,#d5d5ff,#d5d5ff,#d5d5ff,#d5d5ff,#d9d9ff,#ddf,#ddf,#ddf)"></i><i class="b" style="left:987px;width:7px;background:linear-gradient(#fff1f1,#fff1f1,#fff5f5,#f5f5ff,#e5e5ff,#f9f9ff,#fff5f5,#ffe5e5,#ffd5d5,#ffc1c1,#ffbdbd,#ffc1c1,#ffcdcd,#ffeded,#fdfdff,#f9f9ff,#fff9f9,#ffd5d5,#ffe1e1,#f5f5ff,#d5d5ff,#d9d9ff,#f1f1ff,#ffe5e5,#ffe5e5,#ffe5e5,#f9f9ff,#f5f5ff,#f5f5ff,#f9f9ff,#fffdfd,#fffdfd,#f9f9ff,#e9e9ff,#e5e5ff,#e5e5ff,#f1f1ff,#f5f5ff,#ddf,#d9d9ff,#d9d9ff,#d5d5ff,#d5d5ff,#cdcdff,#c5c5ff,#c5c5ff,#d1d1ff,#d9d9ff,#d9d9ff,#e1e1ff,#e9e9ff,#e5e5ff,#d5d5ff,#d5d5ff,#d5d5ff,#d5d5ff,#d5d5ff,#d9d9ff,#ddf,#ddf,#ddf)"></i><i class="b" style="left:994px;width:7px;background:linear-gradient(#fff1f1,#fff1f1,#fff5f5,#f5f5ff,#e5e5ff,#f9f9ff,#fff5f5,#ffe5e5,#ffd5d5,#ffc1c1,#ffbdbd,#ffc1c1,#ffcdcd,#ffeded,#fdfdff,#f9f9ff,#fff9f9,#ffd5d5,#fdd,#f5f5ff,#d5d5ff,#d9d9ff,#f1f1ff,#ffe5e5,#ffe5e5,#ffe5e5,#f9f9ff,#f5f5ff,#f5f5ff,#f9f9ff,#fffdfd,#fffdfd,#f9f9ff,#e9e9ff,#e5e5ff,#e5e5ff,#f1f1ff,#f5f5ff,#ddf,#d9d9ff,#d9d9ff,#d5d5ff,#d5d5ff,#cdcdff,#c5c5ff,#c5c5ff,#d1d1ff,#d5d5ff,#d9d9ff,#e1e1ff,#e9e9ff,#e5e5ff,#d5d5ff,#d5d5ff,#d5d5ff,#d5d5ff,#d5d5ff,#d9d9ff,#ddf,#ddf,#ddf)"></i><i class="b" style="left:1001px;width:7px;background:linear-gradient(#fff1f1,#fff1f1,#fff5f5,#f5f5ff,#e5e5ff,#f9f9ff,#fff5f5,#ffe5e5,#ffd5d5,#ffc1c1,#ffbdbd,#ffc1c1,#ffcdcd,#ffeded,#fdfdff,#f9f9ff,#fff9f9,#ffd5d5,#fdd,#f5f5ff,#d5d5ff,#d5d5ff,#f1f1ff,#ffe5e5,#ffe5e5,#ffe5e5,#f9f9ff,#f5f5ff,#f5f5ff,#f9f9ff,#fffdfd,#fffdfd,#f9f9ff,#e9e9ff,#e5e5ff,#e5e5ff,#f1f1ff,#f5f5ff,#ddf,#d9d9ff,#d5d5ff,#d5d5ff,#d5d5ff,#cdcdff,#c5c5ff,#c5c5ff,#cdcdff,#d5d5ff,#d9d9ff,#e1e1ff,#e9e9ff,#e5e5ff,#d5d5ff,#d5d5ff,#d5d5ff,#d5d5ff,#d5d5ff,#d5d5ff,#ddf,#ddf,#ddf)"></i><i class="b" style="left:1008px;width:7px;background:linear-gradient(#fff1f1,#fff1f1,#fff5f5,#f5f5ff,#e5e5ff,#f9f9ff,#fff5f5,#ffe5e5,#ffd5d5,#ffc1c1,#ffbdbd,#ffc1c1,#ffcdcd,#ffeded,#fdfdff,#f9f9ff,#fff9f9,#ffd5d5,#fdd,#f5f5ff,#d5d5ff,#d5d5ff,#f1f1ff,#ffe5e5,#ffe5e5,#ffe5e5,#f9f9ff,#f5f5ff,#f5f5ff,#f9f9ff,#fffdfd,#fffdfd,#f9f9ff,#e9e9ff,#e5e5ff,#e5e5ff,#f1f1ff,#f5f5ff,#ddf,#d5d5ff,#d5d5ff,#d5d5ff,#d5d5ff,#cdcdff,#c5c5ff,#c5c5ff,#cdcdff,#d5d5ff,#d9d9ff,#e1e1ff,#e9e9ff,#e5e5ff,#d5d5ff,#d5d5ff,#d5d5ff,#d5d5ff,#d5d5ff,#d5d5ff,#d9d9ff,#d9d9ff,#d9d9ff)"></i><i class="b" style="left:1015px;width:7px;background:linear-gradient(#fff1f1,#fff1f1,#fff5f5,#f5f5ff,#e5e5ff,#f9f9ff,#fff5f5,#ffe5e5,#ffd5d5,#ffc1c1,#ffbdbd,#ffc1c1,#ffcdcd,#ffeded,#fdfdff,#f9f9ff,#fff9f9,#ffd5d5,#fdd,#f5f5ff,#d1d1ff,#d5d5ff,#ededff,#ffe5e5,#ffe1e1,#ffe5e5,#f9f9ff,#f5f5ff,#f5f5ff,#f9f9ff,#fffdfd,#fffdfd,#f9f9ff,#e9e9ff,#e5e5ff,#e5e5ff,#f1f1ff,#f5f5ff,#ddf,#d5d5ff,#d5d5ff,#d5d5ff,#d5d5ff,#cdcdff,#c1c1ff,#c5c5ff,#cdcdff,#d5d5ff,#d9d9ff,#e1e1ff,#e9e9ff,#e5e5ff,#d5d5ff,#d5d5ff,#d5d5ff,#d5d5ff,#d5d5ff,#d5d5ff,#d9d9ff,#d9d9ff,#d9d9ff)"></i><i class="b" style="left:1022px;width:7px;background:linear-gradient(#fff1f1,#fff1f1,#fff5f5,#f5f5ff,#e5e5ff,#f9f9ff,#fff5f5,#ffe5e5,#ffd5d5,#ffc1c1,#ffbdbd,#ffc1c1,#ffcdcd,#ffeded,#fdfdff,#f9f9ff,#fff9f9,#ffd1d1,#fdd,#f5f5ff,#d1d1ff,#d5d5ff,#ededff,#ffe1e1,#ffe1e1,#ffe5e5,#f9f9ff,#f5f5ff,#f5f5ff,#f9f9ff,#fffdfd,#fffdfd,#f9f9ff,#e9e9ff,#e5e5ff,#e5e5ff,#f1f1ff,#f5f5ff,#ddf,#d5d5ff,#d5d5ff,#d5d5ff,#d5d5ff,#c9c9ff,#c1c1ff,#c1c1ff,#cdcdff,#d5d5ff,#d9d9ff,#e1e1ff,#e5e5ff,#e5e5ff,#d5d5ff,#d5d5ff,#d5d5ff,#d5d5ff,#d5d5ff,#d5d5ff,#d9d9ff,#d9d9ff,#d9d9ff)"></i><i class="b" style="left:1029px;width:7px;background:linear-gradient(#fff1f1,#fff1f1,#fff5f5,#f5f5ff,#e5e5ff,#f9f9ff,#fff5f5,#ffe5e5,#ffd5d5,#ffc1c1,#ffbdbd,#ffc1c1,#ffcdcd,#ffeded,#fdfdff,#f9f9ff,#fff9f9,#ffd1d1,#fdd,#f5f5ff,#d1d1ff,#d5d5ff,#ededff,#ffe1e1,#ffe1e1,#ffe5e5,#f9f9ff,#f5f5ff,#f5f5ff,#f9f9ff,#fffdfd,#fffdfd,#f9f9ff,#e9e9ff,#e5e5ff,#e5e5ff,#f1f1ff,#f5f5ff,#ddf,#d5d5ff,#d5d5ff,#d5d5ff,#d1d1ff,#c9c9ff,#c1c1ff,#c1c1ff,#cdcdff,#d5d5ff,#d9d9ff,#ddf,#e5e5ff,#e5e5ff,#d1d1ff,#d1d1ff,#d1d1ff,#d1d1ff,#d1d1ff,#d5d5ff,#d9d9ff,#d9d9ff,#d9d9ff)"></i><i class="b" style="left:1036px;width:7px;background:linear-gradient(#fff1f1,#fff1f1,#fff5f5,#f5f5ff,#e5e5ff,#f9f9ff,#fff5f5,#ffe5e5,#ffd5d5,#ffc1c1,#ffbdbd,#ffc1c1,#ffcdcd,#ffeded,#fdfdff,#f9f9ff,#fff9f9,#ffd1d1,#fdd,#f5f5ff,#d1d1ff,#d5d5ff,#ededff,#ffe1e1,#ffe1e1,#ffe5e5,#f9f9ff,#f5f5ff,#f5f5ff,#f9f9ff,#fffdfd,#fffdfd,#f9f9ff,#e9e9ff,#e5e5ff,#e5e5ff,#ededff,#f5f5ff,#ddf,#d5d5ff,#d5d5ff,#d1d1ff,#d1d1ff,#c9c9ff,#c1c1ff,#c1c1ff,#c9c9ff,#d5d5ff,#d5d5ff,#ddf,#e5e5ff,#e5e5ff,#d1d1ff,#d1d1ff,#d1d1ff,#d1d1ff,#d1d1ff,#d5d5ff,#d9d9ff,#d9d9ff,#d9d9ff)"></i><i class="b" style="left:1043px;width:7px;background:linear-gradient(#fff1f1,#fff1f1,#fff5f5,#f5f5ff,#e5e5ff,#f9f9ff,#fff5f5,#ffe5e5,#ffd5d5,#ffc1c1,#ffbdbd,#ffc1c1,#ffcdcd,#ffeded,#fdfdff,#f9f9ff,#fff9f9,#ffd1d1,#fdd,#f5f5ff,#d1d1ff,#d5d5ff,#ededff,#ffe1e1,#ffe1e1,#ffe5e5,#f9f9ff,#f5f5ff,#f5f5ff,#f9f9ff,#fffdfd,#fffdfd,#f9f9ff,#e9e9ff,#e1e1ff,#e1e1ff,#ededff,#f5f5ff,#ddf,#d5d5ff,#d5d5ff,#d1d1ff,#d1d1ff,#c9c9ff,#bdbdff,#c1c1ff,#c9c9ff,#d1d1ff,#d5d5ff,#ddf,#e5e5ff,#e1e1ff,#d1d1ff,#d1d1ff,#d1d1ff,#d1d1ff,#d1d1ff,#d5d5ff,#d9d9ff,#d9d9ff,#d9d9ff)"></i><i class="b" style="left:1050px;width:7px;background:linear-gradient(#fff1f1,#fff1f1,#fff5f5,#f5f5ff,#e5e5ff,#f9f9ff,#fff5f5,#ffe5e5,#ffd5d5,#ffc1c1,#ffbdbd,#ffc1c1,#ffcdcd,#ffeded,#fdfdff,#f9f9ff,#fff9f9,#ffd1d1,#fdd,#f5f5ff,#d1d1ff,#d5d5ff,#ededff,#ffe1e1,#ffe1e1,#ffe1e1,#f9f9ff,#f5f5ff,#f5f5ff,#f9f9ff,#fffdfd,#fffdfd,#f9f9ff,#e5e5ff,#e1e1ff,#e1e1ff,#ededff,#f5f5ff,#d9d9ff,#d5d5ff,#d1d1ff,#d1d1ff,#d1d1ff,#c9c9ff,#bdbdff,#bdbdff,#c9c9ff,#d1d1ff,#d5d5ff,#ddf,#e5e5ff,#e1e1ff,#d1d1ff,#d1d1ff,#d1d1ff,#d1d1ff,#d1d1ff,#d1d1ff,#d9d9ff,#d9d9ff,#d9d9ff)"></i><i class="b" style="left:1057px;width:7px;background:linear-gradient(#fff1f1,#fff1f1,#fff5f5,#f5f5ff,#e5e5ff,#f9f9ff,#fff5f5,#ffe5e5,#ffd5d5,#ffc5c5,#ffbdbd,#ffc1c1,#ffcdcd,#ffeded,#fdfdff,#f9f9ff,#fff9f9,#ffd1d1,#fdd,#f5f5ff,#d1d1ff,#d1d1ff,#ededff,#ffe1e1,#ffe1e1,#ffe1e1,#f9f9ff,#f5f5ff,#f5f5ff,#f9f9ff,#fffdfd,#fffdfd,#f9f9ff,#e5e5ff,#e1e1ff,#e1e1ff,#ededff,#f5f5ff,#d9d9ff,#d1d1ff,#d1d1ff,#d1d1ff,#d1d1ff,#c5c5ff,#bdbdff,#bdbdff,#c9c9ff,#d1d1ff,#d5d5ff,#ddf,#e5e5ff,#e1e1ff,#d1d1ff,#d1d1ff,#d1d1ff,#d1d1ff,#d1d1ff,#d1d1ff,#d9d9ff,#d9d9ff,#d9d9ff)"></i><i class="b" style="left:1064px;width:7px;background:linear-gradient(#fff1f1,#fff1f1,#fff5f5,#f5f5ff,#e5e5ff,#f9f9ff,#fff5f5,#ffe5e5,#ffd5d5,#ffc5c5,#ffbdbd,#ffc1c1,#ffcdcd,#ffeded,#fdfdff,#f9f9ff,#fff9f9,#ffd1d1,#fdd,#f5f5ff,#cdcdff,#d1d1ff,#ededff,#ffe1e1,#ffe1e1,#ffe1e1,#f5f5ff,#f5f5ff,#f5f5ff,#f9f9ff,#fffdfd,#fffdfd,#f9f9ff,#e5e5ff,#e1e1ff,#e1e1ff,#ededff,#f5f5ff,#d9d9ff,#d1d1ff,#d1d1ff,#d1d1ff,#d1d1ff,#c5c5ff,#b9b9ff,#bdbdff,#c5c5ff,#d1d1ff,#d5d5ff,#ddf,#e5e5ff,#e1e1ff,#d1d1ff,#d1d1ff,#d1d1ff,#d1d1ff,#d1d1ff,#d1d1ff,#d5d5ff,#d5d5ff,#d5d5ff)"></i><i class="b" style="left:1071px;width:7px;background:linear-gradient(#fff1f1,#fff1f1,#fff5f5,#f5f5ff,#e5e5ff,#f9f9ff,#fff5f5,#ffe5e5,#ffd5d5,#ffc5c5,#ffbdbd,#ffc1c1,#ffcdcd,#ffeded,#fdfdff,#f9f9ff,#fff9f9,#ffd1d1,#fdd,#f5f5ff,#cdcdff,#d1d1ff,#ededff,#ffe1e1,#ffe1e1,#ffe1e1,#f5f5ff,#f5f5ff,#f5f5ff,#f9f9ff,#fffdfd,#fffdfd,#f9f9ff,#e5e5ff,#e1e1ff,#e1e1ff,#ededff,#f5f5ff,#d9d9ff,#d1d1ff,#d1d1ff,#d1d1ff,#cdcdff,#c5c5ff,#b9b9ff,#bdbdff,#c5c5ff,#d1d1ff,#d5d5ff,#ddf,#e5e5ff,#e1e1ff,#cdcdff,#cdcdff,#cdcdff,#cdcdff,#cdcdff,#d1d1ff,#d5d5ff,#d5d5ff,#d5d5ff)"></i><i class="b" style="left:1078px;width:3px;background:linear-gradient(#fff1f1,#fff1f1,#fff5f5,#f5f5ff,#e5e5ff,#f9f9ff,#fff5f5,#ffe5e5,#ffd5d5,#ffc5c5,#ffc1c1,#ffc1c1,#ffcdcd,#ffeded,#fdfdff,#f9f9ff,#fff9f9,#ffd1d1,#fdd,#f5f5ff,#cdcdff,#d1d1ff,#ededff,#ffe1e1,#ffe1e1,#ffe1e1,#f5f5ff,#f5f5ff,#f5f5ff,#f9f9ff,#fffdfd,#fffdfd,#f9f9ff,#e5e5ff,#e1e1ff,#e1e1ff,#ededff,#f5f5ff,#d9d9ff,#d1d1ff,#d1d1ff,#d1d1ff,#cdcdff,#c5c5ff,#b9b9ff,#b9b9ff,#c5c5ff,#d1d1ff,#d5d5ff,#ddf,#e5e5ff,#e1e1ff,#cdcdff,#cdcdff,#cdcdff,#cdcdff,#cdcdff,#d1d1ff,#d5d5ff,#d5d5ff,#d5d5ff)"></i><i class="b" style="left:1081px;width:1px;background:linear-gradient(#fff1f1,#fff1f1,#fff5f5,#f5f5ff,#e5e5ff,#f9f9ff,#fff5f5,#ffe5e5,#ffd5d5,#ffc5c5,#ffc1c1,#ffc1c1,#ffcdcd,#ffeded,#fdfdff,#f9f9ff,#fff9f9,#ffd1d1,#fdd,#f5f5ff,#cdcdff,#d1d1ff,#ededff,#ffe1e1,#ffe1e1,#ffe1e1,#f5f5ff,#f5f5ff,#f5f5ff,#f9f9ff,#fffdfd,#fffdfd,#f9f9ff,#e5e5ff,#e1e1ff,#e1e1ff,#ededff,#f5f5ff,#d9d9ff,#d1d1ff,#d1d1ff,#d1d1ff,#cdcdff,#c5c5ff,#b9b9ff,#b9b9ff,#c5c5ff,#d1d1ff,#d5d5ff,#ddf,#e5e5ff,#e1e1ff,#cdcdff,#cdcdff,#cdcdff,#cdcdff,#cdcdff,#d1d1ff,#d5d5ff,#d5d5ff,#d5d5ff)"></i><i class="b" style="left:1082px;width:1px;background:linear-gradient(#fff1f1,#fff1f1,#fff5f5,#f5f5ff,#e5e5ff,#f9f9ff,#fff5f5,#ffe5e5,#ffd5d5,#ffc5c5,#ffc1c1,#ffc1c1,#ffcdcd,#ffeded,#fdfdff,#f9f9ff,#fff9f9,#ffd1d1,#fdd,#f5f5ff,#cdcdff,#d1d1ff,#ededff,#ffe1e1,#ffe1e1,#ffe1e1,#f5f5ff,#f5f5ff,#f5f5ff,#f9f9ff,#fffdfd,#fffdfd,#f9f9ff,#e5e5ff,#e1e1ff,#e1e1ff,#ededff,#f5f5ff,#d9d9ff,#d1d1ff,#d1d1ff,#d1d1ff,#cdcdff,#c5c5ff,#b9b9ff,#b9b9ff,#c5c5ff,#d1d1ff,#d5d5ff,#ddf,#e5e5ff,#e1e1ff,#cdcdff,#cdcdff,#cdcdff,#cdcdff,#cdcdff,#d1d1ff,#d5d5ff,#d5d5ff,#d5d5ff)"></i><i class="b" style="left:1083px;width:1px;background:linear-gradient(#fff5f5,#fff5f5,#fff9f9,#f1f1ff,#e5e5ff,#f9f9ff,#fff5f5,#ffe5e5,#ffd5d5,#ffc5c5,#ffc1c1,#ffc1c1,#ffcdcd,#ffeded,#fdfdff,#f9f9ff,#fff9f9,#ffd1d1,#fdd,#f5f5ff,#cdcdff,#d1d1ff,#ededff,#ffe1e1,#ffe5e5,#ffe9e9,#f1f1ff,#ededff,#ededff,#f1f1ff,#f9f9ff,#f9f9ff,#f1f1ff,#ddf,#d9d9ff,#d9d9ff,#e5e5ff,#ededff,#d1d1ff,#c9c9ff,#c9c9ff,#c9c9ff,#c5c5ff,#bdbdff,#b1b1ff,#b1b1ff,#bdbdff,#c9c9ff,#cdcdff,#d5d5ff,#ddf,#d9d9ff,#c5c5ff,#c5c5ff,#c5c5ff,#c5c5ff,#c5c5ff,#c9c9ff,#cdcdff,#cdcdff,#cdcdff)"></i><i class="b" style="left:1084px;width:1px;background:linear-gradient(#fff9f9,#fff9f9,#fffdfd,#f1f1ff,#e5e5ff,#f9f9ff,#fff5f5,#ffe5e5,#ffd5d5,#ffc5c5,#ffc1c1,#ffc1c1,#ffcdcd,#ffeded,#fdfdff,#f9f9ff,#fff9f9,#ffd1d1,#fdd,#f5f5ff,#cdcdff,#d1d1ff,#ededff,#ffe1e1,#ffe5e5,#fff1f1,#e5e5ff,#e1e1ff,#e5e5ff,#e9e9ff,#ededff,#f1f1ff,#e9e9ff,#d5d5ff,#d1d1ff,#d1d1ff,#ddf,#e1e1ff,#c5c5ff,#c1c1ff,#bdbdff,#bdbdff,#bdbdff,#b1b1ff,#a5a5ff,#a9a9ff,#b5b5ff,#bdbdff,#c1c1ff,#c9c9ff,#d1d1ff,#d1d1ff,#bdbdff,#bdbdff,#bdbdff,#bdbdff,#bdbdff,#bdbdff,#c5c5ff,#c5c5ff,#c5c5ff)"></i><i class="b" style="left:1085px;width:1px;background:linear-gradient(#fff9f9,#fff9f9,#fffdfd,#ededff,#e5e5ff,#f9f9ff,#fff5f5,#ffe5e5,#ffd5d5,#ffc5c5,#ffc1c1,#ffc1c1,#ffcdcd,#ffeded,#fdfdff,#f9f9ff,#fff9f9,#ffd1d1,#fdd,#f5f5ff,#cdcdff,#d1d1ff,#ededff,#ffe1e1,#ffe9e9,#fff5f5,#e5e5ff,#e1e1ff,#e1e1ff,#e5e5ff,#ededff,#ededff,#e5e5ff,#d1d1ff,#cdcdff,#cdcdff,#d9d9ff,#e1e1ff,#c5c5ff,#bdbdff,#bdbdff,#bdbdff,#b9b9ff,#b1b1ff,#a5a5ff,#a5a5ff,#b1b1ff,#bdbdff,#c1c1ff,#c9c9ff,#d1d1ff,#cdcdff,#b9b9ff,#b9b9ff,#b9b9ff,#b9b9ff,#b9b9ff,#bdbdff,#c1c1ff,#c1c1ff,#c1c1ff)"></i><i class="b" style="left:1086px;width:1px;background:linear-gradient(#fff9f9,#fff9f9,#fffdfd,#f1f1ff,#e5e5ff,#f9f9ff,#fff5f5,#ffe5e5,#ffd5d5,#ffc5c5,#ffc1c1,#ffc1c1,#ffcdcd,#ffeded,#fdfdff,#f9f9ff,#fff9f9,#ffd1d1,#fdd,#f5f5ff,#cdcdff,#d1d1ff,#ededff,#ffe1e1,#ffe5e5,#ffeded,#e9e9ff,#e9e9ff,#e9e9ff,#ededff,#f5f5ff,#f5f5ff,#ededff,#d9d9ff,#d5d5ff,#d5d5ff,#e1e1ff,#e9e9ff,#cdcdff,#c5c5ff,#c5c5ff,#c1c1ff,#c1c1ff,#b5b5ff,#adadff,#adadff,#b9b9ff,#c5c5ff,#c9c9ff,#d1d1ff,#d9d9ff,#d5d5ff,#c1c1ff,#c1c1ff,#c1c1ff,#c1c1ff,#c1c1ff,#c5c5ff,#c9c9ff,#c9c9ff,#c9c9ff)"></i><i class="b" style="left:1087px;width:1px;background:linear-gradient(#fff1f1,#fff1f1,#fff9f9,#f5f5ff,#e5e5ff,#f9f9ff,#fff5f5,#ffe5e5,#ffd5d5,#ffc5c5,#ffc1c1,#ffc1c1,#ffcdcd,#ffeded,#fdfdff,#f9f9ff,#fff9f9,#ffd1d1,#fdd,#f5f5ff,#cdcdff,#d1d1ff,#ededff,#ffe1e1,#ffe1e1,#ffe5e5,#f5f5ff,#f1f1ff,#f5f5ff,#f9f9ff,#fdfdff,#fffdfd,#f5f5ff,#e5e5ff,#ddf,#ddf,#ededff,#f1f1ff,#d5d5ff,#cdcdff,#cdcdff,#cdcdff,#cdcdff,#c1c1ff,#b5b5ff,#b9b9ff,#c1c1ff,#cdcdff,#d1d1ff,#d9d9ff,#e1e1ff,#ddf,#cdcdff,#cdcdff,#cdcdff,#cdcdff,#cdcdff,#cdcdff,#d5d5ff,#d5d5ff,#d5d5ff)"></i><i class="b" style="left:1088px;width:1px;background:linear-gradient(#fff1f1,#fff1f1,#fff5f5,#f5f5ff,#e5e5ff,#f9f9ff,#fff5f5,#ffe5e5,#ffd5d5,#ffc5c5,#ffc1c1,#ffc1c1,#ffcdcd,#ffeded,#fdfdff,#f9f9ff,#fff9f9,#ffd1d1,#fdd,#f5f5ff,#cdcdff,#d1d1ff,#ededff,#ffe1e1,#ffe1e1,#ffe1e1,#f5f5ff,#f5f5ff,#f5f5ff,#f9f9ff,#fffdfd,#fffdfd,#f9f9ff,#e5e5ff,#e1e1ff,#e1e1ff,#ededff,#f5f5ff,#d9d9ff,#d1d1ff,#d1d1ff,#cdcdff,#cdcdff,#c1c1ff,#b9b9ff,#b9b9ff,#c5c5ff,#d1d1ff,#d5d5ff,#ddf,#e5e5ff,#e1e1ff,#cdcdff,#cdcdff,#cdcdff,#cdcdff,#cdcdff,#d1d1ff,#d5d5ff,#d5d5ff,#d5d5ff)"></i><i class="b" style="left:1089px;width:1px;background:linear-gradient(#fff1f1,#fff1f1,#fff5f5,#f5f5ff,#e5e5ff,#f9f9ff,#fff5f5,#ffe5e5,#ffd5d5,#ffc5c5,#ffc1c1,#ffc1c1,#ffcdcd,#ffeded,#fdfdff,#f9f9ff,#fff9f9,#ffd1d1,#fdd,#f5f5ff,#cdcdff,#d1d1ff,#ededff,#ffe1e1,#ffe1e1,#ffe1e1,#f5f5ff,#f5f5ff,#f5f5ff,#f9f9ff,#fffdfd,#fffdfd,#f9f9ff,#e5e5ff,#e1e1ff,#e1e1ff,#ededff,#f5f5ff,#d9d9ff,#d1d1ff,#d1d1ff,#cdcdff,#cdcdff,#c1c1ff,#b9b9ff,#b9b9ff,#c5c5ff,#cdcdff,#d5d5ff,#ddf,#e5e5ff,#e1e1ff,#cdcdff,#cdcdff,#cdcdff,#cdcdff,#cdcdff,#d1d1ff,#d5d5ff,#d5d5ff,#d5d5ff)"></i><i class="b" style="left:1090px;width:2px;background:linear-gradient(#fff1f1,#fff1f1,#fff5f5,#f5f5ff,#e5e5ff,#f9f9ff,#fff5f5,#ffe5e5,#ffd5d5,#ffc5c5,#ffc1c1,#ffc1c1,#ffcdcd,#ffeded,#fdfdff,#f9f9ff,#fff9f9,#ffd1d1,#fdd,#f5f5ff,#cdcdff,#d1d1ff,#ededff,#ffe1e1,#ffe1e1,#ffe1e1,#f5f5ff,#f5f5ff,#f5f5ff,#f9f9ff,#fffdfd,#fffdfd,#f9f9ff,#e5e5ff,#e1e1ff,#e1e1ff,#ededff,#f5f5ff,#d9d9ff,#d1d1ff,#d1d1ff,#cdcdff,#cdcdff,#c1c1ff,#b9b9ff,#b9b9ff,#c5c5ff,#cdcdff,#d1d1ff,#ddf,#e5e5ff,#e1e1ff,#cdcdff,#cdcdff,#cdcdff,#cdcdff,#cdcdff,#d1d1ff,#d5d5ff,#d5d5ff,#d5d5ff)"></i><i class="b" style="left:1092px;width:7px;background:linear-gradient(#fff1f1,#fff1f1,#fff5f5,#f5f5ff,#e5e5ff,#f9f9ff,#fff5f5,#ffe5e5,#ffd5d5,#ffc5c5,#ffc1c1,#ffc1c1,#ffd1d1,#ffeded,#fdfdff,#f9f9ff,#fff9f9,#ffd1d1,#fdd,#f5f5ff,#cdcdff,#d1d1ff,#ededff,#ffe1e1,#ffe1e1,#ffe1e1,#f5f5ff,#f5f5ff,#f5f5ff,#f9f9ff,#fffdfd,#fffdfd,#f9f9ff,#e5e5ff,#e1e1ff,#e1e1ff,#ededff,#f5f5ff,#d9d9ff,#d1d1ff,#d1d1ff,#cdcdff,#cdcdff,#c1c1ff,#b5b5ff,#b9b9ff,#c5c5ff,#cdcdff,#d1d1ff,#d9d9ff,#e5e5ff,#e1e1ff,#cdcdff,#cdcdff,#cdcdff,#cdcdff,#cdcdff,#d1d1ff,#d5d5ff,#d5d5ff,#d5d5ff)"></i><i class="b" style="left:1099px;width:7px;background:linear-gradient(#fff1f1,#fff1f1,#fff5f5,#f5f5ff,#e5e5ff,#f9f9ff,#fff5f5,#ffe5e5,#ffd5d5,#ffc5c5,#ffc1c1,#ffc1c1,#ffd1d1,#ffeded,#fdfdff,#f9f9ff,#fff9f9,#ffd1d1,#fdd,#f5f5ff,#cdcdff,#d1d1ff,#ededff,#ffe1e1,#ffe1e1,#ffe1e1,#f5f5ff,#f5f5ff,#f5f5ff,#f9f9ff,#fffdfd,#fffdfd,#f9f9ff,#e5e5ff,#e1e1ff,#e1e1ff,#ededff,#f5f5ff,#d9d9ff,#d1d1ff,#cdcdff,#cdcdff,#cdcdff,#c1c1ff,#b5b5ff,#b5b5ff,#c1c1ff,#cdcdff,#d1d1ff,#d9d9ff,#e1e1ff,#e1e1ff,#cdcdff,#cdcdff,#cdcdff,#cdcdff,#cdcdff,#cdcdff,#d5d5ff,#d5d5ff,#d5d5ff)"></i><i class="b" style="left:1106px;width:5px;background:linear-gradient(#fff1f1,#fff1f1,#fff5f5,#f5f5ff,#e5e5ff,#f9f9ff,#fff5f5,#ffe5e5,#ffd5d5,#ffc5c5,#ffc1c1,#ffc1c1,#ffd1d1,#ffeded,#fdfdff,#f9f9ff,#fff9f9,#ffd1d1,#fdd,#f5f5ff,#cdcdff,#d1d1ff,#ededff,#ffe1e1,#fdd,#ffe1e1,#f5f5ff,#f5f5ff,#f5f5ff,#f9f9ff,#fffdfd,#fffdfd,#f9f9ff,#e5e5ff,#e1e1ff,#e1e1ff,#ededff,#f5f5ff,#d5d5ff,#cdcdff,#cdcdff,#cdcdff,#cdcdff,#c1c1ff,#b5b5ff,#b5b5ff,#c1c1ff,#cdcdff,#d1d1ff,#d9d9ff,#e1e1ff,#e1e1ff,#cdcdff,#cdcdff,#cdcdff,#cdcdff,#cdcdff,#cdcdff,#d5d5ff,#d5d5ff,#d5d5ff)"></i><i class="b" style="left:1111px;width:1px;background:linear-gradient(#fff1f1,#fff1f1,#fff5f5,#f5f5ff,#e5e5ff,#f9f9ff,#fff5f5,#ffe5e5,#ffd5d5,#ffc5c5,#ffc1c1,#ffc1c1,#ffd1d1,#ffeded,#fdfdff,#f9f9ff,#fff9f9,#ffd1d1,#fdd,#f1f1ff,#cdcdff,#d1d1ff,#ededff,#fdd,#fdd,#ffe1e1,#f5f5ff,#f5f5ff,#f5f5ff,#f9f9ff,#fffdfd,#fffdfd,#f9f9ff,#e5e5ff,#e1e1ff,#e1e1ff,#ededff,#f5f5ff,#d5d5ff,#cdcdff,#cdcdff,#cdcdff,#cdcdff,#c1c1ff,#b5b5ff,#b5b5ff,#c1c1ff,#cdcdff,#d1d1ff,#d9d9ff,#e1e1ff,#e1e1ff,#cdcdff,#cdcdff,#cdcdff,#cdcdff,#cdcdff,#cdcdff,#d5d5ff,#d5d5ff,#d5d5ff)"></i><i class="b" style="left:1112px;width:1px;background:linear-gradient(#fff1f1,#fff1f1,#fff5f5,#f5f5ff,#e5e5ff,#f9f9ff,#fff5f5,#ffe5e5,#ffd5d5,#ffc5c5,#ffc1c1,#ffc1c1,#ffd1d1,#ffeded,#fdfdff,#f9f9ff,#fff9f9,#ffd1d1,#fdd,#f1f1ff,#cdcdff,#d1d1ff,#ededff,#fdd,#fdd,#ffe1e1,#f5f5ff,#f5f5ff,#f5f5ff,#f9f9ff,#fffdfd,#fffdfd,#f9f9ff,#e5e5ff,#e1e1ff,#e1e1ff,#ededff,#f5f5ff,#d5d5ff,#cdcdff,#cdcdff,#cdcdff,#cdcdff,#c1c1ff,#b5b5ff,#b5b5ff,#c1c1ff,#cdcdff,#d1d1ff,#d9d9ff,#e1e1ff,#e1e1ff,#cdcdff,#cdcdff,#cdcdff,#cdcdff,#cdcdff,#cdcdff,#d5d5ff,#d5d5ff,#d5d5ff)"></i><i class="b" style="left:1113px;width:1px;background:linear-gradient(#fe0000,#fe0000,#fe0000,#fe0000,#f11,#ffb5b5,#fff1f1,#d9d9ff,#e5e5ff,#e5e5ff,#ddf,#d1d1ff,#d1d1ff,#d1d1ff,#d1d1ff,#d1d1ff,#d1d1ff,#b9b9ff,#a5a5ff,#9595ff,#8989ff,#8989ff,#9595ff,#9d9dff,#a9a9ff,#b1b1ff,#bdbdff,#c5c5ff,#d1d1ff,#ddf,#e5e5ff,#ededff,#ededff,#ededff,#ededff,#f1f1ff,#f1f1ff,#f1f1ff,#ddf,#cdcdff,#e9e9ff,#f1f1ff,#f5f5ff,#f5f5ff,#f5f5ff,#f5f5ff,#f5f5ff,#f5f5ff,#f9f9ff,#f9f9ff,#f9f9ff,#f9f9ff,#f9f9ff,#f9f9ff,#f9f9ff,#f9f9ff,#f9f9ff,#f9f9ff,#f9f9ff,#f9f9ff,#f9f9ff)"></i><i class="b" style="left:1114px;width:1px;background:linear-gradient(#fe0000,#fe0000,#fe0000,#fe0000,#f11,#ffb5b5,#fff1f1,#d9d9ff,#e5e5ff,#e5e5ff,#ddf,#d1d1ff,#d1d1ff,#d1d1ff,#d1d1ff,#d1d1ff,#d1d1ff,#bdbdff,#a5a5ff,#9595ff,#8d8dff,#8d8dff,#99f,#a1a1ff,#a9a9ff,#b5b5ff,#bdbdff,#c9c9ff,#d1d1ff,#ddf,#e9e9ff,#ededff,#ededff,#ededff,#ededff,#f1f1ff,#f1f1ff,#f1f1ff,#ddf,#cdcdff,#e9e9ff,#f1f1ff,#f5f5ff,#f5f5ff,#f5f5ff,#f5f5ff,#f5f5ff,#f5f5ff,#f9f9ff,#f9f9ff,#f9f9ff,#f9f9ff,#f9f9ff,#f9f9ff,#f9f9ff,#f9f9ff,#f9f9ff,#f9f9ff,#f9f9ff,#f9f9ff,#f9f9ff)"></i><i class="b" style="left:1115px;width:1px;background:linear-gradient(#ff1d1d,#ff1d1d,#ff1d1d,#ff1d1d,#ff2d2d,#ffc1c1,#fff5f5,#e1e1ff,#e9e9ff,#e9e9ff,#e1e1ff,#d9d9ff,#d9d9ff,#d9d9ff,#d9d9ff,#d9d9ff,#d9d9ff,#c9c9ff,#b5b5ff,#a9a9ff,#a1a1ff,#a1a1ff,#a9a9ff,#b1b1ff,#b9b9ff,#c1c1ff,#c9c9ff,#d1d1ff,#d9d9ff,#e1e1ff,#e9e9ff,#ededff,#ededff,#f1f1ff,#f1f1ff,#f1f1ff,#f1f1ff,#f5f5ff,#e5e5ff,#d5d5ff,#ededff,#f5f5ff,#f5f5ff,#f5f5ff,#f5f5ff,#f5f5ff,#f5f5ff,#f9f9ff,#f9f9ff,#f9f9ff,#f9f9ff,#f9f9ff,#f9f9ff,#f9f9ff,#f9f9ff,#f9f9ff,#f9f9ff,#f9f9ff,#f9f9ff,#f9f9ff,#f9f9ff)"></i><i class="b" style="left:1116px;width:1px;background:linear-gradient(#ff7171,#ff7171,#ff7171,#ff7171,#ff7979,#ffd9d9,#fff9f9,#e5e5ff,#ededff,#ededff,#e9e9ff,#e1e1ff,#e1e1ff,#e1e1ff,#e1e1ff,#e1e1ff,#e1e1ff,#d5d5ff,#c5c5ff,#bdbdff,#b5b5ff,#b9b9ff,#bdbdff,#c5c5ff,#c9c9ff,#cdcdff,#d5d5ff,#d9d9ff,#e1e1ff,#e9e9ff,#ededff,#f1f1ff,#f1f1ff,#f1f1ff,#f1f1ff,#f5f5ff,#f5f5ff,#f5f5ff,#e9e9ff,#ddf,#ededff,#f5f5ff,#f5f5ff,#f5f5ff,#f5f5ff,#f5f5ff,#f9f9ff,#f9f9ff,#f9f9ff,#f9f9ff,#f9f9ff,#f9f9ff,#f9f9ff,#f9f9ff,#f9f9ff,#f9f9ff,#f9f9ff,#f9f9ff,#f9f9ff,#f9f9ff,#f9f9ff)"></i><i class="b" style="left:1117px;width:1px;background:linear-gradient(#ffc1c1,#ffc1c1,#ffc1c1,#ffc1c1,#ffc5c5,#fff1f1,#fffdfd,#ededff,#f1f1ff,#f1f1ff,#ededff,#e9e9ff,#e9e9ff,#e9e9ff,#e9e9ff,#e9e9ff,#e9e9ff,#e1e1ff,#d9d9ff,#d1d1ff,#cdcdff,#cdcdff,#d1d1ff,#d5d5ff,#d9d9ff,#ddf,#e1e1ff,#e5e5ff,#e9e9ff,#ededff,#f1f1ff,#f5f5ff,#f5f5ff,#f5f5ff,#f5f5ff,#f5f5ff,#f5f5ff,#f5f5ff,#ededff,#e9e9ff,#f1f1ff,#f5f5ff,#f5f5ff,#f5f5ff,#f9f9ff,#f9f9ff,#f9f9ff,#f9f9ff,#f9f9ff,#f9f9ff,#f9f9ff,#f9f9ff,#f9f9ff,#f9f9ff,#f9f9ff,#f9f9ff,#f9f9ff,#f9f9ff,#f9f9ff,#f9f9ff,#f9f9ff)"></i><i class="b" style="left:1118px;width:1px;background:linear-gradient(#fdfdff,#fdfdff,#fdfdff,#fdfdff,#fdfdff,#f9f9ff,#fdfdff,#f1f1ff,#f5f5ff,#f5f5ff,#f5f5ff,#f1f1ff,#f1f1ff,#f1f1ff,#f1f1ff,#f1f1ff,#f1f1ff,#ededff,#e9e9ff,#e5e5ff,#e5e5ff,#e5e5ff,#e5e5ff,#e9e9ff,#e9e9ff,#ededff,#ededff,#f1f1ff,#f1f1ff,#f5f5ff,#f5f5ff,#f5f5ff,#f5f5ff,#f5f5ff,#f5f5ff,#f5f5ff,#f9f9ff,#f9f9ff,#f5f5ff,#f1f1ff,#f5f5ff,#f9f9ff,#f9f9ff,#f9f9ff,#f9f9ff,#f9f9ff,#f9f9ff,#f9f9ff,#f9f9ff,#f9f9ff,#f9f9ff,#f9f9ff,#f9f9ff,#f9f9ff,#f9f9ff,#f9f9ff,#f9f9ff,#f9f9ff,#f9f9ff,#f9f9ff,#f9f9ff)"></i><i class="b" style="left:1119px;width:1px;background:linear-gradient(#f9f9ff,#f9f9ff,#f9f9ff,#f9f9ff,#f9f9ff,#f9f9ff,#f9f9ff,#f9f9ff,#f9f9ff,#f9f9ff,#f9f9ff,#f9f9ff,#f9f9ff,#f9f9ff,#f9f9ff,#f9f9ff,#f9f9ff,#f9f9ff,#f5f5ff,#f5f5ff,#f5f5ff,#f5f5ff,#f5f5ff,#f5f5ff,#f5f5ff,#f9f9ff,#f9f9ff,#f9f9ff,#f9f9ff,#f9f9ff,#f9f9ff,#f9f9ff,#f9f9ff,#f9f9ff,#f9f9ff,#f9f9ff,#f9f9ff,#f9f9ff,#f9f9ff,#f9f9ff,#f9f9ff,#f9f9ff,#f9f9ff,#f9f9ff,#f9f9ff,#f9f9ff,#f9f9ff,#f9f9ff,#f9f9ff,#f9f9ff,#f9f9ff,#f9f9ff,#f9f9ff,#f9f9ff,#f9f9ff,#f9f9ff,#f9f9ff,#f9f9ff,#f9f9ff,#f9f9ff,#f9f9ff)"></i><i class="b" style="left:1120px;width:1px;background:linear-gradient(#f9f9ff,#f9f9ff,#f9f9ff,#f9f9ff,#f9f9ff,#f9f9ff,#f9f9ff,#f9f9ff,#f9f9ff,#f9f9ff,#f9f9ff,#f9f9ff,#f9f9ff,#f9f9ff,#f9f9ff,#f9f9ff,#f9f9ff,#f9f9ff,#f9f9ff,#f9f9ff,#f9f9ff,#f9f9ff,#f9f9ff,#f9f9ff,#f9f9ff,#f9f9ff,#f9f9ff,#f9f9ff,#f9f9ff,#f9f9ff,#f9f9ff,#f9f9ff,#f9f9ff,#f9f9ff,#f9f9ff,#f9f9ff,#f9f9ff,#f9f9ff,#f9f9ff,#f9f9ff,#f9f9ff,#f9f9ff,#f9f9ff,#f9f9ff,#f9f9ff,#f9f9ff,#f9f9ff,#f9f9ff,#f9f9ff,#f9f9ff,#f9f9ff,#f9f9ff,#f9f9ff,#f9f9ff,#f9f9ff,#f9f9ff,#f9f9ff,#f9f9ff,#f9f9ff,#f9f9ff,#f9f9ff)"></i><i class="b" style="left:1121px;width:6px;background:linear-gradient(#f9f9ff,#f9f9ff,#f9f9ff,#f9f9ff,#f9f9ff,#f9f9ff,#f9f9ff,#f9f9ff,#f9f9ff,#f9f9ff,#f9f9ff,#f9f9ff,#f9f9ff,#f9f9ff,#f9f9ff,#f9f9ff,#f9f9ff,#f9f9ff,#f9f9ff,#f9f9ff,#f9f9ff,#f9f9ff,#f9f9ff,#f9f9ff,#f9f9ff,#f9f9ff,#f9f9ff,#f9f9ff,#f9f9ff,#f9f9ff,#f9f9ff,#f9f9ff,#f9f9ff,#f9f9ff,#f9f9ff,#f9f9ff,#f9f9ff,#f9f9ff,#f9f9ff,#f9f9ff,#f9f9ff,#f9f9ff,#f9f9ff,#f9f9ff,#f9f9ff,#f9f9ff,#f9f9ff,#f9f9ff,#f9f9ff,#f9f9ff,#f9f9ff,#f9f9ff,#f9f9ff,#f9f9ff,#f9f9ff,#f9f9ff,#f9f9ff,#f9f9ff,#f9f9ff,#f9f9ff,#f9f9ff)"></i><i class="b" style="left:1127px;width:7px;background:linear-gradient(#f9f9ff,#f9f9ff,#f9f9ff,#f9f9ff,#f9f9ff,#f9f9ff,#f9f9ff,#f9f9ff,#f9f9ff,#f9f9ff,#f9f9ff,#f9f9ff,#f9f9ff,#f9f9ff,#f9f9ff,#f9f9ff,#f9f9ff,#f9f9ff,#f9f9ff,#f9f9ff,#f9f9ff,#f9f9ff,#f9f9ff,#f9f9ff,#f9f9ff,#f9f9ff,#f9f9ff,#f9f9ff,#f9f9ff,#f9f9ff,#f9f9ff,#f9f9ff,#f9f9ff,#f9f9ff,#f9f9ff,#f9f9ff,#f9f9ff,#f9f9ff,#f9f9ff,#f9f9ff,#f9f9ff,#f9f9ff,#f9f9ff,#f9f9ff,#f9f9ff,#f9f9ff,#f9f9ff,#f9f9ff,#f9f9ff,#f9f9ff,#f9f9ff,#f9f9ff,#f9f9ff,#f9f9ff,#f9f9ff,#f9f9ff,#f9f9ff,#f9f9ff,#f9f9ff,#f9f9ff,#f9f9ff)"></i><i class="b" style="left:1134px;width:2px;background:linear-gradient(#f9f9ff,#f9f9ff,#f9f9ff,#f9f9ff,#f9f9ff,#f9f9ff,#f9f9ff,#f9f9ff,#f9f9ff,#f9f9ff,#f9f9ff,#f9f9ff,#f9f9ff,#f9f9ff,#f9f9ff,#f9f9ff,#f9f9ff,#f9f9ff,#f9f9ff,#f9f9ff,#f9f9ff,#f9f9ff,#f9f9ff,#f9f9ff,#f9f9ff,#f9f9ff,#f9f9ff,#f9f9ff,#f9f9ff,#f9f9ff,#f9f9ff,#f9f9ff,#f9f9ff,#f9f9ff,#f9f9ff,#f9f9ff,#f9f9ff,#f9f9ff,#f9f9ff,#f9f9ff,#f9f9ff,#f9f9ff,#f9f9ff,#f9f9ff,#f9f9ff,#f9f9ff,#f9f9ff,#f9f9ff,#f9f9ff,#f9f9ff,#f9f9ff,#f9f9ff,#f9f9ff,#f9f9ff,#f9f9ff,#f9f9ff,#f9f9ff,#f9f9ff,#f9f9ff,#f9f9ff,#f9f9ff)"></i><svg width="1350" height="725" viewBox="0 0 1350 725" style="position:absolute;left:0;top:0" font-family='"Liberation Sans", sans-serif' fill="#000"><defs><linearGradient id="gt" x1="0" y1="1" x2="0" y2="0"><stop offset="0" stop-color="#30123b"/><stop offset=".0156" stop-color="#351e58"/><stop offset=".0312" stop-color="#392a73"/><stop offset=".0469" stop-color="#3d358b"/><stop offset=".0625" stop-color="#4040a2"/><stop offset=".0781" stop-color="#424bb5"/><stop offset=".0938" stop-color="#4456c7"/><stop offset=".1094" stop-color="#4661d6"/><stop offset=".125" stop-color="#466be3"/><stop offset=".1406" stop-color="#4776ee"/><stop offset=".1562" stop-color="#4680f6"/><stop offset=".1719" stop-color="#458afc"/><stop offset=".1875" stop-color="#4294ff"/><stop offset=".2031" stop-color="#3d9efe"/><stop offset=".2188" stop-color="#37a8fa"/><stop offset=".2344" stop-color="#2fb2f4"/><stop offset=".25" stop-color="#28bceb"/><stop offset=".2656" stop-color="#22c5e2"/><stop offset=".2812" stop-color="#1ccdd8"/><stop offset=".2969" stop-color="#19d5cd"/><stop offset=".3125" stop-color="#18ddc2"/><stop offset=".3281" stop-color="#19e3b9"/><stop offset=".3438" stop-color="#1fe9af"/><stop offset=".3594" stop-color="#27eea4"/><stop offset=".375" stop-color="#32f298"/><stop offset=".3906" stop-color="#3ff68a"/><stop offset=".4062" stop-color="#4ef97d"/><stop offset=".4219" stop-color="#5dfc6f"/><stop offset=".4375" stop-color="#6dfe62"/><stop offset=".4531" stop-color="#7dff56"/><stop offset=".4688" stop-color="#8bff4b"/><stop offset=".4844" stop-color="#99fe42"/><stop offset=".5" stop-color="#a4fc3c"/><stop offset=".5156" stop-color="#affa37"/><stop offset=".5312" stop-color="#b9f635"/><stop offset=".5469" stop-color="#c3f134"/><stop offset=".5625" stop-color="#cdec34"/><stop offset=".5781" stop-color="#d7e535"/><stop offset=".5938" stop-color="#dfdf37"/><stop offset=".6094" stop-color="#e7d739"/><stop offset=".625" stop-color="#eecf3a"/><stop offset=".6406" stop-color="#f4c73a"/><stop offset=".6562" stop-color="#f8be39"/><stop offset=".6719" stop-color="#fbb637"/><stop offset=".6875" stop-color="#fdac34"/><stop offset=".7031" stop-color="#fea130"/><stop offset=".7188" stop-color="#fe962b"/><stop offset=".7344" stop-color="#fd8a26"/><stop offset=".75" stop-color="#fb7e21"/><stop offset=".7656" stop-color="#f8721c"/><stop offset=".7812" stop-color="#f46617"/><stop offset=".7969" stop-color="#f05b12"/><stop offset=".8125" stop-color="#eb500e"/><stop offset=".8281" stop-color="#e5470b"/><stop offset=".8438" stop-color="#df3f08"/><stop offset=".8594" stop-color="#d83706"/><stop offset=".875" stop-color="#d02f05"/><stop offset=".8906" stop-color="#c82803"/><stop offset=".9062" stop-color="#be2102"/><stop offset=".9219" stop-color="#b41b01"/><stop offset=".9375" stop-color="#a91601"/><stop offset=".9531" stop-color="#9e1001"/><stop offset=".9688" stop-color="#920b01"/><stop offset=".9844" stop-color="#850702"/><stop offset="1" stop-color="#7a0403"/></linearGradient><linearGradient id="gs" x1="0" y1="1" x2="0" y2="0"><stop offset="0" stop-color="#00004c"/><stop offset=".0312" stop-color="#000063"/><stop offset=".0625" stop-color="#000079"/><stop offset=".0938" stop-color="#000090"/><stop offset=".125" stop-color="#0000a6"/><stop offset=".1562" stop-color="#0000bc"/><stop offset=".1875" stop-color="#0000d3"/><stop offset=".2188" stop-color="#0000e9"/><stop offset=".25" stop-color="#0101ff"/><stop offset=".2812" stop-color="#2121ff"/><stop offset=".3125" stop-color="#4141ff"/><stop offset=".3438" stop-color="#6161ff"/><stop offset=".375" stop-color="#8181ff"/><stop offset=".4062" stop-color="#a1a1ff"/><stop offset=".4375" stop-color="#c1c1ff"/><stop offset=".4688" stop-color="#e1e1ff"/><stop offset=".5" stop-color="#fffdfd"/><stop offset=".5312" stop-color="#fdd"/><stop offset=".5625" stop-color="#ffbdbd"/><stop offset=".5938" stop-color="#ff9d9d"/><stop offset=".625" stop-color="#ff7d7d"/><stop offset=".6562" stop-color="#ff5d5d"/><stop offset=".6875" stop-color="#ff3d3d"/><stop offset=".7188" stop-color="#ff1d1d"/><stop offset=".75" stop-color="#fe0000"/><stop offset=".7812" stop-color="#e00"/><stop offset=".8125" stop-color="#de0000"/><stop offset=".8438" stop-color="#ce0000"/><stop offset=".875" stop-color="#be0000"/><stop offset=".9062" stop-color="#ae0000"/><stop offset=".9375" stop-color="#9e0000"/><stop offset=".9688" stop-color="#8e0000"/><stop offset="1" stop-color="#800000"/></linearGradient></defs><path d="M154.2 296.7H760.7M785.5 296.7H1113" stroke="#b4b4ff" stroke-width="1" stroke-dasharray="5 3 2 4 7 2" opacity=".35"/><path d="M154.2 310.5H760.7M785.5 310.5H1113" stroke="#ffc0c0" stroke-width="1" stroke-dasharray="4 5 2 3 6 7" opacity=".3"/><clipPath id="c3"><rect x="74.4" y="481.4" width="1155.1" height="207.9"/></clipPath><g clip-path="url(#c3)" fill="none" stroke-linejoin="round"><path d="M154.2 675.6l606 .2" stroke="#ff0000" stroke-width="2.25"/><path d="M785.5 675.8l295-.1 3-.9 7 .6 21 .1" stroke="#ff0000" stroke-width="2"/><path d="M1111.5 675.5l3 .1 2.5 1.3 5.5 4.5 2 .9 1 .1" stroke="#ff0000" stroke-width="1.6" stroke-opacity=".85"/><path d="M154.2 674.5l606 .2" stroke="#c32305" stroke-width="2.25"/><path d="M785.5 674.7l295-.2 3-.9 7 .6 21 .1" stroke="#c32305" stroke-width="2"/><path d="M1111.5 674.3l1.5 .2 1 1 3 5.4 1 1.3 1 .2 .5 0" stroke="#c32305" stroke-width="1.6" stroke-opacity=".85"/><path d="M154.2 673l606 .2" stroke="#824105" stroke-width="2.85"/><path d="M785.5 673.2l295-.3 2-.9 1-.2 8 .6 20 .2" stroke="#824105" stroke-width="2.6"/><path d="M1111.5 672.6l1 .2 1 1.1 1.5 2.9 2 4.1 1 1.2 1 .3 .5 0" stroke="#824105" stroke-width="1.6" stroke-opacity=".85"/><path d="M154.2 670.9l40-.4 47 .4 519-0" stroke="#4b5f05" stroke-width="2"/><path d="M785.5 670.9l294-.3 1-.1 2-1 1-.3 7 .8 21 .2" stroke="#4b5f05" stroke-width="1.7"/><path d="M1111.5 670.2l1 .2 1 1.4 1.5 3.6 1.5 3.9 1 2.1 .5 .7 .5 .3 1 0" stroke="#4b5f05" stroke-width="1.6" stroke-opacity=".85"/><path d="M154.2 654.9l53 2.4 56 1.5 130 .9 68 1.3 299 .6" stroke="#00870f" stroke-width="2"/><path d="M785.5 661.8l77-.4 33-1 184 0 1-.1 2-1.8 1-.5 3 .5 3 .7 22 .3" stroke="#00870f" stroke-width="1.7"/><path d="M1111.5 659.5l.5 .1 .5 .7 .5 1.3 .5 1.7 1 4.3 2 9.5 .5 1.9 .5 1.6 .5 1.2 .5 .6 1 0" stroke="#00870f" stroke-width="1.6" stroke-opacity=".85"/><path d="M154.2 639l29 3.1 23 1.6 41 1.7 68 1.4 103 1.7 54 .7 288 .9" stroke="#005f46" stroke-width="2.05"/><path d="M785.5 650.6l75-.1 33-1.8 186-.1 1-.1 2-1.8 1-.5 3 .5 3 .7 22 .3" stroke="#005f46" stroke-width="1.7"/><path d="M1111.5 647.7l.5 .5 .5 1.3 .5 2.1 .5 2.7 .5 3.1 2 14 .5 3.3 .5 2.8 .5 2.4 .5 1.6 .5 .9 1 0" stroke="#005f46" stroke-width="1.6" stroke-opacity=".85"/><path d="M154.2 621.3l35 4.8 26 2.8 17 1.2 36 1.1 47 .9 95 3.7 38 1.4 25 .1 41-.8 17 .5 38 2.3 21 .2 100-1 70-.5" stroke="#004182" stroke-width="2.2"/><path d="M785.5 638.8l50-.5 24-.6 21-2 15-1.2 47-.9 138-.2 2-1.3 1-.3 7 .8 21 .3" stroke="#004182" stroke-width="1.8"/><path d="M1111.5 632.9l.5 1.2 .5 2.3 .5 3.1 .5 3.9 .5 4.5 2 19.6 .5 4.4 .5 3.9 .5 3.2 .5 2.2 .5 1.1 1 .1" stroke="#004182" stroke-width="1.6" stroke-opacity=".85"/><path d="M154.2 529.1l11 10.7 9 7.5 8 5.5 6 2.9 10 3.3 28 6.3 7 .7 11-.2 12 1.6 5-.6 9-2.7 14-1.9 15-.7 14 1 12 2.1 11 2 8 .5 4-1.3 4-1.3 3 .6 5 2.1 3 0 5-1.5 3 .6 5 3.1 4 2.5 3 .6 2-.7 4-3.1 2-.7 15-.7 11-2.2 3 .3 4 1.1 2-.2 4-1.8 2 0 14 5.4 9 4 3 .6 2-.7 4-2.6 17-5.7 4-2 2 .1 4 1.8 4 1.9 3-.1 11-3.9 7-.5 7 .8 5 1.8 4 3 4 3.2 6 2.6 14 4.4 17 2.7 2 1 5 4.4 2 .5 4-.6 11-5.3 4-.7 12 1.4 3-.6 3-2.2 5-4.6 3-1.5 2 .1 5 2.5 3 .3 6-.8 4 1.4 9 5.2 5 1.5 11 1.4 7-.1 9-1.2 4 .8 5 1.5 4-.5 5-.9 4 .8 10 4.6 3 .5 3-.8 7-4.9 3-.8 11 .6 11-1.7 2-.6" stroke="#0a1ed2" stroke-width="1.9"/><path d="M154.2 527.5l1 4.3 1-2.2 1 4.2 1-2.2 1 4.2 1-2.3 1 4.2 1-2.3 1 4.1 1-2.2 1 4.1 1-2.4 1 4.1 1-2.3 1 4 1-2.3 1 4 1-2.4 1 4 1-2.4 1 3.9 1-2.5 1 4 1-2.5 1 3.8 1-2.5 1 3.9 1-2.6 1 3.7 1-2.6 1 3.7 1-2.7 1 3.6 1-2.8 1 3.6 1-2.8 1 3.5 1-2.8 1 3.5 1-2.9 1 3.6 1-3 1 3.5 1-2.9 1 3.4 1-2.9 1 3.4 1-2.9 1 3.4 1-2.9 1 3.4 1-3 1 3.5 1-3 1 3.4 1-2.9 1 3.4 1-3 1 3.5 1-3 1 3.4 1-3 1 3.5 1-3 1 3.4 1-3 1 3.4 1-3 1 3.4 1-3 1 3.4 1-3 1 3.4 1-3 1 3.3 1-3.1 1 3.3 1-3.2 1 3.2 1-3.2 1 3.2 1-3.3 1 3.2 1-3.3 1 3.1 1-3.2 1 3.2 1-3.2 1 3.2 1-3.1 1 3.3 1-3.1 1 3.3 1-3 1 3.4 1-3 1 3.4 1-3.1 1 3.4 1-3.1 1 3.3 1-3.2 1 3.2 1-3.2 1 3.1 1-3.4 1 2.9 1-3.5 1 2.9 1-3.5 1 2.8 1-3.5 1 2.9 1-3.5 1 2.9 1-3.4 1 3.1 1-3.4 1 3 1-3.3 1 3 1-3.4 1 3.1 1-3.4 1 3.1 1-3.3 1 3.1 1-3.4 1 3.1 1-3.2 1 3.1 1-3.3 1 3.1 1-3.3 1 3.2 1-3.3 1 3.2 1-3.3 1 3.2 1-3.3 1 3.2 1-3.2 1 3.2 1-3.2 1 3.2 1-3.2 1 3.2 1-3.1 1 3.2 1-3.1 1 3.2 1-3.1 1 3.3 1-3.2 1 3.3 1-3.1 1 3.3 1-3.1 1 3.4 1-3.1 1 3.3 1-3 1 3.3 1-3 1 3.4 1-3.1 1 3.4 1-3 1 3.5 1-3 1 3.4 1-3 1 3.4 1-2.9 1 3.4 1-3 1 3.4 1-3 1 3.3 1-3 1 3.3 1-3.1 1 3.3 1-3.1 1 3.3 1-3.2 1 3.3 1-3.2 1 3.3 1-3.2 1 3 1-3.4 1 2.8 1-3.7 1 2.8 1-3.6 1 2.9 1-3.4 1 3.2 1-3 1 3.6 1-2.8 1 3.7 1-2.8 1 3.7 1-2.9 1 3.4 1-3.2 1 3 1-3.5 1 2.8 1-3.5 1 2.9 1-3.4 1 3.2 1-3 1 3.6 1-2.7 1 3.7 1-2.5 1 3.9 1-2.5 1 3.9 1-2.5 1 3.8 1-2.7 1 3.6 1-3 1 3.2 1-3.4 1 2.7 1-3.9 1 2.3 1-4 1 2.5 1-3.7 1 3 1-3.3 1 3.1 1-3.2 1 3.2 1-3.3 1 3.2 1-3.2 1 3.2 1-3.2 1 3.2 1-3.2 1 3.1 1-3.2 1 3 1-3.3 1 3 1-3.3 1 2.9 1-3.4 1 3 1-3.5 1 3 1-3.4 1 3 1-3.3 1 3 1-3.2 1 3.3 1-3 1 3.5 1-2.9 1 3.5 1-3 1 3.2 1-3.4 1 2.8 1-3.7 1 2.7 1-3.6 1 3.1 1-3.1 1 3.5 1-2.8 1 3.5 1-2.8 1 3.5 1-2.8 1 3.6 1-2.8 1 3.6 1-2.8 1 3.6 1-2.8 1 3.6 1-2.7 1 3.6 1-2.7 1 3.7 1-2.7 1 3.7 1-2.8 1 3.7 1-2.8 1 3.5 1-2.9 1 3.5 1-3.2 1 3 1-3.7 1 2.5 1-3.9 1 2.6 1-3.8 1 2.8 1-3.5 1 2.9 1-3.6 1 2.9 1-3.5 1 2.9 1-3.5 1 2.8 1-3.5 1 2.9 1-3.5 1 2.9 1-3.6 1 2.9 1-3.6 1 2.8 1-3.8 1 2.6 1-3.7 1 2.9 1-3.3 1 3.4 1-2.9 1 3.6 1-2.6 1 3.7 1-2.6 1 3.8 1-2.8 1 3.5 1-3.1 1 3.1 1-3.3 1 2.9 1-3.5 1 2.9 1-3.6 1 2.8 1-3.6 1 2.8 1-3.6 1 2.8 1-3.5 1 2.9 1-3.4 1 3.1 1-3.3 1 3.2 1-3.3 1 3.2 1-3.2 1 3.2 1-3.1 1 3.3 1-3.1 1 3.3 1-3 1 3.4 1-2.9 1 3.5 1-2.9 1 3.6 1-2.7 1 3.8 1-2.5 1 4 1-2.3 1 4 1-2.3 1 4 1-2.5 1 3.8 1-2.8 1 3.6 1-2.8 1 3.6 1-2.8 1 3.6 1-2.9 1 3.6 1-2.9 1 3.5 1-2.8 1 3.5 1-2.9 1 3.5 1-2.9 1 3.4 1-2.9 1 3.5 1-2.9 1 3.4 1-3 1 3.4 1-3.1 1 3.4 1-3.1 1 3.4 1-3.1 1 3.3 1-3.1 1 3.3 1-3 1 3.3 1-3 1 3.4 1-3 1 3.4 1-2.8 1 3.8 1-2.3 1 4.1 1-2.2 1 4.1 1-2.5 1 3.6 1-3.1 1 3.2 1-3.3 1 3 1-3.5 1 2.8 1-3.7 1 2.8 1-3.8 1 2.7 1-3.7 1 2.6 1-3.7 1 2.7 1-3.6 1 2.8 1-3.5 1 3 1-3.3 1 3.1 1-3.1 1 3.2 1-3 1 3.3 1-3 1 3.4 1-3.1 1 3.4 1-3.1 1 3.3 1-3.1 1 3.2 1-3.3 1 3.1 1-3.6 1 2.6 1-4 1 2.4 1-4.1 1 2.2 1-4.2 1 2.3 1-4 1 2.5 1-3.7 1 2.9 1-3.3 1 3.4 1-2.8 1 3.8 1-2.6 1 3.7 1-2.8 1 3.5 1-3.2 1 3.2 1-3.4 1 3 1-3.4 1 3.1 1-3.3 1 3.2 1-3 1 3.5 1-2.8 1 3.7 1-2.7 1 3.8 1-2.6 1 3.8 1-2.5 1 3.8 1-2.6 1 3.7 1-2.7 1 3.7 1-2.9 1 3.5 1-3 1 3.4 1-3 1 3.4 1-3.1 1 3.4 1-3.1 1 3.3 1-3 1 3.3 1-3.2 1 3.3 1-3.1 1 3.2 1-3.1 1 3.2 1-3.2 1 3.2 1-3.3 1 3.1 1-3.3 1 3 1-3.4 1 3 1-3.3 1 3 1-3.3 1 3.1 1-3.2 1 3.3 1-3.1 1 3.5 1-2.9 1 3.6 1-2.8 1 3.5 1-3 1 3.4 1-3.2 1 3.1 1-3.4 1 3 1-3.4 1 2.9 1-3.4 1 3 1-3.2 1 3.3 1-3.1 1 3.5 1-2.9 1 3.7 1-2.8 1 3.7 1-2.7 1 3.7 1-2.7 1 3.7 1-2.7 1 3.6 1-2.9 1 3.5 1-3.1 1 3.3 1-3.2 1 2.9 1-3.7 1 2.6 1-3.9 1 2.5 1-4 1 2.4 1-3.9 1 2.6 1-3.7 1 2.9 1-3.2 1 3.2 1-3.2 1 3.3 1-3.1 1 3.3 1-3.1 1 3.4 1-3.2 1 3.3 1-3.2 1 3.1 1-3.3 1 3.1 1-3.3 1 3 1-3.3 1 3 1-3.3 1 3 1-3.4 1 3 1-3.4 1 2.9 1-3.5" stroke="#0a1ed2" stroke-width=".9"/><path d="M785.5 593.6l1 3.8 1-2.6 1 3.6 1-2.9 1 3.5 1-3.1 1 3.3 1-3.2 1 3.1 1-3.3 1 2.8 1-3.7 1 2.6 1-3.9 1 2.4 1-4 1 2.3 1-4 1 2.4 1-4 1 2.4 1-3.8 1 2.7 1-3.6 1 3 1-3.2 1 3.3 1-3 1 3.6 1-2.8 1 3.6 1-2.7 1 3.8 1-2.7 1 3.8 1-2.7 1 3.7 1-2.8 1 3.6 1-3 1 3.4 1-3.2 1 3 1-3.4 1 2.9 1-3.5 1 3 1-3.2 1 3.3 1-3 1 3.6 1-2.9 1 3.7 1-2.7 1 3.7 1-2.7 1 3.7 1-2.7 1 3.6 1-2.9 1 3.5 1-3.1 1 3.2 1-3.3 1 2.9 1-3.6 1 2.8 1-3.8 1 2.6 1-3.9 1 2.5 1-4 1 2.5 1-4 1 2.4 1-4 1 2.4 1-3.9 1 2.5 1-3.8 1 2.7 1-3.7 1 2.8 1-3.5 1 2.9 1-3.5 1 3 1-3.3 1 3 1-3.3 1 3.2 1-3.2 1 3.3 1-2.9 1 3.5 1-2.8 1 3.7 1-2.7 1 3.8 1-2.7 1 3.7 1-2.7 1 3.6 1-2.8 1 3.4 1-3.1 1 3.2 1-3.4 1 3 1-3.5 1 2.8 1-3.7 1 2.7 1-3.7 1 2.7 1-3.8 1 2.7 1-3.8 1 2.8 1-3.7 1 2.9 1-3.6 1 3 1-3.3 1 3.2 1-3.2 1 3.1 1-3.2 1 3.2 1-3.2 1 3.2 1-3.2 1 3.3 1-3.2 1 3.2 1-3.1 1 3.3 1-3.1 1 3.3 1-3.1 1 3.3 1-3 1 3.4 1-3 1 3.4 1-3 1 3.4 1-3 1 3.4 1-3 1 3.5 1-3 1 3.4 1-3 1 3.4 1-3 1 3.4 1-3 1 3.4 1-3.1 1 3.4 1-3.1 1 3.3 1-3.1 1 3.3 1-3.1 1 3.3 1-3.2 1 3.2 1-3.1 1 3.2 1-3.2 1 3.1 1-3.3 1 2.9 1-3.4 1 2.9 1-3.5 1 2.9 1-3.5 1 3 1-3.4 1 3.1 1-3.2 1 3.3 1-3.1 1 3.4 1-2.9 1 3.5 1-2.9 1 3.6 1-2.9 1 3.7 1-2.6 1 4 1-2.4 1 4 1-2.6 1 3.7 1-2.9 1 3.2 1-3.2 1 3 1-3.5 1 2.8 1-3.6 1 2.7 1-3.7 1 2.7 1-3.7 1 2.7 1-3.6 1 2.9 1-3.4 1 3.1 1-3.2 1 3.3 1-3.1 1 3.4 1-3 1 3.4 1-3 1 3.4 1-2.9 1 3.4 1-2.9 1 3.4 1-2.9 1 3.4 1-3 1 3.4 1-3 1 3.4 1-3.1 1 3.3 1-3.1 1 3.2 1-3.2 1 3.2 1-3.3 1 3.1 1-3.3 1 3 1-3.3 1 3 1-3.3 1 3 1-3.4 1 3.1 1-3.4 1 3.1 1-3.3 1 3 1-3.2 1 3.1 1-3.2 1 3.2 1-3.1 1 3.3 1-3 1 3.5 1-2.9 1 3.6 1-2.8 1 3.6 1-2.8 1 3.7 1-2.8 1 3.6 1-2.9 1 3.5 1-2.9 1 3.4 1-3.1 1 3.2 1-3.3 1 3 1-3.4 1 2.9 1-3.6 1 2.9 1-3.6 1 2.9 1-3.5 1 2.9 1-3.3 1 3.1 1-3.2 1 3.2 1-3 1 3.3 1-3.1 1 3.4 1-3.1 1 3.4 1-3.1 1 3.2 1-3.3 1 2.8 1-3.5 1 3.7 1-2.3 1 3.5 1-3.1 1 3.3 1-3.2 1 3.2 1-3.2 1 3.1 1-3.2 1 3.1 1-3.2 1 3.2 1-3.1 1 3.4 1-3 1 3.4 1-2.9 1 3.6 1-2.9 1 3.6 1-2.8 1 3.7 1-2.7 1 3.7 1-3.2" stroke="#0a1ed2" stroke-width=".9"/><path d="M785.5 595.2l4 1.9 4 .5 3-.6 4-2.6 6-4.9 3-1.5 3-.1 4 1.4 7 3.6 3 .8 3-.4 4-.8 4 1 8 3.7 3 .4 3-.8 5-3 8-6.1 4-2 6-1.4 4 0 4 1.5 6 3 3 .7 4-.7 11-5.3 4-.7 12 .2 10 1.6 15 2.9 10 .6 6-1.3 5-1.1 4 .4 6 2.1 5 3.6 2 .8 3-.2 6-2.6 4-1.7 3-.3 9 1.7 9 1.9 6 .1 15-2 5 .4 12 4.4 4 .2 10-2.8 6 .3 5 .6 3-.8 2 1.4 4 .5 8-.1 6 1.6 5 2.3 1-0" stroke="#0a1ed2" stroke-width="1.9"/><path d="M1111.5 597.5l.5 2.1 .5 3.9 .5 5.4 .5 6.7 .5 7.6 .5 8.2 1 17.1 .5 8.3 .5 7.6 .5 6.7 .5 5.4 .5 3.8 .5 2 1 .1" stroke="#0a1ed2" stroke-width="1.5" stroke-opacity=".85"/><path d="M154.2 394.9l8 14.8 8 13.2 6 8.8 6 7.5 4 4 7 4.9 8 4.2 22 9.4 7 2.2 6-0 7-.4 5 1.1 7 2 3 .1 3-1.1 8-4.7 11-3.3 11-1.7 10-.2 10 1.3 9 2.4 13 5 8 1.5 3 .2 2-.8 5-3.7 2-.3 2 1 5 4 2 .3 3-1.5 3-1.6 2 .4 2 1.6 4 4.9 3 3.8 2 1.6 2 .5 1-.4 2-2.3 3-4.5 1-1 4-.7 10-.4 5-1.6 7-2.7 2-.4 3 1.2 3 1.4 1 0 2-1.1 3-2.5 1-.3 2 .8 11 7.8 10 8.7 3 1.6 1 .1 1-.5 2-2.1 3-3.6 16-9.9 4-3.9 1-.7 1-.1 2 .9 6 5.8 2 .8 3-.9 9-6.2 3-1.2 6-.3 5 1.1 4 2.1 2 1.6 3 4 4 6.2 2 2.5 8 5.8 7 4.1 8 3.4 6 .6 6 .6 1 .3 1 .7 1 1.4 4 8.2 1 1.6 1 .8 1-0 15-9.6 6-3.9 2-.3 3 1.5 5 3.7 2 .6 2-.6 5-4.8 10-11.2 2-1.6 2-.6 1 .2 24 19.4 5 2.4 6 1.2 8 0 9-1.4 8-1.1 4 .4 3 1.2 9 6.8 7 3.9 4 1.3 2-.8 2-2.1 4-5.2 2-1.9 2-.5 5 .8 5 .8 9-1.6 5-1.8" stroke="#0000ff" stroke-width="2.5"/><path d="M154.2 397.4l1-3.1 1 6.9 1-3.1 1 6.9 1-3.2 1 6.8 1-3.2 1 6.8 1-3.3 1 6.7 1-3.3 1 6.7 1-3.4 1 6.6 1-3.3 1 6.5 1-3.4 1 6.5 1-3.5 1 6.4 1-3.6 1 6.4 1-3.7 1 6.3 1-3.7 1 6.3 1-3.8 1 6.1 1-3.9 1 6 1-4 1 5.9 1-4.2 1 5.7 1-4.2 1 5.7 1-4.4 1 5.7 1-4.4 1 5.6 1-4.4 1 5.6 1-4.5 1 5.5 1-4.5 1 5.4 1-4.5 1 5.5 1-4.6 1 5.5 1-4.6 1 5.5 1-4.6 1 5.4 1-4.5 1 5.4 1-4.6 1 5.5 1-4.6 1 5.4 1-4.6 1 5.5 1-4.6 1 5.4 1-4.6 1 5.4 1-4.6 1 5.4 1-4.6 1 5.4 1-4.7 1 5.3 1-4.6 1 5.3 1-4.7 1 5.2 1-4.9 1 5 1-4.9 1 4.9 1-5 1 4.9 1-5.1 1 4.9 1-5.1 1 4.9 1-5.1 1 5 1-4.9 1 5.1 1-4.8 1 5.2 1-4.7 1 5.3 1-4.6 1 5.3 1-4.7 1 5.4 1-4.8 1 5.3 1-4.9 1 5.1 1-5 1 5 1-5.3 1 4.7 1-5.5 1 4.5 1-5.6 1 4.3 1-5.6 1 4.3 1-5.6 1 4.5 1-5.5 1 4.7 1-5.4 1 4.7 1-5.3 1 4.7 1-5.3 1 4.7 1-5.3 1 4.7 1-5.3 1 4.8 1-5.2 1 4.8 1-5.2 1 4.8 1-5.1 1 4.8 1-5.1 1 4.8 1-5.1 1 4.9 1-5.1 1 4.9 1-5.1 1 5 1-5.1 1 5 1-5 1 5 1-5 1 5 1-4.9 1 5 1-4.9 1 5.1 1-4.9 1 5.1 1-4.8 1 5.1 1-4.8 1 5.2 1-4.8 1 5.2 1-4.8 1 5.3 1-4.8 1 5.3 1-4.8 1 5.3 1-4.6 1 5.3 1-4.6 1 5.4 1-4.6 1 5.4 1-4.6 1 5.4 1-4.5 1 5.4 1-4.6 1 5.3 1-4.6 1 5.3 1-4.7 1 5.3 1-4.7 1 5.2 1-4.8 1 5.1 1-4.8 1 5.1 1-4.9 1 5.1 1-4.9 1 5 1-5.3 1 4.5 1-5.7 1 4.1 1-5.8 1 4.3 1-5.6 1 4.7 1-5 1 5.3 1-4.3 1 5.8 1-4.1 1 5.9 1-4.2 1 5.6 1-4.7 1 5 1-5.3 1 4.4 1-5.6 1 4.3 1-5.6 1 4.7 1-5 1 5.4 1-4.4 1 6 1-4 1 6.3 1-3.7 1 6.3 1-3.6 1 6.2 1-3.8 1 5.9 1-4.3 1 5.4 1-4.9 1 4.6 1-6 1 3.7 1-6.6 1 3.4 1-6.3 1 4 1-5.4 1 4.9 1-5.1 1 4.9 1-5.1 1 5 1-5 1 5 1-5 1 5 1-5.1 1 5 1-5.1 1 4.9 1-5.2 1 4.7 1-5.3 1 4.6 1-5.4 1 4.6 1-5.4 1 4.5 1-5.4 1 4.6 1-5.3 1 4.7 1-5.3 1 4.9 1-4.8 1 5.4 1-4.4 1 5.6 1-4.5 1 5.3 1-5 1 4.6 1-5.7 1 4.1 1-5.9 1 4.3 1-5.3 1 5.2 1-4.4 1 5.7 1-4.4 1 5.7 1-4.3 1 5.7 1-4.3 1 5.8 1-4.3 1 5.7 1-4.2 1 5.7 1-4.2 1 5.9 1-4.1 1 5.9 1-4.1 1 5.9 1-4.1 1 5.9 1-4.2 1 5.8 1-4.4 1 5.6 1-4.6 1 5.1 1-5.5 1 4.1 1-6.2 1 3.7 1-6.3 1 4 1-5.7 1 4.4 1-5.7 1 4.4 1-5.6 1 4.4 1-5.6 1 4.4 1-5.6 1 4.4 1-5.6 1 4.4 1-5.6 1 4.4 1-5.6 1 4.3 1-5.9 1 4 1-6.1 1 4.1 1-5.7 1 4.9 1-4.7 1 5.6 1-4.2 1 6 1-3.9 1 6.1 1-4 1 5.8 1-4.4 1 5.2 1-5.2 1 4.7 1-5.4 1 4.4 1-5.7 1 4.3 1-5.7 1 4.2 1-5.7 1 4.2 1-5.6 1 4.4 1-5.5 1 4.6 1-5.3 1 4.9 1-5.1 1 4.9 1-5 1 5 1-5 1 5.1 1-4.8 1 5.2 1-4.8 1 5.4 1-4.6 1 5.5 1-4.5 1 5.7 1-4.3 1 5.9 1-3.9 1 6.4 1-3.5 1 6.6 1-3.4 1 6.6 1-3.6 1 6.4 1-3.9 1 5.9 1-4.3 1 5.8 1-4.3 1 5.7 1-4.3 1 5.7 1-4.4 1 5.7 1-4.3 1 5.6 1-4.5 1 5.6 1-4.5 1 5.5 1-4.5 1 5.4 1-4.5 1 5.4 1-4.6 1 5.5 1-4.6 1 5.3 1-4.8 1 5.2 1-4.9 1 5.1 1-5 1 5 1-5 1 5.1 1-5 1 5.1 1-4.8 1 5.2 1-4.7 1 5.7 1-3.6 1 6.9 1-2.9 1 7.2 1-3 1 6.6 1-4.2 1 5 1-5.6 1 4.4 1-5.6 1 4.4 1-5.6 1 4.4 1-5.7 1 4.4 1-5.7 1 4.4 1-5.7 1 4.4 1-5.7 1 4.3 1-5.7 1 4.4 1-5.7 1 4.3 1-5.7 1 4.4 1-5.6 1 4.7 1-5 1 5.3 1-4.5 1 5.7 1-4.3 1 5.8 1-4.2 1 5.8 1-4.4 1 5.4 1-4.8 1 4.9 1-5.5 1 4.2 1-5.9 1 4 1-6 1 3.9 1-6.1 1 3.9 1-6.1 1 3.8 1-6.2 1 3.8 1-6.1 1 3.9 1-6.1 1 4 1-5.9 1 4.3 1-5.5 1 4.9 1-4.8 1 5.7 1-4.2 1 5.8 1-4.2 1 5.9 1-4.2 1 5.8 1-4.2 1 5.9 1-4.2 1 5.8 1-4.2 1 5.9 1-4.2 1 5.8 1-4.2 1 5.8 1-4.1 1 5.8 1-4.2 1 5.8 1-4.2 1 5.8 1-4.3 1 5.6 1-4.5 1 5.5 1-4.6 1 5.4 1-4.7 1 5.2 1-4.7 1 5.1 1-4.8 1 5.1 1-4.9 1 5 1-5 1 5.1 1-5 1 4.9 1-5 1 4.9 1-5.1 1 4.9 1-5.1 1 4.9 1-5.2 1 4.8 1-5.2 1 4.8 1-5.2 1 4.8 1-5.2 1 4.8 1-5.2 1 4.9 1-5.1 1 4.9 1-5 1 5 1-4.9 1 5.1 1-4.8 1 5.3 1-4.6 1 5.5 1-4.3 1 5.7 1-4.2 1 5.8 1-4.1 1 5.8 1-4.3 1 5.7 1-4.3 1 5.6 1-4.4 1 5.6 1-4.4 1 5.5 1-4.5 1 5.5 1-4.6 1 5.3 1-4.7 1 5.3 1-5.2 1 4.4 1-5.9 1 3.8 1-6.2 1 3.6 1-6.3 1 3.7 1-6 1 4.1 1-5.4 1 4.9 1-5 1 5.1 1-4.8 1 5.2 1-4.7 1 5.2 1-4.8 1 5.2 1-4.8 1 5 1-5.1 1 4.9 1-5.2 1 4.9 1-5.2 1 4.8 1-5.2 1 4.7 1-5.2 1 4.7 1-5.3 1 4.6 1-5.4 1 4.6" stroke="#0000ff" stroke-width=".9"/><path d="M785.5 522.1l1-3.7 1 6.1 1-4 1 5.8 1-4.4 1 5.4 1-4.7 1 5.2 1-5.1 1 4.8 1-5.5 1 4.2 1-6 1 3.8 1-6.3 1 3.5 1-6.5 1 3.4 1-6.5 1 3.5 1-6.4 1 3.7 1-6.1 1 4.1 1-5.6 1 4.6 1-5 1 5.3 1-4.3 1 5.9 1-3.8 1 6.2 1-3.7 1 6.3 1-3.7 1 6 1-4.1 1 5.6 1-4.8 1 5 1-5.1 1 4.7 1-5.3 1 4.7 1-5.2 1 4.8 1-5.1 1 5.2 1-4.7 1 5.4 1-4.5 1 5.6 1-4.3 1 5.7 1-4.3 1 5.8 1-4.3 1 5.7 1-4.3 1 5.6 1-4.5 1 5.3 1-4.7 1 5.1 1-5.1 1 4.8 1-5.3 1 4.4 1-5.6 1 4.3 1-5.9 1 4.1 1-6.1 1 3.9 1-6.1 1 3.6 1-6.7 1 3.3 1-6.8 1 3.4 1-6.3 1 4 1-5.9 1 4.2 1-5.7 1 4.5 1-5.5 1 4.7 1-5.3 1 4.9 1-5 1 5 1-4.8 1 5.2 1-4.7 1 5.4 1-4.4 1 5.7 1-4.3 1 5.8 1-4.2 1 5.8 1-4.2 1 5.6 1-4.4 1 5.6 1-4.6 1 5.3 1-5.1 1 4.5 1-5.7 1 4.2 1-5.9 1 4.1 1-5.8 1 4.1 1-5.7 1 4.2 1-5.8 1 4.2 1-5.8 1 4.3 1-5.6 1 4.5 1-5.3 1 4.9 1-5 1 5.1 1-4.9 1 5.2 1-4.8 1 5.2 1-4.8 1 5.1 1-5 1 5 1-5 1 5 1-5 1 5 1-5 1 5 1-5 1 5 1-4.9 1 5.1 1-4.8 1 5.2 1-4.7 1 5.3 1-4.7 1 5.8 1-3.9 1 6.2 1-3.9 1 5.8 1-4.8 1 5 1-5.1 1 4.8 1-5.3 1 4.8 1-5.1 1 5 1-4.9 1 5.1 1-4.9 1 5.1 1-4.9 1 5.1 1-5 1 5 1-5.1 1 4.8 1-5.2 1 4.8 1-5.3 1 4.8 1-5.3 1 4.7 1-5.2 1 4.8 1-5.2 1 5 1-5 1 5.1 1-4.7 1 5.3 1-4.7 1 5.4 1-4.5 1 5.4 1-4.4 1 6 1-3.6 1 6.5 1-3.5 1 6.5 1-3.7 1 6 1-4.4 1 5.1 1-5.2 1 4.7 1-5.7 1 4.3 1-5.9 1 4.1 1-6 1 4 1-5.9 1 4.2 1-5.7 1 4.5 1-5.3 1 5 1-4.9 1 5.1 1-4.8 1 5.1 1-4.8 1 5.3 1-4.8 1 5.3 1-4.6 1 5.3 1-4.6 1 5.5 1-4.4 1 5.7 1-4.3 1 5.8 1-4.2 1 5.8 1-4.4 1 5.5 1-4.6 1 5.2 1-4.9 1 5 1-5 1 4.9 1-5.2 1 4.7 1-5.3 1 4.7 1-5.3 1 4.7 1-5.4 1 4.7 1-5.3 1 4.8 1-5.3 1 4.9 1-5.1 1 5 1-4.9 1 5.2 1-4.7 1 5.4 1-4.5 1 5.6 1-4.4 1 5.7 1-4.3 1 5.7 1-4.3 1 5.6 1-4.3 1 5.5 1-4.4 1 5.4 1-4.7 1 5.2 1-4.9 1 4.9 1-5.4 1 4.6 1-5.7 1 4.4 1-5.8 1 4.3 1-5.7 1 4.4 1-5.5 1 4.7 1-5.1 1 5 1-4.8 1 5.3 1-4.7 1 5.4 1-4.6 1 5.4 1-4.7 1 5.2 1-4.8 1 4.8 1-5.8 1 4.5 1-3.8 1 6.7 1-4.5 1 5.3 1-4.9 1 5.1 1-5 1 5 1-5 1 4.9 1-5 1 5.1 1-5 1 5.2 1-4.8 1 5.4 1-4.6 1 5.4 1-4.6 1 5.5 1-4.6 1 5.6 1-4.5 1 5.6 1-4.3 1 5" stroke="#0000ff" stroke-width=".9"/><path d="M785.5 519.6l3 3.4 3 1.8 3 .4 2-.7 2-1.8 3-4 5-7.5 3-3.3 2-1 2 .3 2 1.6 6 7.3 2 1.5 2 .2 6-1.4 3 .4 4 2.2 7 4.9 3 1.1 3-.2 3-1.5 4-3.6 3-3.6 4-6.8 2-2.3 3-2.4 3-1.3 4-.4 4 1.1 4 2.8 5 3.6 3 1.3 1-.1 3-2 10-8.1 3-1.4 4 .1 6 .9 11 .2 5 1.3 2 1.9 2 2.3 1 .8 2 .2 6-.9 8 .6 6-1.2 6-1.2 4 .7 5 2.2 2 2.4 4 5.8 1 1 1 .6 2-.1 3-1.7 6-5.5 2-1.2 2-.3 7 1.2 5 1.9 7 5 3 1.1 4-0 12-3.3 4 .2 4 1.8 8 5.2 3 1.3 3 .2 3-1.5 5-3.4 3-.9 4 .8 5 1.7 2 0 1-.8 1-.5 1 1.2 1 1.7 2 .8 10 .4 6 2.3 5 2.8 1 0" stroke="#0000ff" stroke-width="2.5"/><path d="M1111.5 528.2l.5 3.9 .5 7 .5 9.8 .5 12.1 .5 13.8 .5 15 1 31.1 .5 14.9 .5 13.8 .5 12.2 .5 9.8 .5 7 .5 3.5 .5 .3 .5 0" stroke="#0000ff" stroke-width="1.5" stroke-opacity=".85"/><path d="M760.9 499V680" stroke="#0000ff" stroke-width="1" stroke-dasharray="1 9" stroke-opacity=".55"/><path d="M785.2 520V680" stroke="#0519d7" stroke-width="1.1" stroke-dasharray="1 3.2" stroke-opacity=".75"/><path d="M785.6 640V680" stroke="#00870f" stroke-width="1" stroke-dasharray="1 2" stroke-opacity=".6"/><path d="M154.2 682.6l606.5 0" stroke="#004182" stroke-width="3.6"/><path d="M785.5 682.6l326.5 .3" stroke="#004182" stroke-width="3.6"/><path d="M154.2 682.8l1-.7 1 .7 1-.7 1 .7 1-.7 1 .7 1-.7 1 .7 1-.7 1 .7 1-.7 1 .7 1-.7 1 .7 1-.7 1 .7 1-.7 1 .7 1-.7 1 .7 1-.7 1 .7 1-.7 1 .7 1-.7 1 .7 1-.7 1 .7 1-.7 1 .7 1-.7 1 .7 1-.7 1 .7 1-.7 1 .7 1-.7 1 .7 1-.7 1 .7 1-.7 1 .7 1-.7 1 .7 1-.7 1 .7 1-.7 1 .7 1-.7 1 .7 1-.7 1 .7 1-.7 1 .7 1-.7 1 .7 1-.7 1 .7 1-.7 1 .7 1-.7 1 .7 1-.7 1 .7 1-.7 1 .7 1-.7 1 .7 1-.7 1 .7 1-.7 1 .7 1-.7 1 .7 1-.7 1 .7 1-.7 1 .7 1-.7 1 .7 1-.7 1 .7 1-.7 1 .7 1-.7 1 .7 1-.7 1 .7 1-.7 1 .7 1-.7 1 .7 1-.7 1 .7 1-.7 1 .7 1-.7 1 .7 1-.7 1 .7 1-.7 1 .7 1-.7 1 .7 1-.7 1 .7 1-.7 1 .7 1-.7 1 .7 1-.7 1 .7 1-.7 1 .7 1-.7 1 .7 1-.7 1 .7 1-.7 1 .7 1-.7 1 .7 1-.7 1 .7 1-.7 1 .7 1-.7 1 .7 1-.7 1 .7 1-.7 1 .7 1-.7 1 .7 1-.7 1 .7 1-.7 1 .7 1-.7 1 .7 1-.7 1 .7 1-.7 1 .7 1-.7 1 .7 1-.7 1 .7 1-.7 1 .7 1-.7 1 .7 1-.7 1 .7 1-.7 1 .7 1-.7 1 .7 1-.7 1 .7 1-.7 1 .7 1-.7 1 .7 1-.7 1 .7 1-.7 1 .7 1-.7 1 .7 1-.7 1 .7 1-.7 1 .7 1-.7 1 .7 1-.7 1 .7 1-.7 1 .7 1-.7 1 .7 1-.7 1 .7 1-.7 1 .7 1-.7 1 .7 1-.7 1 .7 1-.7 1 .7 1-.7 1 .7 1-.7 1 .7 1-.7 1 .7 1-.7 1 .7 1-.7 1 .7 1-.7 1 .7 1-.7 1 .7 1-.7 1 .7 1-.7 1 .7 1-.7 1 .7 1-.7 1 .7 1-.7 1 .7 1-.7 1 .7 1-.7 1 .7 1-.7 1 .7 1-.7 1 .7 1-.7 1 .7 1-.7 1 .7 1-.7 1 .7 1-.7 1 .7 1-.7 1 .7 1-.7 1 .7 1-.7 1 .7 1-.7 1 .7 1-.7 1 .7 1-.7 1 .7 1-.7 1 .7 1-.7 1 .7 1-.7 1 .7 1-.7 1 .7 1-.7 1 .7 1-.7 1 .7 1-.7 1 .7 1-.7 1 .7 1-.7 1 .7 1-.7 1 .7 1-.7 1 .7 1-.7 1 .7 1-.7 1 .7 1-.7 1 .7 1-.7 1 .7 1-.7 1 .7 1-.7 1 .7 1-.7 1 .7 1-.7 1 .7 1-.7 1 .7 1-.7 1 .7 1-.7 1 .7 1-.7 1 .7 1-.7 1 .7 1-.7 1 .7 1-.7 1 .7 1-.7 1 .7 1-.7 1 .7 1-.7 1 .7 1-.7 1 .7 1-.7 1 .7 1-.7 1 .7 1-.7 1 .7 1-.7 1 .7 1-.7 1 .7 1-.7 1 .7 1-.7 1 .7 1-.7 1 .7 1-.7 1 .7 1-.7 1 .7 1-.7 1 .7 1-.7 1 .7 1-.7 1 .7 1-.7 1 .7 1-.7 1 .7 1-.7 1 .7 1-.7 1 .7 1-.7 1 .7 1-.7 1 .7 1-.7 1 .7 1-.7 1 .7 1-.7 1 .7 1-.7 1 .7 1-.7 1 .7 1-.7 1 .7 1-.7 1 .7 1-.7 1 .7 1-.7 1 .7 1-.7 1 .7 1-.7 1 .7 1-.7 1 .7 1-.7 1 .7 1-.7 1 .7 1-.7 1 .7 1-.7 1 .7 1-.7 1 .7 1-.7 1 .7 1-.7 1 .7 1-.7 1 .7 1-.7 1 .7 1-.7 1 .7 1-.7 1 .7 1-.7 1 .7 1-.7 1 .7 1-.7 1 .7 1-.7 1 .7 1-.7 1 .7 1-.7 1 .7 1-.7 1 .7 1-.7 1 .7 1-.7 1 .7 1-.7 1 .7 1-.7 1 .7 1-.7 1 .7 1-.7 1 .7 1-.7 1 .7 1-.7 1 .7 1-.7 1 .7 1-.7 1 .7 1-.7 1 .7 1-.7 1 .7 1-.7 1 .7 1-.7 1 .7 1-.7 1 .7 1-.7 1 .7 1-.7 1 .7 1-.7 1 .7 1-.7 1 .7 1-.7 1 .7 1-.7 1 .7 1-.7 1 .7 1-.7 1 .7 1-.7 1 .7 1-.7 1 .7 1-.7 1 .7 1-.7 1 .7 1-.7 1 .7 1-.7 1 .7 1-.7 1 .7 1-.7 1 .7 1-.7 1 .7 1-.7 1 .7 1-.7 1 .7 1-.7 1 .7 1-.7 1 .7 1-.7 1 .7 1-.7 1 .7 1-.7 1 .7 1-.7 1 .7 1-.7 1 .7 1-.7 1 .7 1-.7 1 .7 1-.7 1 .7 1-.7 1 .7 1-.7 1 .7 1-.7 1 .7 1-.7 1 .7 1-.7 1 .7 1-.7 1 .7 1-.7 1 .7 1-.7 1 .7 1-.7 1 .7 1-.7 1 .7 1-.7 1 .7 1-.7 1 .7 1-.7 1 .7 1-.7 1 .7 1-.7 1 .7 1-.7 1 .7 1-.7 1 .7 1-.7 1 .7 1-.7 1 .7 1-.7 1 .7 1-.7 1 .7 1-.7 1 .7 1-.7 1 .7 1-.7 1 .7 1-.7 1 .7 1-.7 1 .7 1-.7 1 .7 1-.7 1 .7 1-.7 1 .7 1-.7 1 .7 1-.7 1 .7 1-.7 1 .7 1-.7 1 .7 1-.7 1 .7 1-.7 1 .7 1-.7 1 .7 1-.7 1 .7 1-.7 1 .7 1-.7 1 .7 1-.7 1 .7 1-.7 1 .7 1-.7 1 .7 1-.7 1 .7 1-.7 1 .7 1-.7 1 .7 1-.7 1 .7 1-.7 1 .7 1-.7 1 .7 1-.7 1 .7 1-.7 1 .7 1-.7 1 .7 1-.7 1 .7 1-.7 1 .7 1-.7 1 .7 1-.7 1 .7 1-.7 1 .7 1-.7 1 .7 1-.7 1 .7" stroke="#0000ff" stroke-width="3"/><path d="M785.5 682.8l1-.7 1 .7 1-.7 1 .7 1-.7 1 .7 1-.7 1 .7 1-.7 1 .7 1-.7 1 .7 1-.7 1 .7 1-.7 1 .7 1-.7 1 .7 1-.7 1 .7 1-.7 1 .7 1-.7 1 .7 1-.7 1 .7 1-.7 1 .7 1-.7 1 .7 1-.7 1 .7 1-.7 1 .7 1-.7 1 .7 1-.7 1 .7 1-.7 1 .7 1-.7 1 .7 1-.7 1 .7 1-.7 1 .7 1-.7 1 .7 1-.7 1 .7 1-.7 1 .7 1-.7 1 .7 1-.7 1 .7 1-.7 1 .7 1-.7 1 .7 1-.7 1 .7 1-.7 1 .7 1-.7 1 .7 1-.7 1 .7 1-.7 1 .7 1-.7 1 .7 1-.7 1 .7 1-.7 1 .7 1-.7 1 .7 1-.7 1 .7 1-.7 1 .7 1-.7 1 .7 1-.7 1 .7 1-.7 1 .7 1-.7 1 .7 1-.7 1 .7 1-.7 1 .7 1-.7 1 .7 1-.7 1 .7 1-.7 1 .7 1-.7 1 .7 1-.7 1 .7 1-.7 1 .7 1-.7 1 .7 1-.7 1 .7 1-.7 1 .7 1-.7 1 .7 1-.7 1 .7 1-.7 1 .7 1-.7 1 .7 1-.7 1 .7 1-.7 1 .7 1-.7 1 .7 1-.7 1 .7 1-.7 1 .7 1-.7 1 .7 1-.7 1 .7 1-.7 1 .7 1-.7 1 .7 1-.7 1 .7 1-.7 1 .7 1-.7 1 .7 1-.7 1 .7 1-.7 1 .7 1-.7 1 .7 1-.7 1 .7 1-.7 1 .7 1-.7 1 .7 1-.7 1 .7 1-.7 1 .7 1-.7 1 .7 1-.7 1 .7 1-.7 1 .7 1-.7 1 .7 1-.7 1 .7 1-.7 1 .7 1-.7 1 .7 1-.7 1 .7 1-.7 1 .7 1-.7 1 .7 1-.7 1 .7 1-.7 1 .7 1-.7 1 .7 1-.7 1 .7 1-.7 1 .7 1-.7 1 .7 1-.7 1 .7 1-.7 1 .7 1-.7 1 .7 1-.7 1 .7 1-.7 1 .7 1-.7 1 .7 1-.7 1 .7 1-.7 1 .7 1-.7 1 .7 1-.7 1 .7 1-.7 1 .7 1-.7 1 .7 1-.7 1 .7 1-.7 1 .7 1-.7 1 .7 1-.7 1 .7 1-.7 1 .7 1-.7 1 .7 1-.7 1 .7 1-.7 1 .7 1-.7 1 .7 1-.7 1 .7 1-.7 1 .7 1-.7 1 .7 1-.7 1 .7 1-.7 1 .7 1-.7 1 .7 1-.7 1 .7 1-.7 1 .7 1-.7 1 .7 1-.7 1 .7 1-.7 1 .7 1-.7 1 .7 1-.7 1 .7 1-.7 1 .7 1-.7 1 .7 1-.7 1 .7 1-.7 1 .7 1-.7 1 .7 1-.7 1 .7 1-.7 1 .7 1-.7 1 .7 1-.7 1 .7 1-.7 1 .7 1-.7 1 .7 1-.7 1 .7 1-.7 1 .7 1-.7 1 .7 1-.7 1 .7 1-.7 1 .7 1-.7 1 .7 1-.7 1 .7 1-.7 1 .7 1-.7 1 .7 1-.7 1 .7 1-.7 1 .7 1-.7 1 .7 1-.7 1 .7 1-.7 1 .7 1-.7 1 .7 1-.7 1 .7 1-.7 1 .7 1-.7 1 .7 1-.7 1 .7 1-.7 1 .7 1-.7 1 .7 1-.7 1 .7 1-.7" stroke="#0000ff" stroke-width="3"/><path d="M760.7 681L761.5 677.8L763.5 677.6L766 678.6L769 679.8L772 680.8L776 681L780 681L783.4 681.2L785 681.2L785.6 681L785.6 684.3L785 686.2L783.4 686.8L780 685.6L776 685.2L772 684.6L769 684.4L766 684.3L763.5 684.2L761.5 684.2L760.7 684.3Z" fill="#0000ff" stroke="#0000ff" stroke-width=".6"/><path d="M1117.5 681.9l18.3 0" stroke="#0000ff" stroke-width="1.7"/><path d="M1112.5 681.2L1116 682L1118.2 683.6L1122 685.6L1126.7 686L1130 685.6L1135.8 685.4L1135.8 689.3L1130 689.3L1126.7 689.3L1122 688.4L1118.2 686.2L1116 685L1112.5 684.4Z" fill="#0000ff" stroke="#0000ff" stroke-width=".5"/></g><g stroke="#000" stroke-width="1.11" fill="none" stroke-linecap="square"><rect x="74.4" y="65.4" width="1155.1" height="208"/><rect x="74.4" y="273.4" width="1155.1" height="208"/><rect x="74.4" y="481.4" width="1155.1" height="207.9"/></g><path d="M74.4 65.4v-2.78M74.4 273.4v2.78M74.4 481.4v2.78M74.4 689.3v2.78M92.45 65.4v-2.78M92.45 273.4v2.78M92.45 481.4v2.78M92.45 689.3v2.78M110.5 65.4v-4.86M110.5 273.4v4.86M110.5 481.4v4.86M110.5 689.3v4.86M128.55 65.4v-2.78M128.55 273.4v2.78M128.55 481.4v2.78M128.55 689.3v2.78M146.6 65.4v-2.78M146.6 273.4v2.78M146.6 481.4v2.78M146.6 689.3v2.78M164.65 65.4v-2.78M164.65 273.4v2.78M164.65 481.4v2.78M164.65 689.3v2.78M182.69 65.4v-2.78M182.69 273.4v2.78M182.69 481.4v2.78M182.69 689.3v2.78M200.74 65.4v-2.78M200.74 273.4v2.78M200.74 481.4v2.78M200.74 689.3v2.78M218.79 65.4v-4.86M218.79 273.4v4.86M218.79 481.4v4.86M218.79 689.3v4.86M236.84 65.4v-2.78M236.84 273.4v2.78M236.84 481.4v2.78M236.84 689.3v2.78M254.89 65.4v-2.78M254.89 273.4v2.78M254.89 481.4v2.78M254.89 689.3v2.78M272.94 65.4v-2.78M272.94 273.4v2.78M272.94 481.4v2.78M272.94 689.3v2.78M290.98 65.4v-2.78M290.98 273.4v2.78M290.98 481.4v2.78M290.98 689.3v2.78M309.03 65.4v-2.78M309.03 273.4v2.78M309.03 481.4v2.78M309.03 689.3v2.78M327.08 65.4v-4.86M327.08 273.4v4.86M327.08 481.4v4.86M327.08 689.3v4.86M345.13 65.4v-2.78M345.13 273.4v2.78M345.13 481.4v2.78M345.13 689.3v2.78M363.18 65.4v-2.78M363.18 273.4v2.78M363.18 481.4v2.78M363.18 689.3v2.78M381.23 65.4v-2.78M381.23 273.4v2.78M381.23 481.4v2.78M381.23 689.3v2.78M399.27 65.4v-2.78M399.27 273.4v2.78M399.27 481.4v2.78M399.27 689.3v2.78M417.32 65.4v-2.78M417.32 273.4v2.78M417.32 481.4v2.78M417.32 689.3v2.78M435.37 65.4v-4.86M435.37 273.4v4.86M435.37 481.4v4.86M435.37 689.3v4.86M453.42 65.4v-2.78M453.42 273.4v2.78M453.42 481.4v2.78M453.42 689.3v2.78M471.47 65.4v-2.78M471.47 273.4v2.78M471.47 481.4v2.78M471.47 689.3v2.78M489.52 65.4v-2.78M489.52 273.4v2.78M489.52 481.4v2.78M489.52 689.3v2.78M507.56 65.4v-2.78M507.56 273.4v2.78M507.56 481.4v2.78M507.56 689.3v2.78M525.61 65.4v-2.78M525.61 273.4v2.78M525.61 481.4v2.78M525.61 689.3v2.78M543.66 65.4v-4.86M543.66 273.4v4.86M543.66 481.4v4.86M543.66 689.3v4.86M561.71 65.4v-2.78M561.71 273.4v2.78M561.71 481.4v2.78M561.71 689.3v2.78M579.76 65.4v-2.78M579.76 273.4v2.78M579.76 481.4v2.78M579.76 689.3v2.78M597.81 65.4v-2.78M597.81 273.4v2.78M597.81 481.4v2.78M597.81 689.3v2.78M615.85 65.4v-2.78M615.85 273.4v2.78M615.85 481.4v2.78M615.85 689.3v2.78M633.9 65.4v-2.78M633.9 273.4v2.78M633.9 481.4v2.78M633.9 689.3v2.78M651.95 65.4v-4.86M651.95 273.4v4.86M651.95 481.4v4.86M651.95 689.3v4.86M670 65.4v-2.78M670 273.4v2.78M670 481.4v2.78M670 689.3v2.78M688.05 65.4v-2.78M688.05 273.4v2.78M688.05 481.4v2.78M688.05 689.3v2.78M706.1 65.4v-2.78M706.1 273.4v2.78M706.1 481.4v2.78M706.1 689.3v2.78M724.14 65.4v-2.78M724.14 273.4v2.78M724.14 481.4v2.78M724.14 689.3v2.78M742.19 65.4v-2.78M742.19 273.4v2.78M742.19 481.4v2.78M742.19 689.3v2.78M760.24 65.4v-4.86M760.24 273.4v4.86M760.24 481.4v4.86M760.24 689.3v4.86M778.29 65.4v-2.78M778.29 273.4v2.78M778.29 481.4v2.78M778.29 689.3v2.78M796.34 65.4v-2.78M796.34 273.4v2.78M796.34 481.4v2.78M796.34 689.3v2.78M814.39 65.4v-2.78M814.39 273.4v2.78M814.39 481.4v2.78M814.39 689.3v2.78M832.43 65.4v-2.78M832.43 273.4v2.78M832.43 481.4v2.78M832.43 689.3v2.78M850.48 65.4v-2.78M850.48 273.4v2.78M850.48 481.4v2.78M850.48 689.3v2.78M868.53 65.4v-4.86M868.53 273.4v4.86M868.53 481.4v4.86M868.53 689.3v4.86M886.58 65.4v-2.78M886.58 273.4v2.78M886.58 481.4v2.78M886.58 689.3v2.78M904.63 65.4v-2.78M904.63 273.4v2.78M904.63 481.4v2.78M904.63 689.3v2.78M922.67 65.4v-2.78M922.67 273.4v2.78M922.67 481.4v2.78M922.67 689.3v2.78M940.72 65.4v-2.78M940.72 273.4v2.78M940.72 481.4v2.78M940.72 689.3v2.78M958.77 65.4v-2.78M958.77 273.4v2.78M958.77 481.4v2.78M958.77 689.3v2.78M976.82 65.4v-4.86M976.82 273.4v4.86M976.82 481.4v4.86M976.82 689.3v4.86M994.87 65.4v-2.78M994.87 273.4v2.78M994.87 481.4v2.78M994.87 689.3v2.78M1012.92 65.4v-2.78M1012.92 273.4v2.78M1012.92 481.4v2.78M1012.92 689.3v2.78M1030.97 65.4v-2.78M1030.97 273.4v2.78M1030.97 481.4v2.78M1030.97 689.3v2.78M1049.01 65.4v-2.78M1049.01 273.4v2.78M1049.01 481.4v2.78M1049.01 689.3v2.78M1067.06 65.4v-2.78M1067.06 273.4v2.78M1067.06 481.4v2.78M1067.06 689.3v2.78M1085.11 65.4v-4.86M1085.11 273.4v4.86M1085.11 481.4v4.86M1085.11 689.3v4.86M1103.16 65.4v-2.78M1103.16 273.4v2.78M1103.16 481.4v2.78M1103.16 689.3v2.78M1121.21 65.4v-2.78M1121.21 273.4v2.78M1121.21 481.4v2.78M1121.21 689.3v2.78M1139.26 65.4v-2.78M1139.26 273.4v2.78M1139.26 481.4v2.78M1139.26 689.3v2.78M1157.3 65.4v-2.78M1157.3 273.4v2.78M1157.3 481.4v2.78M1157.3 689.3v2.78M1175.35 65.4v-2.78M1175.35 273.4v2.78M1175.35 481.4v2.78M1175.35 689.3v2.78M1193.4 65.4v-4.86M1193.4 273.4v4.86M1193.4 481.4v4.86M1193.4 689.3v4.86M1211.45 65.4v-2.78M1211.45 273.4v2.78M1211.45 481.4v2.78M1211.45 689.3v2.78M1229.5 65.4v-2.78M1229.5 273.4v2.78M1229.5 481.4v2.78M1229.5 689.3v2.78M74.4 273.4h-4.86M74.4 268.97h-4.2M74.4 264.55h-4.2M74.4 260.12h-4.2M74.4 255.7h-4.2M74.4 251.27h-4.86M74.4 246.85h-4.2M74.4 242.42h-4.2M74.4 238h-4.2M74.4 233.57h-4.2M74.4 229.14h-4.86M74.4 224.72h-4.2M74.4 220.29h-4.2M74.4 215.87h-4.2M74.4 211.44h-4.2M74.4 207.02h-4.86M74.4 202.59h-4.2M74.4 198.17h-4.2M74.4 193.74h-4.2M74.4 189.31h-4.2M74.4 184.89h-4.2M74.4 180.46h-4.86M74.4 176.04h-4.2M74.4 171.61h-4.2M74.4 167.19h-4.2M74.4 162.76h-4.2M74.4 158.34h-4.86M74.4 153.91h-4.2M74.4 149.49h-4.2M74.4 145.06h-4.2M74.4 140.63h-4.2M74.4 136.21h-4.86M74.4 131.78h-4.2M74.4 127.36h-4.2M74.4 122.93h-4.2M74.4 118.51h-4.2M74.4 114.08h-4.2M74.4 109.66h-4.86M74.4 105.23h-4.2M74.4 100.8h-4.2M74.4 96.38h-4.2M74.4 91.95h-4.2M74.4 87.53h-4.86M74.4 83.1h-4.2M74.4 78.68h-4.2M74.4 74.25h-4.2M74.4 69.83h-4.2M74.4 65.4h-4.86M74.4 481.4h-4.86M74.4 476.97h-4.2M74.4 472.55h-4.2M74.4 468.12h-4.2M74.4 463.7h-4.2M74.4 459.27h-4.86M74.4 454.85h-4.2M74.4 450.42h-4.2M74.4 446h-4.2M74.4 441.57h-4.2M74.4 437.14h-4.86M74.4 432.72h-4.2M74.4 428.29h-4.2M74.4 423.87h-4.2M74.4 419.44h-4.2M74.4 415.02h-4.86M74.4 410.59h-4.2M74.4 406.17h-4.2M74.4 401.74h-4.2M74.4 397.31h-4.2M74.4 392.89h-4.2M74.4 388.46h-4.86M74.4 384.04h-4.2M74.4 379.61h-4.2M74.4 375.19h-4.2M74.4 370.76h-4.2M74.4 366.34h-4.86M74.4 361.91h-4.2M74.4 357.49h-4.2M74.4 353.06h-4.2M74.4 348.63h-4.2M74.4 344.21h-4.86M74.4 339.78h-4.2M74.4 335.36h-4.2M74.4 330.93h-4.2M74.4 326.51h-4.2M74.4 322.08h-4.2M74.4 317.66h-4.86M74.4 313.23h-4.2M74.4 308.8h-4.2M74.4 304.38h-4.2M74.4 299.95h-4.2M74.4 295.53h-4.86M74.4 291.1h-4.2M74.4 286.68h-4.2M74.4 282.25h-4.2M74.4 277.83h-4.2M74.4 273.4h-4.86M74.4 682.44h-4.86M74.4 648.83h-4.86M74.4 615.22h-4.86M74.4 581.62h-4.86M74.4 548.01h-4.86M74.4 514.4h-4.86M1248.5 263h4.86M1248.5 231.8h4.86M1248.5 200.6h4.86M1248.5 169.4h4.86M1248.5 138.2h4.86M1248.5 107h4.86M1248.5 75.8h4.86M1248.5 471h4.86M1248.5 424.2h4.86M1248.5 377.4h4.86M1248.5 330.6h4.86M1248.5 283.8h4.86" stroke="#000" stroke-width="1.11" fill="none"/><rect x="1239.1" y="75.8" width="9.4" height="187.2" fill="url(#gt)" stroke="#000" stroke-width="1.11"/><rect x="1239.1" y="283.8" width="9.4" height="187.2" fill="url(#gs)" stroke="#000" stroke-width="1.11"/><text x="165.17" y="27.8" font-size="17.17" textLength="96.88" lengthAdjust="spacingAndGlyphs">2026-03-17</text><text x="272.64" y="27.8" font-size="17.17" textLength="96.81" lengthAdjust="spacingAndGlyphs">SOLARSPEL</text><text x="380.05" y="27.8" font-size="17.17" textLength="284.64" lengthAdjust="spacingAndGlyphs">3-24 GHz spectropolarimeter data</text><text x="680.58" y="27.8" font-size="17.17" textLength="82.22" lengthAdjust="spacingAndGlyphs">Stokes I,V</text><text x="778.7" y="27.8" font-size="17.17" textLength="190.06" lengthAdjust="spacingAndGlyphs">48 frequency channels</text><text x="984.65" y="27.8" font-size="17.17" textLength="201.48" lengthAdjust="spacingAndGlyphs">(calibration preliminary)</text><text x="90.49" y="56.7" font-size="14.31" textLength="40.03" lengthAdjust="spacingAndGlyphs">00:00</text><text x="90.49" y="709" font-size="14.31" textLength="40.03" lengthAdjust="spacingAndGlyphs">00:00</text><text x="198.78" y="56.7" font-size="14.31" textLength="40.03" lengthAdjust="spacingAndGlyphs">01:00</text><text x="198.78" y="709" font-size="14.31" textLength="40.03" lengthAdjust="spacingAndGlyphs">01:00</text><text x="307.07" y="56.7" font-size="14.31" textLength="40.03" lengthAdjust="spacingAndGlyphs">02:00</text><text x="307.07" y="709" font-size="14.31" textLength="40.03" lengthAdjust="spacingAndGlyphs">02:00</text><text x="415.36" y="56.7" font-size="14.31" textLength="40.03" lengthAdjust="spacingAndGlyphs">03:00</text><text x="415.36" y="709" font-size="14.31" textLength="40.03" lengthAdjust="spacingAndGlyphs">03:00</text><text x="523.65" y="56.7" font-size="14.31" textLength="40.03" lengthAdjust="spacingAndGlyphs">04:00</text><text x="523.65" y="709" font-size="14.31" textLength="40.03" lengthAdjust="spacingAndGlyphs">04:00</text><text x="631.94" y="56.7" font-size="14.31" textLength="40.03" lengthAdjust="spacingAndGlyphs">05:00</text><text x="631.94" y="709" font-size="14.31" textLength="40.03" lengthAdjust="spacingAndGlyphs">05:00</text><text x="740.23" y="56.7" font-size="14.31" textLength="40.03" lengthAdjust="spacingAndGlyphs">06:00</text><text x="740.23" y="709" font-size="14.31" textLength="40.03" lengthAdjust="spacingAndGlyphs">06:00</text><text x="848.52" y="56.7" font-size="14.31" textLength="40.03" lengthAdjust="spacingAndGlyphs">07:00</text><text x="848.52" y="709" font-size="14.31" textLength="40.03" lengthAdjust="spacingAndGlyphs">07:00</text><text x="956.81" y="56.7" font-size="14.31" textLength="40.03" lengthAdjust="spacingAndGlyphs">08:00</text><text x="956.81" y="709" font-size="14.31" textLength="40.03" lengthAdjust="spacingAndGlyphs">08:00</text><text x="1065.1" y="56.7" font-size="14.31" textLength="40.03" lengthAdjust="spacingAndGlyphs">09:00</text><text x="1065.1" y="709" font-size="14.31" textLength="40.03" lengthAdjust="spacingAndGlyphs">09:00</text><text x="1173.39" y="56.7" font-size="14.31" textLength="40.03" lengthAdjust="spacingAndGlyphs">10:00</text><text x="1173.39" y="709" font-size="14.31" textLength="40.03" lengthAdjust="spacingAndGlyphs">10:00</text><text x="42.81" y="278.7" font-size="14.31" textLength="22.09" lengthAdjust="spacingAndGlyphs">3.0</text><text x="42.81" y="256.57" font-size="14.31" textLength="22.09" lengthAdjust="spacingAndGlyphs">4.0</text><text x="42.81" y="234.44" font-size="14.31" textLength="22.09" lengthAdjust="spacingAndGlyphs">5.0</text><text x="42.81" y="212.32" font-size="14.31" textLength="22.09" lengthAdjust="spacingAndGlyphs">6.0</text><text x="42.81" y="185.76" font-size="14.31" textLength="22.09" lengthAdjust="spacingAndGlyphs">8.0</text><text x="33.97" y="163.64" font-size="14.31" textLength="30.93" lengthAdjust="spacingAndGlyphs">10.0</text><text x="33.97" y="141.51" font-size="14.31" textLength="30.93" lengthAdjust="spacingAndGlyphs">12.0</text><text x="33.97" y="114.96" font-size="14.31" textLength="30.93" lengthAdjust="spacingAndGlyphs">16.0</text><text x="33.97" y="92.83" font-size="14.31" textLength="30.93" lengthAdjust="spacingAndGlyphs">20.0</text><text x="33.97" y="70.7" font-size="14.31" textLength="30.93" lengthAdjust="spacingAndGlyphs">24.0</text><text x="42.81" y="486.7" font-size="14.31" textLength="22.09" lengthAdjust="spacingAndGlyphs">3.0</text><text x="42.81" y="464.57" font-size="14.31" textLength="22.09" lengthAdjust="spacingAndGlyphs">4.0</text><text x="42.81" y="442.44" font-size="14.31" textLength="22.09" lengthAdjust="spacingAndGlyphs">5.0</text><text x="42.81" y="420.32" font-size="14.31" textLength="22.09" lengthAdjust="spacingAndGlyphs">6.0</text><text x="42.81" y="393.76" font-size="14.31" textLength="22.09" lengthAdjust="spacingAndGlyphs">8.0</text><text x="33.97" y="371.64" font-size="14.31" textLength="30.93" lengthAdjust="spacingAndGlyphs">10.0</text><text x="33.97" y="349.51" font-size="14.31" textLength="30.93" lengthAdjust="spacingAndGlyphs">12.0</text><text x="33.97" y="322.96" font-size="14.31" textLength="30.93" lengthAdjust="spacingAndGlyphs">16.0</text><text x="33.97" y="300.83" font-size="14.31" textLength="30.93" lengthAdjust="spacingAndGlyphs">20.0</text><text x="56.06" y="687.74" font-size="14.31" textLength="8.84" lengthAdjust="spacingAndGlyphs">0</text><text x="38.39" y="654.13" font-size="14.31" textLength="26.51" lengthAdjust="spacingAndGlyphs">500</text><text x="29.55" y="620.52" font-size="14.31" textLength="35.35" lengthAdjust="spacingAndGlyphs">1000</text><text x="29.55" y="586.92" font-size="14.31" textLength="35.35" lengthAdjust="spacingAndGlyphs">1500</text><text x="29.55" y="553.31" font-size="14.31" textLength="35.35" lengthAdjust="spacingAndGlyphs">2000</text><text x="29.55" y="519.7" font-size="14.31" textLength="35.35" lengthAdjust="spacingAndGlyphs">2500</text><text x="1258" y="268.3" font-size="14.31" textLength="8.84" lengthAdjust="spacingAndGlyphs">0</text><text x="1258" y="237.1" font-size="14.31" textLength="26.51" lengthAdjust="spacingAndGlyphs">500</text><text x="1258" y="205.9" font-size="14.31" textLength="35.35" lengthAdjust="spacingAndGlyphs">1000</text><text x="1258" y="174.7" font-size="14.31" textLength="35.35" lengthAdjust="spacingAndGlyphs">1500</text><text x="1258" y="143.5" font-size="14.31" textLength="35.35" lengthAdjust="spacingAndGlyphs">2000</text><text x="1258" y="112.3" font-size="14.31" textLength="35.35" lengthAdjust="spacingAndGlyphs">2500</text><text x="1258" y="81.1" font-size="14.31" textLength="35.35" lengthAdjust="spacingAndGlyphs">3000</text><text x="1258" y="476.3" font-size="14.31" textLength="38.15" lengthAdjust="spacingAndGlyphs">−200</text><text x="1258" y="429.5" font-size="14.31" textLength="38.15" lengthAdjust="spacingAndGlyphs">−100</text><text x="1258" y="382.7" font-size="14.31" textLength="8.84" lengthAdjust="spacingAndGlyphs">0</text><text x="1258" y="335.9" font-size="14.31" textLength="26.51" lengthAdjust="spacingAndGlyphs">100</text><text x="1258" y="289.1" font-size="14.31" textLength="26.51" lengthAdjust="spacingAndGlyphs">200</text><text transform="translate(23.2 169.4) rotate(-90)" x="-65.46" y="0" font-size="17.17" textLength="130.91" lengthAdjust="spacingAndGlyphs">Frequency, GHz</text><text transform="translate(23.2 377.4) rotate(-90)" x="-65.46" y="0" font-size="17.17" textLength="130.91" lengthAdjust="spacingAndGlyphs">Frequency, GHz</text><text transform="translate(18.8 585.35) rotate(-90)" x="-77.59" y="0" font-size="17.17" textLength="155.18" lengthAdjust="spacingAndGlyphs">Stokes I,V plot, sfu</text><text transform="translate(1310.6 170.4) rotate(-90)" x="-71.79" y="0" font-size="17.17" textLength="143.57" lengthAdjust="spacingAndGlyphs">Stokes I map, sfu</text><text transform="translate(1314.1 378.1) rotate(-90)" x="-75.03" y="0" font-size="17.17" textLength="150.06" lengthAdjust="spacingAndGlyphs">Stokes V map, sfu</text><text x="1232.6" y="708.7" font-size="15.96" textLength="73.57" lengthAdjust="spacingAndGlyphs">UTC Time</text><rect x="1234.3" y="487.2" width="110" height="176" rx="2.5" fill="#fff" fill-opacity=".8" stroke="#ccc" stroke-width="1.1"/><circle cx="1251.7" cy="498.65" r="3.6" fill="#0000ff"/><text x="1273.6" y="501.85" font-size="12.88" textLength="65.4" lengthAdjust="spacingAndGlyphs">19.69 GHz</text><circle cx="1251.7" cy="517.93" r="3.6" fill="#0519d7"/><text x="1273.6" y="521.13" font-size="12.88" textLength="65.4" lengthAdjust="spacingAndGlyphs">15.69 GHz</text><circle cx="1251.7" cy="537.21" r="3.6" fill="#004182"/><text x="1273.6" y="540.41" font-size="12.88" textLength="65.4" lengthAdjust="spacingAndGlyphs">11.83 GHz</text><circle cx="1251.7" cy="556.49" r="3.6" fill="#005f46"/><text x="1273.6" y="559.69" font-size="12.88" textLength="57.45" lengthAdjust="spacingAndGlyphs">9.83 GHz</text><circle cx="1251.7" cy="575.77" r="3.6" fill="#00870f"/><text x="1273.6" y="578.97" font-size="12.88" textLength="57.45" lengthAdjust="spacingAndGlyphs">7.83 GHz</text><circle cx="1251.7" cy="595.05" r="3.6" fill="#4b5f05"/><text x="1273.6" y="598.25" font-size="12.88" textLength="57.45" lengthAdjust="spacingAndGlyphs">5.90 GHz</text><circle cx="1251.7" cy="614.33" r="3.6" fill="#824105"/><text x="1273.6" y="617.53" font-size="12.88" textLength="57.45" lengthAdjust="spacingAndGlyphs">4.90 GHz</text><circle cx="1251.7" cy="633.61" r="3.6" fill="#c32305"/><text x="1273.6" y="636.81" font-size="12.88" textLength="57.45" lengthAdjust="spacingAndGlyphs">3.90 GHz</text><circle cx="1251.7" cy="652.89" r="3.6" fill="#ff0000"/><text x="1273.6" y="656.09" font-size="12.88" textLength="57.45" lengthAdjust="spacingAndGlyphs">3.00 GHz</text></svg></div></body></html>
